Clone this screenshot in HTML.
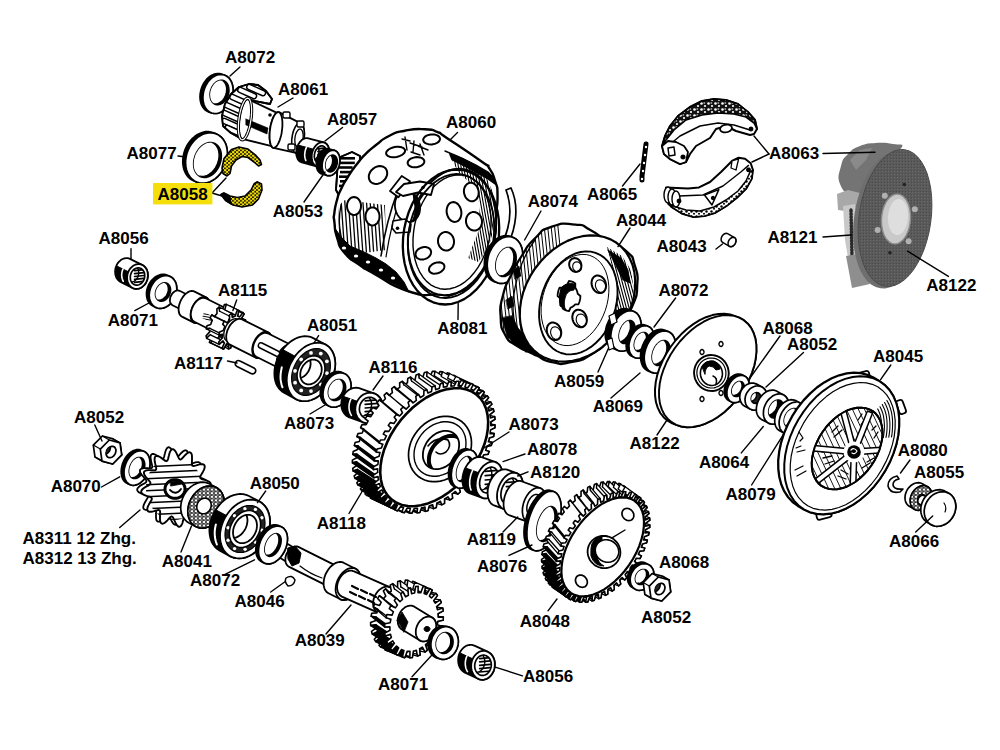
<!DOCTYPE html>
<html><head><meta charset="utf-8"><style>
html,body{margin:0;padding:0;background:#fff;width:1000px;height:750px;overflow:hidden}
svg{position:absolute;left:0;top:0;display:block}
text{font-family:"Liberation Sans",sans-serif;font-weight:bold;font-size:17px;fill:#000}
</style></head><body>
<svg width="1000" height="750" viewBox="0 0 1000 750" stroke-linejoin="round" stroke-linecap="round">
<defs>
<pattern id="lin" width="7" height="6" patternUnits="userSpaceOnUse"><rect width="7" height="6" fill="#111"/><circle cx="1.5" cy="1.5" r="1.3" fill="#fff"/><circle cx="5" cy="4" r="1.1" fill="#fff"/><rect x="3.5" y="0.5" width="1.6" height="1" fill="#fff"/></pattern>
<pattern id="lin2" width="5" height="5" patternUnits="userSpaceOnUse"><rect width="5" height="5" fill="#fff"/><circle cx="1.5" cy="1.5" r="1.2" fill="#000"/><circle cx="4" cy="3.8" r="1" fill="#000"/></pattern>
<pattern id="dotY" width="4" height="3.6" patternUnits="userSpaceOnUse"><rect width="4" height="3.6" fill="#1a1400"/><ellipse cx="1.1" cy="1" rx="1.45" ry="1.2" fill="#f0de0a"/><ellipse cx="3.1" cy="2.8" rx="1.35" ry="1.1" fill="#f0de0a"/></pattern>
<pattern id="dotR" width="4" height="3.6" patternUnits="userSpaceOnUse"><rect width="4" height="3.6" fill="#fff"/><circle cx="2" cy="1.8" r="1.3" fill="none" stroke="#000" stroke-width="0.9"/></pattern>
<pattern id="photoT" width="3" height="3" patternUnits="userSpaceOnUse"><rect width="3" height="3" fill="#5a5a5a"/><rect width="1" height="1" fill="#6a6a6a"/><rect x="2" y="2" width="1" height="1" fill="#4a4a4a"/></pattern>
</defs>
<rect width="1000" height="750" fill="#fff"/>
<path d="M200 96.2 L200.2 93.7 L200.7 91.1 L201.4 88.6 L202.3 86.1 L203.4 83.8 L204.8 81.7 L206.3 79.7 L208 77.9 L209.8 76.5 L211.7 75.3 L213.6 74.4 L215.6 73.8 L217.5 73.5 L219.5 73.6 L221.3 74.1 L224.2 75 L225.9 75.7 L227.5 76.8 L229 78.1 L230.2 79.8 L231.3 81.6 L232.1 83.7 L232.7 86 L233 88.4 L233.1 90.9 L232.9 93.4 L232.5 96 L231.8 98.5 L230.9 100.9 L229.7 103.3 L228.4 105.4 L226.9 107.4 L225.2 109.1 L223.4 110.6 L221.5 111.8 L219.5 112.7 L217.6 113.3 L215.6 113.5 L213.7 113.4 L211.8 113 L209 112.1 L207.2 111.3 L205.6 110.3 L204.2 108.9 L202.9 107.3 L201.8 105.4 L201 103.4 L200.4 101.1 L200.1 98.7Z" fill="#000" stroke="#000" stroke-width="1.7" />
<path d="M224.2 75 L225.9 75.7 L227.5 76.8 L229 78.1 L230.2 79.8 L231.3 81.6 L232.1 83.7 L232.7 86 L233 88.4 L233.1 90.9 L232.9 93.4 L232.5 96 L231.8 98.5 L230.9 100.9 L229.7 103.3 L228.4 105.4 L226.9 107.4 L225.2 109.1 L223.4 110.6 L221.5 111.8 L219.5 112.7 L217.6 113.3 L215.6 113.5 L213.7 113.4 L211.8 113 L210.1 112.3 L208.5 111.2 L207 109.9 L205.8 108.2 L204.7 106.4 L203.9 104.3 L203.3 102 L203 99.6 L202.9 97.1 L203.1 94.6 L203.5 92 L204.2 89.5 L205.1 87.1 L206.3 84.7 L207.6 82.6 L209.1 80.6 L210.8 78.9 L212.6 77.4 L214.5 76.2 L216.5 75.3 L218.4 74.7 L220.4 74.5 L222.3 74.6Z" fill="#fff" stroke="#000" stroke-width="1.7" />
<clipPath id="c1"><path d="M223.4 80.6 L224.4 81.1 L225.4 81.7 L226.3 82.6 L227.1 83.6 L227.8 84.8 L228.3 86.1 L228.6 87.5 L228.8 89 L228.9 90.5 L228.8 92.1 L228.5 93.7 L228.1 95.3 L227.5 96.8 L226.8 98.3 L225.9 99.6 L225 100.9 L223.9 101.9 L222.8 102.9 L221.6 103.6 L220.4 104.2 L219.2 104.5 L218 104.7 L216.8 104.6 L215.6 104.4 L214.6 103.9 L213.6 103.3 L212.7 102.4 L211.9 101.4 L211.2 100.2 L210.7 98.9 L210.4 97.5 L210.2 96 L210.1 94.5 L210.2 92.9 L210.5 91.3 L210.9 89.7 L211.5 88.2 L212.2 86.7 L213.1 85.4 L214 84.1 L215.1 83.1 L216.2 82.1 L217.4 81.4 L218.6 80.8 L219.8 80.5 L221 80.3 L222.2 80.4Z"/></clipPath>
<path d="M223.4 80.6 L224.4 81.1 L225.4 81.7 L226.3 82.6 L227.1 83.6 L227.8 84.8 L228.3 86.1 L228.6 87.5 L228.8 89 L228.9 90.5 L228.8 92.1 L228.5 93.7 L228.1 95.3 L227.5 96.8 L226.8 98.3 L225.9 99.6 L225 100.9 L223.9 101.9 L222.8 102.9 L221.6 103.6 L220.4 104.2 L219.2 104.5 L218 104.7 L216.8 104.6 L215.6 104.4 L214.6 103.9 L213.6 103.3 L212.7 102.4 L211.9 101.4 L211.2 100.2 L210.7 98.9 L210.4 97.5 L210.2 96 L210.1 94.5 L210.2 92.9 L210.5 91.3 L210.9 89.7 L211.5 88.2 L212.2 86.7 L213.1 85.4 L214 84.1 L215.1 83.1 L216.2 82.1 L217.4 81.4 L218.6 80.8 L219.8 80.5 L221 80.3 L222.2 80.4Z" fill="#000" stroke="#000" stroke-width="1.7" />
<g clip-path="url(#c1)"><path d="M221.1 79.9 L222.2 80.3 L223.2 81 L224.1 81.8 L224.8 82.9 L225.5 84 L226 85.3 L226.4 86.7 L226.6 88.2 L226.6 89.8 L226.5 91.4 L226.2 93 L225.8 94.5 L225.2 96.1 L224.5 97.5 L223.6 98.9 L222.7 100.1 L221.7 101.2 L220.5 102.1 L219.4 102.9 L218.2 103.4 L216.9 103.8 L215.7 104 L214.5 103.9 L213.4 103.6 L212.3 103.2 L211.3 102.5 L210.4 101.7 L209.6 100.7 L208.9 99.5 L208.4 98.2 L208.1 96.8 L207.9 95.3 L207.8 93.7 L207.9 92.1 L208.2 90.6 L208.7 89 L209.2 87.4 L209.9 86 L210.8 84.6 L211.7 83.4 L212.8 82.3 L213.9 81.4 L215.1 80.6 L216.3 80.1 L217.5 79.7 L218.7 79.6 L219.9 79.6Z" fill="#fff" stroke="#000" stroke-width="1.36" /></g>
<path d="M222 116 L225 104 L231 94 L239 87 L249 84 L258 85 L266 91 L272 99 L270 104 L250 100 L247 137 L240 138 L231 133 L223 126Z" fill="#fff" stroke="#000" stroke-width="1.8" />
<clipPath id="pc1"><path d="M222 116 L225 104 L231 94 L239 87 L249 84 L258 85 L266 91 L272 99 L270 104 L250 100 L247 137 L240 138 L231 133 L223 126Z"/></clipPath><g clip-path="url(#pc1)"><rect x="224" y="101.4" width="20" height="5.2" rx="2.5" fill="#fff" stroke="#000" stroke-width="1.5" transform="rotate(24 224 104)"/><rect x="222" y="109.4" width="20" height="5.2" rx="2.5" fill="#fff" stroke="#000" stroke-width="1.5" transform="rotate(24 222 112)"/><rect x="222" y="117.4" width="20" height="5.2" rx="2.5" fill="#fff" stroke="#000" stroke-width="1.5" transform="rotate(24 222 120)"/><rect x="225" y="124.4" width="20" height="5.2" rx="2.5" fill="#fff" stroke="#000" stroke-width="1.5" transform="rotate(24 225 127)"/><rect x="230" y="93.4" width="20" height="5.2" rx="2.5" fill="#fff" stroke="#000" stroke-width="1.5" transform="rotate(24 230 96)"/><rect x="238" y="86.4" width="20" height="5.2" rx="2.5" fill="#fff" stroke="#000" stroke-width="1.5" transform="rotate(24 238 89)"/><rect x="247" y="83.4" width="20" height="5.2" rx="2.5" fill="#fff" stroke="#000" stroke-width="1.5" transform="rotate(24 247 86)"/></g>
<path d="M222 116 L225 104 L231 94 L239 87 L249 84 L258 85 L266 91 L272 99 L270 104 L250 100 L247 137 L240 138 L231 133 L223 126Z" fill="none" stroke="#000" stroke-width="1.8" />
<path d="M238.9 128.2 L238.9 125.9 L239 123.4 L239.2 120.8 L239.6 118.2 L240 115.7 L240.5 113.1 L241 110.7 L241.7 108.4 L242.4 106.3 L243.1 104.5 L243.9 102.8 L244.7 101.5 L245.5 100.4 L246.3 99.7 L247 99.3 L247.8 99.2 L248.5 99.5 L276 112.4 L276.6 112.9 L277.1 113.7 L277.5 114.8 L277.9 116.1 L278.2 117.6 L278.4 119.3 L278.5 121.2 L278.5 123.2 L278.4 125.3 L278.2 127.5 L278 129.7 L277.6 131.9 L277.2 134 L276.7 136.1 L276.1 138 L275.5 139.8 L274.8 141.4 L274.1 142.8 L273.4 143.9 L272.7 144.8 L272 145.4 L271.3 145.8 L270.6 145.8 L242.2 138.8 L241.5 138.5 L240.9 137.9 L240.3 137 L239.9 135.8 L239.5 134.2 L239.2 132.5 L239 130.4Z" fill="#fff" stroke="#000" stroke-width="1.8" />
<path d="M246 119 L268 128 L267 134 L246 125Z" fill="#000" stroke="#000" stroke-width="0.6" />
<path d="M247.9 98.2 L248.7 98.5 L249.4 99.1 L250 100.1 L250.5 101.4 L250.9 103 L251.3 104.9 L251.5 107 L251.6 109.3 L251.6 111.8 L251.5 114.4 L251.3 117.1 L250.9 119.8 L250.5 122.5 L250 125.2 L249.4 127.7 L248.7 130.1 L247.9 132.3 L247.1 134.3 L246.3 136 L245.4 137.4 L244.6 138.5 L243.7 139.3 L242.9 139.7 L242.1 139.8 L241.3 139.5 L240.6 138.9 L240 137.9 L239.5 136.6 L239.1 135 L238.7 133.1 L238.5 131 L238.4 128.7 L238.4 126.2 L238.5 123.6 L238.7 120.9 L239.1 118.2 L239.5 115.5 L240 112.8 L240.6 110.3 L241.3 107.9 L242.1 105.7 L242.9 103.7 L243.7 102 L244.6 100.6 L245.4 99.5 L246.3 98.7 L247.1 98.3Z" fill="none" stroke="#000" stroke-width="3.2" />
<path d="M247.9 98.2 L248.7 98.5 L249.4 99.1 L250 100.1 L250.5 101.4 L250.9 103 L251.3 104.9 L251.5 107 L251.6 109.3 L251.6 111.8 L251.5 114.4 L251.3 117.1 L250.9 119.8 L250.5 122.5 L250 125.2 L249.4 127.7 L248.7 130.1 L247.9 132.3 L247.1 134.3 L246.3 136 L245.4 137.4 L244.6 138.5 L243.7 139.3 L242.9 139.7 L242.1 139.8 L241.3 139.5 L240.6 138.9 L240 137.9 L239.5 136.6 L239.1 135 L238.7 133.1 L238.5 131 L238.4 128.7 L238.4 126.2 L238.5 123.6 L238.7 120.9 L239.1 118.2 L239.5 115.5 L240 112.8 L240.6 110.3 L241.3 107.9 L242.1 105.7 L242.9 103.7 L243.7 102 L244.6 100.6 L245.4 99.5 L246.3 98.7 L247.1 98.3Z" fill="none" stroke="#fff" stroke-width="1.2" />
<circle cx="270" cy="115" r="1.8" fill="#000"/>
<path d="M269.6 136 L269.6 133.8 L269.8 131.5 L270.1 129.2 L270.4 126.8 L270.9 124.6 L271.5 122.4 L272.1 120.4 L272.8 118.5 L273.6 116.8 L274.4 115.4 L275.2 114.1 L276 113.2 L276.9 112.6 L277.7 112.2 L278.5 112.2 L279.3 112.4 L300.8 123.4 L301.6 123.9 L302.2 124.6 L302.8 125.6 L303.3 126.7 L303.7 128.1 L304 129.6 L304.2 131.3 L304.3 133.1 L304.3 135 L304.2 136.9 L303.9 138.8 L303.6 140.8 L303.2 142.7 L302.7 144.5 L302.1 146.2 L301.4 147.7 L300.7 149.1 L300 150.3 L299.2 151.3 L298.3 152 L297.5 152.6 L296.7 152.8 L295.9 152.9 L273.5 147.8 L272.7 147.6 L272 147 L271.4 146.1 L270.9 145 L270.4 143.6 L270 142 L269.8 140.2 L269.6 138.2Z" fill="#fff" stroke="#000" stroke-width="1.8" />
<path d="M278.5 112.2 L279.3 112.4 L280 113 L280.6 113.9 L281.1 115 L281.6 116.4 L282 118 L282.2 119.8 L282.4 121.8 L282.4 124 L282.4 126.2 L282.2 128.5 L281.9 130.8 L281.6 133.2 L281.1 135.4 L280.5 137.6 L279.9 139.6 L279.2 141.5 L278.4 143.2 L277.6 144.6 L276.8 145.9 L276 146.8 L275.1 147.4 L274.3 147.8 L273.5 147.8 L272.7 147.6 L272 147 L271.4 146.1 L270.9 145 L270.4 143.6 L270 142 L269.8 140.2 L269.6 138.2 L269.6 136 L269.6 133.8 L269.8 131.5 L270.1 129.2 L270.4 126.8 L270.9 124.6 L271.5 122.4 L272.1 120.4 L272.8 118.5 L273.6 116.8 L274.4 115.4 L275.2 114.1 L276 113.2 L276.9 112.6 L277.7 112.2Z" fill="#fff" stroke="#000" stroke-width="1.8" />
<path d="M300.1 123.1 L300.8 123.4 L301.6 123.9 L302.2 124.6 L302.8 125.6 L303.3 126.7 L303.7 128.1 L304 129.6 L304.2 131.3 L304.3 133.1 L304.3 135 L304.2 136.9 L303.9 138.8 L303.6 140.8 L303.2 142.7 L302.7 144.5 L302.1 146.2 L301.4 147.7 L300.7 149.1 L300 150.3 L299.2 151.3 L298.3 152 L297.5 152.6 L296.7 152.8 L295.9 152.9 L295.2 152.6 L294.4 152.1 L293.8 151.4 L293.2 150.4 L292.7 149.3 L292.3 147.9 L292 146.4 L291.8 144.7 L291.7 142.9 L291.7 141 L291.8 139.1 L292.1 137.2 L292.4 135.2 L292.8 133.3 L293.3 131.5 L293.9 129.8 L294.6 128.3 L295.3 126.9 L296 125.7 L296.8 124.7 L297.7 124 L298.5 123.4 L299.3 123.2Z" fill="#fff" stroke="#000" stroke-width="1.6" />
<path d="M300.3 129.1 L300.8 129.2 L301.2 129.5 L301.7 130 L302.1 130.6 L302.4 131.3 L302.7 132.1 L302.9 133 L303.1 134 L303.1 135.1 L303.2 136.2 L303.1 137.4 L303 138.6 L302.8 139.7 L302.5 140.8 L302.2 141.9 L301.8 142.9 L301.4 143.9 L300.9 144.7 L300.4 145.4 L299.9 146 L299.4 146.4 L298.8 146.8 L298.3 146.9 L297.7 146.9 L297.2 146.8 L296.8 146.5 L296.3 146 L295.9 145.4 L295.6 144.7 L295.3 143.9 L295.1 143 L294.9 142 L294.9 140.9 L294.8 139.8 L294.9 138.6 L295 137.4 L295.2 136.3 L295.5 135.2 L295.8 134.1 L296.2 133.1 L296.6 132.1 L297.1 131.3 L297.6 130.6 L298.1 130 L298.6 129.6 L299.2 129.2 L299.7 129.1Z" fill="#fff" stroke="#000" stroke-width="1.3" />
<rect x="283" y="112" width="7" height="6" rx="1.5" fill="#fff" stroke="#000" stroke-width="1.4"/>
<rect x="297" y="121" width="7" height="6" rx="1.5" fill="#fff" stroke="#000" stroke-width="1.4"/>
<rect x="288" y="144" width="7" height="6" rx="1.5" fill="#fff" stroke="#000" stroke-width="1.4"/>
<rect x="301" y="146" width="7" height="6" rx="1.5" fill="#fff" stroke="#000" stroke-width="1.4"/>
<path d="M296.2 152.9 L296.3 151.4 L296.5 149.8 L296.8 148.2 L297.3 146.6 L298 145.1 L298.7 143.7 L299.6 142.4 L300.5 141.3 L301.5 140.3 L302.6 139.4 L303.7 138.8 L304.9 138.4 L306 138.1 L307.2 138.1 L308.3 138.3 L323.7 142.4 L324.8 142.8 L325.8 143.4 L326.6 144.2 L327.4 145.1 L328.1 146.3 L328.6 147.5 L329 148.9 L329.2 150.4 L329.3 151.9 L329.3 153.5 L329.1 155.1 L328.7 156.7 L328.2 158.3 L327.6 159.8 L326.8 161.2 L326 162.4 L325 163.6 L324 164.6 L322.9 165.4 L321.8 166.1 L320.7 166.5 L319.5 166.7 L318.4 166.8 L317.3 166.6 L301.8 162.4 L300.8 162 L299.8 161.5 L298.9 160.7 L298.1 159.7 L297.5 158.6 L297 157.3 L296.6 156 L296.3 154.5Z" fill="#fff" stroke="#000" stroke-width="1.8" />
<clipPath id="pc2"><path d="M296.2 152.9 L296.3 151.4 L296.5 149.8 L296.8 148.2 L297.3 146.6 L298 145.1 L298.7 143.7 L299.6 142.4 L300.5 141.3 L301.5 140.3 L302.6 139.4 L303.7 138.8 L304.9 138.4 L306 138.1 L307.2 138.1 L308.3 138.3 L323.7 142.4 L324.8 142.8 L325.8 143.4 L326.6 144.2 L327.4 145.1 L328.1 146.3 L328.6 147.5 L329 148.9 L329.2 150.4 L329.3 151.9 L329.3 153.5 L329.1 155.1 L328.7 156.7 L328.2 158.3 L327.6 159.8 L326.8 161.2 L326 162.4 L325 163.6 L324 164.6 L322.9 165.4 L321.8 166.1 L320.7 166.5 L319.5 166.7 L318.4 166.8 L317.3 166.6 L301.8 162.4 L300.8 162 L299.8 161.5 L298.9 160.7 L298.1 159.7 L297.5 158.6 L297 157.3 L296.6 156 L296.3 154.5Z"/></clipPath><g clip-path="url(#pc2)"><path d="M316.6 166.3 L315.9 166 L315.2 165.6 L314.7 165.1 L314.1 164.5 L313.6 163.9 L313.1 163.1 L312.7 162.3 L312.4 161.5 L312.1 160.6 L311.9 159.6 L311.8 158.6 L311.7 157.6 L311.7 156.6 L311.7 155.5 L311.9 154.4 L312 153.4 L312.3 152.3 L312.6 151.3 L313 150.2 L313.4 149.2 L298 145.1 L297.5 146.1 L297.1 147.1 L296.8 148.2 L296.6 149.2 L296.4 150.3 L296.3 151.4 L296.2 152.4 L296.2 153.5 L296.3 154.5 L296.5 155.5 L296.7 156.4 L297 157.3 L297.3 158.2 L297.7 159 L298.1 159.7 L298.6 160.4 L299.2 161 L299.8 161.5 L300.4 161.9 L301.1 162.2Z" fill="#000" stroke="#000" stroke-width="1" /></g>
<clipPath id="pc3"><path d="M296.2 152.9 L296.3 151.4 L296.5 149.8 L296.8 148.2 L297.3 146.6 L298 145.1 L298.7 143.7 L299.6 142.4 L300.5 141.3 L301.5 140.3 L302.6 139.4 L303.7 138.8 L304.9 138.4 L306 138.1 L307.2 138.1 L308.3 138.3 L323.7 142.4 L324.8 142.8 L325.8 143.4 L326.6 144.2 L327.4 145.1 L328.1 146.3 L328.6 147.5 L329 148.9 L329.2 150.4 L329.3 151.9 L329.3 153.5 L329.1 155.1 L328.7 156.7 L328.2 158.3 L327.6 159.8 L326.8 161.2 L326 162.4 L325 163.6 L324 164.6 L322.9 165.4 L321.8 166.1 L320.7 166.5 L319.5 166.7 L318.4 166.8 L317.3 166.6 L301.8 162.4 L300.8 162 L299.8 161.5 L298.9 160.7 L298.1 159.7 L297.5 158.6 L297 157.3 L296.6 156 L296.3 154.5Z"/></clipPath><g clip-path="url(#pc3)"><path d="M305.8 160.5 L305.5 159.6 L305.2 158.7 L305 157.8 L304.8 156.8 L304.7 155.7 L304.7 154.7 L304.8 153.6 L304.9 152.6 L305.1 151.5 L305.3 150.4 L305.6 149.4 L306 148.4 L306.5 147.4" fill="none" stroke="#fff" stroke-width="1.6" /></g>
<path d="M323.7 142.4 L324.8 142.8 L325.8 143.4 L326.6 144.2 L327.4 145.1 L328.1 146.3 L328.6 147.5 L329 148.9 L329.2 150.4 L329.3 151.9 L329.3 153.5 L329.1 155.1 L328.7 156.7 L328.2 158.3 L327.6 159.8 L326.8 161.2 L326 162.4 L325 163.6 L324 164.6 L322.9 165.4 L321.8 166.1 L320.7 166.5 L319.5 166.7 L318.4 166.8 L317.3 166.6 L316.2 166.2 L315.2 165.6 L314.4 164.8 L313.6 163.9 L312.9 162.7 L312.4 161.5 L312 160.1 L311.8 158.6 L311.7 157.1 L311.7 155.5 L311.9 153.9 L312.3 152.3 L312.8 150.7 L313.4 149.2 L314.2 147.8 L315 146.6 L316 145.4 L317 144.4 L318.1 143.6 L319.2 142.9 L320.3 142.5 L321.5 142.3 L322.6 142.2Z" fill="#fff" stroke="#000" stroke-width="1.8" />
<path d="M322.8 146 L323.5 146.3 L324.2 146.7 L324.8 147.3 L325.3 148 L325.8 148.7 L326.2 149.6 L326.4 150.6 L326.6 151.6 L326.7 152.7 L326.6 153.8 L326.5 154.9 L326.2 156 L325.9 157.1 L325.5 158.2 L324.9 159.2 L324.3 160.1 L323.7 160.9 L323 161.6 L322.2 162.1 L321.4 162.6 L320.6 162.9 L319.8 163.1 L319 163.1 L318.2 163 L317.5 162.7 L316.8 162.3 L316.2 161.7 L315.7 161 L315.2 160.3 L314.8 159.4 L314.6 158.4 L314.4 157.4 L314.3 156.3 L314.4 155.2 L314.5 154.1 L314.8 153 L315.1 151.9 L315.5 150.8 L316.1 149.8 L316.7 148.9 L317.3 148.1 L318 147.4 L318.8 146.9 L319.6 146.4 L320.4 146.1 L321.2 145.9 L322 145.9Z" fill="#fff" stroke="#000" stroke-width="1.7" />
<clipPath id="pc4"><path d="M322.8 146 L323.5 146.3 L324.2 146.7 L324.8 147.3 L325.3 148 L325.8 148.7 L326.2 149.6 L326.4 150.6 L326.6 151.6 L326.7 152.7 L326.6 153.8 L326.5 154.9 L326.2 156 L325.9 157.1 L325.5 158.2 L324.9 159.2 L324.3 160.1 L323.7 160.9 L323 161.6 L322.2 162.1 L321.4 162.6 L320.6 162.9 L319.8 163.1 L319 163.1 L318.2 163 L317.5 162.7 L316.8 162.3 L316.2 161.7 L315.7 161 L315.2 160.3 L314.8 159.4 L314.6 158.4 L314.4 157.4 L314.3 156.3 L314.4 155.2 L314.5 154.1 L314.8 153 L315.1 151.9 L315.5 150.8 L316.1 149.8 L316.7 148.9 L317.3 148.1 L318 147.4 L318.8 146.9 L319.6 146.4 L320.4 146.1 L321.2 145.9 L322 145.9Z"/></clipPath><g clip-path="url(#pc4)"><path d="M318 148.8L325.7 147.8M318 151.6L325.7 150.6M318 154.5L325.7 153.5M318 157.4L325.7 156.4M318 160.2L325.7 159.2" stroke="#000" stroke-width="1.7" fill="none"/></g>
<clipPath id="pc5"><path d="M322.8 146 L323.5 146.3 L324.2 146.7 L324.8 147.3 L325.3 148 L325.8 148.7 L326.2 149.6 L326.4 150.6 L326.6 151.6 L326.7 152.7 L326.6 153.8 L326.5 154.9 L326.2 156 L325.9 157.1 L325.5 158.2 L324.9 159.2 L324.3 160.1 L323.7 160.9 L323 161.6 L322.2 162.1 L321.4 162.6 L320.6 162.9 L319.8 163.1 L319 163.1 L318.2 163 L317.5 162.7 L316.8 162.3 L316.2 161.7 L315.7 161 L315.2 160.3 L314.8 159.4 L314.6 158.4 L314.4 157.4 L314.3 156.3 L314.4 155.2 L314.5 154.1 L314.8 153 L315.1 151.9 L315.5 150.8 L316.1 149.8 L316.7 148.9 L317.3 148.1 L318 147.4 L318.8 146.9 L319.6 146.4 L320.4 146.1 L321.2 145.9 L322 145.9Z"/></clipPath><g clip-path="url(#pc5)"><path d="M315 144 L315.8 144.3 L316.4 144.7 L317.1 145.2 L317.6 145.9 L318.1 146.7 L318.4 147.5 L318.7 148.5 L318.9 149.5 L318.9 150.6 L318.9 151.7 L318.8 152.9 L318.5 154 L318.2 155.1 L317.7 156.1 L317.2 157.1 L316.6 158 L316 158.8 L315.2 159.5 L314.5 160.1 L313.7 160.5 L312.9 160.8 L312.1 161 L311.3 161 L310.5 160.9 L309.8 160.6 L309.1 160.2 L308.5 159.6 L307.9 159 L307.5 158.2 L307.1 157.3 L306.8 156.4 L306.7 155.3 L306.6 154.2 L306.6 153.1 L306.8 152 L307 150.9 L307.4 149.8 L307.8 148.8 L308.3 147.8 L308.9 146.9 L309.6 146.1 L310.3 145.4 L311.1 144.8 L311.9 144.3 L312.7 144 L313.5 143.9 L314.3 143.8Z" fill="none" stroke="#000" stroke-width="1.4" /></g>
<path d="M338 158 L352 152 L360 156 L360 170 L354 182 L346 194 L340 197 L336 190 L337 175Z" fill="#fff" stroke="#000" stroke-width="1.8" />
<clipPath id="pc6"><path d="M338 158 L352 152 L360 156 L360 170 L354 182 L346 194 L340 197 L336 190 L337 175Z"/></clipPath><g clip-path="url(#pc6)"><rect x="339" y="157.0" width="16.0" height="2.6" fill="#000"/><rect x="340" y="161.6" width="14.8" height="2.6" fill="#000"/><rect x="339" y="166.2" width="13.6" height="2.6" fill="#000"/><rect x="340" y="170.8" width="12.4" height="2.6" fill="#000"/><rect x="339" y="175.4" width="11.2" height="2.6" fill="#000"/><rect x="340" y="180.0" width="10.0" height="2.6" fill="#000"/><rect x="339" y="184.6" width="8.8" height="2.6" fill="#000"/><rect x="340" y="189.2" width="7.6" height="2.6" fill="#000"/></g>
<path d="M338 158 L352 152 L360 156 L360 170 L354 182 L346 194 L340 197 L336 190 L337 175Z" fill="none" stroke="#000" stroke-width="1.8" />
<path d="M316.3 164.2 L316.4 162.6 L316.6 160.9 L317 159.2 L317.5 157.6 L318.1 156.1 L318.9 154.6 L319.8 153.3 L320.7 152.1 L321.8 151 L322.9 150.1 L324 149.5 L325.2 149 L326.3 148.7 L327.5 148.7 L328.6 148.9 L334.4 150.4 L335.4 150.8 L336.4 151.4 L337.3 152.2 L338 153.2 L338.7 154.4 L339.2 155.7 L339.6 157.1 L339.8 158.6 L339.9 160.2 L339.8 161.9 L339.6 163.5 L339.2 165.2 L338.7 166.8 L338.1 168.4 L337.3 169.8 L336.4 171.2 L335.5 172.4 L334.4 173.4 L333.3 174.3 L332.2 175 L331 175.4 L329.9 175.7 L328.7 175.7 L327.6 175.6 L321.8 174 L320.8 173.6 L319.8 173 L319 172.2 L318.2 171.2 L317.5 170.1 L317 168.8 L316.6 167.3 L316.4 165.8Z" fill="#000" stroke="#000" stroke-width="1.7" />
<path d="M334.4 150.4 L335.4 150.8 L336.4 151.4 L337.3 152.2 L338 153.2 L338.7 154.4 L339.2 155.7 L339.6 157.1 L339.8 158.6 L339.9 160.2 L339.8 161.9 L339.6 163.5 L339.2 165.2 L338.7 166.8 L338.1 168.4 L337.3 169.8 L336.4 171.2 L335.5 172.4 L334.4 173.4 L333.3 174.3 L332.2 175 L331 175.4 L329.9 175.7 L328.7 175.7 L327.6 175.6 L326.6 175.2 L325.6 174.6 L324.7 173.8 L324 172.8 L323.3 171.6 L322.8 170.3 L322.4 168.9 L322.2 167.4 L322.1 165.8 L322.2 164.1 L322.4 162.5 L322.8 160.8 L323.3 159.2 L323.9 157.6 L324.7 156.2 L325.6 154.8 L326.5 153.6 L327.6 152.6 L328.7 151.7 L329.8 151 L331 150.6 L332.1 150.3 L333.3 150.3Z" fill="#fff" stroke="#000" stroke-width="1.7" />
<clipPath id="c2"><path d="M333.7 155.3 L334.4 155.5 L335 155.9 L335.6 156.5 L336.1 157.1 L336.5 157.9 L336.8 158.7 L337.1 159.6 L337.2 160.6 L337.3 161.7 L337.2 162.8 L337.1 163.8 L336.8 164.9 L336.5 166 L336.1 167 L335.6 168 L335 168.8 L334.4 169.6 L333.7 170.3 L333 170.9 L332.3 171.3 L331.5 171.6 L330.8 171.8 L330 171.8 L329.3 171.7 L328.6 171.5 L328 171.1 L327.4 170.5 L326.9 169.9 L326.5 169.1 L326.2 168.3 L325.9 167.4 L325.8 166.4 L325.7 165.3 L325.8 164.2 L325.9 163.2 L326.2 162.1 L326.5 161 L326.9 160 L327.4 159 L328 158.2 L328.6 157.4 L329.3 156.7 L330 156.1 L330.7 155.7 L331.5 155.4 L332.2 155.2 L333 155.2Z"/></clipPath>
<path d="M333.7 155.3 L334.4 155.5 L335 155.9 L335.6 156.5 L336.1 157.1 L336.5 157.9 L336.8 158.7 L337.1 159.6 L337.2 160.6 L337.3 161.7 L337.2 162.8 L337.1 163.8 L336.8 164.9 L336.5 166 L336.1 167 L335.6 168 L335 168.8 L334.4 169.6 L333.7 170.3 L333 170.9 L332.3 171.3 L331.5 171.6 L330.8 171.8 L330 171.8 L329.3 171.7 L328.6 171.5 L328 171.1 L327.4 170.5 L326.9 169.9 L326.5 169.1 L326.2 168.3 L325.9 167.4 L325.8 166.4 L325.7 165.3 L325.8 164.2 L325.9 163.2 L326.2 162.1 L326.5 161 L326.9 160 L327.4 159 L328 158.2 L328.6 157.4 L329.3 156.7 L330 156.1 L330.7 155.7 L331.5 155.4 L332.2 155.2 L333 155.2Z" fill="#000" stroke="#000" stroke-width="1.7" />
<g clip-path="url(#c2)"><path d="M329.1 154 L329.7 154.3 L330.4 154.7 L330.9 155.2 L331.4 155.9 L331.8 156.6 L332.2 157.5 L332.4 158.4 L332.6 159.4 L332.6 160.4 L332.6 161.5 L332.4 162.6 L332.2 163.7 L331.8 164.7 L331.4 165.8 L330.9 166.7 L330.4 167.6 L329.7 168.4 L329.1 169.1 L328.4 169.6 L327.6 170.1 L326.9 170.4 L326.1 170.6 L325.4 170.6 L324.7 170.5 L324 170.2 L323.4 169.8 L322.8 169.3 L322.3 168.7 L321.9 167.9 L321.6 167.1 L321.3 166.1 L321.2 165.1 L321.1 164.1 L321.2 163 L321.3 161.9 L321.6 160.8 L321.9 159.8 L322.3 158.8 L322.8 157.8 L323.4 156.9 L324 156.1 L324.7 155.4 L325.4 154.9 L326.1 154.4 L326.9 154.1 L327.6 154 L328.4 153.9Z" fill="#fff" stroke="#000" stroke-width="1.36" /></g>
<path d="M182.8 162.4 L182.9 159.2 L183.3 155.9 L184.1 152.6 L185.2 149.4 L186.6 146.3 L188.3 143.4 L190.3 140.7 L192.5 138.3 L194.9 136.3 L197.5 134.5 L200.2 133.2 L202.9 132.3 L205.6 131.7 L208.3 131.7 L211 132 L213.5 132.8 L216.2 133.9 L218.6 135.1 L220.7 136.7 L222.6 138.6 L224.2 140.9 L225.5 143.4 L226.5 146.3 L227.1 149.3 L227.4 152.4 L227.4 155.7 L226.9 159 L226.2 162.3 L225 165.5 L223.6 168.6 L221.9 171.5 L219.9 174.1 L217.7 176.5 L215.3 178.6 L212.7 180.3 L210.1 181.7 L207.3 182.6 L204.6 183.1 L201.9 183.2 L199.3 182.9 L196.8 182.1 L194 181 L191.6 179.8 L189.5 178.2 L187.6 176.3 L186 174 L184.7 171.4 L183.7 168.6 L183.1 165.6Z" fill="#000" stroke="#000" stroke-width="1.7" />
<path d="M216.2 133.9 L218.6 135.1 L220.7 136.7 L222.6 138.6 L224.2 140.9 L225.5 143.4 L226.5 146.3 L227.1 149.3 L227.4 152.4 L227.4 155.7 L226.9 159 L226.2 162.3 L225 165.5 L223.6 168.6 L221.9 171.5 L219.9 174.1 L217.7 176.5 L215.3 178.6 L212.7 180.3 L210.1 181.7 L207.3 182.6 L204.6 183.1 L201.9 183.2 L199.3 182.9 L196.8 182.1 L194.4 180.9 L192.3 179.3 L190.4 177.4 L188.8 175.1 L187.5 172.6 L186.5 169.7 L185.9 166.7 L185.6 163.6 L185.6 160.3 L186.1 157 L186.8 153.7 L188 150.5 L189.4 147.4 L191.1 144.5 L193.1 141.9 L195.3 139.5 L197.7 137.4 L200.3 135.7 L202.9 134.3 L205.7 133.4 L208.4 132.9 L211.1 132.8 L213.7 133.1Z" fill="#fff" stroke="#000" stroke-width="1.7" />
<clipPath id="c3"><path d="M214.2 143.3 L215.8 144.1 L217.1 145.1 L218.3 146.4 L219.4 148 L220.2 149.7 L220.8 151.6 L221.2 153.7 L221.3 155.9 L221.2 158.1 L220.9 160.4 L220.3 162.6 L219.6 164.9 L218.6 167 L217.4 169 L216.1 170.9 L214.6 172.6 L213 174 L211.3 175.2 L209.5 176.2 L207.7 176.9 L205.9 177.3 L204.1 177.4 L202.4 177.2 L200.8 176.7 L199.2 175.9 L197.9 174.9 L196.7 173.6 L195.6 172 L194.8 170.3 L194.2 168.4 L193.8 166.3 L193.7 164.1 L193.8 161.9 L194.1 159.6 L194.7 157.4 L195.4 155.1 L196.4 153 L197.6 151 L198.9 149.1 L200.4 147.4 L202 146 L203.7 144.8 L205.5 143.8 L207.3 143.1 L209.1 142.7 L210.9 142.6 L212.6 142.8Z"/></clipPath>
<path d="M214.2 143.3 L215.8 144.1 L217.1 145.1 L218.3 146.4 L219.4 148 L220.2 149.7 L220.8 151.6 L221.2 153.7 L221.3 155.9 L221.2 158.1 L220.9 160.4 L220.3 162.6 L219.6 164.9 L218.6 167 L217.4 169 L216.1 170.9 L214.6 172.6 L213 174 L211.3 175.2 L209.5 176.2 L207.7 176.9 L205.9 177.3 L204.1 177.4 L202.4 177.2 L200.8 176.7 L199.2 175.9 L197.9 174.9 L196.7 173.6 L195.6 172 L194.8 170.3 L194.2 168.4 L193.8 166.3 L193.7 164.1 L193.8 161.9 L194.1 159.6 L194.7 157.4 L195.4 155.1 L196.4 153 L197.6 151 L198.9 149.1 L200.4 147.4 L202 146 L203.7 144.8 L205.5 143.8 L207.3 143.1 L209.1 142.7 L210.9 142.6 L212.6 142.8Z" fill="#000" stroke="#000" stroke-width="1.7" />
<g clip-path="url(#c3)"><path d="M212 142.4 L213.5 143.2 L214.9 144.2 L216.1 145.5 L217.1 147.1 L218 148.8 L218.6 150.7 L218.9 152.8 L219.1 155 L219 157.2 L218.7 159.5 L218.1 161.8 L217.3 164 L216.3 166.1 L215.2 168.1 L213.8 170 L212.3 171.7 L210.7 173.1 L209 174.3 L207.3 175.3 L205.5 176 L203.7 176.4 L201.9 176.5 L200.2 176.3 L198.5 175.8 L197 175 L195.6 174 L194.4 172.7 L193.4 171.1 L192.6 169.4 L192 167.5 L191.6 165.4 L191.5 163.2 L191.6 161 L191.9 158.7 L192.4 156.5 L193.2 154.2 L194.2 152.1 L195.4 150.1 L196.7 148.2 L198.2 146.5 L199.8 145.1 L201.5 143.9 L203.3 142.9 L205.1 142.2 L206.9 141.8 L208.7 141.7 L210.4 141.9Z" fill="#fff" stroke="#000" stroke-width="1.36" /></g>
<path d="M222 168 L224 158.5 L231.5 149.5 L239 147 L248 149 L255.5 155 L260 160 L261.5 164.5 L258.5 166 L254 162 L248 157.5 L242 156.5 L236 160 L231.5 166 L230 173.5 L227 176 L223 173.5Z" fill="url(#dotY)" stroke="#000" stroke-width="1.6" />
<path d="M221 194.5 L225.5 200.5 L233 205 L242 207 L252.5 205 L258.5 199 L262 190 L261.5 184 L257 181.8 L254 184 L251 190 L245 196 L237.5 197.5 L230 196 L224 193Z" fill="url(#dotY)" stroke="#000" stroke-width="1.6" />
<path d="M221 194.5 L225.5 200.5 L231 204 L230 196 L224 193Z" fill="#000" stroke="#000" stroke-width="1" />
<path d="M334.3 213.3 C335.2 206 334.8 208 337 200 C339.2 192 337.4 196.9 341 189.3 C344.6 181.7 342.4 185.7 347.7 177.3 C353 168.9 351.2 171.5 357 164 C362.8 156.5 358.8 160.9 365 154.7 C371.2 148.5 367.7 151.5 375.7 145.3 C383.7 139.1 379.2 140.9 389 136 C398.8 131.1 393 132.9 405 130.7 C417 128.5 414.1 128.8 425 129.3 C435.9 129.8 430.2 129.2 437.6 132.2 C445 135.2 432.8 128.6 447.2 138.2 C461.6 147.8 466.8 151 480.8 161 C494.8 171 484.4 161.4 489.2 168.2 C494 175 492.4 172.5 495.2 181.4 C498 190.3 497.2 183.4 497.5 195 C497.8 206.6 497.1 201 496 216.3 C494.8 231.6 497.5 225 494.1 240.9 C490.7 256.9 493 250.3 485.8 264.2 C478.5 278.1 482.3 272.9 472.3 282.6 C462.3 292.3 467 289.3 455.8 293.3 C444.6 297.3 454.7 295.4 438.7 294.6 C422.7 293.8 429.3 298 407.7 291 C386.1 284 390.1 282.3 374 273.6 C357.9 264.9 369.1 271.7 359.3 264.8 C349.5 257.9 352 261.8 344.7 253 C337.4 244.2 340.7 248.7 337.3 238.4 C333.9 228.1 335.4 230.4 334.4 222 C333.4 213.6 333.4 220.6 334.3 213.3Z" fill="#fff" stroke="#000" stroke-width="2.4" />
<path d="M341 205 Q336 230 346 249 Q362 266 392 280" fill="none" stroke="#000" stroke-width="1.3" />
<clipPath id="pc7"><path d="M339 205 L345 200 L385 205 L386 250 L364 253 L345 246 L338 232Z"/></clipPath><g clip-path="url(#pc7)"><path d="M411.2 169.9L418.6 275.7M407.6 170.2L415 275.9M404 170.4L411.4 276.2M400.4 170.7L407.8 276.4M396.8 170.9L404.2 276.7M393.2 171.2L400.6 276.9M389.6 171.4L397 277.2M386 171.7L393.4 277.4M382.4 171.9L389.8 277.7M378.9 172.2L386.2 277.9M375.3 172.4L382.7 278.2M371.7 172.7L379.1 278.4M368.1 172.9L375.5 278.7M364.5 173.2L371.9 278.9M360.9 173.4L368.3 279.2M357.3 173.7L364.7 279.4M353.7 173.9L361.1 279.7M350.1 174.2L357.5 279.9M346.5 174.5L353.9 280.2M342.9 174.7L350.3 280.4M339.3 175L346.7 280.7M335.8 175.2L343.2 280.9M332.2 175.5L339.6 281.2M328.6 175.7L336 281.4M325 176L332.4 281.7M321.4 176.2L328.8 282M317.8 176.5L325.2 282.2M314.2 176.7L321.6 282.5M310.6 177L318 282.7M307 177.2L314.4 283" stroke="#000" stroke-width="1.3" fill="none"/></g>
<path d="M336 230 L340 246 L350 258 L362 267 L376 275 L390 282 L402 288 L409 292 L404 282 L396 272 L386 264 L376 258 L364 252 L350 246 L342 238Z" fill="#000" stroke="#000" stroke-width="1" />
<ellipse cx="344" cy="248" rx="2.2" ry="1.6" fill="#fff"/>
<ellipse cx="356" cy="256" rx="2.2" ry="1.6" fill="#fff"/>
<ellipse cx="368" cy="262" rx="2.2" ry="1.6" fill="#fff"/>
<ellipse cx="381" cy="270" rx="2.2" ry="1.6" fill="#fff"/>
<ellipse cx="393" cy="278" rx="2.2" ry="1.6" fill="#fff"/>
<path d="M405.1 150.3 L405 151.3 L404.7 152.3 L403.9 153.3 L402.9 154.3 L401.6 155.2 L400 155.9 L398.3 156.5 L396.5 156.9 L394.6 157.2 L392.8 157.2 L391.1 157 L389.5 156.7 L388.2 156.1 L387.2 155.4 L386.5 154.6 L386.1 153.7 L386.2 152.7 L386.5 151.7 L387.3 150.7 L388.3 149.7 L389.6 148.8 L391.2 148.1 L392.9 147.5 L394.7 147.1 L396.6 146.8 L398.4 146.8 L400.1 147 L401.7 147.3 L403 147.9 L404 148.6 L404.7 149.4Z" fill="#fff" stroke="#000" stroke-width="2" />
<path d="M440 138.7 L439.9 139.7 L439.5 140.6 L438.8 141.6 L437.8 142.4 L436.6 143.1 L435.2 143.7 L433.7 144.1 L432 144.4 L430.4 144.4 L428.8 144.3 L427.3 143.9 L426 143.4 L424.9 142.8 L424 142 L423.5 141.1 L423.2 140.1 L423.3 139.1 L423.7 138.2 L424.4 137.2 L425.4 136.4 L426.6 135.7 L428 135.1 L429.5 134.7 L431.2 134.4 L432.8 134.4 L434.4 134.5 L435.9 134.9 L437.2 135.4 L438.3 136 L439.2 136.8 L439.7 137.7Z" fill="#fff" stroke="#000" stroke-width="2" />
<path d="M424.3 161 L424.3 162 L424 163 L423.3 164 L422.4 164.9 L421.2 165.7 L419.8 166.3 L418.3 166.8 L416.7 167.2 L415.1 167.3 L413.5 167.2 L412 167 L410.6 166.5 L409.5 165.9 L408.6 165.2 L408 164.3 L407.7 163.4 L407.7 162.4 L408 161.4 L408.7 160.4 L409.6 159.5 L410.8 158.7 L412.2 158.1 L413.7 157.6 L415.3 157.2 L416.9 157.1 L418.5 157.2 L420 157.4 L421.4 157.9 L422.5 158.5 L423.4 159.2 L424 160.1Z" fill="#fff" stroke="#000" stroke-width="2" />
<path d="M385.7 168.6 L386.5 169.9 L387 171.4 L387.2 173.1 L387.1 174.8 L386.5 176.5 L385.7 178.2 L384.5 179.8 L383.1 181.1 L381.5 182.3 L379.8 183.1 L378 183.7 L376.2 183.9 L374.5 183.7 L372.9 183.3 L371.5 182.5 L370.3 181.4 L369.5 180.1 L369 178.6 L368.8 176.9 L368.9 175.2 L369.5 173.5 L370.3 171.8 L371.5 170.2 L372.9 168.9 L374.5 167.7 L376.2 166.9 L378 166.3 L379.8 166.1 L381.5 166.3 L383.1 166.7 L384.5 167.5Z" fill="#fff" stroke="#000" stroke-width="2" />
<path d="M361 206 L360.9 207.8 L360.5 209.4 L359.8 211 L358.9 212.4 L357.9 213.5 L356.7 214.3 L355.4 214.8 L354 215 L352.6 214.8 L351.3 214.3 L350.1 213.5 L349.1 212.4 L348.2 211 L347.5 209.4 L347.1 207.8 L347 206 L347.1 204.2 L347.5 202.6 L348.2 201 L349.1 199.6 L350.1 198.5 L351.3 197.7 L352.6 197.2 L354 197 L355.4 197.2 L356.7 197.7 L357.9 198.5 L358.9 199.6 L359.8 201 L360.5 202.6 L360.9 204.2Z" fill="#fff" stroke="#000" stroke-width="2" />
<path d="M379.5 216.4 L379.4 218.2 L379 219.8 L378.3 221.4 L377.4 222.8 L376.4 223.9 L375.2 224.7 L373.9 225.2 L372.5 225.4 L371.1 225.2 L369.8 224.7 L368.6 223.9 L367.6 222.8 L366.7 221.4 L366 219.8 L365.6 218.2 L365.5 216.4 L365.6 214.6 L366 213 L366.7 211.4 L367.6 210 L368.6 208.9 L369.8 208.1 L371.1 207.6 L372.5 207.4 L373.9 207.6 L375.2 208.1 L376.4 208.9 L377.4 210 L378.3 211.4 L379 213 L379.4 214.6Z" fill="#fff" stroke="#000" stroke-width="2" />
<path d="M402 139 L410 141 M405 137 L407 150 M410 143 L422 147 M414 141 L413 152 M418 146 L428 150 M420 144 L424 155 M411 152 L420 155" fill="none" stroke="#000" stroke-width="1.4" />
<path d="M398 190 Q386 222 381 256" fill="none" stroke="#000" stroke-width="1.6" />
<path d="M402 192 Q391 224 386 257" fill="none" stroke="#000" stroke-width="1.2" />
<path d="M465.3 169.4 L470.7 171.1 L475.7 173.8 L480.4 177.6 L484.6 182.3 L488.2 187.8 L491.2 194.1 L493.5 201 L495.1 208.4 L496 216.3 L496.1 224.4 L495.4 232.7 L494.1 240.9 L492 249 L489.2 256.8 L485.8 264.2 L481.8 271 L477.3 277.2 L472.3 282.6 L467 287.1 L461.5 290.7 L455.8 293.3 L450 294.8 L444.3 295.2 L438.7 294.6 L433.3 292.9 L428.3 290.2 L423.6 286.4 L419.4 281.7 L415.8 276.2 L412.8 269.9 L410.5 263 L408.9 255.6 L408 247.7 L407.9 239.6 L408.6 231.3 L409.9 223.1 L412 215 L414.8 207.2 L418.2 199.8 L422.2 193 L426.7 186.8 L431.7 181.4 L437 176.9 L442.5 173.3 L448.2 170.7 L454 169.2 L459.7 168.8Z" fill="#fff" stroke="#000" stroke-width="2.0" />
<path d="M464.1 175.3 L468.8 176.8 L473.3 179.2 L477.4 182.6 L481 186.8 L484.2 191.8 L486.8 197.5 L488.8 203.7 L490.2 210.5 L491 217.6 L491 224.9 L490.4 232.4 L489.2 239.9 L487.3 247.2 L484.8 254.3 L481.7 261 L478.2 267.2 L474.1 272.8 L469.8 277.7 L465.1 281.8 L460.1 285.1 L455.1 287.4 L450 288.8 L444.9 289.3 L439.9 288.7 L435.2 287.2 L430.7 284.8 L426.6 281.4 L423 277.2 L419.8 272.2 L417.2 266.5 L415.2 260.3 L413.8 253.5 L413 246.4 L413 239.1 L413.6 231.6 L414.8 224.1 L416.7 216.8 L419.2 209.7 L422.3 203 L425.8 196.8 L429.9 191.2 L434.2 186.3 L438.9 182.2 L443.9 178.9 L448.9 176.6 L454 175.2 L459.1 174.7Z" fill="#fff" stroke="#000" stroke-width="1.4" />
<clipPath id="pc8"><path d="M452 160 L470 164 L486 176 L494 195 L495 225 L488 250 L478 262 L468 258 L478 232 L480 205 L472 185 L458 172Z"/></clipPath><g clip-path="url(#pc8)"><path d="M556.2 92.8L591.7 293.7M553.7 93.3L589.1 294.2M551.1 93.7L586.5 294.6M548.6 94.2L584 295.1M546 94.6L581.4 295.5M543.4 95.1L578.9 296M540.9 95.5L576.3 296.4M538.3 96L573.7 296.9M535.8 96.4L571.2 297.4M533.2 96.9L568.6 297.8M530.6 97.4L566.1 298.3M528.1 97.8L563.5 298.7M525.5 98.3L560.9 299.2M523 98.7L558.4 299.6M520.4 99.2L555.8 300.1M517.8 99.6L553.3 300.5M515.3 100.1L550.7 301M512.7 100.5L548.1 301.4M510.1 101L545.6 301.9M507.6 101.4L543 302.3M505 101.9L540.5 302.8M502.5 102.3L537.9 303.2M499.9 102.8L535.3 303.7M497.3 103.2L532.8 304.1M494.8 103.7L530.2 304.6M492.2 104.1L527.7 305M489.7 104.6L525.1 305.5M487.1 105L522.5 305.9M484.5 105.5L520 306.4M482 105.9L517.4 306.8M479.4 106.4L514.8 307.3M476.9 106.8L512.3 307.7M474.3 107.3L509.7 308.2M471.7 107.7L507.2 308.6M469.2 108.2L504.6 309.1M466.6 108.6L502 309.5M464.1 109.1L499.5 310M461.5 109.5L496.9 310.4M458.9 110L494.4 310.9M456.4 110.4L491.8 311.3M453.8 110.9L489.2 311.8M451.3 111.3L486.7 312.2M448.7 111.8L484.1 312.7M446.1 112.3L481.6 313.2M443.6 112.7L479 313.6M441 113.2L476.4 314.1M438.5 113.6L473.9 314.5M435.9 114.1L471.3 315M433.3 114.5L468.8 315.4M430.8 115L466.2 315.9M428.2 115.4L463.6 316.3M425.7 115.9L461.1 316.8M423.1 116.3L458.5 317.2M420.5 116.8L456 317.7M418 117.2L453.4 318.1M415.4 117.7L450.8 318.6M412.9 118.1L448.3 319M410.3 118.6L445.7 319.5M407.7 119L443.2 319.9M405.2 119.5L440.6 320.4M402.6 119.9L438 320.8M400 120.4L435.5 321.3M397.5 120.8L432.9 321.7M394.9 121.3L430.4 322.2M392.4 121.7L427.8 322.6M389.8 122.2L425.2 323.1M387.2 122.6L422.7 323.5M384.7 123.1L420.1 324M382.1 123.5L417.5 324.4M379.6 124L415 324.9M377 124.4L412.4 325.3M374.4 124.9L409.9 325.8M371.9 125.3L407.3 326.2M369.3 125.8L404.7 326.7M366.8 126.2L402.2 327.1M364.2 126.7L399.6 327.6M361.6 127.2L397.1 328.1M359.1 127.6L394.5 328.5M356.5 128.1L391.9 329" stroke="#000" stroke-width="1.1" fill="none"/></g>
<path d="M449.6 153.8 L462 158 L476 165 L488 172 L494 178 L495 184 L488 179 L471 169.4 L452 159.8Z" fill="#000" stroke="#000" stroke-width="1.2" />
<path d="M445 151 Q470 160 495 182" fill="none" stroke="#000" stroke-width="1.4" />
<path d="M461.2 210.7 L461.4 212.7 L461.3 214.6 L460.9 216.4 L460.3 218.1 L459.4 219.5 L458.4 220.6 L457.1 221.4 L455.7 221.8 L454.3 221.9 L452.9 221.6 L451.4 220.9 L450.1 219.9 L449 218.5 L448 216.9 L447.3 215.2 L446.8 213.3 L446.6 211.3 L446.7 209.4 L447.1 207.6 L447.7 205.9 L448.6 204.5 L449.6 203.4 L450.9 202.6 L452.3 202.2 L453.7 202.1 L455.1 202.4 L456.6 203.1 L457.9 204.1 L459 205.5 L460 207.1 L460.7 208.8Z" fill="#fff" stroke="#000" stroke-width="2" />
<path d="M478.5 190.7 L478.7 192.5 L478.6 194.3 L478.2 196 L477.5 197.6 L476.6 198.9 L475.5 200 L474.3 200.7 L472.9 201.2 L471.5 201.2 L470 200.9 L468.6 200.3 L467.4 199.4 L466.2 198.1 L465.3 196.7 L464.6 195 L464.1 193.3 L463.9 191.5 L464 189.7 L464.4 188 L465.1 186.4 L466 185.1 L467.1 184 L468.3 183.3 L469.7 182.8 L471.1 182.8 L472.6 183.1 L474 183.7 L475.2 184.6 L476.4 185.9 L477.3 187.3 L478 189Z" fill="#fff" stroke="#000" stroke-width="2" />
<path d="M481.9 219.9 L482 221.7 L481.9 223.5 L481.4 225.2 L480.7 226.8 L479.7 228.1 L478.5 229.2 L477.1 230 L475.6 230.5 L474 230.6 L472.5 230.3 L471 229.7 L469.6 228.8 L468.3 227.5 L467.3 226.1 L466.6 224.4 L466.1 222.7 L466 220.9 L466.1 219.1 L466.6 217.4 L467.3 215.8 L468.3 214.5 L469.5 213.4 L470.9 212.6 L472.4 212.1 L474 212 L475.5 212.3 L477 212.9 L478.4 213.8 L479.7 215.1 L480.7 216.5 L481.4 218.2Z" fill="#fff" stroke="#000" stroke-width="2" />
<path d="M453.9 239.9 L454 241.7 L453.9 243.5 L453.4 245.2 L452.7 246.8 L451.7 248.1 L450.5 249.2 L449.1 250 L447.6 250.5 L446 250.6 L444.5 250.3 L443 249.7 L441.6 248.8 L440.3 247.5 L439.3 246.1 L438.6 244.4 L438.1 242.7 L438 240.9 L438.1 239.1 L438.6 237.4 L439.3 235.8 L440.3 234.5 L441.5 233.4 L442.9 232.6 L444.4 232.1 L446 232 L447.5 232.3 L449 232.9 L450.4 233.8 L451.7 235.1 L452.7 236.5 L453.4 238.2Z" fill="#fff" stroke="#000" stroke-width="2" />
<path d="M430.8 250.6 L431.1 251.7 L431 252.9 L430.7 254.2 L430.1 255.4 L429.2 256.5 L428.1 257.5 L426.8 258.3 L425.4 258.9 L423.8 259.4 L422.3 259.6 L420.8 259.5 L419.4 259.2 L418.2 258.7 L417.1 258 L416.3 257.1 L415.8 256 L415.5 254.9 L415.6 253.7 L415.9 252.4 L416.5 251.2 L417.4 250.1 L418.5 249.1 L419.8 248.3 L421.2 247.7 L422.8 247.2 L424.3 247 L425.8 247.1 L427.2 247.4 L428.4 247.9 L429.5 248.6 L430.3 249.5Z" fill="#fff" stroke="#000" stroke-width="2" />
<path d="M444.2 265.3 L444.4 266.3 L444.3 267.4 L444 268.5 L443.3 269.6 L442.4 270.6 L441.3 271.6 L439.9 272.4 L438.5 273 L437 273.4 L435.5 273.6 L434 273.7 L432.7 273.5 L431.5 273 L430.4 272.4 L429.7 271.7 L429.2 270.7 L429 269.7 L429.1 268.6 L429.4 267.5 L430.1 266.4 L431 265.4 L432.1 264.4 L433.5 263.6 L434.9 263 L436.4 262.6 L437.9 262.4 L439.4 262.3 L440.7 262.5 L441.9 263 L443 263.6 L443.7 264.3Z" fill="#fff" stroke="#000" stroke-width="2" />
<path d="M419.7 203.9 L420.1 206.9 L420 209.9 L419.5 212.8 L418.4 215.4 L417 217.7 L415.2 219.5 L413 220.9 L410.7 221.7 L408.3 221.9 L405.8 221.5 L403.4 220.6 L401.1 219.1 L399.1 217.1 L397.4 214.7 L396.1 212 L395.3 209.1 L394.9 206.1 L395 203.1 L395.5 200.2 L396.6 197.6 L398 195.3 L399.8 193.5 L402 192.1 L404.3 191.3 L406.7 191.1 L409.2 191.5 L411.6 192.4 L413.9 193.9 L415.9 195.9 L417.6 198.3 L418.9 201Z" fill="#fff" stroke="#000" stroke-width="1.8" />
<path d="M413 193 Q421 200 419 214 Q417 220 412 222 Q417 212 414 200 Z" fill="#000" stroke="#000" stroke-width="1.2" />
<path d="M393 221 L405 219 L411 224 L410 232 L396 233 L392 228Z" fill="#fff" stroke="#000" stroke-width="1.6" />
<circle cx="397.5" cy="228.3" r="1.8" fill="#000"/>
<path d="M390 191 L401.7 176 L410 181.3 L398.5 197.3Z" fill="#fff" stroke="#000" stroke-width="1.8" />
<path d="M396 192 L404 184 L420 181.5 L434 184 L431 195 L418 192.5 L403 196Z" fill="#fff" stroke="#000" stroke-width="1.8" />
<circle cx="423" cy="187.5" r="1.7" fill="#000"/>
<path d="M462.8 170 L468.8 171.7 L474.5 174.4 L479.8 178.3 L484.6 183.1 L488.8 188.9 L492.4 195.5 L495.3 202.8 L497.4 210.7 L498.7 219 L499.2 227.6 L498.9 236.4 L497.8 245.2 L495.8 253.9 L493.1 262.3 L489.7 270.2 L485.6 277.6 L480.9 284.3 L475.7 290.2 L470.1 295.1 L464.2 299.1 L458 302 L451.7 303.8 L445.4 304.5 L439.2 304 L433.2 302.3 L427.5 299.6 L422.2 295.7 L417.4 290.9 L413.2 285.1 L409.6 278.5 L406.7 271.2 L404.6 263.3 L403.3 255 L402.8 246.4 L403.1 237.6 L404.2 228.8 L406.2 220.1 L408.9 211.7 L412.3 203.8 L416.4 196.4 L421.1 189.7 L426.3 183.8 L431.9 178.9 L437.8 174.9 L444 172 L450.3 170.2 L456.6 169.5Z" fill="none" stroke="#000" stroke-width="2.3" />
<path d="M461.9 174.4 L467.2 175.9 L472.3 178.5 L477 182 L481.3 186.4 L485.1 191.7 L488.3 197.7 L490.8 204.4 L492.7 211.6 L493.8 219.3 L494.2 227.2 L493.9 235.3 L492.9 243.4 L491.1 251.4 L488.6 259.1 L485.5 266.4 L481.8 273.2 L477.6 279.3 L472.9 284.7 L467.9 289.3 L462.5 293 L457 295.7 L451.3 297.4 L445.7 298 L440.1 297.6 L434.8 296.1 L429.7 293.5 L425 290 L420.7 285.6 L416.9 280.3 L413.7 274.3 L411.2 267.6 L409.3 260.4 L408.2 252.7 L407.8 244.8 L408.1 236.7 L409.1 228.6 L410.9 220.6 L413.4 212.9 L416.5 205.6 L420.2 198.8 L424.4 192.7 L429.1 187.3 L434.1 182.7 L439.5 179 L445 176.3 L450.7 174.6 L456.3 174Z" fill="none" stroke="#000" stroke-width="1.8" />
<path d="M511 188 C519 205 517 228 506 248 L501 246 C511 226 512 206 506 190 Z" fill="#fff" stroke="#000" stroke-width="1.7" />
<path d="M484.4 263 L484.6 259.9 L485.1 256.8 L486 253.8 L487.1 250.9 L488.4 248.1 L490 245.5 L491.9 243.1 L493.8 241 L496 239.2 L498.2 237.8 L500.5 236.7 L502.8 236 L505.1 235.7 L507.4 235.8 L509.6 236.2 L512.4 237.2 L514.5 238.1 L516.3 239.3 L518 240.9 L519.5 242.9 L520.7 245.1 L521.7 247.6 L522.3 250.3 L522.7 253.1 L522.8 256.1 L522.5 259.2 L522 262.2 L521.2 265.3 L520.1 268.2 L518.7 271 L517.1 273.6 L515.3 276 L513.3 278.1 L511.2 279.9 L509 281.3 L506.7 282.4 L504.3 283.1 L502 283.4 L499.8 283.3 L497.6 282.8 L494.7 281.9 L492.7 281 L490.8 279.8 L489.1 278.2 L487.6 276.2 L486.4 274 L485.5 271.5 L484.8 268.8 L484.4 265.9Z" fill="#000" stroke="#000" stroke-width="1.7" />
<path d="M512.4 237.2 L514.5 238.1 L516.3 239.3 L518 240.9 L519.5 242.9 L520.7 245.1 L521.7 247.6 L522.3 250.3 L522.7 253.1 L522.8 256.1 L522.5 259.2 L522 262.2 L521.2 265.3 L520.1 268.2 L518.7 271 L517.1 273.6 L515.3 276 L513.3 278.1 L511.2 279.9 L509 281.3 L506.7 282.4 L504.3 283.1 L502 283.4 L499.8 283.3 L497.6 282.8 L495.5 281.9 L493.7 280.7 L492 279.1 L490.5 277.1 L489.3 274.9 L488.3 272.4 L487.7 269.7 L487.3 266.9 L487.2 263.9 L487.5 260.8 L488 257.8 L488.8 254.7 L489.9 251.8 L491.3 249 L492.9 246.4 L494.7 244 L496.7 241.9 L498.8 240.1 L501 238.7 L503.3 237.6 L505.7 236.9 L508 236.6 L510.2 236.7Z" fill="#fff" stroke="#000" stroke-width="1.7" />
<clipPath id="c4"><path d="M510.6 247.7 L511.8 248.2 L512.8 249 L513.7 249.9 L514.5 251.1 L515.2 252.5 L515.7 254 L516 255.6 L516.1 257.4 L516.1 259.3 L515.9 261.1 L515.6 263 L515 264.9 L514.4 266.8 L513.5 268.5 L512.6 270.2 L511.5 271.7 L510.3 273 L509.1 274.2 L507.8 275.1 L506.5 275.8 L505.2 276.3 L503.9 276.5 L502.6 276.5 L501.4 276.3 L500.2 275.8 L499.2 275 L498.3 274.1 L497.5 272.9 L496.8 271.5 L496.3 270 L496 268.4 L495.9 266.6 L495.9 264.7 L496.1 262.9 L496.4 261 L497 259.1 L497.6 257.2 L498.5 255.5 L499.4 253.8 L500.5 252.3 L501.7 251 L502.9 249.8 L504.2 248.9 L505.5 248.2 L506.8 247.7 L508.1 247.5 L509.4 247.5Z"/></clipPath>
<path d="M510.6 247.7 L511.8 248.2 L512.8 249 L513.7 249.9 L514.5 251.1 L515.2 252.5 L515.7 254 L516 255.6 L516.1 257.4 L516.1 259.3 L515.9 261.1 L515.6 263 L515 264.9 L514.4 266.8 L513.5 268.5 L512.6 270.2 L511.5 271.7 L510.3 273 L509.1 274.2 L507.8 275.1 L506.5 275.8 L505.2 276.3 L503.9 276.5 L502.6 276.5 L501.4 276.3 L500.2 275.8 L499.2 275 L498.3 274.1 L497.5 272.9 L496.8 271.5 L496.3 270 L496 268.4 L495.9 266.6 L495.9 264.7 L496.1 262.9 L496.4 261 L497 259.1 L497.6 257.2 L498.5 255.5 L499.4 253.8 L500.5 252.3 L501.7 251 L502.9 249.8 L504.2 248.9 L505.5 248.2 L506.8 247.7 L508.1 247.5 L509.4 247.5Z" fill="#000" stroke="#000" stroke-width="1.7" />
<g clip-path="url(#c4)"><path d="M508.4 247 L509.5 247.5 L510.5 248.2 L511.5 249.2 L512.2 250.4 L512.9 251.7 L513.4 253.2 L513.7 254.9 L513.9 256.7 L513.8 258.5 L513.6 260.4 L513.3 262.3 L512.8 264.2 L512.1 266 L511.2 267.8 L510.3 269.4 L509.2 270.9 L508.1 272.3 L506.8 273.4 L505.5 274.4 L504.2 275.1 L502.9 275.6 L501.6 275.8 L500.3 275.8 L499.1 275.5 L497.9 275 L496.9 274.3 L496 273.3 L495.2 272.1 L494.5 270.8 L494.1 269.3 L493.7 267.6 L493.6 265.8 L493.6 264 L493.8 262.1 L494.2 260.2 L494.7 258.3 L495.4 256.5 L496.2 254.7 L497.1 253.1 L498.2 251.6 L499.4 250.2 L500.6 249.1 L501.9 248.2 L503.2 247.4 L504.5 247 L505.9 246.7 L507.1 246.7Z" fill="#fff" stroke="#000" stroke-width="1.36" /></g>
<path d="M534.8 238.5 C544.8 228.9 538.4 231.3 551.9 226.7 C565.4 222.1 562.5 223.5 575.3 224.6 C588.1 225.7 578.9 224 590.3 230 C601.7 236 597.4 235.6 609.5 242.7 C621.6 249.8 618 243.5 626.5 251.3 C635 259.1 631.4 254.8 635 266.2 C638.6 277.6 637.9 272.6 637.2 285.4 C636.5 298.2 638 292.5 633 304.6 C628 316.7 630.1 310.3 622.3 321.7 C614.5 333.1 619.5 328 609.5 338.7 C599.5 349.4 605.2 345.9 592.4 353.7 C579.6 361.5 584.5 359.4 571 362.2 C557.5 365 563.2 364.3 551.9 362.2 C540.6 360.1 543.4 358.6 537 355.8 C530.6 353 539.8 357.3 532.7 353.7 C525.6 350.1 524.8 351.5 515.6 345.1 C506.4 338.7 510 343.7 505 334.5 C500 325.3 501.4 330.2 500.7 317.4 C500 304.6 499.3 310.2 502.8 296 C506.3 281.8 504.9 288.2 511.3 274.7 C517.7 261.2 514.2 267.6 522 255.5 C529.8 243.4 524.8 248.1 534.8 238.5Z" fill="#fff" stroke="#000" stroke-width="2.3" />
<clipPath id="pc10"><path d="M534.8 238.5 C544.8 228.9 538.4 231.3 551.9 226.7 C565.4 222.1 562.5 223.5 575.3 224.6 C588.1 225.7 578.9 224 590.3 230 C601.7 236 597.4 235.6 609.5 242.7 C621.6 249.8 618 243.5 626.5 251.3 C635 259.1 631.4 254.8 635 266.2 C638.6 277.6 637.9 272.6 637.2 285.4 C636.5 298.2 638 292.5 633 304.6 C628 316.7 630.1 310.3 622.3 321.7 C614.5 333.1 619.5 328 609.5 338.7 C599.5 349.4 605.2 345.9 592.4 353.7 C579.6 361.5 584.5 359.4 571 362.2 C557.5 365 563.2 364.3 551.9 362.2 C540.6 360.1 543.4 358.6 537 355.8 C530.6 353 539.8 357.3 532.7 353.7 C525.6 350.1 524.8 351.5 515.6 345.1 C506.4 338.7 510 343.7 505 334.5 C500 325.3 501.4 330.2 500.7 317.4 C500 304.6 499.3 310.2 502.8 296 C506.3 281.8 504.9 288.2 511.3 274.7 C517.7 261.2 514.2 267.6 522 255.5 C529.8 243.4 524.8 248.1 534.8 238.5Z"/></clipPath><g clip-path="url(#pc10)"><clipPath id="pc9"><path d="M498 225 L560 225 L560 370 L498 370Z"/></clipPath><g clip-path="url(#pc9)"><path d="M658 138.1L688.4 426.5M654.7 138.5L685 426.9M651.3 138.8L681.6 427.3M647.9 139.2L678.2 427.6M644.5 139.6L674.8 428M641.1 139.9L671.5 428.3M637.8 140.3L668.1 428.7M634.4 140.6L664.7 429M631 141L661.3 429.4M627.6 141.3L657.9 429.7M624.2 141.7L654.5 430.1M620.9 142L651.2 430.5M617.5 142.4L647.8 430.8M614.1 142.8L644.4 431.2M610.7 143.1L641 431.5M607.3 143.5L637.6 431.9M603.9 143.8L634.3 432.2M600.6 144.2L630.9 432.6M597.2 144.5L627.5 432.9M593.8 144.9L624.1 433.3M590.4 145.2L620.7 433.7M587 145.6L617.4 434M583.7 146L614 434.4M580.3 146.3L610.6 434.7M576.9 146.7L607.2 435.1M573.5 147L603.8 435.4M570.1 147.4L600.4 435.8M566.8 147.7L597.1 436.1M563.4 148.1L593.7 436.5M560 148.4L590.3 436.9M556.6 148.8L586.9 437.2M553.2 149.2L583.5 437.6M549.8 149.5L580.2 437.9M546.5 149.9L576.8 438.3M543.1 150.2L573.4 438.6M539.7 150.6L570 439M536.3 150.9L566.6 439.3M532.9 151.3L563.3 439.7M529.6 151.6L559.9 440.1M526.2 152L556.5 440.4M522.8 152.4L553.1 440.8M519.4 152.7L549.7 441.1M516 153.1L546.3 441.5M512.6 153.4L543 441.8M509.3 153.8L539.6 442.2M505.9 154.1L536.2 442.5M502.5 154.5L532.8 442.9M499.1 154.8L529.4 443.3M495.7 155.2L526.1 443.6M492.4 155.6L522.7 444M489 155.9L519.3 444.3M485.6 156.3L515.9 444.7M482.2 156.6L512.5 445M478.8 157L509.1 445.4M475.5 157.3L505.8 445.7M472.1 157.7L502.4 446.1M468.7 158L499 446.5M465.3 158.4L495.6 446.8M461.9 158.8L492.2 447.2M458.5 159.1L488.9 447.5M455.2 159.5L485.5 447.9M451.8 159.8L482.1 448.2M448.4 160.2L478.7 448.6M445 160.5L475.3 448.9M441.6 160.9L472 449.3M438.3 161.2L468.6 449.6M434.9 161.6L465.2 450M431.5 161.9L461.8 450.4M428.1 162.3L458.4 450.7M424.7 162.7L455 451.1M421.4 163L451.7 451.4M418 163.4L448.3 451.8M414.6 163.7L444.9 452.1M411.2 164.1L441.5 452.5M407.8 164.4L438.1 452.8M404.4 164.8L434.8 453.2M401.1 165.1L431.4 453.6M397.7 165.5L428 453.9M394.3 165.9L424.6 454.3M390.9 166.2L421.2 454.6M387.5 166.6L417.9 455M384.2 166.9L414.5 455.3M380.8 167.3L411.1 455.7M377.4 167.6L407.7 456M374 168L404.3 456.4M370.6 168.3L400.9 456.8" stroke="#000" stroke-width="1.0" fill="none"/></g></g>
<clipPath id="pc11"><path d="M534.8 238.5 C544.8 228.9 538.4 231.3 551.9 226.7 C565.4 222.1 562.5 223.5 575.3 224.6 C588.1 225.7 578.9 224 590.3 230 C601.7 236 597.4 235.6 609.5 242.7 C621.6 249.8 618 243.5 626.5 251.3 C635 259.1 631.4 254.8 635 266.2 C638.6 277.6 637.9 272.6 637.2 285.4 C636.5 298.2 638 292.5 633 304.6 C628 316.7 630.1 310.3 622.3 321.7 C614.5 333.1 619.5 328 609.5 338.7 C599.5 349.4 605.2 345.9 592.4 353.7 C579.6 361.5 584.5 359.4 571 362.2 C557.5 365 563.2 364.3 551.9 362.2 C540.6 360.1 543.4 358.6 537 355.8 C530.6 353 539.8 357.3 532.7 353.7 C525.6 350.1 524.8 351.5 515.6 345.1 C506.4 338.7 510 343.7 505 334.5 C500 325.3 501.4 330.2 500.7 317.4 C500 304.6 499.3 310.2 502.8 296 C506.3 281.8 504.9 288.2 511.3 274.7 C517.7 261.2 514.2 267.6 522 255.5 C529.8 243.4 524.8 248.1 534.8 238.5Z"/></clipPath><g clip-path="url(#pc11)"><path d="M502 318 L507 336 L518 348 L532 356 L546 362 L540 348 L528 340 L518 328 L512 316Z" fill="#000" stroke="#000" stroke-width="0.8" /></g>
<path d="M506 300 L512 296 L514 306 L508 309Z" fill="#000" stroke="#000" stroke-width="0.6" />
<path d="M513 270 L519 266 L521 276 L515 279Z" fill="#000" stroke="#000" stroke-width="0.6" />
<path d="M535 240 Q518 262 513 300 Q512 330 526 352" fill="none" stroke="#000" stroke-width="1.3" />
<path d="M616.5 242.8 L621.7 247.2 L626.2 252.4 L629.8 258.5 L632.6 265.2 L634.4 272.5 L635.2 280.2 L635 288.3 L633.9 296.5 L631.8 304.7 L628.7 312.9 L624.8 320.8 L620.1 328.3 L614.6 335.3 L608.5 341.7 L601.9 347.4 L594.9 352.2 L587.5 356.1 L580 359 L572.5 360.8 L565 361.7 L557.8 361.4 L550.9 360 L544.4 357.6 L538.5 354.2 L533.3 349.8 L528.8 344.6 L525.2 338.5 L522.4 331.8 L520.6 324.5 L519.8 316.8 L520 308.7 L521.1 300.5 L523.2 292.3 L526.3 284.1 L530.2 276.2 L534.9 268.7 L540.4 261.7 L546.5 255.3 L553.1 249.6 L560.1 244.8 L567.5 240.9 L575 238 L582.5 236.2 L590 235.3 L597.2 235.6 L604.1 237 L610.6 239.4Z" fill="#fff" stroke="#000" stroke-width="2.2" />
<clipPath id="pc12"><path d="M607 247 L622 256 L631 270 L634 290 L630 310 L620 326 L612 334 L614 312 L616 292 L613 270Z"/></clipPath><g clip-path="url(#pc12)"><path d="M682 183.9L727.1 352M679.5 184.6L724.5 352.7M677 185.3L722 353.4M674.5 186L719.5 354M672 186.6L717 354.7M669.5 187.3L714.5 355.4M666.9 188L712 356.1M664.4 188.7L709.5 356.7M661.9 189.3L707 357.4M659.4 190L704.5 358.1M656.9 190.7L701.9 358.7M654.4 191.3L699.4 359.4M651.9 192L696.9 360.1M649.4 192.7L694.4 360.8M646.9 193.4L691.9 361.4M644.3 194L689.4 362.1M641.8 194.7L686.9 362.8M639.3 195.4L684.4 363.5M636.8 196.1L681.8 364.1M634.3 196.7L679.3 364.8M631.8 197.4L676.8 365.5M629.3 198.1L674.3 366.1M626.8 198.8L671.8 366.8M624.3 199.4L669.3 367.5M621.7 200.1L666.8 368.2M619.2 200.8L664.3 368.8M616.7 201.4L661.8 369.5M614.2 202.1L659.2 370.2M611.7 202.8L656.7 370.9M609.2 203.5L654.2 371.5M606.7 204.1L651.7 372.2M604.2 204.8L649.2 372.9M601.7 205.5L646.7 373.6M599.1 206.2L644.2 374.2M596.6 206.8L641.7 374.9M594.1 207.5L639.2 375.6M591.6 208.2L636.6 376.2M589.1 208.8L634.1 376.9M586.6 209.5L631.6 377.6M584.1 210.2L629.1 378.3M581.6 210.9L626.6 378.9M579.1 211.5L624.1 379.6M576.5 212.2L621.6 380.3M574 212.9L619.1 381M571.5 213.6L616.6 381.6M569 214.2L614 382.3M566.5 214.9L611.5 383M564 215.6L609 383.6M561.5 216.2L606.5 384.3M559 216.9L604 385M556.4 217.6L601.5 385.7M553.9 218.3L599 386.3M551.4 218.9L596.5 387M548.9 219.6L593.9 387.7M546.4 220.3L591.4 388.4M543.9 221L588.9 389M541.4 221.6L586.4 389.7M538.9 222.3L583.9 390.4M536.4 223L581.4 391M533.8 223.7L578.9 391.7M531.3 224.3L576.4 392.4M528.8 225L573.9 393.1M526.3 225.7L571.3 393.7M523.8 226.3L568.8 394.4M521.3 227L566.3 395.1M518.8 227.7L563.8 395.8M516.3 228.4L561.3 396.4" stroke="#000" stroke-width="1.1" fill="none"/></g>
<path d="M608 250 L621 258 L628 270 L630 283 L623 280 L616 266Z" fill="#000" stroke="#000" stroke-width="0.8" />
<path d="M595.6 252.8 L600 254.8 L604.1 257.6 L607.7 261.2 L610.9 265.6 L613.5 270.5 L615.4 276.1 L616.8 282 L617.5 288.4 L617.5 294.9 L616.8 301.7 L615.5 308.4 L613.6 315 L611 321.5 L607.9 327.6 L604.3 333.3 L600.2 338.5 L595.8 343 L591 346.9 L586.1 350 L581 352.4 L575.9 353.8 L570.8 354.4 L565.8 354.2 L561 353 L556.6 351 L552.5 348.2 L548.9 344.6 L545.7 340.2 L543.1 335.3 L541.2 329.7 L539.8 323.8 L539.1 317.4 L539.1 310.9 L539.8 304.1 L541.1 297.4 L543 290.8 L545.6 284.3 L548.7 278.2 L552.3 272.5 L556.4 267.3 L560.8 262.8 L565.6 258.9 L570.5 255.8 L575.6 253.4 L580.7 252 L585.8 251.4 L590.8 251.6Z" fill="#fff" stroke="#000" stroke-width="1.9" />
<path d="M590.3 255.6 L594.1 257.3 L597.6 259.8 L600.7 262.9 L603.4 266.7 L605.6 271.1 L607.2 275.9 L608.3 281.2 L608.9 286.8 L608.8 292.6 L608.2 298.6 L607 304.5 L605.3 310.4 L603 316.1 L600.3 321.6 L597.1 326.6 L593.6 331.2 L589.7 335.3 L585.6 338.8 L581.3 341.6 L576.9 343.7 L572.4 345 L568.1 345.6 L563.8 345.4 L559.7 344.4 L555.9 342.7 L552.4 340.2 L549.3 337.1 L546.6 333.3 L544.4 328.9 L542.8 324.1 L541.7 318.8 L541.1 313.2 L541.2 307.4 L541.8 301.4 L543 295.5 L544.7 289.6 L547 283.9 L549.7 278.4 L552.9 273.4 L556.4 268.8 L560.3 264.7 L564.4 261.2 L568.7 258.4 L573.1 256.3 L577.6 255 L581.9 254.4 L586.2 254.6Z" fill="none" stroke="#000" stroke-width="1.0" />
<path d="M580.4 296 L580.2 298.9 L579.5 301.7 L578.5 304.3 L575.3 304.3 L573.9 305.7 L572.4 306.8 L570.7 307.5 L569 311 L566.8 310.7 L564.6 309.9 L562.7 308.5 L562.7 304.3 L561.6 302.5 L560.8 300.5 L560.3 298.3 L557.6 296 L557.8 293.1 L558.5 290.3 L559.5 287.7 L562.7 287.7 L564.1 286.3 L565.6 285.2 L567.3 284.5 L569 281 L571.2 281.3 L573.4 282.1 L575.3 283.5 L575.3 287.7 L576.4 289.5 L577.2 291.5 L577.7 293.7Z" fill="#fff" stroke="#000" stroke-width="1.8" />
<path d="M561 288 Q566 282 575 284 L574 290 Q567 290 565 298 Q563 306 566 310 L560 306 Q558 296 561 288Z" fill="#000" stroke="#000" stroke-width="1" />
<path d="M580.9 262.9 L581.2 264 L581.4 265.1 L581.4 266.2 L581.3 267.2 L581 268.2 L580.6 269.1 L580 269.9 L579.3 270.6 L578.5 271.2 L577.7 271.6 L576.8 271.8 L575.8 271.9 L574.9 271.8 L573.9 271.5 L573 271.1 L572.1 270.5 L571.4 269.8 L570.7 269 L570.1 268.1 L569.7 267.1 L569.4 266 L569.2 264.9 L569.2 263.8 L569.3 262.8 L569.6 261.8 L570 260.9 L570.6 260.1 L571.3 259.4 L572.1 258.8 L572.9 258.4 L573.8 258.2 L574.8 258.1 L575.7 258.2 L576.7 258.5 L577.6 258.9 L578.5 259.5 L579.2 260.2 L579.9 261 L580.5 261.9Z" fill="#fff" stroke="#000" stroke-width="2" />
<path d="M581.2 265.3 L581.5 266.9 L581.4 268.4 L580.9 269.8 L580 270.8 L578.8 271.5 L577.5 271.8 L576.1 271.5 L574.8 270.8 L573.8 269.7 L573 268.3 L572.7 266.7 L572.8 265.2 L573.3 263.8 L574.2 262.8 L575.4 262.1 L576.7 261.8 L578.1 262.1 L579.4 262.8 L580.4 263.9Z" fill="none" stroke="#000" stroke-width="1.1" />
<path d="M605.4 281.9 L605.8 283.3 L606 284.6 L606.1 286 L605.9 287.3 L605.6 288.6 L605.2 289.7 L604.5 290.7 L603.8 291.6 L602.9 292.3 L601.9 292.8 L600.8 293 L599.7 293.1 L598.6 292.9 L597.4 292.5 L596.3 292 L595.3 291.2 L594.3 290.3 L593.5 289.2 L592.8 288 L592.2 286.7 L591.8 285.3 L591.6 284 L591.5 282.6 L591.7 281.3 L592 280 L592.4 278.9 L593.1 277.9 L593.8 277 L594.7 276.3 L595.7 275.8 L596.8 275.6 L597.9 275.5 L599 275.7 L600.2 276.1 L601.3 276.6 L602.3 277.4 L603.3 278.3 L604.1 279.4 L604.8 280.6Z" fill="#fff" stroke="#000" stroke-width="2" />
<path d="M605.3 284.4 L605.8 286.3 L605.7 288.3 L605.2 290 L604.2 291.4 L602.8 292.2 L601.2 292.4 L599.6 292 L598.1 291.1 L596.8 289.6 L595.9 287.8 L595.4 285.9 L595.5 283.9 L596 282.2 L597 280.8 L598.4 280 L600 279.8 L601.6 280.2 L603.1 281.1 L604.4 282.6Z" fill="none" stroke="#000" stroke-width="1.1" />
<path d="M586.2 316.1 L586.6 317.5 L586.8 318.8 L586.9 320.2 L586.7 321.5 L586.4 322.8 L586 323.9 L585.3 324.9 L584.6 325.8 L583.7 326.5 L582.7 327 L581.6 327.2 L580.5 327.3 L579.4 327.1 L578.2 326.7 L577.1 326.2 L576.1 325.4 L575.1 324.5 L574.3 323.4 L573.6 322.2 L573 320.9 L572.6 319.5 L572.4 318.2 L572.3 316.8 L572.5 315.5 L572.8 314.2 L573.2 313.1 L573.9 312.1 L574.6 311.2 L575.5 310.5 L576.5 310 L577.6 309.8 L578.7 309.7 L579.8 309.9 L581 310.3 L582.1 310.8 L583.1 311.6 L584.1 312.5 L584.9 313.6 L585.6 314.8Z" fill="#fff" stroke="#000" stroke-width="2" />
<path d="M586.1 318.6 L586.6 320.5 L586.5 322.5 L586 324.2 L585 325.6 L583.6 326.4 L582 326.6 L580.4 326.2 L578.9 325.3 L577.6 323.8 L576.7 322 L576.2 320.1 L576.3 318.1 L576.8 316.4 L577.8 315 L579.2 314.2 L580.8 314 L582.4 314.4 L583.9 315.3 L585.2 316.8Z" fill="none" stroke="#000" stroke-width="1.1" />
<path d="M560.6 328.9 L561 330.3 L561.2 331.6 L561.3 333 L561.1 334.3 L560.8 335.6 L560.4 336.7 L559.7 337.7 L559 338.6 L558.1 339.3 L557.1 339.8 L556 340 L554.9 340.1 L553.8 339.9 L552.6 339.5 L551.5 339 L550.5 338.2 L549.5 337.3 L548.7 336.2 L548 335 L547.4 333.7 L547 332.3 L546.8 331 L546.7 329.6 L546.9 328.3 L547.2 327 L547.6 325.9 L548.3 324.9 L549 324 L549.9 323.3 L550.9 322.8 L552 322.6 L553.1 322.5 L554.2 322.7 L555.4 323.1 L556.5 323.6 L557.5 324.4 L558.5 325.3 L559.3 326.4 L560 327.6Z" fill="#fff" stroke="#000" stroke-width="2" />
<path d="M560.5 331.4 L561 333.3 L560.9 335.3 L560.4 337 L559.4 338.4 L558 339.2 L556.4 339.4 L554.8 339 L553.3 338.1 L552 336.6 L551.1 334.8 L550.6 332.9 L550.7 330.9 L551.2 329.2 L552.2 327.8 L553.6 327 L555.2 326.8 L556.8 327.2 L558.3 328.1 L559.6 329.6Z" fill="none" stroke="#000" stroke-width="1.1" />
<path d="M605.3 333.9 L605.4 331.4 L605.9 328.7 L606.5 326.1 L607.5 323.5 L608.6 321 L609.9 318.6 L611.5 316.5 L613.1 314.5 L614.9 312.7 L616.8 311.3 L618.8 310.1 L620.8 309.3 L622.7 308.8 L624.7 308.6 L626.5 308.8 L628.3 309.3 L633.9 311.5 L635.5 312.4 L637 313.5 L638.2 315 L639.3 316.8 L640.1 318.7 L640.7 320.9 L641.1 323.3 L641.2 325.8 L641 328.4 L640.6 331 L639.9 333.7 L639 336.2 L637.8 338.7 L636.5 341.1 L635 343.3 L633.3 345.3 L631.5 347 L629.6 348.5 L627.7 349.6 L625.7 350.5 L623.7 351 L621.8 351.2 L619.9 351 L618.1 350.5 L612.6 348.2 L610.9 347.4 L609.5 346.2 L608.2 344.7 L607.1 343 L606.3 341 L605.7 338.8 L605.3 336.4Z" fill="#000" stroke="#000" stroke-width="1.7" />
<path d="M633.9 311.5 L635.5 312.4 L637 313.5 L638.2 315 L639.3 316.8 L640.1 318.7 L640.7 320.9 L641.1 323.3 L641.2 325.8 L641 328.4 L640.6 331 L639.9 333.7 L639 336.2 L637.8 338.7 L636.5 341.1 L635 343.3 L633.3 345.3 L631.5 347 L629.6 348.5 L627.7 349.6 L625.7 350.5 L623.7 351 L621.8 351.2 L619.9 351 L618.1 350.5 L616.5 349.6 L615 348.5 L613.8 347 L612.7 345.2 L611.9 343.3 L611.3 341.1 L610.9 338.7 L610.8 336.2 L611 333.6 L611.4 331 L612.1 328.3 L613 325.8 L614.2 323.3 L615.5 320.9 L617 318.7 L618.7 316.7 L620.5 315 L622.4 313.5 L624.3 312.4 L626.3 311.5 L628.3 311 L630.2 310.8 L632.1 311Z" fill="#fff" stroke="#000" stroke-width="1.7" />
<clipPath id="c5"><path d="M631.5 320.9 L632.3 321.3 L633 321.9 L633.6 322.7 L634.1 323.7 L634.5 324.8 L634.8 326 L634.9 327.3 L634.9 328.7 L634.7 330.2 L634.4 331.7 L634 333.1 L633.5 334.6 L632.8 336.1 L632.1 337.4 L631.3 338.7 L630.4 339.8 L629.4 340.9 L628.4 341.7 L627.4 342.4 L626.4 342.9 L625.3 343.3 L624.3 343.4 L623.4 343.4 L622.5 343.1 L621.7 342.7 L621 342.1 L620.4 341.3 L619.9 340.3 L619.5 339.2 L619.2 338 L619.1 336.7 L619.1 335.3 L619.3 333.8 L619.6 332.3 L620 330.9 L620.5 329.4 L621.2 327.9 L621.9 326.6 L622.7 325.3 L623.6 324.2 L624.6 323.1 L625.6 322.3 L626.6 321.6 L627.6 321.1 L628.7 320.7 L629.7 320.6 L630.6 320.6Z"/></clipPath>
<path d="M631.5 320.9 L632.3 321.3 L633 321.9 L633.6 322.7 L634.1 323.7 L634.5 324.8 L634.8 326 L634.9 327.3 L634.9 328.7 L634.7 330.2 L634.4 331.7 L634 333.1 L633.5 334.6 L632.8 336.1 L632.1 337.4 L631.3 338.7 L630.4 339.8 L629.4 340.9 L628.4 341.7 L627.4 342.4 L626.4 342.9 L625.3 343.3 L624.3 343.4 L623.4 343.4 L622.5 343.1 L621.7 342.7 L621 342.1 L620.4 341.3 L619.9 340.3 L619.5 339.2 L619.2 338 L619.1 336.7 L619.1 335.3 L619.3 333.8 L619.6 332.3 L620 330.9 L620.5 329.4 L621.2 327.9 L621.9 326.6 L622.7 325.3 L623.6 324.2 L624.6 323.1 L625.6 322.3 L626.6 321.6 L627.6 321.1 L628.7 320.7 L629.7 320.6 L630.6 320.6Z" fill="#000" stroke="#000" stroke-width="1.7" />
<g clip-path="url(#c5)"><path d="M627 319.1 L627.9 319.5 L628.6 320.1 L629.2 320.9 L629.7 321.9 L630.1 323 L630.3 324.2 L630.4 325.5 L630.4 326.9 L630.3 328.4 L630 329.9 L629.6 331.3 L629 332.8 L628.4 334.3 L627.7 335.6 L626.8 336.9 L625.9 338 L625 339.1 L624 339.9 L622.9 340.6 L621.9 341.1 L620.9 341.5 L619.9 341.6 L618.9 341.6 L618.1 341.3 L617.2 340.9 L616.5 340.3 L615.9 339.5 L615.4 338.5 L615 337.4 L614.8 336.2 L614.7 334.9 L614.7 333.5 L614.8 332 L615.1 330.5 L615.5 329.1 L616.1 327.6 L616.7 326.1 L617.4 324.8 L618.3 323.5 L619.2 322.4 L620.1 321.3 L621.1 320.5 L622.2 319.8 L623.2 319.3 L624.2 318.9 L625.2 318.8 L626.2 318.8Z" fill="#fff" stroke="#000" stroke-width="1.36" /></g>
<path d="M609 316 L615 313 L617 322 L611 325Z" fill="#fff" stroke="#000" stroke-width="1.2" />
<path d="M607 340 L612 338 L614 348 L609 350Z" fill="#fff" stroke="#000" stroke-width="1.2" />
<path d="M626.2 344.5 L626.4 342.4 L626.8 340.3 L627.4 338.2 L628.3 336.1 L629.2 334.1 L630.4 332.2 L631.7 330.5 L633.1 329 L634.6 327.6 L636.2 326.5 L637.8 325.6 L639.5 325 L641.1 324.6 L642.7 324.6 L644.2 324.8 L645.7 325.2 L648.4 326.5 L649.7 327.2 L650.9 328.2 L651.9 329.4 L652.7 330.9 L653.4 332.5 L653.8 334.3 L654 336.3 L654.1 338.3 L653.9 340.4 L653.4 342.5 L652.8 344.6 L652 346.7 L651 348.7 L649.9 350.5 L648.6 352.3 L647.1 353.8 L645.6 355.2 L644 356.3 L642.4 357.2 L640.8 357.8 L639.1 358.1 L637.5 358.2 L636 358 L634.6 357.5 L631.8 356.3 L630.5 355.6 L629.4 354.6 L628.4 353.3 L627.5 351.9 L626.9 350.3 L626.4 348.5 L626.2 346.5Z" fill="#000" stroke="#000" stroke-width="1.7" />
<path d="M648.4 326.5 L649.7 327.2 L650.9 328.2 L651.9 329.4 L652.7 330.9 L653.4 332.5 L653.8 334.3 L654 336.3 L654.1 338.3 L653.9 340.4 L653.4 342.5 L652.8 344.6 L652 346.7 L651 348.7 L649.9 350.5 L648.6 352.3 L647.1 353.8 L645.6 355.2 L644 356.3 L642.4 357.2 L640.8 357.8 L639.1 358.1 L637.5 358.2 L636 358 L634.6 357.5 L633.3 356.8 L632.1 355.8 L631.1 354.6 L630.3 353.1 L629.6 351.5 L629.2 349.7 L629 347.7 L628.9 345.7 L629.1 343.6 L629.6 341.5 L630.2 339.4 L631 337.3 L632 335.3 L633.1 333.5 L634.4 331.7 L635.9 330.2 L637.4 328.8 L639 327.7 L640.6 326.8 L642.2 326.2 L643.9 325.9 L645.5 325.8 L647 326Z" fill="#fff" stroke="#000" stroke-width="1.7" />
<clipPath id="c6"><path d="M645.6 332.9 L646.3 333.3 L647 333.9 L647.5 334.6 L648 335.4 L648.3 336.4 L648.6 337.4 L648.7 338.5 L648.7 339.7 L648.5 340.9 L648.3 342.2 L647.9 343.4 L647.4 344.6 L646.9 345.8 L646.2 346.9 L645.4 347.9 L644.6 348.9 L643.7 349.7 L642.8 350.3 L641.9 350.9 L640.9 351.2 L640 351.5 L639.1 351.5 L638.2 351.4 L637.4 351.1 L636.7 350.7 L636 350.1 L635.5 349.4 L635 348.6 L634.7 347.6 L634.4 346.6 L634.3 345.5 L634.3 344.3 L634.5 343.1 L634.7 341.8 L635.1 340.6 L635.6 339.4 L636.1 338.2 L636.8 337.1 L637.6 336.1 L638.4 335.1 L639.3 334.3 L640.2 333.7 L641.1 333.1 L642.1 332.8 L643 332.5 L643.9 332.5 L644.8 332.6Z"/></clipPath>
<path d="M645.6 332.9 L646.3 333.3 L647 333.9 L647.5 334.6 L648 335.4 L648.3 336.4 L648.6 337.4 L648.7 338.5 L648.7 339.7 L648.5 340.9 L648.3 342.2 L647.9 343.4 L647.4 344.6 L646.9 345.8 L646.2 346.9 L645.4 347.9 L644.6 348.9 L643.7 349.7 L642.8 350.3 L641.9 350.9 L640.9 351.2 L640 351.5 L639.1 351.5 L638.2 351.4 L637.4 351.1 L636.7 350.7 L636 350.1 L635.5 349.4 L635 348.6 L634.7 347.6 L634.4 346.6 L634.3 345.5 L634.3 344.3 L634.5 343.1 L634.7 341.8 L635.1 340.6 L635.6 339.4 L636.1 338.2 L636.8 337.1 L637.6 336.1 L638.4 335.1 L639.3 334.3 L640.2 333.7 L641.1 333.1 L642.1 332.8 L643 332.5 L643.9 332.5 L644.8 332.6Z" fill="#000" stroke="#000" stroke-width="1.7" />
<g clip-path="url(#c6)"><path d="M643.4 331.9 L644.1 332.3 L644.8 332.9 L645.3 333.6 L645.8 334.4 L646.1 335.4 L646.4 336.4 L646.5 337.6 L646.5 338.7 L646.4 340 L646.1 341.2 L645.7 342.5 L645.2 343.7 L644.7 344.8 L644 345.9 L643.2 347 L642.4 347.9 L641.5 348.7 L640.6 349.4 L639.7 349.9 L638.8 350.3 L637.8 350.5 L636.9 350.5 L636 350.4 L635.2 350.2 L634.5 349.7 L633.8 349.2 L633.3 348.5 L632.8 347.6 L632.5 346.7 L632.2 345.6 L632.1 344.5 L632.1 343.3 L632.3 342.1 L632.5 340.8 L632.9 339.6 L633.4 338.4 L634 337.2 L634.6 336.1 L635.4 335.1 L636.2 334.2 L637.1 333.4 L638 332.7 L638.9 332.2 L639.9 331.8 L640.8 331.6 L641.7 331.5 L642.6 331.6Z" fill="#fff" stroke="#000" stroke-width="1.36" /></g>
<path d="M640.5 356 L640.7 353.3 L641.2 350.5 L641.9 347.8 L642.8 345.1 L644 342.5 L645.4 340 L647 337.7 L648.8 335.6 L650.6 333.8 L652.6 332.2 L654.6 331 L656.7 330.1 L658.8 329.6 L660.8 329.4 L662.7 329.6 L664.5 330.1 L668.2 331.6 L669.9 332.5 L671.4 333.7 L672.8 335.2 L673.9 337.1 L674.7 339.1 L675.3 341.4 L675.7 343.9 L675.8 346.5 L675.6 349.2 L675.1 352 L674.4 354.7 L673.4 357.4 L672.3 360 L670.9 362.5 L669.3 364.8 L667.5 366.9 L665.6 368.7 L663.7 370.3 L661.6 371.5 L659.6 372.4 L657.5 372.9 L655.5 373.1 L653.6 372.9 L651.8 372.4 L648 370.9 L646.4 370 L644.9 368.8 L643.5 367.3 L642.4 365.5 L641.6 363.4 L641 361.1 L640.6 358.6Z" fill="#000" stroke="#000" stroke-width="1.7" />
<path d="M668.2 331.6 L669.9 332.5 L671.4 333.7 L672.8 335.2 L673.9 337.1 L674.7 339.1 L675.3 341.4 L675.7 343.9 L675.8 346.5 L675.6 349.2 L675.1 352 L674.4 354.7 L673.4 357.4 L672.3 360 L670.9 362.5 L669.3 364.8 L667.5 366.9 L665.6 368.7 L663.7 370.3 L661.6 371.5 L659.6 372.4 L657.5 372.9 L655.5 373.1 L653.6 372.9 L651.8 372.4 L650.1 371.5 L648.6 370.3 L647.2 368.8 L646.1 366.9 L645.3 364.9 L644.7 362.6 L644.3 360.1 L644.2 357.5 L644.4 354.8 L644.9 352 L645.6 349.3 L646.6 346.6 L647.7 344 L649.1 341.5 L650.7 339.2 L652.5 337.1 L654.4 335.3 L656.3 333.7 L658.4 332.5 L660.4 331.6 L662.5 331.1 L664.5 330.9 L666.4 331.1Z" fill="#fff" stroke="#000" stroke-width="1.7" />
<clipPath id="c7"><path d="M665.9 340.9 L666.8 341.4 L667.6 342.1 L668.3 343 L668.9 344.1 L669.4 345.3 L669.7 346.6 L669.8 348 L669.9 349.6 L669.7 351.2 L669.4 352.8 L669 354.4 L668.4 356 L667.7 357.5 L666.9 359 L666 360.4 L665 361.6 L663.9 362.7 L662.8 363.6 L661.7 364.4 L660.5 364.9 L659.3 365.3 L658.2 365.4 L657.1 365.3 L656.1 365.1 L655.2 364.6 L654.4 363.9 L653.7 363 L653.1 361.9 L652.6 360.7 L652.3 359.4 L652.2 358 L652.1 356.4 L652.3 354.8 L652.6 353.2 L653 351.6 L653.6 350 L654.3 348.5 L655.1 347 L656 345.6 L657 344.4 L658.1 343.3 L659.2 342.4 L660.3 341.6 L661.5 341.1 L662.7 340.7 L663.8 340.6 L664.9 340.7Z"/></clipPath>
<path d="M665.9 340.9 L666.8 341.4 L667.6 342.1 L668.3 343 L668.9 344.1 L669.4 345.3 L669.7 346.6 L669.8 348 L669.9 349.6 L669.7 351.2 L669.4 352.8 L669 354.4 L668.4 356 L667.7 357.5 L666.9 359 L666 360.4 L665 361.6 L663.9 362.7 L662.8 363.6 L661.7 364.4 L660.5 364.9 L659.3 365.3 L658.2 365.4 L657.1 365.3 L656.1 365.1 L655.2 364.6 L654.4 363.9 L653.7 363 L653.1 361.9 L652.6 360.7 L652.3 359.4 L652.2 358 L652.1 356.4 L652.3 354.8 L652.6 353.2 L653 351.6 L653.6 350 L654.3 348.5 L655.1 347 L656 345.6 L657 344.4 L658.1 343.3 L659.2 342.4 L660.3 341.6 L661.5 341.1 L662.7 340.7 L663.8 340.6 L664.9 340.7Z" fill="#000" stroke="#000" stroke-width="1.7" />
<g clip-path="url(#c7)"><path d="M662.9 339.7 L663.8 340.2 L664.7 340.9 L665.4 341.8 L666 342.9 L666.4 344.1 L666.7 345.4 L666.9 346.8 L666.9 348.4 L666.7 350 L666.5 351.6 L666 353.2 L665.5 354.8 L664.8 356.3 L663.9 357.8 L663 359.2 L662 360.4 L661 361.5 L659.8 362.4 L658.7 363.2 L657.5 363.7 L656.4 364.1 L655.2 364.2 L654.2 364.1 L653.2 363.9 L652.2 363.4 L651.4 362.7 L650.7 361.8 L650.1 360.7 L649.7 359.5 L649.3 358.2 L649.2 356.8 L649.2 355.2 L649.3 353.6 L649.6 352 L650 350.4 L650.6 348.8 L651.3 347.3 L652.1 345.8 L653 344.4 L654 343.2 L655.1 342.1 L656.2 341.2 L657.4 340.4 L658.5 339.9 L659.7 339.5 L660.8 339.4 L661.9 339.5Z" fill="#fff" stroke="#000" stroke-width="1.36" /></g>
<path d="M655 389.3 L655.7 382.3 L657.2 375.1 L659.6 367.8 L662.7 360.5 L666.5 353.3 L670.9 346.5 L675.9 340 L681.4 334.1 L687.2 328.7 L693.3 324.1 L699.7 320.2 L706 317.2 L712.4 315.1 L718.6 313.9 L724.5 313.7 L730.1 314.4 L735.2 316.1 L739.2 317.6 L743.8 320.2 L747.8 323.7 L751.1 327.9 L753.6 333 L755.4 338.6 L756.3 344.9 L756.4 351.6 L755.7 358.6 L754.2 365.8 L751.8 373.1 L748.7 380.4 L744.9 387.6 L740.5 394.4 L735.5 400.9 L730 406.8 L724.2 412.2 L718.1 416.8 L711.7 420.7 L705.4 423.7 L699 425.8 L692.8 427 L686.9 427.2 L681.3 426.5 L676.2 424.8 L672.2 423.3 L667.6 420.7 L663.6 417.2 L660.3 413 L657.8 407.9 L656 402.3 L655.1 396Z" fill="#fff" stroke="#000" stroke-width="2.0" />
<path d="M743.8 320.2 L747.8 323.7 L751.1 327.9 L753.6 333 L755.4 338.6 L756.3 344.9 L756.4 351.6 L755.7 358.6 L754.2 365.8 L751.8 373.1 L748.7 380.4 L744.9 387.6 L740.5 394.4 L735.5 400.9 L730 406.8 L724.2 412.2 L718.1 416.8 L711.7 420.7 L705.4 423.7 L699 425.8 L692.8 427 L686.9 427.2 L681.3 426.5 L676.2 424.8 L671.6 422.2 L667.6 418.7 L664.3 414.5 L661.8 409.4 L660 403.8 L659.1 397.5 L659 390.8 L659.7 383.8 L661.2 376.6 L663.6 369.3 L666.7 362 L670.5 354.8 L674.9 348 L679.9 341.5 L685.4 335.6 L691.2 330.2 L697.3 325.6 L703.7 321.7 L710 318.7 L716.4 316.6 L722.6 315.4 L728.5 315.2 L734.1 315.9 L739.2 317.6Z" fill="#fff" stroke="#000" stroke-width="1.9" />
<path d="M728.4 370 L728.7 372.3 L728.7 374.7 L728.3 377 L727.7 379.3 L726.8 381.4 L725.7 383.4 L724.3 385.2 L722.6 386.8 L720.8 388.2 L718.8 389.3 L716.7 390.2 L714.5 390.7 L712.3 391 L710 390.9 L707.8 390.5 L705.6 389.9 L703.5 388.9 L701.6 387.7 L699.8 386.2 L698.2 384.5 L696.9 382.6 L695.8 380.5 L694.9 378.3 L694.4 376 L694.1 373.7 L694.1 371.3 L694.5 369 L695.1 366.7 L696 364.6 L697.1 362.6 L698.5 360.8 L700.2 359.2 L702 357.8 L704 356.7 L706.1 355.8 L708.3 355.3 L710.5 355 L712.8 355.1 L715 355.5 L717.2 356.1 L719.3 357.1 L721.2 358.3 L723 359.8 L724.6 361.5 L725.9 363.4 L727 365.5 L727.9 367.7Z" fill="#fff" stroke="#000" stroke-width="1.9" />
<path d="M725.7 370.5 L725.9 372.4 L725.9 374.4 L725.6 376.3 L725.1 378.2 L724.3 380 L723.3 381.7 L722.2 383.2 L720.8 384.5 L719.3 385.7 L717.6 386.6 L715.8 387.3 L714 387.8 L712.1 388 L710.2 387.9 L708.3 387.6 L706.5 387.1 L704.8 386.3 L703.1 385.2 L701.7 384 L700.3 382.6 L699.2 381 L698.3 379.3 L697.6 377.4 L697.1 375.5 L696.9 373.6 L696.9 371.6 L697.2 369.7 L697.7 367.8 L698.5 366 L699.5 364.3 L700.6 362.8 L702 361.5 L703.5 360.3 L705.2 359.4 L707 358.7 L708.8 358.2 L710.7 358 L712.6 358.1 L714.5 358.4 L716.3 358.9 L718 359.7 L719.7 360.8 L721.1 362 L722.5 363.4 L723.6 365 L724.5 366.7 L725.2 368.6Z" fill="none" stroke="#000" stroke-width="1.2" />
<path d="M722.2 371.6 L722.4 373.1 L722.4 374.7 L722.2 376.3 L721.8 377.8 L721.3 379.2 L720.5 380.5 L719.6 381.7 L718.6 382.8 L717.5 383.7 L716.2 384.4 L714.9 385 L713.5 385.3 L712.1 385.5 L710.6 385.4 L709.2 385.1 L707.8 384.7 L706.5 384 L705.2 383.2 L704.1 382.2 L703.1 381.1 L702.2 379.8 L701.5 378.4 L700.9 376.9 L700.6 375.4 L700.4 373.9 L700.4 372.3 L700.6 370.7 L701 369.2 L701.5 367.8 L702.3 366.5 L703.2 365.3 L704.2 364.2 L705.3 363.3 L706.6 362.6 L707.9 362 L709.3 361.7 L710.7 361.5 L712.2 361.6 L713.6 361.9 L715 362.3 L716.3 363 L717.6 363.8 L718.7 364.8 L719.7 365.9 L720.6 367.2 L721.3 368.6 L721.9 370.1Z" fill="#fff" stroke="#000" stroke-width="1.6" />
<path d="M702 366 Q706 360 714 361 Q719 363 720 369 L716 370 Q714 366 709 366 Q705 368 705 374 Z" fill="#000" stroke="#000" stroke-width="1" />
<path d="M713 376 Q718 378 716 384" fill="none" stroke="#000" stroke-width="1.5" />
<path d="M704 352 L703.8 353 L703.4 353.8 L702.8 354.3 L702 354.5 L701.2 354.3 L700.6 353.8 L700.2 353 L700 352 L700.2 351 L700.6 350.2 L701.2 349.7 L702 349.5 L702.8 349.7 L703.4 350.2 L703.8 351Z" fill="#fff" stroke="#000" stroke-width="1.4" />
<path d="M723 344 L722.8 345 L722.4 345.8 L721.8 346.3 L721 346.5 L720.2 346.3 L719.6 345.8 L719.2 345 L719 344 L719.2 343 L719.6 342.2 L720.2 341.7 L721 341.5 L721.8 341.7 L722.4 342.2 L722.8 343Z" fill="#fff" stroke="#000" stroke-width="1.4" />
<path d="M723 393 L722.8 394 L722.4 394.8 L721.8 395.3 L721 395.5 L720.2 395.3 L719.6 394.8 L719.2 394 L719 393 L719.2 392 L719.6 391.2 L720.2 390.7 L721 390.5 L721.8 390.7 L722.4 391.2 L722.8 392Z" fill="#fff" stroke="#000" stroke-width="1.4" />
<path d="M704 399 L703.8 400 L703.4 400.8 L702.8 401.3 L702 401.5 L701.2 401.3 L700.6 400.8 L700.2 400 L700 399 L700.2 398 L700.6 397.2 L701.2 396.7 L702 396.5 L702.8 396.7 L703.4 397.2 L703.8 398Z" fill="#fff" stroke="#000" stroke-width="1.4" />
<path d="M724.2 391.7 L724.3 389.9 L724.6 388.2 L725.1 386.4 L725.7 384.6 L726.5 382.9 L727.5 381.3 L728.6 379.7 L729.8 378.4 L731.1 377.1 L732.5 376.1 L733.9 375.2 L735.4 374.6 L736.8 374.2 L738.3 374 L739.6 374 L740.9 374.3 L742.2 374.8 L744.8 376.2 L745.9 376.9 L746.9 377.8 L747.7 379 L748.3 380.3 L748.8 381.7 L749.1 383.3 L749.1 384.9 L749.1 386.7 L748.8 388.4 L748.3 390.2 L747.6 392 L746.8 393.7 L745.9 395.3 L744.8 396.8 L743.6 398.2 L742.2 399.5 L740.9 400.5 L739.4 401.4 L738 402 L736.5 402.4 L735.1 402.6 L733.7 402.6 L732.4 402.3 L731.2 401.8 L728.5 400.4 L727.4 399.7 L726.5 398.7 L725.7 397.6 L725 396.3 L724.6 394.9 L724.3 393.3Z" fill="#000" stroke="#000" stroke-width="1.7" />
<path d="M744.8 376.2 L745.9 376.9 L746.9 377.8 L747.7 379 L748.3 380.3 L748.8 381.7 L749.1 383.3 L749.1 384.9 L749.1 386.7 L748.8 388.4 L748.3 390.2 L747.6 392 L746.8 393.7 L745.9 395.3 L744.8 396.8 L743.6 398.2 L742.2 399.5 L740.9 400.5 L739.4 401.4 L738 402 L736.5 402.4 L735.1 402.6 L733.7 402.6 L732.4 402.3 L731.2 401.8 L730.1 401.1 L729.1 400.2 L728.3 399 L727.7 397.7 L727.2 396.3 L726.9 394.7 L726.9 393.1 L726.9 391.3 L727.2 389.6 L727.7 387.8 L728.4 386 L729.2 384.3 L730.1 382.7 L731.2 381.2 L732.4 379.8 L733.8 378.5 L735.1 377.5 L736.6 376.6 L738 376 L739.5 375.6 L740.9 375.4 L742.3 375.4 L743.6 375.7Z" fill="#fff" stroke="#000" stroke-width="1.7" />
<clipPath id="c8"><path d="M741.8 381.9 L742.4 382.3 L742.9 382.8 L743.3 383.5 L743.7 384.2 L743.9 385 L744.1 385.8 L744.1 386.7 L744.1 387.7 L743.9 388.7 L743.7 389.7 L743.3 390.6 L742.9 391.6 L742.3 392.5 L741.7 393.3 L741 394.1 L740.3 394.8 L739.6 395.3 L738.8 395.8 L738 396.2 L737.2 396.4 L736.4 396.5 L735.6 396.5 L734.9 396.3 L734.2 396.1 L733.6 395.7 L733.1 395.2 L732.7 394.5 L732.3 393.8 L732.1 393 L731.9 392.2 L731.9 391.3 L731.9 390.3 L732.1 389.3 L732.3 388.3 L732.7 387.4 L733.1 386.4 L733.7 385.5 L734.3 384.7 L735 383.9 L735.7 383.2 L736.4 382.7 L737.2 382.2 L738 381.8 L738.8 381.6 L739.6 381.5 L740.4 381.5 L741.1 381.7Z"/></clipPath>
<path d="M741.8 381.9 L742.4 382.3 L742.9 382.8 L743.3 383.5 L743.7 384.2 L743.9 385 L744.1 385.8 L744.1 386.7 L744.1 387.7 L743.9 388.7 L743.7 389.7 L743.3 390.6 L742.9 391.6 L742.3 392.5 L741.7 393.3 L741 394.1 L740.3 394.8 L739.6 395.3 L738.8 395.8 L738 396.2 L737.2 396.4 L736.4 396.5 L735.6 396.5 L734.9 396.3 L734.2 396.1 L733.6 395.7 L733.1 395.2 L732.7 394.5 L732.3 393.8 L732.1 393 L731.9 392.2 L731.9 391.3 L731.9 390.3 L732.1 389.3 L732.3 388.3 L732.7 387.4 L733.1 386.4 L733.7 385.5 L734.3 384.7 L735 383.9 L735.7 383.2 L736.4 382.7 L737.2 382.2 L738 381.8 L738.8 381.6 L739.6 381.5 L740.4 381.5 L741.1 381.7Z" fill="#000" stroke="#000" stroke-width="1.7" />
<g clip-path="url(#c8)"><path d="M739.6 380.8 L740.2 381.2 L740.8 381.7 L741.2 382.3 L741.6 383 L741.8 383.8 L742 384.7 L742 385.6 L742 386.6 L741.8 387.6 L741.5 388.5 L741.2 389.5 L740.7 390.5 L740.2 391.4 L739.6 392.2 L738.9 393 L738.2 393.6 L737.4 394.2 L736.7 394.7 L735.9 395 L735.1 395.3 L734.3 395.4 L733.5 395.4 L732.8 395.2 L732.1 394.9 L731.5 394.5 L731 394 L730.6 393.4 L730.2 392.7 L729.9 391.9 L729.8 391 L729.7 390.1 L729.8 389.2 L730 388.2 L730.2 387.2 L730.6 386.2 L731 385.3 L731.6 384.4 L732.2 383.6 L732.8 382.8 L733.6 382.1 L734.3 381.5 L735.1 381.1 L735.9 380.7 L736.7 380.5 L737.5 380.4 L738.3 380.4 L739 380.5Z" fill="#fff" stroke="#000" stroke-width="1.36" /></g>
<path d="M739.7 396.4 L739.9 394.9 L740.2 393.3 L740.7 391.7 L741.4 390.3 L742.3 388.9 L743.3 387.6 L744.4 386.4 L745.6 385.4 L746.9 384.6 L748.3 383.9 L749.7 383.4 L751.1 383.2 L752.6 383.1 L754 383.2 L755.3 383.6 L756.6 384.1 L761.9 387 L763 387.7 L764.1 388.6 L765 389.7 L765.7 390.9 L766.3 392.2 L766.7 393.7 L766.9 395.2 L767 396.8 L766.8 398.3 L766.5 399.9 L766 401.4 L765.3 402.9 L764.4 404.3 L763.4 405.6 L762.3 406.8 L761.1 407.8 L759.8 408.6 L758.4 409.3 L757 409.8 L755.6 410 L754.1 410.1 L752.7 409.9 L751.4 409.6 L750.1 409 L744.8 406.2 L743.7 405.5 L742.6 404.6 L741.7 403.5 L741 402.3 L740.4 400.9 L740 399.5 L739.8 398Z" fill="#fff" stroke="#000" stroke-width="1.7" />
<path d="M761.9 387 L763 387.7 L764.1 388.6 L765 389.7 L765.7 390.9 L766.3 392.2 L766.7 393.7 L766.9 395.2 L767 396.8 L766.8 398.3 L766.5 399.9 L766 401.4 L765.3 402.9 L764.4 404.3 L763.4 405.6 L762.3 406.8 L761.1 407.8 L759.8 408.6 L758.4 409.3 L757 409.8 L755.6 410 L754.1 410.1 L752.7 409.9 L751.4 409.6 L750.1 409 L749 408.3 L747.9 407.4 L747 406.3 L746.3 405.1 L745.7 403.8 L745.3 402.3 L745.1 400.8 L745 399.2 L745.2 397.7 L745.5 396.1 L746 394.6 L746.7 393.1 L747.6 391.7 L748.6 390.4 L749.7 389.2 L750.9 388.2 L752.2 387.4 L753.6 386.7 L755 386.2 L756.4 386 L757.9 385.9 L759.3 386.1 L760.6 386.4Z" fill="#fff" stroke="#000" stroke-width="1.7" />
<clipPath id="c9"><path d="M758.6 393.1 L759.1 393.5 L759.5 393.9 L759.9 394.3 L760.2 394.9 L760.5 395.4 L760.6 396.1 L760.7 396.7 L760.7 397.4 L760.7 398.1 L760.5 398.8 L760.3 399.5 L760 400.1 L759.6 400.7 L759.2 401.3 L758.7 401.8 L758.1 402.3 L757.6 402.6 L757 402.9 L756.4 403.1 L755.8 403.3 L755.1 403.3 L754.5 403.2 L754 403.1 L753.4 402.9 L752.9 402.5 L752.5 402.1 L752.1 401.7 L751.8 401.1 L751.5 400.6 L751.4 399.9 L751.3 399.3 L751.3 398.6 L751.3 397.9 L751.5 397.2 L751.7 396.5 L752 395.9 L752.4 395.3 L752.8 394.7 L753.3 394.2 L753.9 393.7 L754.4 393.4 L755 393.1 L755.6 392.9 L756.2 392.7 L756.9 392.7 L757.5 392.8 L758 392.9Z"/></clipPath>
<path d="M758.6 393.1 L759.1 393.5 L759.5 393.9 L759.9 394.3 L760.2 394.9 L760.5 395.4 L760.6 396.1 L760.7 396.7 L760.7 397.4 L760.7 398.1 L760.5 398.8 L760.3 399.5 L760 400.1 L759.6 400.7 L759.2 401.3 L758.7 401.8 L758.1 402.3 L757.6 402.6 L757 402.9 L756.4 403.1 L755.8 403.3 L755.1 403.3 L754.5 403.2 L754 403.1 L753.4 402.9 L752.9 402.5 L752.5 402.1 L752.1 401.7 L751.8 401.1 L751.5 400.6 L751.4 399.9 L751.3 399.3 L751.3 398.6 L751.3 397.9 L751.5 397.2 L751.7 396.5 L752 395.9 L752.4 395.3 L752.8 394.7 L753.3 394.2 L753.9 393.7 L754.4 393.4 L755 393.1 L755.6 392.9 L756.2 392.7 L756.9 392.7 L757.5 392.8 L758 392.9Z" fill="#222" stroke="#000" stroke-width="1.7" />
<g clip-path="url(#c9)"><path d="M754.3 390.9 L754.8 391.2 L755.3 391.6 L755.7 392.1 L756 392.6 L756.2 393.2 L756.4 393.8 L756.5 394.5 L756.5 395.1 L756.4 395.8 L756.3 396.5 L756 397.2 L755.7 397.9 L755.4 398.5 L754.9 399 L754.4 399.6 L753.9 400 L753.3 400.4 L752.7 400.7 L752.1 400.9 L751.5 401 L750.9 401 L750.3 401 L749.7 400.8 L749.2 400.6 L748.7 400.3 L748.2 399.9 L747.9 399.4 L747.5 398.9 L747.3 398.3 L747.1 397.7 L747 397 L747 396.3 L747.1 395.7 L747.3 395 L747.5 394.3 L747.8 393.6 L748.2 393 L748.6 392.4 L749.1 391.9 L749.6 391.5 L750.2 391.1 L750.8 390.8 L751.4 390.6 L752 390.5 L752.6 390.5 L753.2 390.5 L753.8 390.7Z" fill="#fff" stroke="#000" stroke-width="1.36" /></g>
<path d="M756.3 409.6 L756.4 407.6 L756.7 405.7 L757.2 403.7 L757.9 401.7 L758.8 399.8 L759.8 398 L761.1 396.4 L762.4 394.9 L763.9 393.5 L765.5 392.4 L767.1 391.4 L768.7 390.7 L770.4 390.3 L772 390.1 L773.6 390.2 L775.1 390.5 L776.4 391.1 L783.5 394.9 L784.8 395.7 L785.9 396.8 L786.8 398 L787.6 399.5 L788.1 401.1 L788.5 402.8 L788.6 404.7 L788.5 406.6 L788.3 408.6 L787.8 410.6 L787 412.5 L786.2 414.4 L785.1 416.2 L783.9 417.9 L782.5 419.4 L781 420.7 L779.5 421.9 L777.9 422.8 L776.2 423.5 L774.6 423.9 L772.9 424.1 L771.4 424 L769.9 423.7 L768.5 423.1 L761.4 419.4 L760.2 418.5 L759.1 417.5 L758.1 416.2 L757.4 414.8 L756.8 413.2 L756.4 411.4Z" fill="#fff" stroke="#000" stroke-width="1.7" />
<path d="M783.5 394.9 L784.8 395.7 L785.9 396.8 L786.8 398 L787.6 399.5 L788.1 401.1 L788.5 402.8 L788.6 404.7 L788.5 406.6 L788.3 408.6 L787.8 410.6 L787 412.5 L786.2 414.4 L785.1 416.2 L783.9 417.9 L782.5 419.4 L781 420.7 L779.5 421.9 L777.9 422.8 L776.2 423.5 L774.6 423.9 L772.9 424.1 L771.4 424 L769.9 423.7 L768.5 423.1 L767.2 422.3 L766.1 421.2 L765.2 420 L764.4 418.5 L763.9 416.9 L763.5 415.2 L763.4 413.3 L763.5 411.4 L763.7 409.4 L764.2 407.4 L765 405.5 L765.8 403.6 L766.9 401.8 L768.1 400.1 L769.5 398.6 L771 397.3 L772.5 396.1 L774.1 395.2 L775.8 394.5 L777.4 394.1 L779.1 393.9 L780.6 394 L782.1 394.3Z" fill="#fff" stroke="#000" stroke-width="1.7" />
<clipPath id="c10"><path d="M780.5 400.6 L781.2 401.1 L781.8 401.7 L782.3 402.4 L782.7 403.3 L783 404.2 L783.2 405.2 L783.3 406.3 L783.2 407.4 L783 408.6 L782.7 409.8 L782.3 410.9 L781.7 412.1 L781.1 413.1 L780.4 414.1 L779.6 415 L778.7 415.8 L777.8 416.5 L776.9 417.1 L776 417.5 L775 417.8 L774.1 417.9 L773.2 417.9 L772.3 417.7 L771.5 417.4 L770.8 416.9 L770.2 416.3 L769.7 415.6 L769.3 414.7 L769 413.8 L768.8 412.8 L768.7 411.7 L768.8 410.6 L769 409.4 L769.3 408.2 L769.7 407.1 L770.3 405.9 L770.9 404.9 L771.6 403.9 L772.4 403 L773.3 402.2 L774.2 401.5 L775.1 400.9 L776 400.5 L777 400.2 L777.9 400.1 L778.8 400.1 L779.7 400.3Z"/></clipPath>
<path d="M780.5 400.6 L781.2 401.1 L781.8 401.7 L782.3 402.4 L782.7 403.3 L783 404.2 L783.2 405.2 L783.3 406.3 L783.2 407.4 L783 408.6 L782.7 409.8 L782.3 410.9 L781.7 412.1 L781.1 413.1 L780.4 414.1 L779.6 415 L778.7 415.8 L777.8 416.5 L776.9 417.1 L776 417.5 L775 417.8 L774.1 417.9 L773.2 417.9 L772.3 417.7 L771.5 417.4 L770.8 416.9 L770.2 416.3 L769.7 415.6 L769.3 414.7 L769 413.8 L768.8 412.8 L768.7 411.7 L768.8 410.6 L769 409.4 L769.3 408.2 L769.7 407.1 L770.3 405.9 L770.9 404.9 L771.6 403.9 L772.4 403 L773.3 402.2 L774.2 401.5 L775.1 400.9 L776 400.5 L777 400.2 L777.9 400.1 L778.8 400.1 L779.7 400.3Z" fill="#000" stroke="#000" stroke-width="1.7" />
<g clip-path="url(#c10)"><path d="M774.8 397.6 L775.5 398.1 L776.1 398.7 L776.7 399.4 L777.1 400.3 L777.4 401.2 L777.6 402.2 L777.6 403.3 L777.5 404.4 L777.4 405.6 L777 406.8 L776.6 407.9 L776.1 409 L775.5 410.1 L774.7 411.1 L773.9 412 L773.1 412.8 L772.2 413.5 L771.3 414.1 L770.3 414.5 L769.4 414.8 L768.4 414.9 L767.5 414.9 L766.7 414.7 L765.9 414.4 L765.2 413.9 L764.6 413.3 L764 412.6 L763.6 411.7 L763.3 410.8 L763.1 409.8 L763.1 408.7 L763.1 407.5 L763.3 406.4 L763.7 405.2 L764.1 404.1 L764.6 402.9 L765.2 401.9 L766 400.9 L766.8 400 L767.6 399.2 L768.5 398.5 L769.4 397.9 L770.4 397.5 L771.3 397.2 L772.3 397.1 L773.2 397.1 L774 397.3Z" fill="#fff" stroke="#000" stroke-width="1.36" /></g>
<path d="M774.7 420.5 L774.8 418.5 L775.2 416.4 L775.7 414.3 L776.5 412.3 L777.4 410.3 L778.6 408.3 L779.8 406.6 L781.3 404.9 L782.8 403.5 L784.4 402.2 L786 401.2 L787.7 400.5 L789.4 400 L791.1 399.7 L792.7 399.8 L794.2 400.1 L795.6 400.6 L800 403 L801.2 403.8 L802.3 404.9 L803.3 406.2 L804 407.7 L804.5 409.4 L804.8 411.2 L804.9 413.1 L804.8 415.2 L804.4 417.2 L803.9 419.3 L803.1 421.4 L802.2 423.4 L801 425.3 L799.7 427.1 L798.3 428.7 L796.8 430.2 L795.2 431.4 L793.5 432.4 L791.8 433.2 L790.2 433.7 L788.5 433.9 L786.9 433.9 L785.4 433.6 L784 433 L779.6 430.7 L778.3 429.8 L777.2 428.8 L776.3 427.5 L775.6 426 L775.1 424.3 L774.8 422.4Z" fill="#fff" stroke="#000" stroke-width="1.7" />
<path d="M800 403 L801.2 403.8 L802.3 404.9 L803.3 406.2 L804 407.7 L804.5 409.4 L804.8 411.2 L804.9 413.1 L804.8 415.2 L804.4 417.2 L803.9 419.3 L803.1 421.4 L802.2 423.4 L801 425.3 L799.7 427.1 L798.3 428.7 L796.8 430.2 L795.2 431.4 L793.5 432.4 L791.8 433.2 L790.2 433.7 L788.5 433.9 L786.9 433.9 L785.4 433.6 L784 433 L782.8 432.2 L781.7 431.1 L780.7 429.8 L780 428.3 L779.5 426.6 L779.2 424.8 L779.1 422.9 L779.2 420.8 L779.6 418.8 L780.1 416.7 L780.9 414.6 L781.8 412.6 L783 410.7 L784.3 408.9 L785.7 407.3 L787.2 405.8 L788.8 404.6 L790.5 403.6 L792.2 402.8 L793.8 402.3 L795.5 402.1 L797.1 402.1 L798.6 402.4Z" fill="#fff" stroke="#000" stroke-width="1.7" />
<clipPath id="c11"><path d="M796.7 409.2 L797.5 409.7 L798.1 410.3 L798.7 411.1 L799.2 412 L799.5 413 L799.7 414.1 L799.8 415.2 L799.7 416.4 L799.5 417.7 L799.2 418.9 L798.7 420.1 L798.2 421.3 L797.5 422.4 L796.8 423.5 L795.9 424.4 L795 425.3 L794 426 L793.1 426.6 L792 427 L791 427.3 L790 427.4 L789.1 427.4 L788.2 427.2 L787.3 426.8 L786.5 426.3 L785.9 425.7 L785.3 424.9 L784.8 424 L784.5 423 L784.3 421.9 L784.2 420.8 L784.3 419.6 L784.5 418.3 L784.8 417.1 L785.3 415.9 L785.8 414.7 L786.5 413.6 L787.2 412.5 L788.1 411.6 L789 410.7 L790 410 L790.9 409.4 L792 409 L793 408.7 L794 408.6 L794.9 408.6 L795.8 408.8Z"/></clipPath>
<path d="M796.7 409.2 L797.5 409.7 L798.1 410.3 L798.7 411.1 L799.2 412 L799.5 413 L799.7 414.1 L799.8 415.2 L799.7 416.4 L799.5 417.7 L799.2 418.9 L798.7 420.1 L798.2 421.3 L797.5 422.4 L796.8 423.5 L795.9 424.4 L795 425.3 L794 426 L793.1 426.6 L792 427 L791 427.3 L790 427.4 L789.1 427.4 L788.2 427.2 L787.3 426.8 L786.5 426.3 L785.9 425.7 L785.3 424.9 L784.8 424 L784.5 423 L784.3 421.9 L784.2 420.8 L784.3 419.6 L784.5 418.3 L784.8 417.1 L785.3 415.9 L785.8 414.7 L786.5 413.6 L787.2 412.5 L788.1 411.6 L789 410.7 L790 410 L790.9 409.4 L792 409 L793 408.7 L794 408.6 L794.9 408.6 L795.8 408.8Z" fill="#000" stroke="#000" stroke-width="1.7" />
<g clip-path="url(#c11)"><path d="M793.2 407.3 L793.9 407.8 L794.6 408.4 L795.2 409.2 L795.6 410.1 L796 411.1 L796.2 412.2 L796.2 413.4 L796.2 414.6 L796 415.8 L795.7 417 L795.2 418.2 L794.6 419.4 L794 420.5 L793.2 421.6 L792.4 422.5 L791.5 423.4 L790.5 424.1 L789.5 424.7 L788.5 425.1 L787.5 425.4 L786.5 425.5 L785.5 425.5 L784.6 425.3 L783.8 425 L783 424.4 L782.3 423.8 L781.8 423 L781.3 422.1 L781 421.1 L780.8 420 L780.7 418.9 L780.8 417.7 L781 416.5 L781.3 415.2 L781.7 414 L782.3 412.8 L783 411.7 L783.7 410.7 L784.6 409.7 L785.5 408.9 L786.4 408.1 L787.4 407.6 L788.4 407.1 L789.4 406.8 L790.4 406.7 L791.4 406.7 L792.3 406.9Z" fill="#fff" stroke="#000" stroke-width="1.36" /></g>
<path d="M797 404 L801 410" fill="none" stroke="#fff" stroke-width="3" />
<path d="M662 146 L665 136 L670 126 L678 116 L690 107 L702 101 L714 99 L726 100 L738 104 L748 112 L755 120 L757 129 L754 134 L750 135 L736 131 L726 126 L716 129 L710 138 L696 146 L690 154 L686 162 L680 164 L670 159 L664 154Z" fill="#fff" stroke="#000" stroke-width="2" />
<path d="M662 146 L665 136 L670 126 L678 116 L690 107 L702 101 L714 99 L726 100 L738 104 L748 112 L755 120 L757 129 L754 123 L746 117 L734 114 L718 113 L702 115 L686 120 L674 130 L666 140Z" fill="url(#lin)" stroke="#000" stroke-width="1.6" />
<path d="M668 146 L680 136 L700 126 L718 123 L734 125 L750 130" fill="none" stroke="#000" stroke-width="1.4" />
<path d="M662 146 L664 154 L670 159 L680 164 L686 162 L688 152 L684 146 L676 142 L668 141Z" fill="#fff" stroke="#000" stroke-width="1.8" />
<path d="M668 148 L674 147 L675 155 L669 156Z" fill="#fff" stroke="#000" stroke-width="1.5" />
<path d="M731.9 127.5 L731.9 128.5 L731.4 129.5 L730.6 130.4 L729.5 131.2 L728.2 131.8 L726.7 132.2 L725.1 132.4 L723.6 132.3 L722.3 131.9 L721.2 131.3 L720.5 130.5 L720.1 129.5 L720.1 128.5 L720.6 127.5 L721.4 126.6 L722.5 125.8 L723.8 125.2 L725.3 124.8 L726.9 124.6 L728.4 124.7 L729.7 125.1 L730.8 125.7 L731.5 126.5Z" fill="#fff" stroke="#000" stroke-width="1.8" />
<path d="M752.8 129 L752.7 129.5 L752.6 129.9 L752.3 130.3 L751.9 130.6 L751.5 130.7 L751 130.8 L750.5 130.7 L750.1 130.6 L749.7 130.3 L749.4 129.9 L749.3 129.5 L749.2 129 L749.3 128.5 L749.4 128.1 L749.7 127.7 L750.1 127.4 L750.5 127.3 L751 127.2 L751.5 127.3 L751.9 127.4 L752.3 127.7 L752.6 128.1 L752.7 128.5Z" fill="#000" stroke="#000" stroke-width="1.2" />
<path d="M685 157 L684.9 157.5 L684.7 157.9 L684.4 158.3 L684 158.6 L683.5 158.7 L683 158.8 L682.5 158.7 L682 158.6 L681.6 158.3 L681.3 157.9 L681.1 157.5 L681 157 L681.1 156.5 L681.3 156.1 L681.6 155.7 L682 155.4 L682.5 155.3 L683 155.2 L683.5 155.3 L684 155.4 L684.4 155.7 L684.7 156.1 L684.9 156.5Z" fill="#000" stroke="#000" stroke-width="1.2" />
<path d="M666 187.4 L688 188.5 L699 187.4 L710 182 L721 172 L732 161 L738.6 157.7 L745 158.8 L750.7 163.2 L752.9 169.8 L751.8 178.6 L746.3 188.5 L737.5 197.3 L726.5 206 L715.5 212.7 L704.5 216 L693.5 217 L682.5 213.8 L671.5 207 L666 200Z" fill="#fff" stroke="#000" stroke-width="2" />
<path d="M752.9 170 L751.8 178.6 L746.3 188.5 L737.5 197.3 L726.5 206 L715.5 212.7 L704.5 216 L693.5 217 L682.5 213.8 L671.5 207 L668 204 L676 207 L686 210 L700 211 L714 207 L726 200 L738 191 L746 181 L750 172Z" fill="url(#lin2)" stroke="#000" stroke-width="1.5" />
<path d="M679 196 L703 195 L723 186 L740.8 172 L748.5 165.4" fill="none" stroke="#000" stroke-width="1.4" />
<ellipse cx="668" cy="195" rx="4" ry="8" fill="#fff" stroke="#000" stroke-width="1.4"/>
<ellipse cx="672" cy="197" rx="4" ry="8" fill="#fff" stroke="#000" stroke-width="1.4"/>
<ellipse cx="676" cy="199" rx="4" ry="8" fill="#fff" stroke="#000" stroke-width="1.4"/>
<path d="M704.5 195 L718.8 189.6 L712 205Z" fill="#fff" stroke="#000" stroke-width="1.5" />
<path d="M714.6 198 L714.5 198.4 L714.4 198.8 L714.1 199.1 L713.8 199.4 L713.4 199.5 L713 199.6 L712.6 199.5 L712.2 199.4 L711.9 199.1 L711.6 198.8 L711.5 198.4 L711.4 198 L711.5 197.6 L711.6 197.2 L711.9 196.9 L712.2 196.6 L712.6 196.5 L713 196.4 L713.4 196.5 L713.8 196.6 L714.1 196.9 L714.4 197.2 L714.5 197.6Z" fill="#000" stroke="#000" stroke-width="1.1" />
<path d="M732 161 L738.6 159 L736 170 L731 168Z" fill="#fff" stroke="#000" stroke-width="1.3" />
<path d="M750.3 169.8 L750.2 170.3 L750.1 170.7 L749.8 171.1 L749.4 171.4 L749 171.5 L748.5 171.6 L748 171.5 L747.6 171.4 L747.2 171.1 L746.9 170.7 L746.8 170.3 L746.7 169.8 L746.8 169.3 L746.9 168.9 L747.2 168.5 L747.6 168.2 L748 168.1 L748.5 168 L749 168.1 L749.4 168.2 L749.8 168.5 L750.1 168.9 L750.2 169.3Z" fill="#000" stroke="#000" stroke-width="1.2" />
<path d="M680.8 201 L680.7 201.5 L680.6 201.9 L680.3 202.3 L679.9 202.6 L679.5 202.7 L679 202.8 L678.5 202.7 L678.1 202.6 L677.7 202.3 L677.4 201.9 L677.3 201.5 L677.2 201 L677.3 200.5 L677.4 200.1 L677.7 199.7 L678.1 199.4 L678.5 199.3 L679 199.2 L679.5 199.3 L679.9 199.4 L680.3 199.7 L680.6 200.1 L680.7 200.5Z" fill="#000" stroke="#000" stroke-width="1.2" />
<path d="M646 144 L645 152 L644 160 L643 168 L642 176 L642 180" fill="none" stroke="#000" stroke-width="5" />
<circle cx="646" cy="147" r="1.2" fill="#fff"/>
<circle cx="645" cy="155" r="1.2" fill="#fff"/>
<circle cx="644" cy="163" r="1.2" fill="#fff"/>
<circle cx="643" cy="171" r="1.2" fill="#fff"/>
<circle cx="642" cy="179" r="1.2" fill="#fff"/>
<path d="M721.1 239.2 L721.2 238.6 L721.3 238 L721.5 237.4 L721.7 236.8 L722 236.2 L722.4 235.7 L722.8 235.2 L723.2 234.7 L723.7 234.3 L724.2 234 L724.7 233.7 L725.2 233.5 L725.7 233.4 L726.2 233.3 L726.7 233.4 L727.2 233.5 L727.6 233.7 L734.5 237.7 L734.9 237.9 L735.2 238.3 L735.5 238.7 L735.7 239.1 L735.8 239.6 L735.9 240.2 L735.9 240.8 L735.9 241.4 L735.8 242 L735.6 242.6 L735.3 243.2 L735 243.8 L734.7 244.3 L734.3 244.8 L733.8 245.3 L733.4 245.7 L732.9 246 L732.4 246.3 L731.9 246.5 L731.4 246.6 L730.9 246.7 L730.4 246.6 L729.9 246.5 L729.5 246.3 L722.6 242.3 L722.2 242.1 L721.9 241.7 L721.6 241.3 L721.4 240.9 L721.2 240.4 L721.2 239.8Z" fill="#fff" stroke="#000" stroke-width="1.5" />
<path d="M734.5 237.7 L734.9 237.9 L735.2 238.3 L735.5 238.7 L735.7 239.1 L735.8 239.6 L735.9 240.2 L735.9 240.8 L735.9 241.4 L735.8 242 L735.6 242.6 L735.3 243.2 L735 243.8 L734.7 244.3 L734.3 244.8 L733.8 245.3 L733.4 245.7 L732.9 246 L732.4 246.3 L731.9 246.5 L731.4 246.6 L730.9 246.7 L730.4 246.6 L729.9 246.5 L729.5 246.3 L729.1 246.1 L728.8 245.7 L728.5 245.3 L728.3 244.9 L728.2 244.4 L728.1 243.8 L728.1 243.2 L728.1 242.6 L728.2 242 L728.4 241.4 L728.7 240.8 L729 240.2 L729.3 239.7 L729.7 239.2 L730.2 238.7 L730.6 238.3 L731.1 238 L731.6 237.7 L732.1 237.5 L732.6 237.4 L733.1 237.3 L733.6 237.4 L734.1 237.5Z" fill="#fff" stroke="#000" stroke-width="1.5" />
<path d="M840 184 C837.1 176.5 838.9 174 841 166 C843.1 158 842.9 159.3 848 154 C853.1 148.7 852.5 148.9 860 146 C867.5 143.1 867.2 143.5 876 143 C884.8 142.5 886.1 142.9 893 144 C899.9 145.1 903.9 143.3 902 147 C900.1 150.7 893.5 151.9 886 158 C878.5 164.1 879.3 162 874 170 C868.7 178 871.9 181.6 866 188 C860.1 194.4 858.9 195.1 852 194 C845.1 192.9 842.9 191.5 840 184Z" fill="#747474" stroke="none" stroke-width="0" />
<path d="M850 160 L860 150 L872 148 L866 160 L856 170Z" fill="#8a8a8a" stroke="none" stroke-width="0" />
<path d="M837 194 L848 190 L860 193 L861 206 L852 212 L838 210Z" fill="#a8a8a8" stroke="none" stroke-width="0" />
<path d="M843 206 L855 204 L858 240 L856 258 L848 258 L845 240Z" fill="#c8c8c8" stroke="none" stroke-width="0" />
<path d="M851 210 L852 256" fill="none" stroke="#2a2a2a" stroke-width="3.4" stroke-dasharray="1.6 1.4"/>
<path d="M846 256 L858 254 L870 284 L852 288Z" fill="#8e8e8e" stroke="none" stroke-width="0" />
<path d="M899.6 151.7 L904.2 152.9 L908.5 155.3 L912.5 158.8 L916.1 163.3 L919.3 168.8 L922 175.2 L924.1 182.4 L925.7 190.2 L926.6 198.5 L926.9 207.2 L926.6 216 L925.6 225 L924.1 233.9 L921.9 242.5 L919.3 250.8 L916.1 258.5 L912.4 265.6 L908.4 271.9 L904.1 277.3 L899.5 281.7 L894.8 285 L890 287.3 L885.1 288.4 L880.4 288.3 L875.8 287.1 L871.5 284.7 L867.5 281.2 L863.9 276.7 L860.7 271.2 L858 264.8 L855.9 257.6 L854.3 249.8 L853.4 241.5 L853.1 232.8 L853.4 224 L854.4 215 L855.9 206.1 L858.1 197.5 L860.7 189.2 L863.9 181.5 L867.6 174.4 L871.6 168.1 L875.9 162.7 L880.5 158.3 L885.2 155 L890 152.7 L894.9 151.6Z" fill="#6e6e6e" stroke="none" stroke-width="0" />
<path d="M904.6 149.7 L909.2 150.9 L913.5 153.3 L917.5 156.8 L921.1 161.3 L924.3 166.8 L927 173.2 L929.1 180.4 L930.7 188.2 L931.6 196.5 L931.9 205.2 L931.6 214 L930.6 223 L929.1 231.9 L926.9 240.5 L924.3 248.8 L921.1 256.5 L917.4 263.6 L913.4 269.9 L909.1 275.3 L904.5 279.7 L899.8 283 L895 285.3 L890.1 286.4 L885.4 286.3 L880.8 285.1 L876.5 282.7 L872.5 279.2 L868.9 274.7 L865.7 269.2 L863 262.8 L860.9 255.6 L859.3 247.8 L858.4 239.5 L858.1 230.8 L858.4 222 L859.4 213 L860.9 204.1 L863.1 195.5 L865.7 187.2 L868.9 179.5 L872.6 172.4 L876.6 166.1 L880.9 160.7 L885.5 156.3 L890.2 153 L895 150.7 L899.9 149.6Z" fill="url(#photoT)" stroke="#4a4a4a" stroke-width="1.0" />
<path d="M897.7 194.1 L899.6 194.4 L901.4 195.2 L903.1 196.3 L904.7 197.9 L906.2 199.8 L907.5 202.1 L908.5 204.6 L909.4 207.4 L910 210.4 L910.4 213.5 L910.6 216.7 L910.5 220 L910.1 223.3 L909.5 226.4 L908.7 229.5 L907.7 232.3 L906.4 235 L905 237.3 L903.4 239.4 L901.7 241.1 L899.9 242.4 L898.1 243.4 L896.2 243.9 L894.3 243.9 L892.4 243.6 L890.6 242.8 L888.9 241.7 L887.3 240.1 L885.8 238.2 L884.5 235.9 L883.5 233.4 L882.6 230.6 L882 227.6 L881.6 224.5 L881.4 221.3 L881.5 218 L881.9 214.7 L882.5 211.6 L883.3 208.5 L884.3 205.7 L885.6 203 L887 200.7 L888.6 198.6 L890.3 196.9 L892.1 195.6 L893.9 194.6 L895.8 194.1Z" fill="#c9c9c9" stroke="#8a8a8a" stroke-width="1.4" />
<path d="M899.3 199 L900.5 199.3 L901.8 199.8 L903 200.7 L904.1 201.8 L905.1 203.2 L905.9 204.8 L906.7 206.6 L907.3 208.6 L907.7 210.8 L908 213 L908.1 215.3 L908 217.7 L907.7 220 L907.3 222.3 L906.7 224.5 L906 226.6 L905.1 228.5 L904.2 230.2 L903.1 231.7 L901.9 232.9 L900.7 233.9 L899.4 234.5 L898.1 234.9 L896.7 235 L895.5 234.7 L894.2 234.2 L893 233.3 L891.9 232.2 L890.9 230.8 L890.1 229.2 L889.3 227.4 L888.7 225.4 L888.3 223.2 L888 221 L887.9 218.7 L888 216.3 L888.3 214 L888.7 211.7 L889.3 209.5 L890 207.4 L890.9 205.5 L891.8 203.8 L892.9 202.3 L894.1 201.1 L895.3 200.1 L896.6 199.5 L897.9 199.1Z" fill="#dedede" stroke="none" stroke-width="0" />
<circle cx="884.8" cy="195.8" r="3" fill="#b0b0b0"/>
<circle cx="914.8" cy="209.3" r="3" fill="#b0b0b0"/>
<circle cx="877.6" cy="230" r="3" fill="#b0b0b0"/>
<circle cx="908.6" cy="241.3" r="3" fill="#b0b0b0"/>
<circle cx="904.4" cy="184.5" r="1.8" fill="#222"/>
<circle cx="890" cy="252.7" r="1.8" fill="#222"/>
<path d="M115.1 271.1 L115.3 269.5 L115.6 267.9 L116.2 266.3 L116.8 264.8 L117.6 263.4 L118.6 262.2 L119.7 261.1 L120.8 260.1 L122.1 259.3 L123.4 258.7 L124.7 258.3 L126.1 258.2 L127.4 258.2 L128.7 258.4 L130 258.9 L142 264.9 L143.2 265.5 L144.3 266.4 L145.2 267.4 L146.1 268.5 L146.8 269.8 L147.3 271.2 L147.7 272.7 L147.8 274.3 L147.9 275.9 L147.7 277.5 L147.4 279.1 L146.8 280.7 L146.2 282.2 L145.4 283.6 L144.4 284.8 L143.3 285.9 L142.2 286.9 L140.9 287.7 L139.6 288.3 L138.3 288.7 L136.9 288.8 L135.6 288.8 L134.3 288.6 L133 288.1 L121 282.1 L119.8 281.5 L118.7 280.6 L117.8 279.6 L116.9 278.5 L116.2 277.2 L115.7 275.8 L115.3 274.3 L115.2 272.7Z" fill="#fff" stroke="#000" stroke-width="1.8" />
<clipPath id="pc13"><path d="M115.1 271.1 L115.3 269.5 L115.6 267.9 L116.2 266.3 L116.8 264.8 L117.6 263.4 L118.6 262.2 L119.7 261.1 L120.8 260.1 L122.1 259.3 L123.4 258.7 L124.7 258.3 L126.1 258.2 L127.4 258.2 L128.7 258.4 L130 258.9 L142 264.9 L143.2 265.5 L144.3 266.4 L145.2 267.4 L146.1 268.5 L146.8 269.8 L147.3 271.2 L147.7 272.7 L147.8 274.3 L147.9 275.9 L147.7 277.5 L147.4 279.1 L146.8 280.7 L146.2 282.2 L145.4 283.6 L144.4 284.8 L143.3 285.9 L142.2 286.9 L140.9 287.7 L139.6 288.3 L138.3 288.7 L136.9 288.8 L135.6 288.8 L134.3 288.6 L133 288.1 L121 282.1 L119.8 281.5 L118.7 280.6 L117.8 279.6 L116.9 278.5 L116.2 277.2 L115.7 275.8 L115.3 274.3 L115.2 272.7Z"/></clipPath><g clip-path="url(#pc13)"><path d="M132.6 287.9 L131.8 287.5 L131.1 286.9 L130.4 286.3 L129.8 285.6 L129.2 284.9 L128.7 284.1 L128.2 283.2 L127.9 282.2 L127.6 281.3 L127.3 280.3 L127.2 279.2 L127.1 278.1 L127.1 277.1 L127.2 276 L127.4 274.9 L127.6 273.9 L128 272.8 L128.4 271.8 L116.4 265.8 L116 266.8 L115.6 267.9 L115.4 268.9 L115.2 270 L115.1 271.1 L115.1 272.1 L115.2 273.2 L115.3 274.3 L115.6 275.3 L115.9 276.2 L116.2 277.2 L116.7 278.1 L117.2 278.9 L117.8 279.6 L118.4 280.3 L119.1 280.9 L119.8 281.5 L120.6 281.9Z" fill="#000" stroke="#000" stroke-width="1" /></g>
<clipPath id="pc14"><path d="M115.1 271.1 L115.3 269.5 L115.6 267.9 L116.2 266.3 L116.8 264.8 L117.6 263.4 L118.6 262.2 L119.7 261.1 L120.8 260.1 L122.1 259.3 L123.4 258.7 L124.7 258.3 L126.1 258.2 L127.4 258.2 L128.7 258.4 L130 258.9 L142 264.9 L143.2 265.5 L144.3 266.4 L145.2 267.4 L146.1 268.5 L146.8 269.8 L147.3 271.2 L147.7 272.7 L147.8 274.3 L147.9 275.9 L147.7 277.5 L147.4 279.1 L146.8 280.7 L146.2 282.2 L145.4 283.6 L144.4 284.8 L143.3 285.9 L142.2 286.9 L140.9 287.7 L139.6 288.3 L138.3 288.7 L136.9 288.8 L135.6 288.8 L134.3 288.6 L133 288.1 L121 282.1 L119.8 281.5 L118.7 280.6 L117.8 279.6 L116.9 278.5 L116.2 277.2 L115.7 275.8 L115.3 274.3 L115.2 272.7Z"/></clipPath><g clip-path="url(#pc14)"><path d="M123.3 281.4 L122.8 280.5 L122.5 279.5 L122.2 278.6 L121.9 277.6 L121.8 276.5 L121.7 275.4 L121.7 274.4 L121.8 273.3 L122 272.2 L122.2 271.2 L122.6 270.1 L123 269.1" fill="none" stroke="#fff" stroke-width="1.6" /></g>
<path d="M140.7 264.4 L142 264.9 L143.2 265.5 L144.3 266.4 L145.2 267.4 L146.1 268.5 L146.8 269.8 L147.3 271.2 L147.7 272.7 L147.8 274.3 L147.9 275.9 L147.7 277.5 L147.4 279.1 L146.8 280.7 L146.2 282.2 L145.4 283.6 L144.4 284.8 L143.3 285.9 L142.2 286.9 L140.9 287.7 L139.6 288.3 L138.3 288.7 L136.9 288.8 L135.6 288.8 L134.3 288.6 L133 288.1 L131.8 287.5 L130.7 286.6 L129.8 285.6 L128.9 284.5 L128.2 283.2 L127.7 281.8 L127.3 280.3 L127.2 278.7 L127.1 277.1 L127.3 275.5 L127.6 273.9 L128.2 272.3 L128.8 270.8 L129.6 269.4 L130.6 268.2 L131.7 267.1 L132.8 266.1 L134.1 265.3 L135.4 264.7 L136.7 264.3 L138.1 264.2 L139.4 264.2Z" fill="#fff" stroke="#000" stroke-width="1.8" />
<path d="M139.8 268 L140.6 268.4 L141.5 268.8 L142.2 269.4 L142.9 270.1 L143.5 270.9 L144 271.8 L144.4 272.8 L144.6 273.9 L144.7 275 L144.7 276.1 L144.6 277.2 L144.4 278.3 L144 279.4 L143.6 280.5 L143 281.4 L142.3 282.3 L141.6 283.1 L140.8 283.8 L139.9 284.3 L139 284.7 L138 285 L137.1 285.1 L136.2 285.1 L135.2 285 L134.4 284.6 L133.5 284.2 L132.8 283.6 L132.1 282.9 L131.5 282.1 L131 281.2 L130.6 280.2 L130.4 279.1 L130.3 278 L130.3 276.9 L130.4 275.8 L130.6 274.7 L131 273.6 L131.4 272.5 L132 271.6 L132.7 270.7 L133.4 269.9 L134.2 269.2 L135.1 268.7 L136 268.3 L137 268 L137.9 267.9 L138.8 267.9Z" fill="#fff" stroke="#000" stroke-width="1.7" />
<clipPath id="pc15"><path d="M139.8 268 L140.6 268.4 L141.5 268.8 L142.2 269.4 L142.9 270.1 L143.5 270.9 L144 271.8 L144.4 272.8 L144.6 273.9 L144.7 275 L144.7 276.1 L144.6 277.2 L144.4 278.3 L144 279.4 L143.6 280.5 L143 281.4 L142.3 282.3 L141.6 283.1 L140.8 283.8 L139.9 284.3 L139 284.7 L138 285 L137.1 285.1 L136.2 285.1 L135.2 285 L134.4 284.6 L133.5 284.2 L132.8 283.6 L132.1 282.9 L131.5 282.1 L131 281.2 L130.6 280.2 L130.4 279.1 L130.3 278 L130.3 276.9 L130.4 275.8 L130.6 274.7 L131 273.6 L131.4 272.5 L132 271.6 L132.7 270.7 L133.4 269.9 L134.2 269.2 L135.1 268.7 L136 268.3 L137 268 L137.9 267.9 L138.8 267.9Z"/></clipPath><g clip-path="url(#pc15)"><path d="M134.6 270.7L143.7 269.7M134.6 273.6L143.7 272.6M134.6 276.5L143.7 275.5M134.6 279.4L143.7 278.4M134.6 282.3L143.7 281.3" stroke="#000" stroke-width="1.7" fill="none"/></g>
<clipPath id="pc16"><path d="M139.8 268 L140.6 268.4 L141.5 268.8 L142.2 269.4 L142.9 270.1 L143.5 270.9 L144 271.8 L144.4 272.8 L144.6 273.9 L144.7 275 L144.7 276.1 L144.6 277.2 L144.4 278.3 L144 279.4 L143.6 280.5 L143 281.4 L142.3 282.3 L141.6 283.1 L140.8 283.8 L139.9 284.3 L139 284.7 L138 285 L137.1 285.1 L136.2 285.1 L135.2 285 L134.4 284.6 L133.5 284.2 L132.8 283.6 L132.1 282.9 L131.5 282.1 L131 281.2 L130.6 280.2 L130.4 279.1 L130.3 278 L130.3 276.9 L130.4 275.8 L130.6 274.7 L131 273.6 L131.4 272.5 L132 271.6 L132.7 270.7 L133.4 269.9 L134.2 269.2 L135.1 268.7 L136 268.3 L137 268 L137.9 267.9 L138.8 267.9Z"/></clipPath><g clip-path="url(#pc16)"><path d="M133.8 265 L134.6 265.4 L135.5 265.8 L136.2 266.4 L136.9 267.1 L137.5 267.9 L138 268.8 L138.4 269.8 L138.6 270.9 L138.7 272 L138.7 273.1 L138.6 274.2 L138.4 275.3 L138 276.4 L137.6 277.5 L137 278.4 L136.3 279.3 L135.6 280.1 L134.8 280.8 L133.9 281.3 L133 281.7 L132 282 L131.1 282.1 L130.2 282.1 L129.2 282 L128.4 281.6 L127.5 281.2 L126.8 280.6 L126.1 279.9 L125.5 279.1 L125 278.2 L124.6 277.2 L124.4 276.1 L124.3 275 L124.3 273.9 L124.4 272.8 L124.6 271.7 L125 270.6 L125.4 269.5 L126 268.6 L126.7 267.7 L127.4 266.9 L128.2 266.2 L129.1 265.7 L130 265.3 L131 265 L131.9 264.9 L132.8 264.9Z" fill="none" stroke="#000" stroke-width="1.4" /></g>
<path d="M146.5 293.7 L146.6 291.6 L147 289.4 L147.7 287.3 L148.5 285.2 L149.5 283.3 L150.8 281.4 L152.1 279.8 L153.7 278.3 L155.3 277 L157 276 L158.8 275.2 L160.6 274.6 L162.4 274.4 L164.2 274.4 L165.9 274.7 L167.5 275.3 L170.2 276.6 L171.7 277.4 L173 278.5 L174.1 279.9 L175.1 281.4 L175.9 283.1 L176.4 285 L176.7 287 L176.8 289.1 L176.6 291.2 L176.2 293.3 L175.6 295.4 L174.8 297.5 L173.7 299.5 L172.5 301.3 L171.1 303 L169.6 304.5 L168 305.7 L166.3 306.8 L164.5 307.6 L162.7 308.1 L160.9 308.3 L159.1 308.3 L157.4 308 L155.8 307.4 L153.1 306.1 L151.6 305.3 L150.3 304.2 L149.1 302.9 L148.2 301.3 L147.4 299.6 L146.9 297.7 L146.6 295.8Z" fill="#000" stroke="#000" stroke-width="1.7" />
<path d="M170.2 276.6 L171.7 277.4 L173 278.5 L174.1 279.9 L175.1 281.4 L175.9 283.1 L176.4 285 L176.7 287 L176.8 289.1 L176.6 291.2 L176.2 293.3 L175.6 295.4 L174.8 297.5 L173.7 299.5 L172.5 301.3 L171.1 303 L169.6 304.5 L168 305.7 L166.3 306.8 L164.5 307.6 L162.7 308.1 L160.9 308.3 L159.1 308.3 L157.4 308 L155.8 307.4 L154.3 306.6 L153 305.5 L151.9 304.1 L150.9 302.6 L150.1 300.9 L149.6 299 L149.3 297 L149.2 294.9 L149.4 292.8 L149.8 290.7 L150.4 288.6 L151.2 286.5 L152.3 284.5 L153.5 282.7 L154.9 281 L156.4 279.5 L158 278.3 L159.7 277.2 L161.5 276.4 L163.3 275.9 L165.1 275.7 L166.9 275.7 L168.6 276Z" fill="#fff" stroke="#000" stroke-width="1.7" />
<clipPath id="c12"><path d="M167 283.4 L167.8 283.8 L168.5 284.4 L169.1 285.2 L169.6 286 L170 287 L170.3 288 L170.5 289.1 L170.5 290.3 L170.4 291.4 L170.2 292.6 L169.8 293.8 L169.3 295 L168.8 296.1 L168.1 297.1 L167.3 298 L166.5 298.9 L165.6 299.6 L164.6 300.2 L163.7 300.6 L162.7 300.9 L161.7 301.1 L160.8 301.1 L159.8 300.9 L159 300.6 L158.2 300.2 L157.5 299.6 L156.9 298.8 L156.4 298 L156 297 L155.7 296 L155.5 294.9 L155.5 293.7 L155.6 292.6 L155.8 291.4 L156.2 290.2 L156.7 289 L157.2 287.9 L157.9 286.9 L158.7 286 L159.5 285.1 L160.4 284.4 L161.4 283.8 L162.3 283.4 L163.3 283.1 L164.3 282.9 L165.2 282.9 L166.2 283.1Z"/></clipPath>
<path d="M167 283.4 L167.8 283.8 L168.5 284.4 L169.1 285.2 L169.6 286 L170 287 L170.3 288 L170.5 289.1 L170.5 290.3 L170.4 291.4 L170.2 292.6 L169.8 293.8 L169.3 295 L168.8 296.1 L168.1 297.1 L167.3 298 L166.5 298.9 L165.6 299.6 L164.6 300.2 L163.7 300.6 L162.7 300.9 L161.7 301.1 L160.8 301.1 L159.8 300.9 L159 300.6 L158.2 300.2 L157.5 299.6 L156.9 298.8 L156.4 298 L156 297 L155.7 296 L155.5 294.9 L155.5 293.7 L155.6 292.6 L155.8 291.4 L156.2 290.2 L156.7 289 L157.2 287.9 L157.9 286.9 L158.7 286 L159.5 285.1 L160.4 284.4 L161.4 283.8 L162.3 283.4 L163.3 283.1 L164.3 282.9 L165.2 282.9 L166.2 283.1Z" fill="#000" stroke="#000" stroke-width="1.7" />
<g clip-path="url(#c12)"><path d="M164.8 282.4 L165.6 282.8 L166.3 283.4 L167 284.2 L167.5 285 L167.9 286 L168.1 287 L168.3 288.1 L168.3 289.2 L168.2 290.4 L168 291.6 L167.6 292.8 L167.2 293.9 L166.6 295 L165.9 296.1 L165.1 297 L164.3 297.9 L163.4 298.6 L162.5 299.2 L161.5 299.6 L160.5 299.9 L159.5 300.1 L158.6 300.1 L157.7 299.9 L156.8 299.6 L156 299.1 L155.3 298.5 L154.7 297.8 L154.2 297 L153.8 296 L153.5 295 L153.3 293.9 L153.3 292.7 L153.4 291.5 L153.7 290.4 L154 289.2 L154.5 288 L155.1 286.9 L155.7 285.9 L156.5 285 L157.3 284.1 L158.2 283.4 L159.2 282.8 L160.1 282.4 L161.1 282.1 L162.1 281.9 L163.1 281.9 L164 282.1Z" fill="#fff" stroke="#000" stroke-width="1.36" /></g>
<path d="M169.9 300.5 L170 299.5 L170.1 298.5 L170.3 297.5 L170.6 296.5 L171.1 295.6 L171.6 294.7 L172.1 293.8 L172.8 293 L173.5 292.3 L174.2 291.7 L175 291.2 L175.8 290.8 L176.6 290.6 L177.3 290.4 L178.1 290.4 L178.8 290.6 L179.5 290.8 L193.5 297.8 L194.1 298.2 L194.7 298.7 L195.1 299.3 L195.5 300 L195.8 300.8 L196 301.6 L196.1 302.5 L196 303.5 L195.9 304.5 L195.7 305.5 L195.4 306.5 L194.9 307.4 L194.4 308.3 L193.9 309.2 L193.2 310 L192.5 310.7 L191.8 311.3 L191 311.8 L190.2 312.2 L189.4 312.4 L188.7 312.6 L187.9 312.6 L187.2 312.4 L186.5 312.2 L172.5 305.2 L171.9 304.8 L171.3 304.3 L170.9 303.7 L170.5 303 L170.2 302.2 L170 301.4Z" fill="#fff" stroke="#000" stroke-width="1.8" />
<path d="M193.5 297.8 L194.1 298.2 L194.7 298.7 L195.1 299.3 L195.5 300 L195.8 300.8 L196 301.6 L196.1 302.5 L196 303.5 L195.9 304.5 L195.7 305.5 L195.4 306.5 L194.9 307.4 L194.4 308.3 L193.9 309.2 L193.2 310 L192.5 310.7 L191.8 311.3 L191 311.8 L190.2 312.2 L189.4 312.4 L188.7 312.6 L187.9 312.6 L187.2 312.4 L186.5 312.2 L185.9 311.8 L185.3 311.3 L184.9 310.7 L184.5 310 L184.2 309.2 L184 308.4 L183.9 307.5 L184 306.5 L184.1 305.5 L184.3 304.5 L184.6 303.5 L185.1 302.6 L185.6 301.7 L186.1 300.8 L186.8 300 L187.5 299.3 L188.2 298.7 L189 298.2 L189.8 297.8 L190.6 297.6 L191.3 297.4 L192.1 297.4 L192.8 297.6Z" fill="#fff" stroke="#000" stroke-width="1.8" />
<path d="M178.6 308.9 L178.7 307.3 L179 305.6 L179.5 303.9 L180.1 302.2 L180.8 300.5 L181.7 298.9 L182.6 297.4 L183.7 295.9 L184.8 294.7 L186 293.6 L187.3 292.6 L188.5 291.9 L189.7 291.3 L190.9 291 L192.1 290.9 L193.1 291.1 L194.1 291.4 L206.1 297.4 L207 298 L207.8 298.8 L208.4 299.7 L208.9 300.9 L209.2 302.2 L209.4 303.6 L209.4 305.1 L209.3 306.7 L209 308.4 L208.5 310.1 L207.9 311.8 L207.2 313.5 L206.3 315.1 L205.4 316.6 L204.3 318.1 L203.2 319.3 L202 320.4 L200.7 321.4 L199.5 322.1 L198.3 322.7 L197.1 323 L195.9 323.1 L194.9 322.9 L193.9 322.6 L181.9 316.6 L181 316 L180.2 315.2 L179.6 314.3 L179.1 313.1 L178.8 311.8 L178.6 310.4Z" fill="#fff" stroke="#000" stroke-width="1.8" />
<path d="M206.1 297.4 L207 298 L207.8 298.8 L208.4 299.7 L208.9 300.9 L209.2 302.2 L209.4 303.6 L209.4 305.1 L209.3 306.7 L209 308.4 L208.5 310.1 L207.9 311.8 L207.2 313.5 L206.3 315.1 L205.4 316.6 L204.3 318.1 L203.2 319.3 L202 320.4 L200.7 321.4 L199.5 322.1 L198.3 322.7 L197.1 323 L195.9 323.1 L194.9 322.9 L193.9 322.6 L193 322 L192.2 321.2 L191.6 320.3 L191.1 319.1 L190.8 317.8 L190.6 316.4 L190.6 314.9 L190.7 313.3 L191 311.6 L191.5 309.9 L192.1 308.2 L192.8 306.5 L193.7 304.9 L194.6 303.4 L195.7 301.9 L196.8 300.7 L198 299.6 L199.3 298.6 L200.5 297.9 L201.7 297.3 L202.9 297 L204.1 296.9 L205.1 297.1Z" fill="#fff" stroke="#000" stroke-width="1.8" />
<path d="M190.8 314.3 L190.9 312.8 L191.2 311.2 L191.6 309.6 L192.1 308 L192.8 306.5 L193.6 305 L194.5 303.6 L195.5 302.3 L196.6 301.1 L197.8 300.1 L198.9 299.3 L200.1 298.6 L201.3 298.1 L202.5 297.9 L203.6 297.8 L204.7 298 L205.7 298.3 L231.7 311.3 L232.6 311.9 L233.4 312.6 L234 313.5 L234.5 314.6 L234.9 315.9 L235.1 317.2 L235.2 318.7 L235.1 320.2 L234.8 321.8 L234.4 323.4 L233.9 325 L233.2 326.5 L232.4 328 L231.5 329.4 L230.5 330.7 L229.4 331.9 L228.2 332.9 L227.1 333.7 L225.9 334.4 L224.7 334.9 L223.5 335.1 L222.4 335.2 L221.3 335 L220.3 334.7 L194.3 321.7 L193.4 321.1 L192.6 320.4 L192 319.5 L191.5 318.4 L191.1 317.1 L190.9 315.8Z" fill="#fff" stroke="#000" stroke-width="1.8" />
<path d="M231.7 311.3 L232.6 311.9 L233.4 312.6 L234 313.5 L234.5 314.6 L234.9 315.9 L235.1 317.2 L235.2 318.7 L235.1 320.2 L234.8 321.8 L234.4 323.4 L233.9 325 L233.2 326.5 L232.4 328 L231.5 329.4 L230.5 330.7 L229.4 331.9 L228.2 332.9 L227.1 333.7 L225.9 334.4 L224.7 334.9 L223.5 335.1 L222.4 335.2 L221.3 335 L220.3 334.7 L219.4 334.1 L218.6 333.4 L218 332.5 L217.5 331.4 L217.1 330.1 L216.9 328.8 L216.8 327.3 L216.9 325.8 L217.2 324.2 L217.6 322.6 L218.1 321 L218.8 319.5 L219.6 318 L220.5 316.6 L221.5 315.3 L222.6 314.1 L223.8 313.1 L224.9 312.3 L226.1 311.6 L227.3 311.1 L228.5 310.9 L229.6 310.8 L230.7 311Z" fill="#fff" stroke="#000" stroke-width="1.8" />
<clipPath id="pc17"><path d="M202 318 L222 328 L224 322 L204 312Z"/></clipPath><g clip-path="url(#pc17)"><path d="M195.2 294.5L238.5 302.2M194.7 297L238.1 304.6M194.3 299.4L237.6 307.1M193.9 301.9L237.2 309.5M193.4 304.4L236.7 312M193 306.8L236.3 314.5M192.5 309.3L235.9 316.9M192.1 311.7L235.4 319.4M191.7 314.2L235 321.9M191.2 316.7L234.6 324.3M190.8 319.1L234.1 326.8M190.4 321.6L233.7 329.2M189.9 324.1L233.3 331.7M189.5 326.5L232.8 334.2M189.1 329L232.4 336.6M188.6 331.4L232 339.1M188.2 333.9L231.5 341.5M187.8 336.4L231.1 344" stroke="#000" stroke-width="1.0" fill="none"/></g>
<path d="M226 310.3 L227 310.9 L230.4 306.3 L231.6 308 L228.4 312.9 L228.8 314.3 L229.1 315.8 L232.9 313.7 L232.8 316.6 L229 319.4 L228.6 321.4 L228.1 323.3 L231.1 324.3 L229.8 327.5 L226.6 327.3 L225.5 329.2 L224.4 331 L225.6 334.8 L223.5 337.3 L221.8 334.1 L220.5 335.4 L219.1 336.4 L218.1 341.8 L215.9 342.8 L216.4 337.7 L215.1 337.9 L213.9 337.8 L211.1 343.1 L209.4 342.3 L211.9 336.8 L211.1 335.9 L210.4 334.8 L206.6 338.3 L206.1 335.9 L209.7 331.9 L209.7 330.1 L209.8 328.3 L206.3 328.9 L207 325.7 L210.7 324.4 L211.4 322.4 L212.3 320.4 L210.1 317.9 L211.8 314.9 L214.4 316.7 L215.7 315.1 L217 313.6 L216.9 308.8 L219.1 307 L219.7 311.3 L221.1 310.6 L222.5 310.1 L224.4 304.5 L226.4 304.4 L224.9 309.9Z" fill="#fff" stroke="#000" stroke-width="1.6" />
<path d="M238.6 316.4 L239.6 317 L227 310.9 L226 310.3Z" fill="#fff" stroke="#000" stroke-width="1.2800000000000002" />
<path d="M243 312.5 L244.1 314.1 L231.6 308 L230.4 306.3Z" fill="#fff" stroke="#000" stroke-width="1.2800000000000002" />
<path d="M244.1 314.1 L241 319.1 L228.4 312.9 L231.6 308Z" fill="#fff" stroke="#000" stroke-width="1.2800000000000002" />
<path d="M241 319.1 L241.4 320.4 L228.8 314.3 L228.4 312.9Z" fill="#fff" stroke="#000" stroke-width="1.2800000000000002" />
<path d="M241.4 320.4 L241.7 322 L229.1 315.8 L228.8 314.3Z" fill="#fff" stroke="#000" stroke-width="1.2800000000000002" />
<path d="M245.5 319.9 L245.4 322.8 L232.8 316.6 L232.9 313.7Z" fill="#fff" stroke="#000" stroke-width="1.2800000000000002" />
<path d="M245.4 322.8 L241.6 325.5 L229 319.4 L232.8 316.6Z" fill="#fff" stroke="#000" stroke-width="1.2800000000000002" />
<path d="M241.6 325.5 L241.2 327.5 L228.6 321.4 L229 319.4Z" fill="#fff" stroke="#000" stroke-width="1.2800000000000002" />
<path d="M241.2 327.5 L240.7 329.5 L228.1 323.3 L228.6 321.4Z" fill="#fff" stroke="#000" stroke-width="1.2800000000000002" />
<path d="M243.7 330.5 L242.4 333.7 L229.8 327.5 L231.1 324.3Z" fill="#fff" stroke="#000" stroke-width="1.2800000000000002" />
<path d="M242.4 333.7 L239.1 333.4 L226.6 327.3 L229.8 327.5Z" fill="#fff" stroke="#000" stroke-width="1.2800000000000002" />
<path d="M239.1 333.4 L238.1 335.4 L225.5 329.2 L226.6 327.3Z" fill="#fff" stroke="#000" stroke-width="1.2800000000000002" />
<path d="M238.1 335.4 L237 337.1 L224.4 331 L225.5 329.2Z" fill="#fff" stroke="#000" stroke-width="1.2800000000000002" />
<path d="M237 337.1 L238.2 340.9 L225.6 334.8 L224.4 331Z" fill="#fff" stroke="#000" stroke-width="1.2800000000000002" />
<path d="M238.2 340.9 L236.1 343.4 L223.5 337.3 L225.6 334.8Z" fill="#fff" stroke="#000" stroke-width="1.2800000000000002" />
<path d="M234.4 340.2 L233 341.5 L220.5 335.4 L221.8 334.1Z" fill="#fff" stroke="#000" stroke-width="1.2800000000000002" />
<path d="M233 341.5 L231.7 342.5 L219.1 336.4 L220.5 335.4Z" fill="#fff" stroke="#000" stroke-width="1.2800000000000002" />
<path d="M231.7 342.5 L230.7 347.9 L218.1 341.8 L219.1 336.4Z" fill="#fff" stroke="#000" stroke-width="1.2800000000000002" />
<path d="M230.7 347.9 L228.5 348.9 L215.9 342.8 L218.1 341.8Z" fill="#fff" stroke="#000" stroke-width="1.2800000000000002" />
<path d="M229 343.8 L227.6 344 L215.1 337.9 L216.4 337.7Z" fill="#fff" stroke="#000" stroke-width="1.2800000000000002" />
<path d="M227.6 344 L226.5 343.9 L213.9 337.8 L215.1 337.9Z" fill="#fff" stroke="#000" stroke-width="1.2800000000000002" />
<path d="M226.5 343.9 L223.6 349.2 L211.1 343.1 L213.9 337.8Z" fill="#fff" stroke="#000" stroke-width="1.2800000000000002" />
<path d="M223.6 349.2 L222 348.4 L209.4 342.3 L211.1 343.1Z" fill="#fff" stroke="#000" stroke-width="1.2800000000000002" />
<path d="M223 340.9 L219.2 344.4 L206.6 338.3 L210.4 334.8Z" fill="#fff" stroke="#000" stroke-width="1.2800000000000002" />
<path d="M222.4 334.4 L218.9 335 L206.3 328.9 L209.8 328.3Z" fill="#fff" stroke="#000" stroke-width="1.2800000000000002" />
<path d="M224.4 321.1 L227 322.9 L214.4 316.7 L211.8 314.9Z" fill="#fff" stroke="#000" stroke-width="1.2800000000000002" />
<path d="M231.7 313.1 L232.3 317.5 L219.7 311.3 L219.1 307Z" fill="#fff" stroke="#000" stroke-width="1.2800000000000002" />
<path d="M239 310.5 L237.5 316.1 L224.9 309.9 L226.4 304.4Z" fill="#fff" stroke="#000" stroke-width="1.2800000000000002" />
<path d="M238.6 316.4 L239.6 317 L243 312.5 L244.1 314.1 L241 319.1 L241.4 320.4 L241.7 322 L245.5 319.9 L245.4 322.8 L241.6 325.5 L241.2 327.5 L240.7 329.5 L243.7 330.5 L242.4 333.7 L239.1 333.4 L238.1 335.4 L237 337.1 L238.2 340.9 L236.1 343.4 L234.4 340.2 L233 341.5 L231.7 342.5 L230.7 347.9 L228.5 348.9 L229 343.8 L227.6 344 L226.5 343.9 L223.6 349.2 L222 348.4 L224.4 343 L223.6 342.1 L223 340.9 L219.2 344.4 L218.7 342 L222.3 338 L222.3 336.3 L222.4 334.4 L218.9 335 L219.6 331.9 L223.3 330.5 L224 328.5 L224.9 326.5 L222.7 324.1 L224.4 321.1 L227 322.9 L228.3 321.2 L229.6 319.7 L229.5 315 L231.7 313.1 L232.3 317.5 L233.7 316.7 L235.1 316.2 L237 310.7 L239 310.5 L237.5 316.1Z" fill="#fff" stroke="#000" stroke-width="1.6" />
<path d="M237.3 319.2 L238 319.7 L238.7 320.4 L239.3 321.2 L239.7 322.2 L240 323.3 L240.2 324.5 L240.2 325.9 L240.1 327.3 L239.8 328.7 L239.4 330.2 L238.9 331.6 L238.3 333.1 L237.6 334.5 L236.7 335.8 L235.8 337 L234.8 338.1 L233.8 339 L232.7 339.8 L231.7 340.4 L230.6 340.9 L229.5 341.1 L228.5 341.2 L227.6 341.1 L226.7 340.8 L226 340.3 L225.3 339.6 L224.7 338.8 L224.3 337.8 L224 336.7 L223.8 335.5 L223.8 334.1 L223.9 332.7 L224.2 331.3 L224.6 329.8 L225.1 328.4 L225.7 326.9 L226.4 325.5 L227.3 324.2 L228.2 323 L229.2 321.9 L230.2 321 L231.3 320.2 L232.3 319.6 L233.4 319.1 L234.5 318.9 L235.5 318.8 L236.4 318.9Z" fill="#fff" stroke="#000" stroke-width="1.4" />
<path d="M226.2 336.7 L226.3 335.1 L226.6 333.4 L227 331.7 L227.6 329.9 L228.4 328.3 L229.2 326.7 L230.2 325.1 L231.3 323.7 L232.5 322.5 L233.7 321.4 L234.9 320.5 L236.2 319.7 L237.5 319.2 L238.7 318.9 L240 318.9 L241.1 319 L242.1 319.4 L268.1 332.4 L269.1 333 L269.9 333.8 L270.6 334.8 L271.1 336 L271.5 337.3 L271.7 338.7 L271.8 340.3 L271.7 341.9 L271.4 343.6 L271 345.3 L270.4 347.1 L269.6 348.7 L268.8 350.3 L267.8 351.9 L266.7 353.3 L265.5 354.5 L264.3 355.6 L263.1 356.5 L261.8 357.3 L260.5 357.8 L259.3 358.1 L258 358.1 L256.9 358 L255.9 357.6 L229.9 344.6 L228.9 344 L228.1 343.2 L227.4 342.2 L226.9 341 L226.5 339.7 L226.3 338.3Z" fill="#fff" stroke="#000" stroke-width="1.8" />
<path d="M268.1 332.4 L269.1 333 L269.9 333.8 L270.6 334.8 L271.1 336 L271.5 337.3 L271.7 338.7 L271.8 340.3 L271.7 341.9 L271.4 343.6 L271 345.3 L270.4 347.1 L269.6 348.7 L268.8 350.3 L267.8 351.9 L266.7 353.3 L265.5 354.5 L264.3 355.6 L263.1 356.5 L261.8 357.3 L260.5 357.8 L259.3 358.1 L258 358.1 L256.9 358 L255.9 357.6 L254.9 357 L254.1 356.2 L253.4 355.2 L252.9 354 L252.5 352.7 L252.3 351.3 L252.2 349.7 L252.3 348.1 L252.6 346.4 L253 344.7 L253.6 342.9 L254.4 341.3 L255.2 339.7 L256.2 338.1 L257.3 336.7 L258.5 335.5 L259.7 334.4 L260.9 333.5 L262.2 332.7 L263.5 332.2 L264.7 331.9 L266 331.9 L267.1 332Z" fill="#fff" stroke="#000" stroke-width="1.8" />
<path d="M252.8 349.3 L252.9 347.8 L253.2 346.2 L253.6 344.6 L254.1 343 L254.8 341.5 L255.6 340 L256.5 338.6 L257.5 337.3 L258.6 336.1 L259.8 335.1 L260.9 334.3 L262.1 333.6 L263.3 333.1 L264.5 332.9 L265.6 332.8 L266.7 333 L267.7 333.3 L291.7 345.3 L292.6 345.9 L293.4 346.6 L294 347.5 L294.5 348.6 L294.9 349.9 L295.1 351.2 L295.2 352.7 L295.1 354.2 L294.8 355.8 L294.4 357.4 L293.9 359 L293.2 360.5 L292.4 362 L291.5 363.4 L290.5 364.7 L289.4 365.9 L288.2 366.9 L287.1 367.7 L285.9 368.4 L284.7 368.9 L283.5 369.1 L282.4 369.2 L281.3 369 L280.3 368.7 L256.3 356.7 L255.4 356.1 L254.6 355.4 L254 354.5 L253.5 353.4 L253.1 352.1 L252.9 350.8Z" fill="#fff" stroke="#000" stroke-width="1.8" />
<path d="M291.7 345.3 L292.6 345.9 L293.4 346.6 L294 347.5 L294.5 348.6 L294.9 349.9 L295.1 351.2 L295.2 352.7 L295.1 354.2 L294.8 355.8 L294.4 357.4 L293.9 359 L293.2 360.5 L292.4 362 L291.5 363.4 L290.5 364.7 L289.4 365.9 L288.2 366.9 L287.1 367.7 L285.9 368.4 L284.7 368.9 L283.5 369.1 L282.4 369.2 L281.3 369 L280.3 368.7 L279.4 368.1 L278.6 367.4 L278 366.5 L277.5 365.4 L277.1 364.1 L276.9 362.8 L276.8 361.3 L276.9 359.8 L277.2 358.2 L277.6 356.6 L278.1 355 L278.8 353.5 L279.6 352 L280.5 350.6 L281.5 349.3 L282.6 348.1 L283.8 347.1 L284.9 346.3 L286.1 345.6 L287.3 345.1 L288.5 344.9 L289.6 344.8 L290.7 345Z" fill="#fff" stroke="#000" stroke-width="1.8" />
<path d="M262 343 L278 351 A2.5 2.5 0 0 1 276 356 L260 348 A2.5 2.5 0 0 1 262 343Z" fill="#fff" stroke="#000" stroke-width="1.4" />
<path d="M240 361 L254 368 A3 3 0 0 1 251 373.5 L237 366.5 A3 3 0 0 1 240 361Z" fill="#fff" stroke="#000" stroke-width="1.6" />
<path d="M274.4 373.9 L274.5 370.2 L275.1 366.4 L276.1 362.5 L277.5 358.8 L279.2 355.1 L281.3 351.6 L283.6 348.4 L286.3 345.4 L289.1 342.8 L292.1 340.6 L295.2 338.8 L298.4 337.4 L301.5 336.6 L304.7 336.2 L307.7 336.3 L310.5 336.9 L313.2 338.1 L325.6 344.6 L328 346.2 L330.1 348.2 L331.9 350.7 L333.3 353.5 L334.4 356.6 L335 359.9 L335.3 363.5 L335.1 367.3 L334.5 371.1 L333.5 374.9 L332.2 378.7 L330.4 382.3 L328.4 385.8 L326 389.1 L323.4 392 L320.5 394.6 L317.6 396.9 L314.4 398.7 L311.3 400 L308.1 400.9 L305 401.2 L302 401.1 L299.1 400.5 L296.4 399.4 L284.1 392.8 L281.7 391.2 L279.6 389.2 L277.8 386.8 L276.3 384 L275.3 380.9 L274.6 377.5Z" fill="#fff" stroke="#000" stroke-width="1.8" />
<clipPath id="pc18"><path d="M274.4 373.9 L274.5 370.2 L275.1 366.4 L276.1 362.5 L277.5 358.8 L279.2 355.1 L281.3 351.6 L283.6 348.4 L286.3 345.4 L289.1 342.8 L292.1 340.6 L295.2 338.8 L298.4 337.4 L301.5 336.6 L304.7 336.2 L307.7 336.3 L310.5 336.9 L313.2 338.1 L325.6 344.6 L328 346.2 L330.1 348.2 L331.9 350.7 L333.3 353.5 L334.4 356.6 L335 359.9 L335.3 363.5 L335.1 367.3 L334.5 371.1 L333.5 374.9 L332.2 378.7 L330.4 382.3 L328.4 385.8 L326 389.1 L323.4 392 L320.5 394.6 L317.6 396.9 L314.4 398.7 L311.3 400 L308.1 400.9 L305 401.2 L302 401.1 L299.1 400.5 L296.4 399.4 L284.1 392.8 L281.7 391.2 L279.6 389.2 L277.8 386.8 L276.3 384 L275.3 380.9 L274.6 377.5Z"/></clipPath><g clip-path="url(#pc18)"><path d="M294.5 398.1 L292.7 396.6 L291.2 394.8 L289.8 392.8 L288.7 390.5 L287.8 388.1 L287.2 385.4 L286.8 382.6 L286.7 379.7 L286.9 376.7 L287.3 373.7 L288 370.6 L289 367.6 L290.2 364.6 L291.6 361.7 L293.2 358.9 L295 356.2 L282.7 349.6 L280.8 352.3 L279.2 355.1 L277.8 358 L276.6 361 L275.7 364.1 L275 367.1 L274.5 370.2 L274.4 373.2 L274.5 376.1 L274.8 378.9 L275.4 381.5 L276.3 384 L277.4 386.2 L278.8 388.3 L280.4 390.1 L282.1 391.6Z" fill="#000" stroke="#000" stroke-width="1" /></g>
<clipPath id="pc19"><path d="M274.4 373.9 L274.5 370.2 L275.1 366.4 L276.1 362.5 L277.5 358.8 L279.2 355.1 L281.3 351.6 L283.6 348.4 L286.3 345.4 L289.1 342.8 L292.1 340.6 L295.2 338.8 L298.4 337.4 L301.5 336.6 L304.7 336.2 L307.7 336.3 L310.5 336.9 L313.2 338.1 L325.6 344.6 L328 346.2 L330.1 348.2 L331.9 350.7 L333.3 353.5 L334.4 356.6 L335 359.9 L335.3 363.5 L335.1 367.3 L334.5 371.1 L333.5 374.9 L332.2 378.7 L330.4 382.3 L328.4 385.8 L326 389.1 L323.4 392 L320.5 394.6 L317.6 396.9 L314.4 398.7 L311.3 400 L308.1 400.9 L305 401.2 L302 401.1 L299.1 400.5 L296.4 399.4 L284.1 392.8 L281.7 391.2 L279.6 389.2 L277.8 386.8 L276.3 384 L275.3 380.9 L274.6 377.5Z"/></clipPath><g clip-path="url(#pc19)"><path d="M282.5 387.3 L281.6 384.8 L281 382.1 L280.6 379.4 L280.5 376.4 L280.7 373.5 L281.2 370.4 L281.8 367.3" fill="none" stroke="#fff" stroke-width="2.0" /></g>
<path d="M325.6 344.6 L328 346.2 L330.1 348.2 L331.9 350.7 L333.3 353.5 L334.4 356.6 L335 359.9 L335.3 363.5 L335.1 367.3 L334.5 371.1 L333.5 374.9 L332.2 378.7 L330.4 382.3 L328.4 385.8 L326 389.1 L323.4 392 L320.5 394.6 L317.6 396.9 L314.4 398.7 L311.3 400 L308.1 400.9 L305 401.2 L302 401.1 L299.1 400.5 L296.4 399.4 L294 397.8 L291.9 395.8 L290.1 393.3 L288.7 390.5 L287.6 387.4 L287 384.1 L286.7 380.5 L286.9 376.7 L287.5 372.9 L288.5 369.1 L289.8 365.3 L291.6 361.7 L293.6 358.2 L296 354.9 L298.6 352 L301.5 349.4 L304.4 347.1 L307.6 345.3 L310.7 344 L313.9 343.1 L317 342.8 L320 342.9 L322.9 343.5Z" fill="#fff" stroke="#000" stroke-width="1.8" />
<path d="M322.6 350.1 L324.6 351.4 L326.3 353 L327.7 354.9 L328.9 357.2 L329.7 359.7 L330.2 362.4 L330.4 365.2 L330.3 368.2 L329.8 371.3 L329 374.3 L327.9 377.3 L326.5 380.3 L324.9 383.1 L323 385.6 L320.9 388 L318.6 390.1 L316.2 391.9 L313.8 393.3 L311.2 394.4 L308.7 395.1 L306.2 395.4 L303.8 395.3 L301.5 394.8 L299.4 393.9 L297.4 392.6 L295.7 391 L294.3 389.1 L293.1 386.8 L292.3 384.3 L291.8 381.6 L291.6 378.8 L291.7 375.8 L292.2 372.7 L293 369.7 L294.1 366.7 L295.5 363.7 L297.1 360.9 L299 358.4 L301.1 356 L303.4 353.9 L305.8 352.1 L308.2 350.7 L310.8 349.6 L313.3 348.9 L315.8 348.6 L318.2 348.7 L320.5 349.2Z" fill="#222" stroke="#000" stroke-width="1.2" />
<circle cx="320.8" cy="353.6" r="1.9" fill="#fff"/>
<circle cx="326.9" cy="361.3" r="1.9" fill="#fff"/>
<circle cx="326.9" cy="373.1" r="1.9" fill="#fff"/>
<circle cx="320.8" cy="384.5" r="1.9" fill="#fff"/>
<circle cx="311" cy="391.1" r="1.9" fill="#fff"/>
<circle cx="301.2" cy="390.4" r="1.9" fill="#fff"/>
<circle cx="295.1" cy="382.7" r="1.9" fill="#fff"/>
<circle cx="295.1" cy="370.9" r="1.9" fill="#fff"/>
<circle cx="301.2" cy="359.5" r="1.9" fill="#fff"/>
<circle cx="311" cy="352.9" r="1.9" fill="#fff"/>
<path d="M318.9 357.1 L320.4 358 L321.6 359.2 L322.7 360.5 L323.6 362.1 L324.3 363.9 L324.7 365.8 L324.9 367.8 L324.9 369.8 L324.6 371.9 L324.1 374 L323.4 376.1 L322.5 378.1 L321.3 380 L320 381.8 L318.6 383.3 L317 384.7 L315.3 385.9 L313.5 386.9 L311.7 387.6 L309.9 388 L308.1 388.1 L306.3 388 L304.6 387.6 L303.1 386.9 L301.6 386 L300.4 384.8 L299.3 383.5 L298.4 381.9 L297.7 380.1 L297.3 378.2 L297.1 376.2 L297.1 374.2 L297.4 372.1 L297.9 370 L298.6 367.9 L299.5 365.9 L300.7 364 L302 362.2 L303.4 360.7 L305 359.3 L306.7 358.1 L308.5 357.1 L310.3 356.4 L312.1 356 L313.9 355.9 L315.7 356 L317.4 356.4Z" fill="#fff" stroke="#000" stroke-width="1.5" />
<path d="M317.1 360.5 L318.2 361.2 L319.2 362.1 L320 363.2 L320.7 364.4 L321.2 365.8 L321.6 367.2 L321.7 368.7 L321.7 370.3 L321.5 371.9 L321.1 373.6 L320.6 375.2 L319.8 376.7 L319 378.2 L317.9 379.5 L316.8 380.7 L315.6 381.8 L314.3 382.7 L312.9 383.4 L311.5 384 L310.1 384.3 L308.7 384.4 L307.4 384.3 L306.1 384 L304.9 383.5 L303.8 382.8 L302.8 381.9 L302 380.8 L301.3 379.6 L300.8 378.2 L300.4 376.8 L300.3 375.3 L300.3 373.7 L300.5 372.1 L300.9 370.4 L301.4 368.8 L302.2 367.3 L303 365.8 L304.1 364.5 L305.2 363.3 L306.4 362.2 L307.7 361.3 L309.1 360.6 L310.5 360 L311.9 359.7 L313.3 359.6 L314.6 359.7 L315.9 360Z" fill="#fff" stroke="#000" stroke-width="1.8" />
<clipPath id="pc20"><path d="M317.1 360.5 L318.2 361.2 L319.2 362.1 L320 363.2 L320.7 364.4 L321.2 365.8 L321.6 367.2 L321.7 368.7 L321.7 370.3 L321.5 371.9 L321.1 373.6 L320.6 375.2 L319.8 376.7 L319 378.2 L317.9 379.5 L316.8 380.7 L315.6 381.8 L314.3 382.7 L312.9 383.4 L311.5 384 L310.1 384.3 L308.7 384.4 L307.4 384.3 L306.1 384 L304.9 383.5 L303.8 382.8 L302.8 381.9 L302 380.8 L301.3 379.6 L300.8 378.2 L300.4 376.8 L300.3 375.3 L300.3 373.7 L300.5 372.1 L300.9 370.4 L301.4 368.8 L302.2 367.3 L303 365.8 L304.1 364.5 L305.2 363.3 L306.4 362.2 L307.7 361.3 L309.1 360.6 L310.5 360 L311.9 359.7 L313.3 359.6 L314.6 359.7 L315.9 360Z"/></clipPath><g clip-path="url(#pc20)"><path d="M306 354.6 L307.1 355.3 L308.1 356.2 L308.9 357.3 L309.6 358.5 L310.1 359.8 L310.4 361.3 L310.6 362.8 L310.6 364.4 L310.4 366 L310 367.6 L309.4 369.2 L308.7 370.8 L307.8 372.2 L306.8 373.6 L305.7 374.8 L304.5 375.9 L303.2 376.8 L301.8 377.5 L300.4 378 L299 378.4 L297.6 378.5 L296.3 378.4 L295 378.1 L293.8 377.6 L292.7 376.9 L291.7 376 L290.9 374.9 L290.2 373.7 L289.7 372.3 L289.3 370.9 L289.2 369.3 L289.2 367.8 L289.4 366.1 L289.8 364.5 L290.3 362.9 L291 361.4 L291.9 359.9 L292.9 358.6 L294.1 357.4 L295.3 356.3 L296.6 355.4 L297.9 354.6 L299.3 354.1 L300.7 353.8 L302.1 353.7 L303.5 353.8 L304.8 354.1Z" fill="none" stroke="#000" stroke-width="1.8" /></g>
<path d="M320.3 392.1 L320.5 389.9 L320.9 387.6 L321.6 385.4 L322.5 383.2 L323.6 381.2 L324.9 379.2 L326.3 377.4 L327.9 375.8 L329.6 374.4 L331.3 373.3 L333.1 372.4 L335 371.9 L336.8 371.6 L338.6 371.6 L340.3 371.8 L341.9 372.4 L344.6 373.7 L346.1 374.5 L347.4 375.7 L348.5 377 L349.5 378.6 L350.2 380.4 L350.7 382.3 L351 384.4 L351 386.6 L350.8 388.8 L350.3 391.1 L349.7 393.3 L348.8 395.5 L347.7 397.6 L346.4 399.5 L345 401.3 L343.4 402.9 L341.7 404.3 L340 405.4 L338.1 406.3 L336.3 406.9 L334.5 407.2 L332.7 407.2 L331 406.9 L329.4 406.3 L326.7 405 L325.2 404.2 L323.9 403.1 L322.7 401.7 L321.8 400.1 L321.1 398.3 L320.6 396.4 L320.3 394.3Z" fill="#000" stroke="#000" stroke-width="1.7" />
<path d="M344.6 373.7 L346.1 374.5 L347.4 375.7 L348.5 377 L349.5 378.6 L350.2 380.4 L350.7 382.3 L351 384.4 L351 386.6 L350.8 388.8 L350.3 391.1 L349.7 393.3 L348.8 395.5 L347.7 397.6 L346.4 399.5 L345 401.3 L343.4 402.9 L341.7 404.3 L340 405.4 L338.1 406.3 L336.3 406.9 L334.5 407.2 L332.7 407.2 L331 406.9 L329.4 406.3 L327.9 405.5 L326.6 404.3 L325.5 403 L324.5 401.4 L323.8 399.6 L323.3 397.7 L323 395.6 L323 393.4 L323.2 391.2 L323.7 388.9 L324.3 386.7 L325.2 384.5 L326.3 382.4 L327.6 380.5 L329 378.7 L330.6 377.1 L332.3 375.7 L334 374.6 L335.9 373.7 L337.7 373.1 L339.5 372.8 L341.3 372.8 L343 373.1Z" fill="#fff" stroke="#000" stroke-width="1.7" />
<clipPath id="c13"><path d="M341.6 380 L342.6 380.6 L343.4 381.2 L344.1 382.1 L344.7 383.1 L345.1 384.1 L345.4 385.3 L345.6 386.6 L345.6 387.9 L345.5 389.3 L345.2 390.7 L344.8 392.1 L344.3 393.4 L343.6 394.7 L342.8 395.8 L341.9 396.9 L341 397.9 L339.9 398.8 L338.8 399.4 L337.7 400 L336.6 400.3 L335.5 400.5 L334.4 400.5 L333.3 400.3 L332.4 400 L331.4 399.4 L330.6 398.8 L329.9 397.9 L329.3 396.9 L328.9 395.9 L328.6 394.7 L328.4 393.4 L328.4 392.1 L328.5 390.7 L328.8 389.3 L329.2 387.9 L329.7 386.6 L330.4 385.3 L331.2 384.2 L332.1 383.1 L333 382.1 L334.1 381.2 L335.2 380.6 L336.3 380 L337.4 379.7 L338.5 379.5 L339.6 379.5 L340.7 379.7Z"/></clipPath>
<path d="M341.6 380 L342.6 380.6 L343.4 381.2 L344.1 382.1 L344.7 383.1 L345.1 384.1 L345.4 385.3 L345.6 386.6 L345.6 387.9 L345.5 389.3 L345.2 390.7 L344.8 392.1 L344.3 393.4 L343.6 394.7 L342.8 395.8 L341.9 396.9 L341 397.9 L339.9 398.8 L338.8 399.4 L337.7 400 L336.6 400.3 L335.5 400.5 L334.4 400.5 L333.3 400.3 L332.4 400 L331.4 399.4 L330.6 398.8 L329.9 397.9 L329.3 396.9 L328.9 395.9 L328.6 394.7 L328.4 393.4 L328.4 392.1 L328.5 390.7 L328.8 389.3 L329.2 387.9 L329.7 386.6 L330.4 385.3 L331.2 384.2 L332.1 383.1 L333 382.1 L334.1 381.2 L335.2 380.6 L336.3 380 L337.4 379.7 L338.5 379.5 L339.6 379.5 L340.7 379.7Z" fill="#000" stroke="#000" stroke-width="1.7" />
<g clip-path="url(#c13)"><path d="M339.5 379 L340.4 379.5 L341.2 380.2 L341.9 381.1 L342.5 382 L342.9 383.1 L343.2 384.3 L343.4 385.6 L343.4 386.9 L343.3 388.3 L343 389.7 L342.6 391 L342.1 392.4 L341.4 393.6 L340.6 394.8 L339.7 395.9 L338.8 396.9 L337.7 397.7 L336.7 398.4 L335.6 399 L334.4 399.3 L333.3 399.5 L332.2 399.5 L331.2 399.3 L330.2 399 L329.3 398.4 L328.5 397.7 L327.8 396.9 L327.2 395.9 L326.7 394.8 L326.4 393.6 L326.2 392.4 L326.2 391 L326.3 389.7 L326.6 388.3 L327 386.9 L327.6 385.6 L328.2 384.3 L329 383.1 L329.9 382 L330.9 381.1 L331.9 380.2 L333 379.5 L334.1 379 L335.2 378.7 L336.3 378.5 L337.4 378.5 L338.5 378.7Z" fill="#fff" stroke="#000" stroke-width="1.36" /></g>
<path d="M341.3 404.8 L341.4 402.8 L341.6 400.8 L342.2 398.8 L342.9 396.9 L343.8 395.2 L345 393.5 L346.3 392 L347.7 390.7 L349.3 389.6 L351 388.8 L352.7 388.1 L354.5 387.8 L356.3 387.7 L358.1 387.8 L359.8 388.3 L373.8 393.3 L375.4 393.9 L376.9 394.8 L378.3 396 L379.6 397.3 L380.6 398.8 L381.5 400.5 L382.1 402.3 L382.5 404.2 L382.7 406.2 L382.6 408.2 L382.4 410.2 L381.8 412.2 L381.1 414.1 L380.2 415.8 L379 417.5 L377.7 419 L376.3 420.3 L374.7 421.4 L373 422.2 L371.3 422.9 L369.5 423.2 L367.7 423.3 L365.9 423.2 L364.2 422.7 L350.2 417.7 L348.6 417.1 L347.1 416.2 L345.7 415 L344.4 413.7 L343.4 412.2 L342.5 410.5 L341.9 408.7 L341.5 406.8Z" fill="#fff" stroke="#000" stroke-width="1.8" />
<clipPath id="pc21"><path d="M341.3 404.8 L341.4 402.8 L341.6 400.8 L342.2 398.8 L342.9 396.9 L343.8 395.2 L345 393.5 L346.3 392 L347.7 390.7 L349.3 389.6 L351 388.8 L352.7 388.1 L354.5 387.8 L356.3 387.7 L358.1 387.8 L359.8 388.3 L373.8 393.3 L375.4 393.9 L376.9 394.8 L378.3 396 L379.6 397.3 L380.6 398.8 L381.5 400.5 L382.1 402.3 L382.5 404.2 L382.7 406.2 L382.6 408.2 L382.4 410.2 L381.8 412.2 L381.1 414.1 L380.2 415.8 L379 417.5 L377.7 419 L376.3 420.3 L374.7 421.4 L373 422.2 L371.3 422.9 L369.5 423.2 L367.7 423.3 L365.9 423.2 L364.2 422.7 L350.2 417.7 L348.6 417.1 L347.1 416.2 L345.7 415 L344.4 413.7 L343.4 412.2 L342.5 410.5 L341.9 408.7 L341.5 406.8Z"/></clipPath><g clip-path="url(#pc21)"><path d="M363.1 422.3 L362.1 421.8 L361.1 421.2 L360.1 420.4 L359.2 419.6 L358.4 418.7 L357.7 417.7 L357.1 416.6 L356.5 415.5 L356.1 414.3 L355.7 413 L355.5 411.8 L355.3 410.4 L355.3 409.1 L355.4 407.8 L355.5 406.5 L355.8 405.1 L356.2 403.8 L356.6 402.6 L357.2 401.3 L343.2 396.3 L342.6 397.6 L342.2 398.8 L341.8 400.1 L341.5 401.5 L341.4 402.8 L341.3 404.1 L341.3 405.4 L341.5 406.8 L341.7 408 L342.1 409.3 L342.5 410.5 L343.1 411.6 L343.7 412.7 L344.4 413.7 L345.2 414.6 L346.1 415.4 L347.1 416.2 L348.1 416.8 L349.1 417.3Z" fill="#000" stroke="#000" stroke-width="1" /></g>
<clipPath id="pc22"><path d="M341.3 404.8 L341.4 402.8 L341.6 400.8 L342.2 398.8 L342.9 396.9 L343.8 395.2 L345 393.5 L346.3 392 L347.7 390.7 L349.3 389.6 L351 388.8 L352.7 388.1 L354.5 387.8 L356.3 387.7 L358.1 387.8 L359.8 388.3 L373.8 393.3 L375.4 393.9 L376.9 394.8 L378.3 396 L379.6 397.3 L380.6 398.8 L381.5 400.5 L382.1 402.3 L382.5 404.2 L382.7 406.2 L382.6 408.2 L382.4 410.2 L381.8 412.2 L381.1 414.1 L380.2 415.8 L379 417.5 L377.7 419 L376.3 420.3 L374.7 421.4 L373 422.2 L371.3 422.9 L369.5 423.2 L367.7 423.3 L365.9 423.2 L364.2 422.7 L350.2 417.7 L348.6 417.1 L347.1 416.2 L345.7 415 L344.4 413.7 L343.4 412.2 L342.5 410.5 L341.9 408.7 L341.5 406.8Z"/></clipPath><g clip-path="url(#pc22)"><path d="M351.4 415.4 L350.8 414.4 L350.2 413.2 L349.8 412 L349.4 410.8 L349.2 409.5 L349 408.2 L349 406.9 L349.1 405.5 L349.2 404.2 L349.5 402.9 L349.9 401.6 L350.3 400.3 L350.9 399.1" fill="none" stroke="#fff" stroke-width="1.6" /></g>
<path d="M373.8 393.3 L375.4 393.9 L376.9 394.8 L378.3 396 L379.6 397.3 L380.6 398.8 L381.5 400.5 L382.1 402.3 L382.5 404.2 L382.7 406.2 L382.6 408.2 L382.4 410.2 L381.8 412.2 L381.1 414.1 L380.2 415.8 L379 417.5 L377.7 419 L376.3 420.3 L374.7 421.4 L373 422.2 L371.3 422.9 L369.5 423.2 L367.7 423.3 L365.9 423.2 L364.2 422.7 L362.6 422.1 L361.1 421.2 L359.7 420 L358.4 418.7 L357.4 417.2 L356.5 415.5 L355.9 413.7 L355.5 411.8 L355.3 409.8 L355.4 407.8 L355.6 405.8 L356.2 403.8 L356.9 401.9 L357.8 400.2 L359 398.5 L360.3 397 L361.7 395.7 L363.3 394.6 L365 393.8 L366.7 393.1 L368.5 392.8 L370.3 392.7 L372.1 392.8Z" fill="#fff" stroke="#000" stroke-width="1.8" />
<path d="M372.4 397.7 L373.5 398.2 L374.6 398.8 L375.5 399.6 L376.4 400.5 L377.1 401.6 L377.7 402.8 L378.2 404 L378.5 405.4 L378.6 406.7 L378.5 408.1 L378.3 409.5 L378 410.9 L377.5 412.2 L376.8 413.5 L376 414.6 L375.1 415.7 L374.1 416.6 L373 417.4 L371.8 418 L370.6 418.4 L369.3 418.7 L368.1 418.7 L366.8 418.6 L365.6 418.3 L364.5 417.8 L363.4 417.2 L362.5 416.4 L361.6 415.5 L360.9 414.4 L360.3 413.2 L359.8 412 L359.5 410.6 L359.4 409.3 L359.5 407.9 L359.7 406.5 L360 405.1 L360.5 403.8 L361.2 402.5 L362 401.4 L362.9 400.3 L363.9 399.4 L365 398.6 L366.2 398 L367.4 397.6 L368.7 397.3 L369.9 397.3 L371.2 397.4Z" fill="#fff" stroke="#000" stroke-width="1.7" />
<clipPath id="pc23"><path d="M372.4 397.7 L373.5 398.2 L374.6 398.8 L375.5 399.6 L376.4 400.5 L377.1 401.6 L377.7 402.8 L378.2 404 L378.5 405.4 L378.6 406.7 L378.5 408.1 L378.3 409.5 L378 410.9 L377.5 412.2 L376.8 413.5 L376 414.6 L375.1 415.7 L374.1 416.6 L373 417.4 L371.8 418 L370.6 418.4 L369.3 418.7 L368.1 418.7 L366.8 418.6 L365.6 418.3 L364.5 417.8 L363.4 417.2 L362.5 416.4 L361.6 415.5 L360.9 414.4 L360.3 413.2 L359.8 412 L359.5 410.6 L359.4 409.3 L359.5 407.9 L359.7 406.5 L360 405.1 L360.5 403.8 L361.2 402.5 L362 401.4 L362.9 400.3 L363.9 399.4 L365 398.6 L366.2 398 L367.4 397.6 L368.7 397.3 L369.9 397.3 L371.2 397.4Z"/></clipPath><g clip-path="url(#pc23)"><path d="M365.2 400.9L377.6 399.9M365.2 404.4L377.6 403.4M365.2 408L377.6 407M365.2 411.6L377.6 410.6M365.2 415.1L377.6 414.1" stroke="#000" stroke-width="1.7" fill="none"/></g>
<clipPath id="pc24"><path d="M372.4 397.7 L373.5 398.2 L374.6 398.8 L375.5 399.6 L376.4 400.5 L377.1 401.6 L377.7 402.8 L378.2 404 L378.5 405.4 L378.6 406.7 L378.5 408.1 L378.3 409.5 L378 410.9 L377.5 412.2 L376.8 413.5 L376 414.6 L375.1 415.7 L374.1 416.6 L373 417.4 L371.8 418 L370.6 418.4 L369.3 418.7 L368.1 418.7 L366.8 418.6 L365.6 418.3 L364.5 417.8 L363.4 417.2 L362.5 416.4 L361.6 415.5 L360.9 414.4 L360.3 413.2 L359.8 412 L359.5 410.6 L359.4 409.3 L359.5 407.9 L359.7 406.5 L360 405.1 L360.5 403.8 L361.2 402.5 L362 401.4 L362.9 400.3 L363.9 399.4 L365 398.6 L366.2 398 L367.4 397.6 L368.7 397.3 L369.9 397.3 L371.2 397.4Z"/></clipPath><g clip-path="url(#pc24)"><path d="M365.4 395.2 L366.5 395.7 L367.6 396.3 L368.5 397.1 L369.4 398 L370.1 399.1 L370.7 400.3 L371.2 401.5 L371.5 402.9 L371.6 404.2 L371.5 405.6 L371.3 407 L371 408.4 L370.5 409.7 L369.8 411 L369 412.1 L368.1 413.2 L367.1 414.1 L366 414.9 L364.8 415.5 L363.6 415.9 L362.3 416.2 L361.1 416.2 L359.8 416.1 L358.6 415.8 L357.5 415.3 L356.4 414.7 L355.5 413.9 L354.6 413 L353.9 411.9 L353.3 410.7 L352.8 409.5 L352.5 408.1 L352.4 406.8 L352.5 405.4 L352.7 404 L353 402.6 L353.5 401.3 L354.2 400 L355 398.9 L355.9 397.8 L356.9 396.9 L358 396.1 L359.2 395.5 L360.4 395.1 L361.7 394.8 L362.9 394.8 L364.2 394.9Z" fill="none" stroke="#000" stroke-width="1.4" /></g>
<path d="M459.5 385.9 L460.5 386.9 L464.5 383.7 L466 385.5 L462.7 389.7 L463.5 390.9 L464.3 392.1 L468.5 389.4 L469.6 391.6 L466 395.4 L466.6 396.8 L467.1 398.2 L471.4 396 L472.2 398.5 L468.3 401.9 L468.6 403.5 L469 405 L473.3 403.4 L473.7 406.1 L469.5 409 L469.7 410.7 L469.8 412.5 L474 411.5 L474 414.3 L469.7 416.7 L469.6 418.5 L469.5 420.3 L473.6 420 L473.2 422.9 L468.9 424.8 L468.6 426.6 L468.2 428.5 L472.1 428.8 L471.3 431.8 L467 433 L466.5 435 L465.9 436.9 L469.5 437.8 L468.4 440.8 L464.2 441.4 L463.4 443.3 L462.5 445.2 L465.8 446.7 L464.4 449.8 L460.3 449.7 L459.3 451.6 L458.3 453.4 L461.2 455.5 L459.4 458.5 L455.6 457.8 L454.5 459.6 L453.2 461.3 L455.6 464 L453.6 466.8 L450.2 465.4 L448.8 467.1 L447.4 468.8 L449.3 471.9 L447 474.5 L444 472.6 L442.5 474.1 L441 475.6 L442.3 479.3 L439.8 481.6 L437.2 479.1 L435.6 480.5 L434 481.8 L434.7 485.8 L432.1 487.8 L430 484.8 L428.3 486 L426.6 487.1 L426.8 491.4 L424 493.1 L422.5 489.6 L420.7 490.6 L419 491.5 L418.6 496 L415.8 497.3 L414.8 493.5 L413 494.2 L411.3 494.9 L410.3 499.5 L407.5 500.5 L407.1 496.3 L405.3 496.7 L403.6 497.2 L402 501.9 L399.3 502.4 L399.5 498 L397.8 498.2 L396.1 498.4 L394 503 L391.3 503.1 L392.1 498.5 L390.5 498.5 L388.9 498.4 L386.3 502.9 L383.8 502.6 L385.2 497.9 L383.7 497.7 L382.2 497.3 L379.1 501.6 L376.8 500.9 L378.8 496.2 L377.4 495.7 L376 495.1 L372.6 499.1 L370.5 498 L373 493.4 L371.7 492.6 L370.6 491.8 L366.8 495.5 L365 494 L367.9 489.6 L366.9 488.5 L365.9 487.5 L361.9 490.7 L360.4 488.9 L363.7 484.7 L362.9 483.5 L362.1 482.3 L357.9 485 L356.8 482.8 L360.4 479 L359.8 477.6 L359.3 476.2 L355 478.4 L354.2 475.9 L358.1 472.5 L357.8 470.9 L357.4 469.4 L353.1 471 L352.7 468.3 L356.9 465.4 L356.7 463.7 L356.6 461.9 L352.4 462.9 L352.4 460.1 L356.7 457.7 L356.8 455.9 L356.9 454.1 L352.8 454.4 L353.2 451.5 L357.5 449.6 L357.8 447.8 L358.2 445.9 L354.3 445.6 L355.1 442.6 L359.4 441.4 L359.9 439.4 L360.5 437.5 L356.9 436.6 L358 433.6 L362.2 433 L363 431.1 L363.9 429.2 L360.6 427.7 L362 424.6 L366.1 424.7 L367.1 422.8 L368.1 421 L365.2 418.9 L367 415.9 L370.8 416.6 L371.9 414.8 L373.2 413.1 L370.8 410.4 L372.8 407.6 L376.2 409 L377.6 407.3 L379 405.6 L377.1 402.5 L379.4 399.9 L382.4 401.8 L383.9 400.3 L385.4 398.8 L384.1 395.1 L386.6 392.8 L389.2 395.3 L390.8 393.9 L392.4 392.6 L391.7 388.6 L394.3 386.6 L396.4 389.6 L398.1 388.4 L399.8 387.3 L399.6 383 L402.4 381.3 L403.9 384.8 L405.7 383.8 L407.4 382.9 L407.8 378.4 L410.6 377.1 L411.6 380.9 L413.4 380.2 L415.1 379.5 L416.1 374.9 L418.9 373.9 L419.3 378.1 L421.1 377.7 L422.8 377.2 L424.4 372.5 L427.1 372 L426.9 376.4 L428.6 376.2 L430.3 376 L432.4 371.4 L435.1 371.3 L434.3 375.9 L435.9 375.9 L437.5 376 L440.1 371.5 L442.6 371.8 L441.2 376.5 L442.7 376.7 L444.2 377.1 L447.3 372.8 L449.6 373.5 L447.6 378.2 L449 378.7 L450.4 379.3 L453.8 375.3 L455.9 376.4 L453.4 381 L454.7 381.8 L455.8 382.6 L459.6 378.9 L461.4 380.4 L458.5 384.8Z" fill="#fff" stroke="#000" stroke-width="1.6" />
<path d="M477.7 393.3 L478.8 394.2 L460.5 386.9 L459.5 385.9Z" fill="#fff" stroke="#000" stroke-width="1.3" />
<path d="M482.7 390.7 L484.3 392.3 L466 385.5 L464.5 383.7Z" fill="#fff" stroke="#000" stroke-width="1.3" />
<path d="M484.3 392.3 L481.3 396.6 L462.7 389.7 L466 385.5Z" fill="#fff" stroke="#000" stroke-width="1.3" />
<path d="M481.3 396.6 L482.2 397.8 L463.5 390.9 L462.7 389.7Z" fill="#fff" stroke="#000" stroke-width="1.3" />
<path d="M482.2 397.8 L483.1 398.9 L464.3 392.1 L463.5 390.9Z" fill="#fff" stroke="#000" stroke-width="1.3" />
<path d="M487.2 395.8 L488.6 397.8 L469.6 391.6 L468.5 389.4Z" fill="#fff" stroke="#000" stroke-width="1.3" />
<path d="M488.6 397.8 L485.1 401.8 L466 395.4 L469.6 391.6Z" fill="#fff" stroke="#000" stroke-width="1.3" />
<path d="M485.1 401.8 L485.9 403.2 L466.6 396.8 L466 395.4Z" fill="#fff" stroke="#000" stroke-width="1.3" />
<path d="M485.9 403.2 L486.5 404.5 L467.1 398.2 L466.6 396.8Z" fill="#fff" stroke="#000" stroke-width="1.3" />
<path d="M490.8 402 L491.8 404.2 L472.2 398.5 L471.4 396Z" fill="#fff" stroke="#000" stroke-width="1.3" />
<path d="M491.8 404.2 L488 407.9 L468.3 401.9 L472.2 398.5Z" fill="#fff" stroke="#000" stroke-width="1.3" />
<path d="M488 407.9 L488.5 409.4 L468.6 403.5 L468.3 401.9Z" fill="#fff" stroke="#000" stroke-width="1.3" />
<path d="M488.5 409.4 L489 410.9 L469 405 L468.6 403.5Z" fill="#fff" stroke="#000" stroke-width="1.3" />
<path d="M493.3 408.9 L493.9 411.4 L473.7 406.1 L473.3 403.4Z" fill="#fff" stroke="#000" stroke-width="1.3" />
<path d="M493.9 411.4 L489.9 414.7 L469.5 409 L473.7 406.1Z" fill="#fff" stroke="#000" stroke-width="1.3" />
<path d="M489.9 414.7 L490.2 416.3 L469.7 410.7 L469.5 409Z" fill="#fff" stroke="#000" stroke-width="1.3" />
<path d="M490.2 416.3 L490.4 417.9 L469.8 412.5 L469.7 410.7Z" fill="#fff" stroke="#000" stroke-width="1.3" />
<path d="M494.7 416.6 L495 419.3 L474 414.3 L474 411.5Z" fill="#fff" stroke="#000" stroke-width="1.3" />
<path d="M495 419.3 L490.7 422 L469.7 416.7 L474 414.3Z" fill="#fff" stroke="#000" stroke-width="1.3" />
<path d="M490.7 422 L490.8 423.8 L469.6 418.5 L469.7 416.7Z" fill="#fff" stroke="#000" stroke-width="1.3" />
<path d="M490.8 423.8 L490.8 425.6 L469.5 420.3 L469.6 418.5Z" fill="#fff" stroke="#000" stroke-width="1.3" />
<path d="M495 424.8 L494.9 427.7 L473.2 422.9 L473.6 420Z" fill="#fff" stroke="#000" stroke-width="1.3" />
<path d="M494.9 427.7 L490.5 429.9 L468.9 424.8 L473.2 422.9Z" fill="#fff" stroke="#000" stroke-width="1.3" />
<path d="M490.5 429.9 L490.3 431.7 L468.6 426.6 L468.9 424.8Z" fill="#fff" stroke="#000" stroke-width="1.3" />
<path d="M490.3 431.7 L490.1 433.6 L468.2 428.5 L468.6 426.6Z" fill="#fff" stroke="#000" stroke-width="1.3" />
<path d="M494.2 433.5 L493.6 436.5 L471.3 431.8 L472.1 428.8Z" fill="#fff" stroke="#000" stroke-width="1.3" />
<path d="M493.6 436.5 L489.3 438.1 L467 433 L471.3 431.8Z" fill="#fff" stroke="#000" stroke-width="1.3" />
<path d="M489.3 438.1 L488.9 440 L466.5 435 L467 433Z" fill="#fff" stroke="#000" stroke-width="1.3" />
<path d="M488.9 440 L488.4 441.8 L465.9 436.9 L466.5 435Z" fill="#fff" stroke="#000" stroke-width="1.3" />
<path d="M492.2 442.4 L491.3 445.4 L468.4 440.8 L469.5 437.8Z" fill="#fff" stroke="#000" stroke-width="1.3" />
<path d="M491.3 445.4 L487 446.4 L464.2 441.4 L468.4 440.8Z" fill="#fff" stroke="#000" stroke-width="1.3" />
<path d="M487 446.4 L486.3 448.3 L463.4 443.3 L464.2 441.4Z" fill="#fff" stroke="#000" stroke-width="1.3" />
<path d="M486.3 448.3 L485.6 450.2 L462.5 445.2 L463.4 443.3Z" fill="#fff" stroke="#000" stroke-width="1.3" />
<path d="M489.2 451.4 L487.9 454.4 L464.4 449.8 L465.8 446.7Z" fill="#fff" stroke="#000" stroke-width="1.3" />
<path d="M487.9 454.4 L483.8 454.7 L460.3 449.7 L464.4 449.8Z" fill="#fff" stroke="#000" stroke-width="1.3" />
<path d="M483.8 454.7 L482.9 456.7 L459.3 451.6 L460.3 449.7Z" fill="#fff" stroke="#000" stroke-width="1.3" />
<path d="M482.9 456.7 L482 458.5 L458.3 453.4 L459.3 451.6Z" fill="#fff" stroke="#000" stroke-width="1.3" />
<path d="M482 458.5 L485.1 460.3 L461.2 455.5 L458.3 453.4Z" fill="#fff" stroke="#000" stroke-width="1.3" />
<path d="M485.1 460.3 L483.5 463.3 L459.4 458.5 L461.2 455.5Z" fill="#fff" stroke="#000" stroke-width="1.3" />
<path d="M483.5 463.3 L479.6 463 L455.6 457.8 L459.4 458.5Z" fill="#fff" stroke="#000" stroke-width="1.3" />
<path d="M479.6 463 L478.5 464.8 L454.5 459.6 L455.6 457.8Z" fill="#fff" stroke="#000" stroke-width="1.3" />
<path d="M478.5 464.8 L477.4 466.6 L453.2 461.3 L454.5 459.6Z" fill="#fff" stroke="#000" stroke-width="1.3" />
<path d="M477.4 466.6 L480.1 469 L455.6 464 L453.2 461.3Z" fill="#fff" stroke="#000" stroke-width="1.3" />
<path d="M480.1 469 L478.2 471.8 L453.6 466.8 L455.6 464Z" fill="#fff" stroke="#000" stroke-width="1.3" />
<path d="M478.2 471.8 L474.5 470.9 L450.2 465.4 L453.6 466.8Z" fill="#fff" stroke="#000" stroke-width="1.3" />
<path d="M474.5 470.9 L473.3 472.7 L448.8 467.1 L450.2 465.4Z" fill="#fff" stroke="#000" stroke-width="1.3" />
<path d="M473.3 472.7 L472 474.4 L447.4 468.8 L448.8 467.1Z" fill="#fff" stroke="#000" stroke-width="1.3" />
<path d="M472 474.4 L474.2 477.2 L449.3 471.9 L447.4 468.8Z" fill="#fff" stroke="#000" stroke-width="1.3" />
<path d="M474.2 477.2 L472 479.9 L447 474.5 L449.3 471.9Z" fill="#fff" stroke="#000" stroke-width="1.3" />
<path d="M468.8 478.4 L467.3 480 L442.5 474.1 L444 472.6Z" fill="#fff" stroke="#000" stroke-width="1.3" />
<path d="M467.3 480 L465.9 481.6 L441 475.6 L442.5 474.1Z" fill="#fff" stroke="#000" stroke-width="1.3" />
<path d="M465.9 481.6 L467.6 485 L442.3 479.3 L441 475.6Z" fill="#fff" stroke="#000" stroke-width="1.3" />
<path d="M467.6 485 L465.2 487.4 L439.8 481.6 L442.3 479.3Z" fill="#fff" stroke="#000" stroke-width="1.3" />
<path d="M462.3 485.3 L460.8 486.8 L435.6 480.5 L437.2 479.1Z" fill="#fff" stroke="#000" stroke-width="1.3" />
<path d="M460.8 486.8 L459.2 488.2 L434 481.8 L435.6 480.5Z" fill="#fff" stroke="#000" stroke-width="1.3" />
<path d="M459.2 488.2 L460.3 492 L434.7 485.8 L434 481.8Z" fill="#fff" stroke="#000" stroke-width="1.3" />
<path d="M460.3 492 L457.8 494.2 L432.1 487.8 L434.7 485.8Z" fill="#fff" stroke="#000" stroke-width="1.3" />
<path d="M455.4 491.5 L453.7 492.8 L428.3 486 L430 484.8Z" fill="#fff" stroke="#000" stroke-width="1.3" />
<path d="M453.7 492.8 L452.1 494 L426.6 487.1 L428.3 486Z" fill="#fff" stroke="#000" stroke-width="1.3" />
<path d="M452.1 494 L452.6 498.1 L426.8 491.4 L426.6 487.1Z" fill="#fff" stroke="#000" stroke-width="1.3" />
<path d="M452.6 498.1 L449.9 500 L424 493.1 L426.8 491.4Z" fill="#fff" stroke="#000" stroke-width="1.3" />
<path d="M448 496.8 L446.3 497.9 L420.7 490.6 L422.5 489.6Z" fill="#fff" stroke="#000" stroke-width="1.3" />
<path d="M446.3 497.9 L444.6 499 L419 491.5 L420.7 490.6Z" fill="#fff" stroke="#000" stroke-width="1.3" />
<path d="M444.6 499 L444.5 503.4 L418.6 496 L419 491.5Z" fill="#fff" stroke="#000" stroke-width="1.3" />
<path d="M444.5 503.4 L441.7 504.9 L415.8 497.3 L418.6 496Z" fill="#fff" stroke="#000" stroke-width="1.3" />
<path d="M440.4 501.3 L438.7 502.2 L413 494.2 L414.8 493.5Z" fill="#fff" stroke="#000" stroke-width="1.3" />
<path d="M438.7 502.2 L436.9 503 L411.3 494.9 L413 494.2Z" fill="#fff" stroke="#000" stroke-width="1.3" />
<path d="M436.9 503 L436.3 507.5 L410.3 499.5 L411.3 494.9Z" fill="#fff" stroke="#000" stroke-width="1.3" />
<path d="M436.3 507.5 L433.4 508.7 L407.5 500.5 L410.3 499.5Z" fill="#fff" stroke="#000" stroke-width="1.3" />
<path d="M432.7 504.7 L431 505.3 L405.3 496.7 L407.1 496.3Z" fill="#fff" stroke="#000" stroke-width="1.3" />
<path d="M431 505.3 L429.2 505.9 L403.6 497.2 L405.3 496.7Z" fill="#fff" stroke="#000" stroke-width="1.3" />
<path d="M429.2 505.9 L428 510.6 L402 501.9 L403.6 497.2Z" fill="#fff" stroke="#000" stroke-width="1.3" />
<path d="M428 510.6 L425.2 511.4 L399.3 502.4 L402 501.9Z" fill="#fff" stroke="#000" stroke-width="1.3" />
<path d="M425 507.1 L423.3 507.5 L397.8 498.2 L399.5 498Z" fill="#fff" stroke="#000" stroke-width="1.3" />
<path d="M423.3 507.5 L421.6 507.8 L396.1 498.4 L397.8 498.2Z" fill="#fff" stroke="#000" stroke-width="1.3" />
<path d="M421.6 507.8 L419.8 512.5 L394 503 L396.1 498.4Z" fill="#fff" stroke="#000" stroke-width="1.3" />
<path d="M419.8 512.5 L417.1 512.8 L391.3 503.1 L394 503Z" fill="#fff" stroke="#000" stroke-width="1.3" />
<path d="M417.5 508.3 L415.8 508.4 L390.5 498.5 L392.1 498.5Z" fill="#fff" stroke="#000" stroke-width="1.3" />
<path d="M415.8 508.4 L414.2 508.5 L388.9 498.4 L390.5 498.5Z" fill="#fff" stroke="#000" stroke-width="1.3" />
<path d="M414.2 508.5 L411.9 513.1 L386.3 502.9 L388.9 498.4Z" fill="#fff" stroke="#000" stroke-width="1.3" />
<path d="M411.9 513.1 L409.3 513.1 L383.8 502.6 L386.3 502.9Z" fill="#fff" stroke="#000" stroke-width="1.3" />
<path d="M410.3 508.4 L408.7 508.3 L383.7 497.7 L385.2 497.9Z" fill="#fff" stroke="#000" stroke-width="1.3" />
<path d="M408.7 508.3 L407.2 508.1 L382.2 497.3 L383.7 497.7Z" fill="#fff" stroke="#000" stroke-width="1.3" />
<path d="M407.2 508.1 L404.4 512.6 L379.1 501.6 L382.2 497.3Z" fill="#fff" stroke="#000" stroke-width="1.3" />
<path d="M382.8 444.2 L379.2 443 L360.6 427.7 L363.9 429.2Z" fill="#fff" stroke="#000" stroke-width="1.3" />
<path d="M396.4 414.5 L399.6 416 L382.4 401.8 L379.4 399.9Z" fill="#fff" stroke="#000" stroke-width="1.3" />
<path d="M403.2 407 L406.1 409.1 L389.2 395.3 L386.6 392.8Z" fill="#fff" stroke="#000" stroke-width="1.3" />
<path d="M410.6 400.2 L413 402.9 L396.4 389.6 L394.3 386.6Z" fill="#fff" stroke="#000" stroke-width="1.3" />
<path d="M418.5 394.4 L420.4 397.6 L403.9 384.8 L402.4 381.3Z" fill="#fff" stroke="#000" stroke-width="1.3" />
<path d="M426.7 389.5 L428 393.1 L411.6 380.9 L410.6 377.1Z" fill="#fff" stroke="#000" stroke-width="1.3" />
<path d="M435 385.7 L435.7 389.7 L419.3 378.1 L418.9 373.9Z" fill="#fff" stroke="#000" stroke-width="1.3" />
<path d="M443.2 383 L443.4 387.3 L426.9 376.4 L427.1 372Z" fill="#fff" stroke="#000" stroke-width="1.3" />
<path d="M451.3 381.6 L450.9 386.1 L434.3 375.9 L435.1 371.3Z" fill="#fff" stroke="#000" stroke-width="1.3" />
<path d="M459.1 381.3 L458.1 386 L441.2 376.5 L442.6 371.8Z" fill="#fff" stroke="#000" stroke-width="1.3" />
<path d="M466.5 382.3 L464.9 387 L447.6 378.2 L449.6 373.5Z" fill="#fff" stroke="#000" stroke-width="1.3" />
<path d="M473.2 384.5 L471 389.2 L453.4 381 L455.9 376.4Z" fill="#fff" stroke="#000" stroke-width="1.3" />
<path d="M471 389.2 L472.4 389.8 L454.7 381.8 L453.4 381Z" fill="#fff" stroke="#000" stroke-width="1.3" />
<path d="M472.4 389.8 L473.6 390.5 L455.8 382.6 L454.7 381.8Z" fill="#fff" stroke="#000" stroke-width="1.3" />
<path d="M477.2 386.6 L479.2 387.9 L461.4 380.4 L459.6 378.9Z" fill="#fff" stroke="#000" stroke-width="1.3" />
<path d="M479.2 387.9 L476.6 392.4 L458.5 384.8 L461.4 380.4Z" fill="#fff" stroke="#000" stroke-width="1.3" />
<path d="M476.6 392.4 L477.7 393.3 L459.5 385.9 L458.5 384.8Z" fill="#fff" stroke="#000" stroke-width="1.3" />
<path d="M404.4 512.6 L401.9 512.1 L376.8 500.9 L379.1 501.6Z" fill="#000" stroke="#000" stroke-width="1.3" />
<path d="M403.5 507.4 L402.1 507 L377.4 495.7 L378.8 496.2Z" fill="#000" stroke="#000" stroke-width="1.3" />
<path d="M402.1 507 L400.7 506.6 L376 495.1 L377.4 495.7Z" fill="#000" stroke="#000" stroke-width="1.3" />
<path d="M400.7 506.6 L397.4 510.8 L372.6 499.1 L376 495.1Z" fill="#000" stroke="#000" stroke-width="1.3" />
<path d="M397.4 510.8 L395.2 509.9 L370.5 498 L372.6 499.1Z" fill="#000" stroke="#000" stroke-width="1.3" />
<path d="M394.8 503.9 L391.2 507.8 L366.8 495.5 L370.6 491.8Z" fill="#000" stroke="#000" stroke-width="1.3" />
<path d="M389.6 500.2 L385.7 503.7 L361.9 490.7 L365.9 487.5Z" fill="#000" stroke="#000" stroke-width="1.3" />
<path d="M385.3 495.5 L381.2 498.6 L357.9 485 L362.1 482.3Z" fill="#000" stroke="#000" stroke-width="1.3" />
<path d="M381.9 489.9 L377.6 492.4 L355 478.4 L359.3 476.2Z" fill="#000" stroke="#000" stroke-width="1.3" />
<path d="M379.4 483.5 L375.1 485.5 L353.1 471 L357.4 469.4Z" fill="#000" stroke="#000" stroke-width="1.3" />
<path d="M378 476.5 L373.7 477.8 L352.4 462.9 L356.6 461.9Z" fill="#000" stroke="#000" stroke-width="1.3" />
<path d="M377.6 468.8 L373.4 469.6 L352.8 454.4 L356.9 454.1Z" fill="#000" stroke="#000" stroke-width="1.3" />
<path d="M378.3 460.8 L374.2 460.9 L354.3 445.6 L358.2 445.9Z" fill="#000" stroke="#000" stroke-width="1.3" />
<path d="M380 452.6 L376.2 452 L356.9 436.6 L360.5 437.5Z" fill="#000" stroke="#000" stroke-width="1.3" />
<path d="M477.7 393.3 L478.8 394.2 L482.7 390.7 L484.3 392.3 L481.3 396.6 L482.2 397.8 L483.1 398.9 L487.2 395.8 L488.6 397.8 L485.1 401.8 L485.9 403.2 L486.5 404.5 L490.8 402 L491.8 404.2 L488 407.9 L488.5 409.4 L489 410.9 L493.3 408.9 L493.9 411.4 L489.9 414.7 L490.2 416.3 L490.4 417.9 L494.7 416.6 L495 419.3 L490.7 422 L490.8 423.8 L490.8 425.6 L495 424.8 L494.9 427.7 L490.5 429.9 L490.3 431.7 L490.1 433.6 L494.2 433.5 L493.6 436.5 L489.3 438.1 L488.9 440 L488.4 441.8 L492.2 442.4 L491.3 445.4 L487 446.4 L486.3 448.3 L485.6 450.2 L489.2 451.4 L487.9 454.4 L483.8 454.7 L482.9 456.7 L482 458.5 L485.1 460.3 L483.5 463.3 L479.6 463 L478.5 464.8 L477.4 466.6 L480.1 469 L478.2 471.8 L474.5 470.9 L473.3 472.7 L472 474.4 L474.2 477.2 L472 479.9 L468.8 478.4 L467.3 480 L465.9 481.6 L467.6 485 L465.2 487.4 L462.3 485.3 L460.8 486.8 L459.2 488.2 L460.3 492 L457.8 494.2 L455.4 491.5 L453.7 492.8 L452.1 494 L452.6 498.1 L449.9 500 L448 496.8 L446.3 497.9 L444.6 499 L444.5 503.4 L441.7 504.9 L440.4 501.3 L438.7 502.2 L436.9 503 L436.3 507.5 L433.4 508.7 L432.7 504.7 L431 505.3 L429.2 505.9 L428 510.6 L425.2 511.4 L425 507.1 L423.3 507.5 L421.6 507.8 L419.8 512.5 L417.1 512.8 L417.5 508.3 L415.8 508.4 L414.2 508.5 L411.9 513.1 L409.3 513.1 L410.3 508.4 L408.7 508.3 L407.2 508.1 L404.4 512.6 L401.9 512.1 L403.5 507.4 L402.1 507 L400.7 506.6 L397.4 510.8 L395.2 509.9 L397.4 505.2 L396 504.6 L394.8 503.9 L391.2 507.8 L389.2 506.5 L391.8 502 L390.7 501.1 L389.6 500.2 L385.7 503.7 L384.1 502.1 L387.1 497.8 L386.2 496.6 L385.3 495.5 L381.2 498.6 L379.8 496.6 L383.3 492.6 L382.5 491.2 L381.9 489.9 L377.6 492.4 L376.6 490.2 L380.4 486.5 L379.9 485 L379.4 483.5 L375.1 485.5 L374.5 483 L378.5 479.7 L378.2 478.1 L378 476.5 L373.7 477.8 L373.4 475.1 L377.7 472.4 L377.6 470.6 L377.6 468.8 L373.4 469.6 L373.5 466.7 L377.9 464.5 L378.1 462.7 L378.3 460.8 L374.2 460.9 L374.8 457.9 L379.1 456.3 L379.5 454.4 L380 452.6 L376.2 452 L377.1 449 L381.4 448 L382.1 446.1 L382.8 444.2 L379.2 443 L380.5 440 L384.6 439.7 L385.5 437.7 L386.4 435.9 L383.3 434.1 L384.9 431.1 L388.8 431.4 L389.9 429.6 L391 427.8 L388.3 425.4 L390.2 422.6 L393.9 423.5 L395.1 421.7 L396.4 420 L394.2 417.2 L396.4 414.5 L399.6 416 L401.1 414.4 L402.5 412.8 L400.8 409.4 L403.2 407 L406.1 409.1 L407.6 407.6 L409.2 406.2 L408.1 402.4 L410.6 400.2 L413 402.9 L414.7 401.6 L416.3 400.4 L415.8 396.3 L418.5 394.4 L420.4 397.6 L422.1 396.5 L423.8 395.4 L423.9 391 L426.7 389.5 L428 393.1 L429.7 392.2 L431.5 391.4 L432.1 386.9 L435 385.7 L435.7 389.7 L437.4 389.1 L439.2 388.5 L440.4 383.8 L443.2 383 L443.4 387.3 L445.1 386.9 L446.8 386.6 L448.6 381.9 L451.3 381.6 L450.9 386.1 L452.6 386 L454.2 385.9 L456.5 381.3 L459.1 381.3 L458.1 386 L459.7 386.1 L461.2 386.3 L464 381.8 L466.5 382.3 L464.9 387 L466.3 387.4 L467.7 387.8 L471 383.6 L473.2 384.5 L471 389.2 L472.4 389.8 L473.6 390.5 L477.2 386.6 L479.2 387.9 L476.6 392.4Z" fill="#fff" stroke="#000" stroke-width="1.6" />
<path d="M476.6 394.7 L480.6 398.6 L483.8 403.4 L486.2 409 L487.6 415.2 L488.2 422 L487.8 429.1 L486.6 436.6 L484.4 444.3 L481.3 452 L477.5 459.7 L472.9 467.1 L467.7 474.2 L461.8 480.8 L455.6 486.9 L448.9 492.2 L442 496.9 L434.9 500.6 L427.9 503.4 L420.9 505.3 L414.2 506.2 L407.8 506.1 L401.9 504.9 L396.5 502.8 L391.8 499.7 L387.8 495.8 L384.6 491 L382.2 485.4 L380.8 479.2 L380.2 472.4 L380.6 465.3 L381.8 457.8 L384 450.1 L387.1 442.4 L390.9 434.7 L395.5 427.3 L400.7 420.2 L406.6 413.6 L412.8 407.5 L419.5 402.2 L426.4 397.5 L433.5 393.8 L440.5 391 L447.5 389.1 L454.2 388.2 L460.6 388.3 L466.5 389.5 L471.9 391.6Z" fill="none" stroke="#000" stroke-width="2.6" />
<path d="M462 421.8 L464.8 424.4 L467.1 427.5 L469 430.9 L470.3 434.6 L471.2 438.5 L471.5 442.7 L471.3 446.9 L470.5 451.2 L469.3 455.5 L467.5 459.6 L465.2 463.5 L462.5 467.3 L459.5 470.6 L456.1 473.7 L452.4 476.3 L448.5 478.4 L444.5 480 L440.4 481.1 L436.2 481.7 L432.2 481.7 L428.3 481.1 L424.6 480 L421.1 478.3 L418 476.2 L415.2 473.6 L412.9 470.5 L411 467.1 L409.7 463.4 L408.8 459.5 L408.5 455.3 L408.7 451.1 L409.5 446.8 L410.7 442.5 L412.5 438.4 L414.8 434.5 L417.5 430.7 L420.5 427.4 L423.9 424.3 L427.6 421.7 L431.5 419.6 L435.5 418 L439.6 416.9 L443.8 416.3 L447.8 416.3 L451.7 416.9 L455.4 418 L458.9 419.7Z" fill="#fff" stroke="#000" stroke-width="1.7" />
<path d="M458.6 426.1 L460.8 428.2 L462.7 430.7 L464.1 433.5 L465.2 436.5 L465.8 439.8 L466 443.2 L465.8 446.8 L465.1 450.3 L464 453.9 L462.4 457.4 L460.5 460.7 L458.3 463.8 L455.7 466.7 L452.8 469.2 L449.8 471.4 L446.5 473.3 L443.2 474.7 L439.8 475.7 L436.4 476.2 L433.1 476.2 L429.8 475.8 L426.8 475 L424 473.7 L421.4 471.9 L419.2 469.8 L417.3 467.3 L415.9 464.5 L414.8 461.5 L414.2 458.2 L414 454.8 L414.2 451.2 L414.9 447.7 L416 444.1 L417.6 440.6 L419.5 437.3 L421.7 434.2 L424.3 431.3 L427.2 428.8 L430.2 426.6 L433.5 424.7 L436.8 423.3 L440.2 422.3 L443.6 421.8 L446.9 421.8 L450.2 422.2 L453.2 423 L456 424.3Z" fill="#fff" stroke="#000" stroke-width="1.4" />
<path d="M454.2 433.7 L455.7 435.1 L457 436.8 L458 438.8 L458.7 440.9 L459.1 443.2 L459.1 445.6 L458.9 448.1 L458.4 450.6 L457.5 453.1 L456.4 455.5 L455.1 457.9 L453.4 460.1 L451.6 462.1 L449.6 463.9 L447.4 465.5 L445.2 466.9 L442.8 467.9 L440.4 468.7 L438.1 469.1 L435.8 469.2 L433.5 468.9 L431.5 468.4 L429.5 467.5 L427.8 466.3 L426.3 464.9 L425 463.2 L424 461.2 L423.3 459.1 L422.9 456.8 L422.9 454.4 L423.1 451.9 L423.6 449.4 L424.5 446.9 L425.6 444.5 L426.9 442.1 L428.6 439.9 L430.4 437.9 L432.4 436.1 L434.6 434.5 L436.8 433.1 L439.2 432.1 L441.6 431.3 L443.9 430.9 L446.2 430.8 L448.5 431.1 L450.5 431.6 L452.5 432.5Z" fill="#fff" stroke="#000" stroke-width="1.8" />
<clipPath id="pc25"><path d="M454.2 433.7 L455.7 435.1 L457 436.8 L458 438.8 L458.7 440.9 L459.1 443.2 L459.1 445.6 L458.9 448.1 L458.4 450.6 L457.5 453.1 L456.4 455.5 L455.1 457.9 L453.4 460.1 L451.6 462.1 L449.6 463.9 L447.4 465.5 L445.2 466.9 L442.8 467.9 L440.4 468.7 L438.1 469.1 L435.8 469.2 L433.5 468.9 L431.5 468.4 L429.5 467.5 L427.8 466.3 L426.3 464.9 L425 463.2 L424 461.2 L423.3 459.1 L422.9 456.8 L422.9 454.4 L423.1 451.9 L423.6 449.4 L424.5 446.9 L425.6 444.5 L426.9 442.1 L428.6 439.9 L430.4 437.9 L432.4 436.1 L434.6 434.5 L436.8 433.1 L439.2 432.1 L441.6 431.3 L443.9 430.9 L446.2 430.8 L448.5 431.1 L450.5 431.6 L452.5 432.5Z"/></clipPath><g clip-path="url(#pc25)"><path d="M460.2 438.7 L461.7 440.1 L463 441.8 L464 443.8 L464.7 445.9 L465.1 448.2 L465.1 450.6 L464.9 453.1 L464.4 455.6 L463.5 458.1 L462.4 460.5 L461.1 462.9 L459.4 465.1 L457.6 467.1 L455.6 468.9 L453.4 470.5 L451.2 471.9 L448.8 472.9 L446.4 473.7 L444.1 474.1 L441.8 474.2 L439.5 473.9 L437.5 473.4 L435.5 472.5 L433.8 471.3 L432.3 469.9 L431 468.2 L430 466.2 L429.3 464.1 L428.9 461.8 L428.9 459.4 L429.1 456.9 L429.6 454.4 L430.5 451.9 L431.6 449.5 L432.9 447.1 L434.6 444.9 L436.4 442.9 L438.4 441.1 L440.6 439.5 L442.8 438.1 L445.2 437.1 L447.6 436.3 L449.9 435.9 L452.2 435.8 L454.5 436.1 L456.5 436.6 L458.5 437.5Z" fill="none" stroke="#000" stroke-width="4" /></g>
<path d="M428 446 Q436 436 448 440 Q452 446 446 452 Q440 456 436 452" fill="none" stroke="#000" stroke-width="1.6" />
<path d="M448.5 473.8 L448.6 471.4 L449 468.9 L449.6 466.4 L450.4 463.9 L451.4 461.5 L452.6 459.1 L453.9 457 L455.3 455 L456.9 453.3 L458.5 451.8 L460.2 450.6 L462 449.6 L463.7 449 L465.4 448.8 L467 448.8 L468.5 449.2 L471.3 450.2 L472.8 450.9 L474 451.9 L475.1 453.2 L476.1 454.8 L476.8 456.6 L477.3 458.6 L477.6 460.8 L477.7 463.2 L477.5 465.6 L477.2 468.1 L476.6 470.6 L475.8 473.1 L474.8 475.5 L473.6 477.8 L472.3 480 L470.8 482 L469.3 483.7 L467.6 485.2 L465.9 486.4 L464.2 487.3 L462.5 487.9 L460.8 488.2 L459.2 488.2 L457.7 487.8 L454.8 486.8 L453.4 486.1 L452.2 485.1 L451 483.8 L450.1 482.2 L449.4 480.4 L448.9 478.4 L448.6 476.2Z" fill="#000" stroke="#000" stroke-width="1.7" />
<path d="M471.3 450.2 L472.8 450.9 L474 451.9 L475.1 453.2 L476.1 454.8 L476.8 456.6 L477.3 458.6 L477.6 460.8 L477.7 463.2 L477.5 465.6 L477.2 468.1 L476.6 470.6 L475.8 473.1 L474.8 475.5 L473.6 477.8 L472.3 480 L470.8 482 L469.3 483.7 L467.6 485.2 L465.9 486.4 L464.2 487.3 L462.5 487.9 L460.8 488.2 L459.2 488.2 L457.7 487.8 L456.2 487.1 L455 486.1 L453.9 484.8 L452.9 483.2 L452.2 481.4 L451.7 479.4 L451.4 477.2 L451.3 474.8 L451.5 472.4 L451.8 469.9 L452.4 467.4 L453.2 464.9 L454.2 462.5 L455.4 460.2 L456.7 458 L458.2 456 L459.7 454.3 L461.4 452.8 L463.1 451.6 L464.8 450.7 L466.5 450.1 L468.2 449.8 L469.8 449.8Z" fill="#fff" stroke="#000" stroke-width="1.7" />
<clipPath id="c14"><path d="M468.9 456.8 L469.8 457.2 L470.5 457.8 L471.1 458.6 L471.6 459.6 L472 460.8 L472.3 462.1 L472.4 463.5 L472.4 465 L472.3 466.5 L472 468.2 L471.6 469.8 L471.1 471.4 L470.4 473 L469.7 474.5 L468.9 475.9 L468 477.2 L467 478.3 L466 479.3 L465 480.1 L463.9 480.8 L462.9 481.2 L461.9 481.4 L461 481.4 L460.1 481.2 L459.2 480.8 L458.5 480.2 L457.9 479.4 L457.4 478.4 L457 477.2 L456.7 475.9 L456.6 474.5 L456.6 473 L456.7 471.5 L457 469.8 L457.4 468.2 L457.9 466.6 L458.6 465 L459.3 463.5 L460.1 462.1 L461 460.8 L462 459.7 L463 458.7 L464 457.9 L465.1 457.2 L466.1 456.8 L467.1 456.6 L468 456.6Z"/></clipPath>
<path d="M468.9 456.8 L469.8 457.2 L470.5 457.8 L471.1 458.6 L471.6 459.6 L472 460.8 L472.3 462.1 L472.4 463.5 L472.4 465 L472.3 466.5 L472 468.2 L471.6 469.8 L471.1 471.4 L470.4 473 L469.7 474.5 L468.9 475.9 L468 477.2 L467 478.3 L466 479.3 L465 480.1 L463.9 480.8 L462.9 481.2 L461.9 481.4 L461 481.4 L460.1 481.2 L459.2 480.8 L458.5 480.2 L457.9 479.4 L457.4 478.4 L457 477.2 L456.7 475.9 L456.6 474.5 L456.6 473 L456.7 471.5 L457 469.8 L457.4 468.2 L457.9 466.6 L458.6 465 L459.3 463.5 L460.1 462.1 L461 460.8 L462 459.7 L463 458.7 L464 457.9 L465.1 457.2 L466.1 456.8 L467.1 456.6 L468 456.6Z" fill="#000" stroke="#000" stroke-width="1.7" />
<g clip-path="url(#c14)"><path d="M466.7 456 L467.5 456.4 L468.2 457 L468.9 457.8 L469.4 458.8 L469.8 459.9 L470 461.2 L470.2 462.6 L470.2 464.1 L470 465.7 L469.7 467.3 L469.3 469 L468.8 470.6 L468.2 472.1 L467.4 473.7 L466.6 475.1 L465.7 476.4 L464.8 477.5 L463.8 478.5 L462.7 479.3 L461.7 480 L460.7 480.4 L459.7 480.6 L458.7 480.6 L457.8 480.4 L457 480 L456.2 479.4 L455.6 478.5 L455.1 477.6 L454.7 476.4 L454.4 475.1 L454.3 473.7 L454.3 472.2 L454.5 470.6 L454.7 469 L455.1 467.4 L455.7 465.8 L456.3 464.2 L457 462.7 L457.9 461.3 L458.8 460 L459.7 458.8 L460.7 457.8 L461.8 457 L462.8 456.4 L463.8 456 L464.8 455.8 L465.8 455.8Z" fill="#fff" stroke="#000" stroke-width="1.36" /></g>
<path d="M462.4 480.4 L462.5 478.1 L462.8 475.7 L463.4 473.3 L464.1 470.9 L465 468.6 L466.2 466.5 L467.5 464.4 L468.9 462.6 L470.5 461 L472.1 459.6 L473.8 458.4 L475.6 457.6 L477.4 457.1 L479.1 456.9 L480.8 457 L482.3 457.4 L495.5 462.1 L497 462.9 L498.3 463.9 L499.5 465.1 L500.5 466.7 L501.3 468.4 L501.9 470.4 L502.3 472.5 L502.4 474.8 L502.3 477.1 L502 479.5 L501.5 481.9 L500.7 484.3 L499.8 486.6 L498.7 488.8 L497.4 490.8 L495.9 492.6 L494.4 494.3 L492.7 495.6 L491 496.8 L489.2 497.6 L487.5 498.1 L485.8 498.4 L484.1 498.3 L482.5 497.9 L469.3 493.1 L467.9 492.4 L466.5 491.4 L465.3 490.1 L464.3 488.5 L463.5 486.8 L462.9 484.8 L462.6 482.7Z" fill="#fff" stroke="#000" stroke-width="1.8" />
<clipPath id="pc26"><path d="M462.4 480.4 L462.5 478.1 L462.8 475.7 L463.4 473.3 L464.1 470.9 L465 468.6 L466.2 466.5 L467.5 464.4 L468.9 462.6 L470.5 461 L472.1 459.6 L473.8 458.4 L475.6 457.6 L477.4 457.1 L479.1 456.9 L480.8 457 L482.3 457.4 L495.5 462.1 L497 462.9 L498.3 463.9 L499.5 465.1 L500.5 466.7 L501.3 468.4 L501.9 470.4 L502.3 472.5 L502.4 474.8 L502.3 477.1 L502 479.5 L501.5 481.9 L500.7 484.3 L499.8 486.6 L498.7 488.8 L497.4 490.8 L495.9 492.6 L494.4 494.3 L492.7 495.6 L491 496.8 L489.2 497.6 L487.5 498.1 L485.8 498.4 L484.1 498.3 L482.5 497.9 L469.3 493.1 L467.9 492.4 L466.5 491.4 L465.3 490.1 L464.3 488.5 L463.5 486.8 L462.9 484.8 L462.6 482.7Z"/></clipPath><g clip-path="url(#pc26)"><path d="M481.5 497.4 L480.6 496.8 L479.7 496.1 L478.9 495.3 L478.1 494.4 L477.5 493.3 L476.9 492.2 L476.5 490.9 L476.1 489.6 L475.8 488.2 L475.7 486.7 L475.6 485.2 L475.6 483.7 L475.7 482.1 L476 480.5 L476.3 478.9 L476.7 477.3 L477.3 475.7 L477.9 474.2 L478.6 472.7 L465.4 467.9 L464.7 469.4 L464.1 470.9 L463.6 472.5 L463.1 474.1 L462.8 475.7 L462.6 477.3 L462.5 478.9 L462.4 480.4 L462.5 482 L462.7 483.4 L462.9 484.8 L463.3 486.1 L463.8 487.4 L464.3 488.5 L465 489.6 L465.7 490.5 L466.5 491.4 L467.4 492.1 L468.3 492.6Z" fill="#000" stroke="#000" stroke-width="1" /></g>
<clipPath id="pc27"><path d="M462.4 480.4 L462.5 478.1 L462.8 475.7 L463.4 473.3 L464.1 470.9 L465 468.6 L466.2 466.5 L467.5 464.4 L468.9 462.6 L470.5 461 L472.1 459.6 L473.8 458.4 L475.6 457.6 L477.4 457.1 L479.1 456.9 L480.8 457 L482.3 457.4 L495.5 462.1 L497 462.9 L498.3 463.9 L499.5 465.1 L500.5 466.7 L501.3 468.4 L501.9 470.4 L502.3 472.5 L502.4 474.8 L502.3 477.1 L502 479.5 L501.5 481.9 L500.7 484.3 L499.8 486.6 L498.7 488.8 L497.4 490.8 L495.9 492.6 L494.4 494.3 L492.7 495.6 L491 496.8 L489.2 497.6 L487.5 498.1 L485.8 498.4 L484.1 498.3 L482.5 497.9 L469.3 493.1 L467.9 492.4 L466.5 491.4 L465.3 490.1 L464.3 488.5 L463.5 486.8 L462.9 484.8 L462.6 482.7Z"/></clipPath><g clip-path="url(#pc27)"><path d="M471 490 L470.6 488.8 L470.2 487.4 L469.9 486 L469.7 484.6 L469.7 483.1 L469.7 481.5 L469.8 479.9 L470.1 478.3 L470.4 476.7 L470.8 475.1 L471.3 473.6 L471.9 472 L472.6 470.5" fill="none" stroke="#fff" stroke-width="1.6" /></g>
<path d="M495.5 462.1 L497 462.9 L498.3 463.9 L499.5 465.1 L500.5 466.7 L501.3 468.4 L501.9 470.4 L502.3 472.5 L502.4 474.8 L502.3 477.1 L502 479.5 L501.5 481.9 L500.7 484.3 L499.8 486.6 L498.7 488.8 L497.4 490.8 L495.9 492.6 L494.4 494.3 L492.7 495.6 L491 496.8 L489.2 497.6 L487.5 498.1 L485.8 498.4 L484.1 498.3 L482.5 497.9 L481 497.1 L479.7 496.1 L478.5 494.9 L477.5 493.3 L476.7 491.6 L476.1 489.6 L475.7 487.5 L475.6 485.2 L475.7 482.9 L476 480.5 L476.5 478.1 L477.3 475.7 L478.2 473.4 L479.3 471.2 L480.6 469.2 L482.1 467.4 L483.6 465.7 L485.3 464.4 L487 463.2 L488.8 462.4 L490.5 461.9 L492.2 461.6 L493.9 461.7Z" fill="#fff" stroke="#000" stroke-width="1.8" />
<path d="M493.5 467.5 L494.6 468 L495.5 468.7 L496.3 469.6 L497.1 470.7 L497.6 471.9 L498 473.3 L498.3 474.8 L498.4 476.3 L498.3 478 L498.1 479.7 L497.7 481.3 L497.2 483 L496.6 484.6 L495.8 486.1 L494.9 487.5 L493.8 488.8 L492.8 490 L491.6 491 L490.4 491.7 L489.2 492.3 L487.9 492.7 L486.7 492.8 L485.6 492.8 L484.5 492.5 L483.4 492 L482.5 491.3 L481.7 490.4 L480.9 489.3 L480.4 488.1 L480 486.7 L479.7 485.2 L479.6 483.7 L479.7 482 L479.9 480.3 L480.3 478.7 L480.8 477 L481.4 475.4 L482.2 473.9 L483.1 472.5 L484.2 471.2 L485.2 470 L486.4 469 L487.6 468.3 L488.8 467.7 L490.1 467.3 L491.3 467.2 L492.4 467.2Z" fill="#fff" stroke="#000" stroke-width="1.7" />
<clipPath id="pc28"><path d="M493.5 467.5 L494.6 468 L495.5 468.7 L496.3 469.6 L497.1 470.7 L497.6 471.9 L498 473.3 L498.3 474.8 L498.4 476.3 L498.3 478 L498.1 479.7 L497.7 481.3 L497.2 483 L496.6 484.6 L495.8 486.1 L494.9 487.5 L493.8 488.8 L492.8 490 L491.6 491 L490.4 491.7 L489.2 492.3 L487.9 492.7 L486.7 492.8 L485.6 492.8 L484.5 492.5 L483.4 492 L482.5 491.3 L481.7 490.4 L480.9 489.3 L480.4 488.1 L480 486.7 L479.7 485.2 L479.6 483.7 L479.7 482 L479.9 480.3 L480.3 478.7 L480.8 477 L481.4 475.4 L482.2 473.9 L483.1 472.5 L484.2 471.2 L485.2 470 L486.4 469 L487.6 468.3 L488.8 467.7 L490.1 467.3 L491.3 467.2 L492.4 467.2Z"/></clipPath><g clip-path="url(#pc28)"><path d="M485.2 471.4L497.4 470.4M485.2 475.7L497.4 474.7M485.2 480L497.4 479M485.2 484.3L497.4 483.3M485.2 488.6L497.4 487.6" stroke="#000" stroke-width="1.7" fill="none"/></g>
<clipPath id="pc29"><path d="M493.5 467.5 L494.6 468 L495.5 468.7 L496.3 469.6 L497.1 470.7 L497.6 471.9 L498 473.3 L498.3 474.8 L498.4 476.3 L498.3 478 L498.1 479.7 L497.7 481.3 L497.2 483 L496.6 484.6 L495.8 486.1 L494.9 487.5 L493.8 488.8 L492.8 490 L491.6 491 L490.4 491.7 L489.2 492.3 L487.9 492.7 L486.7 492.8 L485.6 492.8 L484.5 492.5 L483.4 492 L482.5 491.3 L481.7 490.4 L480.9 489.3 L480.4 488.1 L480 486.7 L479.7 485.2 L479.6 483.7 L479.7 482 L479.9 480.3 L480.3 478.7 L480.8 477 L481.4 475.4 L482.2 473.9 L483.1 472.5 L484.2 471.2 L485.2 470 L486.4 469 L487.6 468.3 L488.8 467.7 L490.1 467.3 L491.3 467.2 L492.4 467.2Z"/></clipPath><g clip-path="url(#pc29)"><path d="M487 465.1 L488 465.6 L488.9 466.3 L489.8 467.2 L490.5 468.3 L491 469.5 L491.5 470.9 L491.7 472.4 L491.8 473.9 L491.8 475.6 L491.5 477.3 L491.2 478.9 L490.6 480.6 L490 482.2 L489.2 483.7 L488.3 485.2 L487.3 486.4 L486.2 487.6 L485 488.6 L483.8 489.3 L482.6 489.9 L481.4 490.3 L480.2 490.5 L479 490.4 L477.9 490.1 L476.8 489.6 L475.9 488.9 L475.1 488 L474.4 486.9 L473.8 485.7 L473.4 484.3 L473.1 482.8 L473 481.3 L473.1 479.6 L473.3 477.9 L473.7 476.3 L474.2 474.6 L474.9 473 L475.7 471.5 L476.6 470.1 L477.6 468.8 L478.7 467.6 L479.8 466.7 L481 465.9 L482.3 465.3 L483.5 464.9 L484.7 464.8 L485.9 464.8Z" fill="none" stroke="#000" stroke-width="1.4" /></g>
<path d="M487.6 493 L487.7 490.6 L488 488.2 L488.6 485.8 L489.3 483.5 L490.3 481.2 L491.4 479 L492.7 477 L494.1 475.1 L495.6 473.5 L497.2 472.1 L498.9 470.9 L500.6 470.1 L502.3 469.5 L504 469.3 L505.6 469.3 L507.1 469.7 L516.5 473.1 L517.9 473.8 L519.2 474.8 L520.3 476.1 L521.3 477.6 L522 479.3 L522.6 481.3 L522.9 483.4 L523 485.6 L522.9 488 L522.6 490.3 L522 492.7 L521.3 495.1 L520.3 497.4 L519.2 499.6 L517.9 501.6 L516.5 503.5 L515 505.1 L513.4 506.5 L511.7 507.7 L510 508.5 L508.3 509.1 L506.6 509.3 L505 509.2 L503.5 508.9 L494.1 505.4 L492.7 504.7 L491.4 503.8 L490.3 502.5 L489.3 501 L488.6 499.2 L488 497.3 L487.7 495.2Z" fill="#fff" stroke="#000" stroke-width="1.8" />
<path d="M516.5 473.1 L517.9 473.8 L519.2 474.8 L520.3 476.1 L521.3 477.6 L522 479.3 L522.6 481.3 L522.9 483.4 L523 485.6 L522.9 488 L522.6 490.3 L522 492.7 L521.3 495.1 L520.3 497.4 L519.2 499.6 L517.9 501.6 L516.5 503.5 L515 505.1 L513.4 506.5 L511.7 507.7 L510 508.5 L508.3 509.1 L506.6 509.3 L505 509.2 L503.5 508.9 L502.1 508.2 L500.8 507.2 L499.7 505.9 L498.7 504.4 L498 502.7 L497.4 500.7 L497.1 498.6 L497 496.4 L497.1 494 L497.4 491.7 L498 489.3 L498.7 486.9 L499.7 484.6 L500.8 482.4 L502.1 480.4 L503.5 478.5 L505 476.9 L506.6 475.5 L508.3 474.3 L510 473.5 L511.7 472.9 L513.4 472.7 L515 472.8Z" fill="#fff" stroke="#000" stroke-width="1.8" />
<path d="M514.5 478.5 L515.5 479 L516.4 479.7 L517.2 480.6 L517.9 481.6 L518.4 482.8 L518.8 484.2 L519 485.7 L519.1 487.2 L519 488.9 L518.8 490.5 L518.4 492.2 L517.9 493.9 L517.2 495.5 L516.4 497 L515.6 498.4 L514.6 499.7 L513.5 500.9 L512.4 501.9 L511.2 502.7 L510 503.3 L508.8 503.6 L507.6 503.8 L506.5 503.8 L505.5 503.5 L504.5 503 L503.6 502.3 L502.8 501.4 L502.1 500.4 L501.6 499.2 L501.2 497.8 L501 496.3 L500.9 494.8 L501 493.1 L501.2 491.5 L501.6 489.8 L502.1 488.1 L502.8 486.5 L503.6 485 L504.4 483.6 L505.4 482.3 L506.5 481.1 L507.6 480.1 L508.8 479.3 L510 478.7 L511.2 478.4 L512.4 478.2 L513.5 478.2Z" fill="#fff" stroke="#000" stroke-width="1.7" />
<clipPath id="pc30"><path d="M514.5 478.5 L515.5 479 L516.4 479.7 L517.2 480.6 L517.9 481.6 L518.4 482.8 L518.8 484.2 L519 485.7 L519.1 487.2 L519 488.9 L518.8 490.5 L518.4 492.2 L517.9 493.9 L517.2 495.5 L516.4 497 L515.6 498.4 L514.6 499.7 L513.5 500.9 L512.4 501.9 L511.2 502.7 L510 503.3 L508.8 503.6 L507.6 503.8 L506.5 503.8 L505.5 503.5 L504.5 503 L503.6 502.3 L502.8 501.4 L502.1 500.4 L501.6 499.2 L501.2 497.8 L501 496.3 L500.9 494.8 L501 493.1 L501.2 491.5 L501.6 489.8 L502.1 488.1 L502.8 486.5 L503.6 485 L504.4 483.6 L505.4 482.3 L506.5 481.1 L507.6 480.1 L508.8 479.3 L510 478.7 L511.2 478.4 L512.4 478.2 L513.5 478.2Z"/></clipPath><g clip-path="url(#pc30)"><path d="M506.4 482.5L518.1 481.5M506.4 486.7L518.1 485.7M506.4 491L518.1 490M506.4 495.3L518.1 494.3M506.4 499.5L518.1 498.5" stroke="#000" stroke-width="1.7" fill="none"/></g>
<clipPath id="pc31"><path d="M514.5 478.5 L515.5 479 L516.4 479.7 L517.2 480.6 L517.9 481.6 L518.4 482.8 L518.8 484.2 L519 485.7 L519.1 487.2 L519 488.9 L518.8 490.5 L518.4 492.2 L517.9 493.9 L517.2 495.5 L516.4 497 L515.6 498.4 L514.6 499.7 L513.5 500.9 L512.4 501.9 L511.2 502.7 L510 503.3 L508.8 503.6 L507.6 503.8 L506.5 503.8 L505.5 503.5 L504.5 503 L503.6 502.3 L502.8 501.4 L502.1 500.4 L501.6 499.2 L501.2 497.8 L501 496.3 L500.9 494.8 L501 493.1 L501.2 491.5 L501.6 489.8 L502.1 488.1 L502.8 486.5 L503.6 485 L504.4 483.6 L505.4 482.3 L506.5 481.1 L507.6 480.1 L508.8 479.3 L510 478.7 L511.2 478.4 L512.4 478.2 L513.5 478.2Z"/></clipPath><g clip-path="url(#pc31)"><path d="M509.9 476.8 L510.8 477.3 L511.7 478 L512.5 478.8 L513.2 479.9 L513.7 481.1 L514.1 482.5 L514.3 484 L514.4 485.5 L514.3 487.2 L514.1 488.8 L513.7 490.5 L513.2 492.2 L512.5 493.8 L511.7 495.3 L510.9 496.7 L509.9 498 L508.8 499.2 L507.7 500.2 L506.5 501 L505.3 501.5 L504.1 501.9 L503 502.1 L501.8 502.1 L500.8 501.8 L499.8 501.3 L498.9 500.6 L498.1 499.7 L497.4 498.7 L496.9 497.5 L496.5 496.1 L496.3 494.6 L496.2 493.1 L496.3 491.4 L496.5 489.7 L496.9 488.1 L497.4 486.4 L498.1 484.8 L498.9 483.3 L499.7 481.9 L500.7 480.6 L501.8 479.4 L502.9 478.4 L504.1 477.6 L505.3 477 L506.5 476.6 L507.7 476.5 L508.8 476.5Z" fill="none" stroke="#000" stroke-width="1.4" /></g>
<path d="M503.6 503.5 L503.7 501.3 L504.1 499.1 L504.6 496.8 L505.3 494.6 L506.2 492.4 L507.3 490.3 L508.4 488.4 L509.7 486.6 L511.1 485 L512.6 483.7 L514.1 482.6 L515.6 481.7 L517.1 481.2 L518.6 480.9 L520 480.9 L521.4 481.2 L540.2 488.1 L541.4 488.7 L542.5 489.6 L543.5 490.7 L544.3 492.1 L544.9 493.8 L545.3 495.6 L545.6 497.6 L545.6 499.7 L545.5 501.8 L545.1 504.1 L544.6 506.4 L543.9 508.6 L543 510.8 L541.9 512.8 L540.8 514.8 L539.5 516.6 L538.1 518.1 L536.6 519.5 L535.1 520.6 L533.6 521.4 L532.1 522 L530.6 522.3 L529.2 522.2 L527.8 521.9 L509 515.1 L507.8 514.5 L506.7 513.6 L505.7 512.4 L504.9 511 L504.3 509.4 L503.9 507.6 L503.6 505.6Z" fill="#fff" stroke="#000" stroke-width="1.7" />
<path d="M540.2 488.1 L541.4 488.7 L542.5 489.6 L543.5 490.7 L544.3 492.1 L544.9 493.8 L545.3 495.6 L545.6 497.6 L545.6 499.7 L545.5 501.8 L545.1 504.1 L544.6 506.4 L543.9 508.6 L543 510.8 L541.9 512.8 L540.8 514.8 L539.5 516.6 L538.1 518.1 L536.6 519.5 L535.1 520.6 L533.6 521.4 L532.1 522 L530.6 522.3 L529.2 522.2 L527.8 521.9 L526.6 521.3 L525.5 520.4 L524.5 519.3 L523.7 517.9 L523.1 516.2 L522.7 514.4 L522.4 512.4 L522.4 510.3 L522.5 508.2 L522.9 505.9 L523.4 503.6 L524.1 501.4 L525 499.2 L526.1 497.2 L527.2 495.2 L528.5 493.4 L529.9 491.9 L531.4 490.5 L532.9 489.4 L534.4 488.6 L535.9 488 L537.4 487.7 L538.8 487.8Z" fill="#fff" stroke="#000" stroke-width="1.7" />
<path d="M537.8 494.7 L538.5 495 L539.2 495.6 L539.8 496.3 L540.3 497.2 L540.7 498.2 L541 499.3 L541.1 500.5 L541.2 501.8 L541.1 503.1 L540.9 504.5 L540.5 505.9 L540.1 507.2 L539.6 508.6 L538.9 509.8 L538.2 511 L537.4 512.1 L536.6 513.1 L535.7 513.9 L534.7 514.6 L533.8 515.1 L532.9 515.4 L531.9 515.6 L531.1 515.5 L530.2 515.3 L529.5 515 L528.8 514.4 L528.2 513.7 L527.7 512.8 L527.3 511.8 L527 510.7 L526.9 509.5 L526.8 508.2 L526.9 506.9 L527.1 505.5 L527.5 504.1 L527.9 502.8 L528.4 501.4 L529.1 500.2 L529.8 499 L530.6 497.9 L531.4 496.9 L532.3 496.1 L533.3 495.4 L534.2 494.9 L535.1 494.6 L536.1 494.4 L536.9 494.5Z" fill="#fff" stroke="#000" stroke-width="1.5" />
<path d="M524 534.3 L524 530.8 L524.3 527.1 L524.9 523.2 L525.8 519.3 L526.9 515.4 L528.3 511.6 L529.8 508 L531.6 504.5 L533.6 501.3 L535.7 498.4 L537.8 495.9 L540.1 493.9 L542.3 492.2 L544.5 491.1 L546.7 490.4 L548.8 490.2 L550.7 490.6 L553.6 491.5 L555.4 492.4 L556.9 493.7 L558.3 495.5 L559.4 497.8 L560.3 500.4 L560.9 503.4 L561.1 506.7 L561.1 510.3 L560.8 514 L560.3 517.8 L559.4 521.7 L558.3 525.6 L556.9 529.4 L555.3 533.1 L553.5 536.6 L551.6 539.8 L549.5 542.6 L547.3 545.1 L545.1 547.2 L542.8 548.9 L540.6 550 L538.4 550.7 L536.4 550.8 L534.4 550.5 L531.6 549.6 L529.8 548.7 L528.2 547.4 L526.8 545.5 L525.7 543.3 L524.9 540.6 L524.3 537.6Z" fill="#000" stroke="#000" stroke-width="1.7" />
<path d="M553.6 491.5 L555.4 492.4 L556.9 493.7 L558.3 495.5 L559.4 497.8 L560.3 500.4 L560.9 503.4 L561.1 506.7 L561.1 510.3 L560.8 514 L560.3 517.8 L559.4 521.7 L558.3 525.6 L556.9 529.4 L555.3 533.1 L553.5 536.6 L551.6 539.8 L549.5 542.6 L547.3 545.1 L545.1 547.2 L542.8 548.9 L540.6 550 L538.4 550.7 L536.4 550.8 L534.4 550.5 L532.6 549.6 L531.1 548.3 L529.7 546.5 L528.6 544.2 L527.7 541.6 L527.1 538.6 L526.9 535.3 L526.9 531.7 L527.2 528 L527.7 524.2 L528.6 520.3 L529.7 516.4 L531.1 512.6 L532.7 508.9 L534.5 505.4 L536.4 502.2 L538.5 499.4 L540.7 496.9 L542.9 494.8 L545.2 493.1 L547.4 492 L549.6 491.3 L551.6 491.2Z" fill="#fff" stroke="#000" stroke-width="1.7" />
<clipPath id="c15"><path d="M552.6 506.9 L553.6 507.4 L554.6 508.2 L555.4 509.2 L556.1 510.6 L556.6 512.1 L557 513.9 L557.2 515.8 L557.2 517.8 L557 520 L556.7 522.3 L556.2 524.5 L555.6 526.8 L554.8 529 L553.8 531.1 L552.8 533.1 L551.6 535 L550.4 536.6 L549.1 538.1 L547.8 539.3 L546.5 540.2 L545.1 540.9 L543.8 541.3 L542.6 541.3 L541.4 541.1 L540.4 540.6 L539.4 539.8 L538.6 538.8 L537.9 537.4 L537.4 535.9 L537 534.1 L536.8 532.2 L536.8 530.2 L537 528 L537.3 525.7 L537.8 523.5 L538.4 521.2 L539.2 519 L540.2 516.9 L541.2 514.9 L542.4 513 L543.6 511.4 L544.9 509.9 L546.2 508.7 L547.5 507.8 L548.9 507.1 L550.2 506.7 L551.4 506.7Z"/></clipPath>
<path d="M552.6 506.9 L553.6 507.4 L554.6 508.2 L555.4 509.2 L556.1 510.6 L556.6 512.1 L557 513.9 L557.2 515.8 L557.2 517.8 L557 520 L556.7 522.3 L556.2 524.5 L555.6 526.8 L554.8 529 L553.8 531.1 L552.8 533.1 L551.6 535 L550.4 536.6 L549.1 538.1 L547.8 539.3 L546.5 540.2 L545.1 540.9 L543.8 541.3 L542.6 541.3 L541.4 541.1 L540.4 540.6 L539.4 539.8 L538.6 538.8 L537.9 537.4 L537.4 535.9 L537 534.1 L536.8 532.2 L536.8 530.2 L537 528 L537.3 525.7 L537.8 523.5 L538.4 521.2 L539.2 519 L540.2 516.9 L541.2 514.9 L542.4 513 L543.6 511.4 L544.9 509.9 L546.2 508.7 L547.5 507.8 L548.9 507.1 L550.2 506.7 L551.4 506.7Z" fill="#000" stroke="#000" stroke-width="1.7" />
<g clip-path="url(#c15)"><path d="M550.3 506.1 L551.3 506.6 L552.3 507.4 L553.1 508.5 L553.8 509.8 L554.3 511.4 L554.7 513.1 L554.9 515 L554.9 517.1 L554.8 519.3 L554.4 521.5 L553.9 523.8 L553.3 526 L552.5 528.3 L551.5 530.4 L550.5 532.4 L549.3 534.2 L548.1 535.9 L546.8 537.3 L545.5 538.5 L544.2 539.5 L542.9 540.1 L541.6 540.5 L540.3 540.6 L539.2 540.4 L538.1 539.9 L537.1 539.1 L536.3 538 L535.6 536.7 L535.1 535.1 L534.7 533.4 L534.5 531.5 L534.5 529.4 L534.7 527.2 L535 525 L535.5 522.7 L536.2 520.5 L537 518.3 L537.9 516.1 L538.9 514.1 L540.1 512.3 L541.3 510.6 L542.6 509.2 L543.9 508 L545.3 507 L546.6 506.4 L547.9 506 L549.1 505.9Z" fill="#fff" stroke="#000" stroke-width="1.36" /></g>
<path d="M623.1 492.4 L623.9 493.1 L627.8 489.2 L629.1 490.7 L625.7 495.2 L626.4 496.2 L627.1 497.2 L631.2 493.7 L632.1 495.5 L628.4 499.7 L628.9 500.8 L629.4 502 L633.6 499.1 L634.3 501.1 L630.3 504.9 L630.6 506.2 L630.9 507.5 L635.2 505.3 L635.5 507.5 L631.4 510.8 L631.5 512.2 L631.6 513.6 L635.8 512 L635.8 514.5 L631.6 517.2 L631.5 518.7 L631.3 520.2 L635.5 519.3 L635.1 521.9 L630.9 524 L630.6 525.6 L630.3 527.1 L634.2 527 L633.5 529.7 L629.3 531 L628.8 532.7 L628.3 534.3 L632 534.8 L631 537.5 L626.9 538.2 L626.3 539.9 L625.6 541.5 L628.9 542.7 L627.6 545.4 L623.8 545.4 L622.9 547 L622.1 548.6 L624.9 550.5 L623.4 553.1 L619.9 552.3 L618.9 553.9 L617.9 555.4 L620.3 558 L618.6 560.5 L615.4 559 L614.3 560.5 L613.2 561.9 L615 565.1 L613.1 567.4 L610.3 565.2 L609.1 566.6 L607.9 567.9 L609.2 571.6 L607.1 573.6 L604.9 570.9 L603.5 572.1 L602.2 573.2 L602.9 577.4 L600.7 579.2 L599 575.8 L597.7 576.9 L596.3 577.8 L596.4 582.3 L594.1 583.8 L593 580 L591.6 580.8 L590.2 581.6 L589.7 586.4 L587.4 587.5 L586.9 583.3 L585.5 583.9 L584.1 584.4 L583 589.4 L580.7 590.2 L580.8 585.6 L579.4 586 L578.1 586.3 L576.4 591.4 L574.2 591.8 L574.9 586.9 L573.6 587.1 L572.3 587.2 L570 592.2 L567.9 592.3 L569.2 587.3 L568 587.2 L566.8 587.1 L564 592 L562.1 591.6 L564 586.6 L562.9 586.3 L561.8 585.9 L558.6 590.6 L556.8 589.8 L559.3 584.9 L558.3 584.3 L557.3 583.8 L553.7 588.1 L552.2 587 L555.1 582.2 L554.3 581.4 L553.5 580.7 L549.6 584.6 L548.3 583.1 L551.7 578.6 L551 577.6 L550.3 576.6 L546.2 580.1 L545.3 578.3 L549 574.1 L548.5 573 L548 571.8 L543.8 574.7 L543.1 572.7 L547.1 568.9 L546.8 567.6 L546.5 566.3 L542.2 568.5 L541.9 566.3 L546 563 L545.9 561.6 L545.8 560.2 L541.6 561.8 L541.6 559.3 L545.8 556.6 L545.9 555.1 L546.1 553.6 L541.9 554.5 L542.3 551.9 L546.5 549.8 L546.8 548.2 L547.1 546.7 L543.2 546.8 L543.9 544.1 L548.1 542.8 L548.6 541.1 L549.1 539.5 L545.4 539 L546.4 536.3 L550.5 535.6 L551.1 533.9 L551.8 532.3 L548.5 531.1 L549.8 528.4 L553.6 528.4 L554.5 526.8 L555.3 525.2 L552.5 523.3 L554 520.7 L557.5 521.5 L558.5 519.9 L559.5 518.4 L557.1 515.8 L558.8 513.3 L562 514.8 L563.1 513.3 L564.2 511.9 L562.4 508.7 L564.3 506.4 L567.1 508.6 L568.3 507.2 L569.5 505.9 L568.2 502.2 L570.3 500.2 L572.5 502.9 L573.9 501.7 L575.2 500.6 L574.5 496.4 L576.7 494.6 L578.4 498 L579.7 496.9 L581.1 496 L581 491.5 L583.3 490 L584.4 493.8 L585.8 493 L587.2 492.2 L587.7 487.4 L590 486.3 L590.5 490.5 L591.9 489.9 L593.3 489.4 L594.4 484.4 L596.7 483.6 L596.6 488.2 L598 487.8 L599.3 487.5 L601 482.4 L603.2 482 L602.5 486.9 L603.8 486.7 L605.1 486.6 L607.4 481.6 L609.5 481.5 L608.2 486.5 L609.4 486.6 L610.6 486.7 L613.4 481.8 L615.3 482.2 L613.4 487.2 L614.5 487.5 L615.6 487.9 L618.8 483.2 L620.6 484 L618.1 488.9 L619.1 489.5 L620.1 490 L623.7 485.7 L625.2 486.8 L622.3 491.6Z" fill="#fff" stroke="#000" stroke-width="1.6" />
<path d="M634.8 500.5 L635.7 501.2 L623.9 493.1 L623.1 492.4Z" fill="#fff" stroke="#000" stroke-width="1.3" />
<path d="M639.4 497 L640.8 498.2 L629.1 490.7 L627.8 489.2Z" fill="#fff" stroke="#000" stroke-width="1.3" />
<path d="M640.8 498.2 L637.7 503 L625.7 495.2 L629.1 490.7Z" fill="#fff" stroke="#000" stroke-width="1.3" />
<path d="M637.7 503 L638.5 503.8 L626.4 496.2 L625.7 495.2Z" fill="#fff" stroke="#000" stroke-width="1.3" />
<path d="M638.5 503.8 L639.3 504.6 L627.1 497.2 L626.4 496.2Z" fill="#fff" stroke="#000" stroke-width="1.3" />
<path d="M643.3 500.9 L644.4 502.5 L632.1 495.5 L631.2 493.7Z" fill="#fff" stroke="#000" stroke-width="1.3" />
<path d="M644.4 502.5 L640.9 506.9 L628.4 499.7 L632.1 495.5Z" fill="#fff" stroke="#000" stroke-width="1.3" />
<path d="M640.9 506.9 L641.5 507.9 L628.9 500.8 L628.4 499.7Z" fill="#fff" stroke="#000" stroke-width="1.3" />
<path d="M641.5 507.9 L642.1 509 L629.4 502 L628.9 500.8Z" fill="#fff" stroke="#000" stroke-width="1.3" />
<path d="M646.3 505.8 L647.1 507.6 L634.3 501.1 L633.6 499.1Z" fill="#fff" stroke="#000" stroke-width="1.3" />
<path d="M647.1 507.6 L643.3 511.7 L630.3 504.9 L634.3 501.1Z" fill="#fff" stroke="#000" stroke-width="1.3" />
<path d="M643.3 511.7 L643.7 512.9 L630.6 506.2 L630.3 504.9Z" fill="#fff" stroke="#000" stroke-width="1.3" />
<path d="M643.7 512.9 L644.1 514.1 L630.9 507.5 L630.6 506.2Z" fill="#fff" stroke="#000" stroke-width="1.3" />
<path d="M648.4 511.5 L648.9 513.6 L635.5 507.5 L635.2 505.3Z" fill="#fff" stroke="#000" stroke-width="1.3" />
<path d="M648.9 513.6 L644.9 517.2 L631.4 510.8 L635.5 507.5Z" fill="#fff" stroke="#000" stroke-width="1.3" />
<path d="M644.9 517.2 L645.1 518.5 L631.5 512.2 L631.4 510.8Z" fill="#fff" stroke="#000" stroke-width="1.3" />
<path d="M645.1 518.5 L645.3 519.9 L631.6 513.6 L631.5 512.2Z" fill="#fff" stroke="#000" stroke-width="1.3" />
<path d="M649.6 517.9 L649.8 520.2 L635.8 514.5 L635.8 512Z" fill="#fff" stroke="#000" stroke-width="1.3" />
<path d="M649.8 520.2 L645.6 523.3 L631.6 517.2 L635.8 514.5Z" fill="#fff" stroke="#000" stroke-width="1.3" />
<path d="M645.6 523.3 L645.6 524.7 L631.5 518.7 L631.6 517.2Z" fill="#fff" stroke="#000" stroke-width="1.3" />
<path d="M645.6 524.7 L645.6 526.2 L631.3 520.2 L631.5 518.7Z" fill="#fff" stroke="#000" stroke-width="1.3" />
<path d="M649.8 524.9 L649.7 527.4 L635.1 521.9 L635.5 519.3Z" fill="#fff" stroke="#000" stroke-width="1.3" />
<path d="M649.7 527.4 L645.4 529.8 L630.9 524 L635.1 521.9Z" fill="#fff" stroke="#000" stroke-width="1.3" />
<path d="M645.4 529.8 L645.2 531.4 L630.6 525.6 L630.9 524Z" fill="#fff" stroke="#000" stroke-width="1.3" />
<path d="M645.2 531.4 L645 532.9 L630.3 527.1 L630.6 525.6Z" fill="#fff" stroke="#000" stroke-width="1.3" />
<path d="M649.1 532.4 L648.6 535 L633.5 529.7 L634.2 527Z" fill="#fff" stroke="#000" stroke-width="1.3" />
<path d="M648.6 535 L644.3 536.8 L629.3 531 L633.5 529.7Z" fill="#fff" stroke="#000" stroke-width="1.3" />
<path d="M644.3 536.8 L644 538.4 L628.8 532.7 L629.3 531Z" fill="#fff" stroke="#000" stroke-width="1.3" />
<path d="M644 538.4 L643.6 540 L628.3 534.3 L628.8 532.7Z" fill="#fff" stroke="#000" stroke-width="1.3" />
<path d="M647.4 540.1 L646.6 542.8 L631 537.5 L632 534.8Z" fill="#fff" stroke="#000" stroke-width="1.3" />
<path d="M646.6 542.8 L642.5 543.9 L626.9 538.2 L631 537.5Z" fill="#fff" stroke="#000" stroke-width="1.3" />
<path d="M642.5 543.9 L641.9 545.5 L626.3 539.9 L626.9 538.2Z" fill="#fff" stroke="#000" stroke-width="1.3" />
<path d="M641.9 545.5 L641.3 547.2 L625.6 541.5 L626.3 539.9Z" fill="#fff" stroke="#000" stroke-width="1.3" />
<path d="M644.8 548 L643.8 550.7 L627.6 545.4 L628.9 542.7Z" fill="#fff" stroke="#000" stroke-width="1.3" />
<path d="M643.8 550.7 L639.8 551.1 L623.8 545.4 L627.6 545.4Z" fill="#fff" stroke="#000" stroke-width="1.3" />
<path d="M639.8 551.1 L639 552.7 L622.9 547 L623.8 545.4Z" fill="#fff" stroke="#000" stroke-width="1.3" />
<path d="M639 552.7 L638.3 554.3 L622.1 548.6 L622.9 547Z" fill="#fff" stroke="#000" stroke-width="1.3" />
<path d="M641.4 555.9 L640 558.5 L623.4 553.1 L624.9 550.5Z" fill="#fff" stroke="#000" stroke-width="1.3" />
<path d="M640 558.5 L636.3 558.2 L619.9 552.3 L623.4 553.1Z" fill="#fff" stroke="#000" stroke-width="1.3" />
<path d="M636.3 558.2 L635.4 559.8 L618.9 553.9 L619.9 552.3Z" fill="#fff" stroke="#000" stroke-width="1.3" />
<path d="M635.4 559.8 L634.5 561.3 L617.9 555.4 L618.9 553.9Z" fill="#fff" stroke="#000" stroke-width="1.3" />
<path d="M634.5 561.3 L637.2 563.6 L620.3 558 L617.9 555.4Z" fill="#fff" stroke="#000" stroke-width="1.3" />
<path d="M637.2 563.6 L635.6 566.1 L618.6 560.5 L620.3 558Z" fill="#fff" stroke="#000" stroke-width="1.3" />
<path d="M635.6 566.1 L632.2 565.1 L615.4 559 L618.6 560.5Z" fill="#fff" stroke="#000" stroke-width="1.3" />
<path d="M632.2 565.1 L631.1 566.6 L614.3 560.5 L615.4 559Z" fill="#fff" stroke="#000" stroke-width="1.3" />
<path d="M631.1 566.6 L630.1 568.1 L613.2 561.9 L614.3 560.5Z" fill="#fff" stroke="#000" stroke-width="1.3" />
<path d="M630.1 568.1 L632.2 570.9 L615 565.1 L613.2 561.9Z" fill="#fff" stroke="#000" stroke-width="1.3" />
<path d="M632.2 570.9 L630.4 573.3 L613.1 567.4 L615 565.1Z" fill="#fff" stroke="#000" stroke-width="1.3" />
<path d="M630.4 573.3 L627.4 571.6 L610.3 565.2 L613.1 567.4Z" fill="#fff" stroke="#000" stroke-width="1.3" />
<path d="M627.4 571.6 L626.3 573 L609.1 566.6 L610.3 565.2Z" fill="#fff" stroke="#000" stroke-width="1.3" />
<path d="M626.3 573 L625.1 574.4 L607.9 567.9 L609.1 566.6Z" fill="#fff" stroke="#000" stroke-width="1.3" />
<path d="M625.1 574.4 L626.7 577.8 L609.2 571.6 L607.9 567.9Z" fill="#fff" stroke="#000" stroke-width="1.3" />
<path d="M626.7 577.8 L624.7 580 L607.1 573.6 L609.2 571.6Z" fill="#fff" stroke="#000" stroke-width="1.3" />
<path d="M622.2 577.6 L620.9 578.9 L603.5 572.1 L604.9 570.9Z" fill="#fff" stroke="#000" stroke-width="1.3" />
<path d="M620.9 578.9 L619.7 580.1 L602.2 573.2 L603.5 572.1Z" fill="#fff" stroke="#000" stroke-width="1.3" />
<path d="M619.7 580.1 L620.7 584 L602.9 577.4 L602.2 573.2Z" fill="#fff" stroke="#000" stroke-width="1.3" />
<path d="M620.7 584 L618.6 585.9 L600.7 579.2 L602.9 577.4Z" fill="#fff" stroke="#000" stroke-width="1.3" />
<path d="M616.6 582.9 L615.2 584.1 L597.7 576.9 L599 575.8Z" fill="#fff" stroke="#000" stroke-width="1.3" />
<path d="M615.2 584.1 L613.9 585.1 L596.3 577.8 L597.7 576.9Z" fill="#fff" stroke="#000" stroke-width="1.3" />
<path d="M613.9 585.1 L614.3 589.5 L596.4 582.3 L596.3 577.8Z" fill="#fff" stroke="#000" stroke-width="1.3" />
<path d="M614.3 589.5 L612.1 591.1 L594.1 583.8 L596.4 582.3Z" fill="#fff" stroke="#000" stroke-width="1.3" />
<path d="M610.6 587.6 L609.3 588.5 L591.6 580.8 L593 580Z" fill="#fff" stroke="#000" stroke-width="1.3" />
<path d="M609.3 588.5 L607.9 589.4 L590.2 581.6 L591.6 580.8Z" fill="#fff" stroke="#000" stroke-width="1.3" />
<path d="M607.9 589.4 L607.7 594.1 L589.7 586.4 L590.2 581.6Z" fill="#fff" stroke="#000" stroke-width="1.3" />
<path d="M607.7 594.1 L605.4 595.4 L587.4 587.5 L589.7 586.4Z" fill="#fff" stroke="#000" stroke-width="1.3" />
<path d="M604.6 591.4 L603.2 592.2 L585.5 583.9 L586.9 583.3Z" fill="#fff" stroke="#000" stroke-width="1.3" />
<path d="M603.2 592.2 L601.8 592.8 L584.1 584.4 L585.5 583.9Z" fill="#fff" stroke="#000" stroke-width="1.3" />
<path d="M601.8 592.8 L601 597.7 L583 589.4 L584.1 584.4Z" fill="#fff" stroke="#000" stroke-width="1.3" />
<path d="M601 597.7 L598.7 598.7 L580.7 590.2 L583 589.4Z" fill="#fff" stroke="#000" stroke-width="1.3" />
<path d="M598.4 594.3 L597 594.8 L579.4 586 L580.8 585.6Z" fill="#fff" stroke="#000" stroke-width="1.3" />
<path d="M597 594.8 L595.7 595.3 L578.1 586.3 L579.4 586Z" fill="#fff" stroke="#000" stroke-width="1.3" />
<path d="M595.7 595.3 L594.3 600.3 L576.4 591.4 L578.1 586.3Z" fill="#fff" stroke="#000" stroke-width="1.3" />
<path d="M594.3 600.3 L592 601 L574.2 591.8 L576.4 591.4Z" fill="#fff" stroke="#000" stroke-width="1.3" />
<path d="M592.4 596.3 L591.1 596.6 L573.6 587.1 L574.9 586.9Z" fill="#fff" stroke="#000" stroke-width="1.3" />
<path d="M591.1 596.6 L589.7 596.8 L572.3 587.2 L573.6 587.1Z" fill="#fff" stroke="#000" stroke-width="1.3" />
<path d="M589.7 596.8 L587.8 601.9 L570 592.2 L572.3 587.2Z" fill="#fff" stroke="#000" stroke-width="1.3" />
<path d="M587.8 601.9 L585.6 602.1 L567.9 592.3 L570 592.2Z" fill="#fff" stroke="#000" stroke-width="1.3" />
<path d="M586.6 597.2 L585.3 597.3 L568 587.2 L569.2 587.3Z" fill="#fff" stroke="#000" stroke-width="1.3" />
<path d="M585.3 597.3 L584 597.3 L566.8 587.1 L568 587.2Z" fill="#fff" stroke="#000" stroke-width="1.3" />
<path d="M561.8 553.8 L558 553.7 L545.4 539 L549.1 539.5Z" fill="#fff" stroke="#000" stroke-width="1.3" />
<path d="M564.1 546.6 L560.6 545.8 L548.5 531.1 L551.8 532.3Z" fill="#fff" stroke="#000" stroke-width="1.3" />
<path d="M567.1 539.5 L564 537.9 L552.5 523.3 L555.3 525.2Z" fill="#fff" stroke="#000" stroke-width="1.3" />
<path d="M580.7 513.8 L583.2 516.2 L572.5 502.9 L570.3 500.2Z" fill="#fff" stroke="#000" stroke-width="1.3" />
<path d="M586.8 507.9 L588.8 510.9 L578.4 498 L576.7 494.6Z" fill="#fff" stroke="#000" stroke-width="1.3" />
<path d="M593.3 502.7 L594.8 506.2 L584.4 493.8 L583.3 490Z" fill="#fff" stroke="#000" stroke-width="1.3" />
<path d="M600 498.4 L600.8 502.4 L590.5 490.5 L590 486.3Z" fill="#fff" stroke="#000" stroke-width="1.3" />
<path d="M606.7 495.1 L607 499.5 L596.6 488.2 L596.7 483.6Z" fill="#fff" stroke="#000" stroke-width="1.3" />
<path d="M613.4 492.8 L613 497.5 L602.5 486.9 L603.2 482Z" fill="#fff" stroke="#000" stroke-width="1.3" />
<path d="M619.8 491.7 L618.8 496.6 L608.2 486.5 L609.5 481.5Z" fill="#fff" stroke="#000" stroke-width="1.3" />
<path d="M625.9 491.7 L624.3 496.7 L613.4 487.2 L615.3 482.2Z" fill="#fff" stroke="#000" stroke-width="1.3" />
<path d="M631.5 492.8 L629.4 497.8 L618.1 488.9 L620.6 484Z" fill="#fff" stroke="#000" stroke-width="1.3" />
<path d="M636.5 495 L633.9 499.9 L622.3 491.6 L625.2 486.8Z" fill="#fff" stroke="#000" stroke-width="1.3" />
<path d="M584 597.3 L581.6 602.3 L564 592 L566.8 587.1Z" fill="#000" stroke="#000" stroke-width="1.3" />
<path d="M581.6 602.3 L579.5 602.1 L562.1 591.6 L564 592Z" fill="#000" stroke="#000" stroke-width="1.3" />
<path d="M581.1 597.1 L579.9 597 L562.9 586.3 L564 586.6Z" fill="#000" stroke="#000" stroke-width="1.3" />
<path d="M579.9 597 L578.7 596.7 L561.8 585.9 L562.9 586.3Z" fill="#000" stroke="#000" stroke-width="1.3" />
<path d="M578.7 596.7 L575.8 601.5 L558.6 590.6 L561.8 585.9Z" fill="#000" stroke="#000" stroke-width="1.3" />
<path d="M575.8 601.5 L573.9 601 L556.8 589.8 L558.6 590.6Z" fill="#000" stroke="#000" stroke-width="1.3" />
<path d="M576 596 L575 595.6 L558.3 584.3 L559.3 584.9Z" fill="#000" stroke="#000" stroke-width="1.3" />
<path d="M575 595.6 L573.9 595.2 L557.3 583.8 L558.3 584.3Z" fill="#000" stroke="#000" stroke-width="1.3" />
<path d="M573.9 595.2 L570.6 599.7 L553.7 588.1 L557.3 583.8Z" fill="#000" stroke="#000" stroke-width="1.3" />
<path d="M570.6 599.7 L568.9 598.8 L552.2 587 L553.7 588.1Z" fill="#000" stroke="#000" stroke-width="1.3" />
<path d="M571.5 593.9 L570.6 593.3 L554.3 581.4 L555.1 582.2Z" fill="#000" stroke="#000" stroke-width="1.3" />
<path d="M569.7 592.6 L566 596.8 L549.6 584.6 L553.5 580.7Z" fill="#000" stroke="#000" stroke-width="1.3" />
<path d="M566.1 589.2 L562.1 592.9 L546.2 580.1 L550.3 576.6Z" fill="#000" stroke="#000" stroke-width="1.3" />
<path d="M563.3 584.8 L559.1 588 L543.8 574.7 L548 571.8Z" fill="#000" stroke="#000" stroke-width="1.3" />
<path d="M561.3 579.7 L557 582.3 L542.2 568.5 L546.5 566.3Z" fill="#000" stroke="#000" stroke-width="1.3" />
<path d="M560.1 573.9 L555.8 575.9 L541.6 561.8 L545.8 560.2Z" fill="#000" stroke="#000" stroke-width="1.3" />
<path d="M559.8 567.6 L555.6 568.9 L541.9 554.5 L546.1 553.6Z" fill="#000" stroke="#000" stroke-width="1.3" />
<path d="M560.4 560.9 L556.3 561.4 L543.2 546.8 L547.1 546.7Z" fill="#000" stroke="#000" stroke-width="1.3" />
<path d="M634.8 500.5 L635.7 501.2 L639.4 497 L640.8 498.2 L637.7 503 L638.5 503.8 L639.3 504.6 L643.3 500.9 L644.4 502.5 L640.9 506.9 L641.5 507.9 L642.1 509 L646.3 505.8 L647.1 507.6 L643.3 511.7 L643.7 512.9 L644.1 514.1 L648.4 511.5 L648.9 513.6 L644.9 517.2 L645.1 518.5 L645.3 519.9 L649.6 517.9 L649.8 520.2 L645.6 523.3 L645.6 524.7 L645.6 526.2 L649.8 524.9 L649.7 527.4 L645.4 529.8 L645.2 531.4 L645 532.9 L649.1 532.4 L648.6 535 L644.3 536.8 L644 538.4 L643.6 540 L647.4 540.1 L646.6 542.8 L642.5 543.9 L641.9 545.5 L641.3 547.2 L644.8 548 L643.8 550.7 L639.8 551.1 L639 552.7 L638.3 554.3 L641.4 555.9 L640 558.5 L636.3 558.2 L635.4 559.8 L634.5 561.3 L637.2 563.6 L635.6 566.1 L632.2 565.1 L631.1 566.6 L630.1 568.1 L632.2 570.9 L630.4 573.3 L627.4 571.6 L626.3 573 L625.1 574.4 L626.7 577.8 L624.7 580 L622.2 577.6 L620.9 578.9 L619.7 580.1 L620.7 584 L618.6 585.9 L616.6 582.9 L615.2 584.1 L613.9 585.1 L614.3 589.5 L612.1 591.1 L610.6 587.6 L609.3 588.5 L607.9 589.4 L607.7 594.1 L605.4 595.4 L604.6 591.4 L603.2 592.2 L601.8 592.8 L601 597.7 L598.7 598.7 L598.4 594.3 L597 594.8 L595.7 595.3 L594.3 600.3 L592 601 L592.4 596.3 L591.1 596.6 L589.7 596.8 L587.8 601.9 L585.6 602.1 L586.6 597.2 L585.3 597.3 L584 597.3 L581.6 602.3 L579.5 602.1 L581.1 597.1 L579.9 597 L578.7 596.7 L575.8 601.5 L573.9 601 L576 596 L575 595.6 L573.9 595.2 L570.6 599.7 L568.9 598.8 L571.5 593.9 L570.6 593.3 L569.7 592.6 L566 596.8 L564.6 595.6 L567.7 590.8 L566.9 590 L566.1 589.2 L562.1 592.9 L561 591.3 L564.5 586.9 L563.9 585.9 L563.3 584.8 L559.1 588 L558.3 586.2 L562.1 582.1 L561.7 580.9 L561.3 579.7 L557 582.3 L556.5 580.2 L560.5 576.6 L560.3 575.3 L560.1 573.9 L555.8 575.9 L555.6 573.6 L559.8 570.5 L559.8 569.1 L559.8 567.6 L555.6 568.9 L555.7 566.4 L560 564 L560.2 562.4 L560.4 560.9 L556.3 561.4 L556.8 558.8 L561.1 557 L561.4 555.4 L561.8 553.8 L558 553.7 L558.8 551 L562.9 549.9 L563.5 548.3 L564.1 546.6 L560.6 545.8 L561.6 543.1 L565.6 542.7 L566.4 541.1 L567.1 539.5 L564 537.9 L565.4 535.3 L569.1 535.6 L570 534 L570.9 532.5 L568.2 530.2 L569.8 527.7 L573.2 528.7 L574.3 527.2 L575.3 525.7 L573.2 522.9 L575 520.5 L578 522.2 L579.1 520.8 L580.3 519.4 L578.7 516 L580.7 513.8 L583.2 516.2 L584.5 514.9 L585.7 513.7 L584.7 509.8 L586.8 507.9 L588.8 510.9 L590.2 509.7 L591.5 508.7 L591.1 504.3 L593.3 502.7 L594.8 506.2 L596.1 505.3 L597.5 504.4 L597.7 499.7 L600 498.4 L600.8 502.4 L602.2 501.6 L603.6 501 L604.4 496.1 L606.7 495.1 L607 499.5 L608.4 499 L609.7 498.5 L611.1 493.5 L613.4 492.8 L613 497.5 L614.3 497.2 L615.7 497 L617.6 491.9 L619.8 491.7 L618.8 496.6 L620.1 496.5 L621.4 496.5 L623.8 491.5 L625.9 491.7 L624.3 496.7 L625.5 496.8 L626.7 497.1 L629.6 492.3 L631.5 492.8 L629.4 497.8 L630.4 498.2 L631.5 498.6 L634.8 494.1 L636.5 495 L633.9 499.9Z" fill="#fff" stroke="#000" stroke-width="1.6" />
<path d="M634.6 500.9 L637.7 503.6 L640.3 507.1 L642.2 511.3 L643.5 516.1 L644 521.5 L643.8 527.2 L643 533.3 L641.4 539.7 L639.2 546.1 L636.4 552.6 L632.9 559 L629 565.1 L624.6 571 L619.9 576.4 L614.8 581.3 L609.5 585.7 L604.2 589.4 L598.8 592.3 L593.4 594.5 L588.2 595.9 L583.3 596.4 L578.7 596.1 L574.5 594.9 L570.8 592.9 L567.7 590.2 L565.1 586.7 L563.2 582.5 L561.9 577.7 L561.4 572.3 L561.6 566.6 L562.4 560.5 L564 554.1 L566.2 547.7 L569 541.2 L572.5 534.8 L576.4 528.7 L580.8 522.8 L585.5 517.4 L590.6 512.5 L595.9 508.1 L601.2 504.4 L606.6 501.5 L612 499.3 L617.2 497.9 L622.1 497.4 L626.7 497.7 L630.9 498.9Z" fill="none" stroke="#000" stroke-width="2.2" />
<path d="M612 538.1 L613.8 539.3 L615.4 540.8 L616.9 542.4 L618.1 544.1 L619 546 L619.8 548 L620.2 550.1 L620.4 552.2 L620.3 554.3 L619.9 556.4 L619.2 558.4 L618.3 560.2 L617.1 562 L615.7 563.6 L614.1 564.9 L612.4 566.1 L610.5 567 L608.4 567.6 L606.4 568 L604.2 568.1 L602.1 568 L600 567.5 L597.9 566.8 L596 565.9 L594.2 564.7 L592.6 563.2 L591.1 561.6 L589.9 559.9 L589 558 L588.2 556 L587.8 553.9 L587.6 551.8 L587.7 549.7 L588.1 547.6 L588.8 545.6 L589.7 543.8 L590.9 542 L592.3 540.4 L593.9 539.1 L595.6 537.9 L597.5 537 L599.6 536.4 L601.6 536 L603.8 535.9 L605.9 536 L608 536.5 L610.1 537.2Z" fill="#fff" stroke="#000" stroke-width="1.8" />
<path d="M591 548 Q592 538 602 536 L602 542 Q596 545 597 556 Q598 563 604 566 Q594 566 591 556Z" fill="#000" stroke="#000" stroke-width="1" />
<path d="M612.5 541.5 L613.8 542.3 L615 543.4 L616.1 544.5 L617 545.8 L617.7 547.1 L618.2 548.5 L618.6 550 L618.8 551.4 L618.7 552.9 L618.5 554.3 L618 555.7 L617.4 557 L616.6 558.2 L615.6 559.3 L614.5 560.2 L613.2 561 L611.9 561.6 L610.5 562 L609 562.2 L607.4 562.2 L605.9 562.1 L604.4 561.8 L602.9 561.2 L601.5 560.5 L600.2 559.7 L599 558.6 L597.9 557.5 L597 556.2 L596.3 554.9 L595.8 553.5 L595.4 552 L595.2 550.6 L595.3 549.1 L595.5 547.7 L596 546.3 L596.6 545 L597.4 543.8 L598.4 542.7 L599.5 541.8 L600.8 541 L602.1 540.4 L603.5 540 L605 539.8 L606.6 539.8 L608.1 539.9 L609.6 540.2 L611.1 540.8Z" fill="#fff" stroke="#000" stroke-width="1.6" />
<path d="M612.4 537.7 L625 530" fill="none" stroke="#000" stroke-width="1.4"/>
<path d="M632.1 511 L632.7 511.8 L633.2 512.7 L633.6 513.6 L633.8 514.6 L633.8 515.5 L633.8 516.5 L633.5 517.3 L633.2 518.1 L632.7 518.9 L632.1 519.5 L631.4 520 L630.6 520.3 L629.7 520.5 L628.8 520.6 L627.9 520.5 L626.9 520.3 L626 519.9 L625.2 519.4 L624.4 518.8 L623.7 518 L623.1 517.2 L622.6 516.3 L622.2 515.4 L622 514.4 L622 513.5 L622 512.5 L622.3 511.7 L622.6 510.9 L623.1 510.1 L623.7 509.5 L624.4 509 L625.2 508.7 L626.1 508.5 L627 508.4 L627.9 508.5 L628.9 508.7 L629.8 509.1 L630.6 509.6 L631.4 510.2Z" fill="#fff" stroke="#000" stroke-width="1.7" />
<path d="M585.6 577.7 L586.2 578.5 L586.7 579.4 L587.1 580.3 L587.3 581.3 L587.3 582.2 L587.3 583.2 L587 584 L586.7 584.8 L586.2 585.6 L585.6 586.2 L584.9 586.7 L584.1 587 L583.2 587.2 L582.3 587.3 L581.4 587.2 L580.4 587 L579.5 586.6 L578.7 586.1 L577.9 585.5 L577.2 584.7 L576.6 583.9 L576.1 583 L575.7 582.1 L575.5 581.1 L575.5 580.2 L575.5 579.2 L575.8 578.4 L576.1 577.6 L576.6 576.8 L577.2 576.2 L577.9 575.7 L578.7 575.4 L579.6 575.2 L580.5 575.1 L581.4 575.2 L582.4 575.4 L583.3 575.8 L584.1 576.3 L584.9 576.9Z" fill="#fff" stroke="#000" stroke-width="1.7" />
<path d="M627.6 578.5 L627.7 576.8 L627.9 575.1 L628.4 573.3 L629 571.6 L629.9 570 L630.9 568.5 L632 567 L633.3 565.8 L634.7 564.7 L636.1 563.8 L637.6 563 L639.2 562.5 L640.7 562.2 L642.2 562.2 L643.7 562.4 L645.1 562.8 L646.4 563.4 L649 564.9 L650.2 565.7 L651.2 566.7 L652.1 567.9 L652.8 569.2 L653.4 570.7 L653.7 572.3 L653.8 574 L653.8 575.7 L653.5 577.4 L653 579.2 L652.4 580.9 L651.5 582.5 L650.5 584 L649.4 585.5 L648.1 586.7 L646.8 587.8 L645.3 588.7 L643.8 589.5 L642.2 590 L640.7 590.2 L639.2 590.3 L637.7 590.1 L636.3 589.7 L635 589.1 L632.4 587.6 L631.2 586.8 L630.2 585.8 L629.3 584.6 L628.6 583.2 L628 581.8 L627.7 580.2Z" fill="#000" stroke="#000" stroke-width="1.7" />
<path d="M649 564.9 L650.2 565.7 L651.2 566.7 L652.1 567.9 L652.8 569.2 L653.4 570.7 L653.7 572.3 L653.8 574 L653.8 575.7 L653.5 577.4 L653 579.2 L652.4 580.9 L651.5 582.5 L650.5 584 L649.4 585.5 L648.1 586.7 L646.8 587.8 L645.3 588.7 L643.8 589.5 L642.2 590 L640.7 590.2 L639.2 590.3 L637.7 590.1 L636.3 589.7 L635 589.1 L633.8 588.3 L632.8 587.3 L631.9 586.1 L631.2 584.8 L630.6 583.3 L630.3 581.7 L630.2 580 L630.2 578.3 L630.5 576.6 L631 574.8 L631.6 573.1 L632.5 571.5 L633.5 570 L634.6 568.5 L635.9 567.3 L637.2 566.2 L638.7 565.3 L640.2 564.5 L641.8 564 L643.3 563.8 L644.8 563.7 L646.3 563.9 L647.7 564.3Z" fill="#fff" stroke="#000" stroke-width="1.7" />
<clipPath id="c16"><path d="M646 570.1 L646.6 570.5 L647.2 571.1 L647.7 571.7 L648.1 572.5 L648.3 573.3 L648.5 574.2 L648.6 575.2 L648.5 576.1 L648.3 577.1 L648.1 578.1 L647.7 579.1 L647.2 580 L646.6 580.9 L646 581.7 L645.3 582.4 L644.5 583.1 L643.7 583.6 L642.8 584 L642 584.3 L641.1 584.5 L640.3 584.5 L639.5 584.5 L638.7 584.3 L638 583.9 L637.4 583.5 L636.8 582.9 L636.3 582.3 L635.9 581.5 L635.7 580.7 L635.5 579.8 L635.4 578.8 L635.5 577.9 L635.7 576.9 L635.9 575.9 L636.3 574.9 L636.8 574 L637.4 573.1 L638 572.3 L638.7 571.6 L639.5 570.9 L640.3 570.4 L641.2 570 L642 569.7 L642.9 569.5 L643.7 569.5 L644.5 569.5 L645.3 569.7Z"/></clipPath>
<path d="M646 570.1 L646.6 570.5 L647.2 571.1 L647.7 571.7 L648.1 572.5 L648.3 573.3 L648.5 574.2 L648.6 575.2 L648.5 576.1 L648.3 577.1 L648.1 578.1 L647.7 579.1 L647.2 580 L646.6 580.9 L646 581.7 L645.3 582.4 L644.5 583.1 L643.7 583.6 L642.8 584 L642 584.3 L641.1 584.5 L640.3 584.5 L639.5 584.5 L638.7 584.3 L638 583.9 L637.4 583.5 L636.8 582.9 L636.3 582.3 L635.9 581.5 L635.7 580.7 L635.5 579.8 L635.4 578.8 L635.5 577.9 L635.7 576.9 L635.9 575.9 L636.3 574.9 L636.8 574 L637.4 573.1 L638 572.3 L638.7 571.6 L639.5 570.9 L640.3 570.4 L641.2 570 L642 569.7 L642.9 569.5 L643.7 569.5 L644.5 569.5 L645.3 569.7Z" fill="#000" stroke="#000" stroke-width="1.7" />
<g clip-path="url(#c16)"><path d="M643.9 568.9 L644.6 569.3 L645.1 569.9 L645.6 570.5 L646 571.3 L646.3 572.1 L646.4 573 L646.5 574 L646.4 574.9 L646.3 575.9 L646 576.9 L645.6 577.9 L645.1 578.8 L644.6 579.7 L643.9 580.5 L643.2 581.2 L642.4 581.9 L641.6 582.4 L640.8 582.8 L639.9 583.1 L639.1 583.3 L638.2 583.3 L637.4 583.3 L636.6 583.1 L635.9 582.7 L635.3 582.3 L634.7 581.7 L634.2 581.1 L633.9 580.3 L633.6 579.5 L633.4 578.6 L633.4 577.6 L633.4 576.7 L633.6 575.7 L633.9 574.7 L634.2 573.7 L634.7 572.8 L635.3 571.9 L635.9 571.1 L636.7 570.4 L637.4 569.7 L638.2 569.2 L639.1 568.8 L639.9 568.5 L640.8 568.3 L641.6 568.3 L642.4 568.3 L643.2 568.5Z" fill="#fff" stroke="#000" stroke-width="1.36" /></g>
<path d="M643.2 582.6 L652.2 573.5 L663 576.4 L669 579.9 L670.7 591.9 L661.7 601 L651 598.1 L644.9 594.6Z" fill="#fff" stroke="#000" stroke-width="1.7" />
<path d="M669 579.9 L663 576.4" fill="none" stroke="#000" stroke-width="1.2"/>
<path d="M670.7 591.9 L664.7 588.4" fill="none" stroke="#000" stroke-width="1.2"/>
<path d="M661.7 601 L655.6 597.5" fill="none" stroke="#000" stroke-width="1.2"/>
<path d="M651 598.1 L644.9 594.6" fill="none" stroke="#000" stroke-width="1.2"/>
<path d="M649.3 586.1 L643.2 582.6" fill="none" stroke="#000" stroke-width="1.2"/>
<path d="M658.3 577 L652.2 573.5" fill="none" stroke="#000" stroke-width="1.2"/>
<path d="M669 579.9 L670.7 591.9 L661.7 601 L651 598.1 L649.3 586.1 L658.3 577Z" fill="#fff" stroke="#000" stroke-width="1.7" />
<path d="M663 583.8 L663.5 584.1 L663.9 584.6 L664.3 585.1 L664.5 585.6 L664.8 586.2 L664.9 586.9 L664.9 587.6 L664.9 588.4 L664.7 589.1 L664.5 589.8 L664.3 590.6 L663.9 591.2 L663.5 591.9 L663 592.5 L662.5 593.1 L661.9 593.5 L661.3 593.9 L660.6 594.3 L660 594.5 L659.4 594.6 L658.7 594.7 L658.1 594.6 L657.5 594.4 L657 594.2 L656.5 593.9 L656.1 593.4 L655.7 592.9 L655.5 592.4 L655.2 591.8 L655.1 591.1 L655.1 590.4 L655.1 589.6 L655.3 588.9 L655.5 588.2 L655.7 587.4 L656.1 586.8 L656.5 586.1 L657 585.5 L657.5 584.9 L658.1 584.5 L658.7 584.1 L659.4 583.7 L660 583.5 L660.6 583.4 L661.3 583.3 L661.9 583.4 L662.5 583.6Z" fill="#fff" stroke="#000" stroke-width="1.7" />
<clipPath id="pc32"><path d="M663 583.8 L663.5 584.1 L663.9 584.6 L664.3 585.1 L664.5 585.6 L664.8 586.2 L664.9 586.9 L664.9 587.6 L664.9 588.4 L664.7 589.1 L664.5 589.8 L664.3 590.6 L663.9 591.2 L663.5 591.9 L663 592.5 L662.5 593.1 L661.9 593.5 L661.3 593.9 L660.6 594.3 L660 594.5 L659.4 594.6 L658.7 594.7 L658.1 594.6 L657.5 594.4 L657 594.2 L656.5 593.9 L656.1 593.4 L655.7 592.9 L655.5 592.4 L655.2 591.8 L655.1 591.1 L655.1 590.4 L655.1 589.6 L655.3 588.9 L655.5 588.2 L655.7 587.4 L656.1 586.8 L656.5 586.1 L657 585.5 L657.5 584.9 L658.1 584.5 L658.7 584.1 L659.4 583.7 L660 583.5 L660.6 583.4 L661.3 583.3 L661.9 583.4 L662.5 583.6Z"/></clipPath><g clip-path="url(#pc32)"><path d="M658.2 581 L658.6 581.3 L659.1 581.8 L659.4 582.3 L659.7 582.8 L659.9 583.4 L660 584.1 L660.1 584.8 L660 585.6 L659.9 586.3 L659.7 587 L659.4 587.8 L659 588.5 L658.6 589.1 L658.1 589.7 L657.6 590.3 L657 590.7 L656.4 591.1 L655.8 591.5 L655.1 591.7 L654.5 591.8 L653.9 591.9 L653.3 591.8 L652.7 591.6 L652.2 591.4 L651.7 591.1 L651.2 590.6 L650.9 590.1 L650.6 589.6 L650.4 589 L650.3 588.3 L650.2 587.6 L650.3 586.8 L650.4 586.1 L650.6 585.4 L650.9 584.6 L651.3 584 L651.7 583.3 L652.2 582.7 L652.7 582.1 L653.3 581.7 L653.9 581.3 L654.5 580.9 L655.2 580.7 L655.8 580.6 L656.4 580.5 L657 580.6 L657.6 580.8Z" fill="#222" stroke="#000" stroke-width="1.7" /></g>
<path d="M277.2 552.1 L277.3 551.1 L277.4 550.1 L277.8 549.1 L278.2 548.2 L278.7 547.2 L279.3 546.4 L279.9 545.6 L280.7 544.9 L281.5 544.4 L282.3 543.9 L283.2 543.6 L284.1 543.3 L285 543.3 L285.9 543.3 L286.7 543.5 L287.5 543.8 L288.2 544.2 L298.2 550.2 L298.9 550.8 L299.5 551.4 L300 552.2 L300.3 553 L300.6 553.9 L300.8 554.9 L300.8 555.9 L300.7 556.9 L300.6 557.9 L300.2 558.9 L299.8 559.8 L299.3 560.8 L298.7 561.6 L298.1 562.4 L297.3 563.1 L296.5 563.6 L295.7 564.1 L294.8 564.4 L293.9 564.7 L293 564.7 L292.1 564.7 L291.3 564.5 L290.5 564.2 L289.8 563.8 L279.8 557.8 L279.1 557.2 L278.5 556.6 L278 555.8 L277.7 555 L277.4 554.1 L277.2 553.1Z" fill="#fff" stroke="#000" stroke-width="1.8" />
<path d="M297.5 549.8 L298.2 550.2 L298.9 550.8 L299.5 551.4 L300 552.2 L300.3 553 L300.6 553.9 L300.8 554.9 L300.8 555.9 L300.7 556.9 L300.6 557.9 L300.2 558.9 L299.8 559.8 L299.3 560.8 L298.7 561.6 L298.1 562.4 L297.3 563.1 L296.5 563.6 L295.7 564.1 L294.8 564.4 L293.9 564.7 L293 564.7 L292.1 564.7 L291.3 564.5 L290.5 564.2 L289.8 563.8 L289.1 563.2 L288.5 562.6 L288 561.8 L287.7 561 L287.4 560.1 L287.2 559.1 L287.2 558.1 L287.3 557.1 L287.4 556.1 L287.8 555.1 L288.2 554.2 L288.7 553.2 L289.3 552.4 L289.9 551.6 L290.7 550.9 L291.5 550.4 L292.3 549.9 L293.2 549.6 L294.1 549.3 L295 549.3 L295.9 549.3 L296.7 549.5Z" fill="#fff" stroke="#000" stroke-width="1.8" />
<path d="M285.4 560.2 L285.4 558.9 L285.5 557.5 L285.8 556.2 L286.2 554.8 L286.8 553.5 L287.5 552.2 L288.3 551.1 L289.2 550 L290.2 549 L291.2 548.2 L292.3 547.5 L293.4 547 L294.6 546.7 L295.7 546.5 L296.8 546.5 L297.8 546.7 L298.8 547.1 L340.8 568.1 L341.7 568.7 L342.5 569.4 L343.2 570.2 L343.8 571.2 L344.2 572.3 L344.5 573.5 L344.6 574.8 L344.6 576.1 L344.5 577.5 L344.2 578.8 L343.8 580.2 L343.2 581.5 L342.5 582.8 L341.7 583.9 L340.8 585 L339.8 586 L338.8 586.8 L337.7 587.5 L336.6 588 L335.4 588.3 L334.3 588.5 L333.2 588.5 L332.2 588.3 L331.2 587.9 L289.2 566.9 L288.3 566.3 L287.5 565.6 L286.8 564.8 L286.2 563.8 L285.8 562.7 L285.5 561.5Z" fill="#fff" stroke="#000" stroke-width="1.8" />
<path d="M340.8 568.1 L341.7 568.7 L342.5 569.4 L343.2 570.2 L343.8 571.2 L344.2 572.3 L344.5 573.5 L344.6 574.8 L344.6 576.1 L344.5 577.5 L344.2 578.8 L343.8 580.2 L343.2 581.5 L342.5 582.8 L341.7 583.9 L340.8 585 L339.8 586 L338.8 586.8 L337.7 587.5 L336.6 588 L335.4 588.3 L334.3 588.5 L333.2 588.5 L332.2 588.3 L331.2 587.9 L330.3 587.3 L329.5 586.6 L328.8 585.8 L328.2 584.8 L327.8 583.7 L327.5 582.5 L327.4 581.2 L327.4 579.9 L327.5 578.5 L327.8 577.2 L328.2 575.8 L328.8 574.5 L329.5 573.2 L330.3 572.1 L331.2 571 L332.2 570 L333.2 569.2 L334.3 568.5 L335.4 568 L336.6 567.7 L337.7 567.5 L338.8 567.5 L339.8 567.7Z" fill="#fff" stroke="#000" stroke-width="1.8" />
<path d="M300 566 Q310 574 322 578" fill="none" stroke="#000" stroke-width="1.2" />
<path d="M288 548 L295 546 L301 553 L299 563 L292 566 L288 559Z" fill="#000" stroke="#000" stroke-width="1" />
<path d="M323.6 583.5 L323.7 581.5 L324 579.4 L324.5 577.3 L325.2 575.2 L326.1 573.2 L327.2 571.2 L328.4 569.4 L329.7 567.7 L331.2 566.2 L332.7 564.9 L334.3 563.8 L335.9 562.9 L337.5 562.4 L339.1 562 L340.6 562 L342.1 562.2 L343.5 562.7 L355.5 568.7 L356.7 569.5 L357.8 570.5 L358.7 571.7 L359.4 573.2 L359.9 574.8 L360.3 576.6 L360.4 578.5 L360.3 580.5 L360 582.6 L359.5 584.7 L358.8 586.8 L357.9 588.8 L356.8 590.8 L355.6 592.6 L354.3 594.3 L352.8 595.8 L351.3 597.1 L349.7 598.2 L348.1 599.1 L346.5 599.6 L344.9 600 L343.4 600 L341.9 599.8 L340.5 599.3 L328.5 593.3 L327.3 592.5 L326.2 591.5 L325.3 590.3 L324.6 588.8 L324.1 587.2 L323.7 585.4Z" fill="#fff" stroke="#000" stroke-width="1.8" />
<path d="M355.5 568.7 L356.7 569.5 L357.8 570.5 L358.7 571.7 L359.4 573.2 L359.9 574.8 L360.3 576.6 L360.4 578.5 L360.3 580.5 L360 582.6 L359.5 584.7 L358.8 586.8 L357.9 588.8 L356.8 590.8 L355.6 592.6 L354.3 594.3 L352.8 595.8 L351.3 597.1 L349.7 598.2 L348.1 599.1 L346.5 599.6 L344.9 600 L343.4 600 L341.9 599.8 L340.5 599.3 L339.3 598.5 L338.2 597.5 L337.3 596.3 L336.6 594.8 L336.1 593.2 L335.7 591.4 L335.6 589.5 L335.7 587.5 L336 585.4 L336.5 583.3 L337.2 581.2 L338.1 579.2 L339.2 577.2 L340.4 575.4 L341.7 573.7 L343.2 572.2 L344.7 570.9 L346.3 569.8 L347.9 568.9 L349.5 568.4 L351.1 568 L352.6 568 L354.1 568.2Z" fill="#fff" stroke="#000" stroke-width="1.8" />
<path d="M337.1 588.2 L337.1 586.5 L337.3 584.8 L337.7 583 L338.3 581.3 L339 579.6 L339.9 578 L340.9 576.5 L342 575.1 L343.3 573.9 L344.6 572.9 L346 572 L347.4 571.3 L348.8 570.9 L350.2 570.7 L351.6 570.7 L352.9 571 L354.1 571.4 L390.1 587.4 L391.3 588.1 L392.3 589 L393.1 590.1 L393.8 591.3 L394.3 592.7 L394.7 594.2 L394.9 595.8 L394.9 597.5 L394.7 599.2 L394.3 601 L393.7 602.7 L393 604.4 L392.1 606 L391.1 607.5 L390 608.9 L388.7 610.1 L387.4 611.1 L386 612 L384.6 612.7 L383.2 613.1 L381.8 613.3 L380.4 613.3 L379.1 613 L377.9 612.6 L341.9 596.6 L340.7 595.9 L339.7 595 L338.9 593.9 L338.2 592.7 L337.7 591.3 L337.3 589.8Z" fill="#fff" stroke="#000" stroke-width="1.8" />
<path d="M390.1 587.4 L391.3 588.1 L392.3 589 L393.1 590.1 L393.8 591.3 L394.3 592.7 L394.7 594.2 L394.9 595.8 L394.9 597.5 L394.7 599.2 L394.3 601 L393.7 602.7 L393 604.4 L392.1 606 L391.1 607.5 L390 608.9 L388.7 610.1 L387.4 611.1 L386 612 L384.6 612.7 L383.2 613.1 L381.8 613.3 L380.4 613.3 L379.1 613 L377.9 612.6 L376.7 611.9 L375.7 611 L374.9 609.9 L374.2 608.7 L373.7 607.3 L373.3 605.8 L373.1 604.2 L373.1 602.5 L373.3 600.8 L373.7 599 L374.3 597.3 L375 595.6 L375.9 594 L376.9 592.5 L378 591.1 L379.3 589.9 L380.6 588.9 L382 588 L383.4 587.3 L384.8 586.9 L386.2 586.7 L387.6 586.7 L388.9 587Z" fill="#fff" stroke="#000" stroke-width="1.8" />
<path d="M352 586 L358 589 M361 590 L367 593 M370 594 L376 597 M350 592 L356 595 M359 596 L365 599 M368 600 L374 603" fill="none" stroke="#000" stroke-width="2.2" />
<path d="M414 589.2 L415.2 590 L419.1 584.8 L421 586.5 L417.7 592.2 L418.6 593.3 L419.5 594.4 L424.3 590.4 L425.7 592.7 L421.3 597.5 L422 598.9 L422.5 600.4 L427.7 597.8 L428.5 600.6 L423.5 604.1 L423.8 605.7 L424 607.3 L429.3 606.4 L429.4 609.5 L424.1 611.4 L424 613.2 L423.8 614.9 L428.9 615.7 L428.3 618.8 L423.1 619.1 L422.6 620.9 L422.1 622.6 L426.6 625 L425.3 628 L420.4 626.6 L419.6 628.2 L418.8 629.8 L422.4 633.6 L420.6 636.3 L416.4 633.3 L415.3 634.7 L414.2 636 L416.6 641.1 L414.4 643.3 L411.3 638.9 L410 639.9 L408.7 640.9 L409.8 646.9 L407.3 648.4 L405.4 642.9 L403.9 643.6 L402.5 644.1 L402.3 650.6 L399.7 651.3 L399.1 645.1 L397.6 645.3 L396.2 645.4 L394.6 651.9 L392.1 651.8 L392.9 645.3 L391.5 645 L390.2 644.7 L387.3 650.7 L385 649.8 L387.2 643.5 L386 642.8 L384.8 642 L380.9 647.2 L379 645.5 L382.3 639.8 L381.4 638.7 L380.5 637.6 L375.7 641.6 L374.3 639.3 L378.7 634.5 L378 633.1 L377.5 631.6 L372.3 634.2 L371.5 631.4 L376.5 627.9 L376.2 626.3 L376 624.7 L370.7 625.6 L370.6 622.5 L375.9 620.6 L376 618.8 L376.2 617.1 L371.1 616.3 L371.7 613.2 L376.9 612.9 L377.4 611.1 L377.9 609.4 L373.4 607 L374.7 604 L379.6 605.4 L380.4 603.8 L381.2 602.2 L377.6 598.4 L379.4 595.7 L383.6 598.7 L384.7 597.3 L385.8 596 L383.4 590.9 L385.6 588.7 L388.7 593.1 L390 592.1 L391.3 591.1 L390.2 585.1 L392.7 583.6 L394.6 589.1 L396.1 588.4 L397.5 587.9 L397.7 581.4 L400.3 580.7 L400.9 586.9 L402.4 586.7 L403.8 586.6 L405.4 580.1 L407.9 580.2 L407.1 586.7 L408.5 587 L409.8 587.3 L412.7 581.3 L415 582.2 L412.8 588.5Z" fill="#fff" stroke="#000" stroke-width="1.6" />
<path d="M425.4 593.9 L426.6 594.4 L415.2 590 L414 589.2Z" fill="#fff" stroke="#000" stroke-width="1.2800000000000002" />
<path d="M430 588.7 L432.2 590.1 L421 586.5 L419.1 584.8Z" fill="#fff" stroke="#000" stroke-width="1.2800000000000002" />
<path d="M432.2 590.1 L429.4 596.2 L417.7 592.2 L421 586.5Z" fill="#fff" stroke="#000" stroke-width="1.2800000000000002" />
<path d="M429.4 596.2 L430.5 597.1 L418.6 593.3 L417.7 592.2Z" fill="#fff" stroke="#000" stroke-width="1.2800000000000002" />
<path d="M430.5 597.1 L431.5 598 L419.5 594.4 L418.6 593.3Z" fill="#fff" stroke="#000" stroke-width="1.2800000000000002" />
<path d="M435.9 593.3 L437.5 595.4 L425.7 592.7 L424.3 590.4Z" fill="#fff" stroke="#000" stroke-width="1.2800000000000002" />
<path d="M437.5 595.4 L433.7 600.7 L421.3 597.5 L425.7 592.7Z" fill="#fff" stroke="#000" stroke-width="1.2800000000000002" />
<path d="M433.7 600.7 L434.5 601.9 L422 598.9 L421.3 597.5Z" fill="#fff" stroke="#000" stroke-width="1.2800000000000002" />
<path d="M434.5 601.9 L435.2 603.2 L422.5 600.4 L422 598.9Z" fill="#fff" stroke="#000" stroke-width="1.2800000000000002" />
<path d="M440.2 599.9 L441.3 602.5 L428.5 600.6 L427.7 597.8Z" fill="#fff" stroke="#000" stroke-width="1.2800000000000002" />
<path d="M441.3 602.5 L436.6 606.7 L423.5 604.1 L428.5 600.6Z" fill="#fff" stroke="#000" stroke-width="1.2800000000000002" />
<path d="M436.6 606.7 L437.1 608.2 L423.8 605.7 L423.5 604.1Z" fill="#fff" stroke="#000" stroke-width="1.2800000000000002" />
<path d="M437.1 608.2 L437.5 609.7 L424 607.3 L423.8 605.7Z" fill="#fff" stroke="#000" stroke-width="1.2800000000000002" />
<path d="M442.8 608 L443.2 610.9 L429.4 609.5 L429.3 606.4Z" fill="#fff" stroke="#000" stroke-width="1.2800000000000002" />
<path d="M443.2 610.9 L438 613.7 L424.1 611.4 L429.4 609.5Z" fill="#fff" stroke="#000" stroke-width="1.2800000000000002" />
<path d="M438 613.7 L438.1 615.4 L424 613.2 L424.1 611.4Z" fill="#fff" stroke="#000" stroke-width="1.2800000000000002" />
<path d="M438.1 615.4 L438.1 617.1 L423.8 614.9 L424 613.2Z" fill="#fff" stroke="#000" stroke-width="1.2800000000000002" />
<path d="M443.4 617 L443.1 620.2 L428.3 618.8 L428.9 615.7Z" fill="#fff" stroke="#000" stroke-width="1.2800000000000002" />
<path d="M443.1 620.2 L437.8 621.3 L423.1 619.1 L428.3 618.8Z" fill="#fff" stroke="#000" stroke-width="1.2800000000000002" />
<path d="M437.8 621.3 L437.5 623 L422.6 620.9 L423.1 619.1Z" fill="#fff" stroke="#000" stroke-width="1.2800000000000002" />
<path d="M437.5 623 L437.1 624.8 L422.1 622.6 L422.6 620.9Z" fill="#fff" stroke="#000" stroke-width="1.2800000000000002" />
<path d="M442 626.3 L441.1 629.5 L425.3 628 L426.6 625Z" fill="#fff" stroke="#000" stroke-width="1.2800000000000002" />
<path d="M441.1 629.5 L435.9 628.9 L420.4 626.6 L425.3 628Z" fill="#fff" stroke="#000" stroke-width="1.2800000000000002" />
<path d="M435.9 628.9 L435.3 630.6 L419.6 628.2 L420.4 626.6Z" fill="#fff" stroke="#000" stroke-width="1.2800000000000002" />
<path d="M435.3 630.6 L434.6 632.2 L418.8 629.8 L419.6 628.2Z" fill="#fff" stroke="#000" stroke-width="1.2800000000000002" />
<path d="M434.6 632.2 L438.7 635.4 L422.4 633.6 L418.8 629.8Z" fill="#fff" stroke="#000" stroke-width="1.2800000000000002" />
<path d="M438.7 635.4 L437.1 638.3 L420.6 636.3 L422.4 633.6Z" fill="#fff" stroke="#000" stroke-width="1.2800000000000002" />
<path d="M432.6 636.1 L431.6 637.6 L415.3 634.7 L416.4 633.3Z" fill="#fff" stroke="#000" stroke-width="1.2800000000000002" />
<path d="M431.6 637.6 L430.6 639 L414.2 636 L415.3 634.7Z" fill="#fff" stroke="#000" stroke-width="1.2800000000000002" />
<path d="M430.6 639 L433.7 643.6 L416.6 641.1 L414.2 636Z" fill="#fff" stroke="#000" stroke-width="1.2800000000000002" />
<path d="M433.7 643.6 L431.7 646 L414.4 643.3 L416.6 641.1Z" fill="#fff" stroke="#000" stroke-width="1.2800000000000002" />
<path d="M428 642.3 L426.8 643.5 L410 639.9 L411.3 638.9Z" fill="#fff" stroke="#000" stroke-width="1.2800000000000002" />
<path d="M426.8 643.5 L425.5 644.7 L408.7 640.9 L410 639.9Z" fill="#fff" stroke="#000" stroke-width="1.2800000000000002" />
<path d="M425.5 644.7 L427.3 650.2 L409.8 646.9 L408.7 640.9Z" fill="#fff" stroke="#000" stroke-width="1.2800000000000002" />
<path d="M427.3 650.2 L425 652.1 L407.3 648.4 L409.8 646.9Z" fill="#fff" stroke="#000" stroke-width="1.2800000000000002" />
<path d="M422.4 647.1 L421 648 L403.9 643.6 L405.4 642.9Z" fill="#fff" stroke="#000" stroke-width="1.2800000000000002" />
<path d="M421 648 L419.6 648.7 L402.5 644.1 L403.9 643.6Z" fill="#fff" stroke="#000" stroke-width="1.2800000000000002" />
<path d="M419.6 648.7 L420.1 655 L402.3 650.6 L402.5 644.1Z" fill="#fff" stroke="#000" stroke-width="1.2800000000000002" />
<path d="M420.1 655 L417.5 656.1 L399.7 651.3 L402.3 650.6Z" fill="#fff" stroke="#000" stroke-width="1.2800000000000002" />
<path d="M416.3 650.2 L414.8 650.7 L397.6 645.3 L399.1 645.1Z" fill="#fff" stroke="#000" stroke-width="1.2800000000000002" />
<path d="M414.8 650.7 L413.4 651 L396.2 645.4 L397.6 645.3Z" fill="#fff" stroke="#000" stroke-width="1.2800000000000002" />
<path d="M413.4 651 L412.4 657.5 L394.6 651.9 L396.2 645.4Z" fill="#fff" stroke="#000" stroke-width="1.2800000000000002" />
<path d="M412.4 657.5 L409.8 657.8 L392.1 651.8 L394.6 651.9Z" fill="#fff" stroke="#000" stroke-width="1.2800000000000002" />
<path d="M410 651.4 L408.5 651.4 L391.5 645 L392.9 645.3Z" fill="#fff" stroke="#000" stroke-width="1.2800000000000002" />
<path d="M390.9 619.2 L386 617.7 L373.4 607 L377.9 609.4Z" fill="#fff" stroke="#000" stroke-width="1.2800000000000002" />
<path d="M390.9 605.7 L395.4 607.9 L383.6 598.7 L379.4 595.7Z" fill="#fff" stroke="#000" stroke-width="1.2800000000000002" />
<path d="M396.3 598 L400 601.7 L388.7 593.1 L385.6 588.7Z" fill="#fff" stroke="#000" stroke-width="1.2800000000000002" />
<path d="M403 591.9 L405.6 596.9 L394.6 589.1 L392.7 583.6Z" fill="#fff" stroke="#000" stroke-width="1.2800000000000002" />
<path d="M410.5 587.9 L411.7 593.8 L400.9 586.9 L400.3 580.7Z" fill="#fff" stroke="#000" stroke-width="1.2800000000000002" />
<path d="M418.2 586.2 L418 592.6 L407.1 586.7 L407.9 580.2Z" fill="#fff" stroke="#000" stroke-width="1.2800000000000002" />
<path d="M425.6 586.9 L424.1 593.4 L412.8 588.5 L415 582.2Z" fill="#fff" stroke="#000" stroke-width="1.2800000000000002" />
<path d="M408.5 651.4 L407.2 651.3 L390.2 644.7 L391.5 645Z" fill="#000" stroke="#000" stroke-width="1.2800000000000002" />
<path d="M407.2 651.3 L404.9 657.6 L387.3 650.7 L390.2 644.7Z" fill="#000" stroke="#000" stroke-width="1.2800000000000002" />
<path d="M404.9 657.6 L402.4 657.1 L385 649.8 L387.3 650.7Z" fill="#000" stroke="#000" stroke-width="1.2800000000000002" />
<path d="M403.9 650.6 L402.6 650.1 L386 642.8 L387.2 643.5Z" fill="#000" stroke="#000" stroke-width="1.2800000000000002" />
<path d="M401.4 649.6 L398 655.3 L380.9 647.2 L384.8 642Z" fill="#000" stroke="#000" stroke-width="1.2800000000000002" />
<path d="M396.5 646 L392.1 650.7 L375.7 641.6 L380.5 637.6Z" fill="#000" stroke="#000" stroke-width="1.2800000000000002" />
<path d="M392.8 640.8 L387.8 644.1 L372.3 634.2 L377.5 631.6Z" fill="#000" stroke="#000" stroke-width="1.2800000000000002" />
<path d="M390.5 634.3 L385.2 636 L370.7 625.6 L376 624.7Z" fill="#000" stroke="#000" stroke-width="1.2800000000000002" />
<path d="M389.9 626.9 L384.6 627 L371.1 616.3 L376.2 617.1Z" fill="#000" stroke="#000" stroke-width="1.2800000000000002" />
<path d="M425.4 593.9 L426.6 594.4 L430 588.7 L432.2 590.1 L429.4 596.2 L430.5 597.1 L431.5 598 L435.9 593.3 L437.5 595.4 L433.7 600.7 L434.5 601.9 L435.2 603.2 L440.2 599.9 L441.3 602.5 L436.6 606.7 L437.1 608.2 L437.5 609.7 L442.8 608 L443.2 610.9 L438 613.7 L438.1 615.4 L438.1 617.1 L443.4 617 L443.1 620.2 L437.8 621.3 L437.5 623 L437.1 624.8 L442 626.3 L441.1 629.5 L435.9 628.9 L435.3 630.6 L434.6 632.2 L438.7 635.4 L437.1 638.3 L432.6 636.1 L431.6 637.6 L430.6 639 L433.7 643.6 L431.7 646 L428 642.3 L426.8 643.5 L425.5 644.7 L427.3 650.2 L425 652.1 L422.4 647.1 L421 648 L419.6 648.7 L420.1 655 L417.5 656.1 L416.3 650.2 L414.8 650.7 L413.4 651 L412.4 657.5 L409.8 657.8 L410 651.4 L408.5 651.4 L407.2 651.3 L404.9 657.6 L402.4 657.1 L403.9 650.6 L402.6 650.1 L401.4 649.6 L398 655.3 L395.8 653.9 L398.6 647.8 L397.5 646.9 L396.5 646 L392.1 650.7 L390.5 648.6 L394.3 643.3 L393.5 642.1 L392.8 640.8 L387.8 644.1 L386.7 641.5 L391.4 637.3 L390.9 635.8 L390.5 634.3 L385.2 636 L384.8 633.1 L390 630.3 L389.9 628.6 L389.9 626.9 L384.6 627 L384.9 623.8 L390.2 622.7 L390.5 621 L390.9 619.2 L386 617.7 L386.9 614.5 L392.1 615.1 L392.7 613.4 L393.4 611.8 L389.3 608.6 L390.9 605.7 L395.4 607.9 L396.4 606.4 L397.4 605 L394.3 600.4 L396.3 598 L400 601.7 L401.2 600.5 L402.5 599.3 L400.7 593.8 L403 591.9 L405.6 596.9 L407 596 L408.4 595.3 L407.9 589 L410.5 587.9 L411.7 593.8 L413.2 593.3 L414.6 593 L415.6 586.5 L418.2 586.2 L418 592.6 L419.5 592.6 L420.8 592.7 L423.1 586.4 L425.6 586.9 L424.1 593.4Z" fill="#fff" stroke="#000" stroke-width="1.6" />
<path d="M397.8 620.2 L397.9 618.6 L398.3 617 L398.8 615.4 L399.5 613.8 L400.3 612.3 L401.2 611 L402.3 609.7 L403.5 608.6 L404.7 607.6 L406 606.8 L407.3 606.2 L408.7 605.8 L410 605.6 L411.3 605.6 L412.5 605.9 L413.7 606.3 L414.8 607 L432.8 618 L433.7 618.8 L434.5 619.8 L435.2 621 L435.7 622.3 L436.1 623.7 L436.2 625.2 L436.2 626.8 L436.1 628.4 L435.7 630 L435.2 631.6 L434.5 633.2 L433.7 634.7 L432.8 636 L431.7 637.3 L430.5 638.4 L429.3 639.4 L428 640.2 L426.7 640.8 L425.3 641.2 L424 641.4 L422.7 641.4 L421.5 641.1 L420.3 640.7 L419.2 640 L401.2 629 L400.3 628.2 L399.5 627.2 L398.8 626 L398.3 624.7 L397.9 623.3 L397.8 621.8Z" fill="#fff" stroke="#000" stroke-width="1.8" />
<path d="M431.7 617.3 L432.8 618 L433.7 618.8 L434.5 619.8 L435.2 621 L435.7 622.3 L436.1 623.7 L436.2 625.2 L436.2 626.8 L436.1 628.4 L435.7 630 L435.2 631.6 L434.5 633.2 L433.7 634.7 L432.8 636 L431.7 637.3 L430.5 638.4 L429.3 639.4 L428 640.2 L426.7 640.8 L425.3 641.2 L424 641.4 L422.7 641.4 L421.5 641.1 L420.3 640.7 L419.2 640 L418.3 639.2 L417.5 638.2 L416.8 637 L416.3 635.7 L415.9 634.3 L415.8 632.8 L415.8 631.2 L415.9 629.6 L416.3 628 L416.8 626.4 L417.5 624.8 L418.3 623.3 L419.2 622 L420.3 620.7 L421.5 619.6 L422.7 618.6 L424 617.8 L425.3 617.2 L426.7 616.8 L428 616.6 L429.3 616.6 L430.5 616.9Z" fill="#fff" stroke="#000" stroke-width="1.8" />
<path d="M397 620 L402 612 L408 622 L404 632Z" fill="#000" stroke="#000" stroke-width="0.8" />
<path d="M430 629 L429.6 630.2 L428.5 631.2 L427 631.5 L425.5 631.2 L424.4 630.2 L424 629 L424.4 627.8 L425.5 626.8 L427 626.5 L428.5 626.8 L429.6 627.8Z" fill="#000" stroke="#000" stroke-width="1" />
<path d="M428 643 L428.2 640.8 L428.7 638.7 L429.3 636.7 L430.2 634.7 L431.3 632.9 L432.5 631.2 L434 629.7 L435.5 628.5 L437.2 627.5 L438.9 626.7 L440.7 626.2 L442.5 625.9 L444.2 626 L446 626.3 L448.9 627.1 L450.5 627.7 L452.1 628.5 L453.5 629.6 L454.8 630.9 L455.9 632.5 L456.8 634.2 L457.5 636.1 L458 638.1 L458.3 640.1 L458.3 642.2 L458.1 644.4 L457.6 646.5 L457 648.5 L456.1 650.5 L455 652.3 L453.8 654 L452.3 655.5 L450.8 656.7 L449.2 657.8 L447.4 658.5 L445.6 659.1 L443.9 659.3 L442.1 659.3 L440.3 658.9 L437.4 658.2 L435.8 657.6 L434.2 656.7 L432.8 655.6 L431.5 654.3 L430.4 652.7 L429.5 651 L428.8 649.2 L428.3 647.2 L428 645.1Z" fill="#000" stroke="#000" stroke-width="1.7" />
<path d="M448.9 627.1 L450.5 627.7 L452.1 628.5 L453.5 629.6 L454.8 630.9 L455.9 632.5 L456.8 634.2 L457.5 636.1 L458 638.1 L458.3 640.1 L458.3 642.2 L458.1 644.4 L457.6 646.5 L457 648.5 L456.1 650.5 L455 652.3 L453.8 654 L452.3 655.5 L450.8 656.7 L449.2 657.8 L447.4 658.5 L445.6 659.1 L443.9 659.3 L442.1 659.3 L440.3 658.9 L438.7 658.3 L437.1 657.5 L435.7 656.4 L434.4 655.1 L433.3 653.5 L432.4 651.8 L431.7 649.9 L431.2 647.9 L430.9 645.9 L430.9 643.8 L431.1 641.6 L431.6 639.5 L432.2 637.5 L433.1 635.5 L434.2 633.7 L435.4 632 L436.9 630.5 L438.4 629.3 L440 628.2 L441.8 627.5 L443.6 626.9 L445.4 626.7 L447.1 626.7Z" fill="#fff" stroke="#000" stroke-width="1.7" />
<clipPath id="c17"><path d="M447.3 632.9 L448.3 633.2 L449.3 633.8 L450.2 634.5 L451 635.3 L451.6 636.3 L452.2 637.3 L452.6 638.5 L452.9 639.8 L453 641.1 L453 642.5 L452.9 643.8 L452.6 645.1 L452.2 646.5 L451.6 647.7 L451 648.9 L450.2 649.9 L449.3 650.9 L448.3 651.7 L447.3 652.4 L446.3 652.9 L445.2 653.2 L444.1 653.4 L443 653.3 L441.9 653.1 L440.9 652.8 L439.9 652.2 L439 651.5 L438.2 650.7 L437.6 649.7 L437 648.7 L436.6 647.5 L436.3 646.2 L436.2 644.9 L436.2 643.5 L436.3 642.2 L436.6 640.9 L437 639.5 L437.6 638.3 L438.2 637.1 L439 636.1 L439.9 635.1 L440.9 634.3 L441.9 633.6 L442.9 633.1 L444 632.8 L445.2 632.6 L446.2 632.7Z"/></clipPath>
<path d="M447.3 632.9 L448.3 633.2 L449.3 633.8 L450.2 634.5 L451 635.3 L451.6 636.3 L452.2 637.3 L452.6 638.5 L452.9 639.8 L453 641.1 L453 642.5 L452.9 643.8 L452.6 645.1 L452.2 646.5 L451.6 647.7 L451 648.9 L450.2 649.9 L449.3 650.9 L448.3 651.7 L447.3 652.4 L446.3 652.9 L445.2 653.2 L444.1 653.4 L443 653.3 L441.9 653.1 L440.9 652.8 L439.9 652.2 L439 651.5 L438.2 650.7 L437.6 649.7 L437 648.7 L436.6 647.5 L436.3 646.2 L436.2 644.9 L436.2 643.5 L436.3 642.2 L436.6 640.9 L437 639.5 L437.6 638.3 L438.2 637.1 L439 636.1 L439.9 635.1 L440.9 634.3 L441.9 633.6 L442.9 633.1 L444 632.8 L445.2 632.6 L446.2 632.7Z" fill="#000" stroke="#000" stroke-width="1.7" />
<g clip-path="url(#c17)"><path d="M445 632.2 L446 632.6 L447 633.1 L447.9 633.8 L448.6 634.7 L449.3 635.6 L449.9 636.7 L450.3 637.9 L450.6 639.2 L450.7 640.5 L450.7 641.8 L450.6 643.2 L450.3 644.5 L449.9 645.8 L449.3 647.1 L448.6 648.2 L447.9 649.3 L447 650.3 L446 651.1 L445 651.7 L443.9 652.2 L442.8 652.6 L441.7 652.7 L440.6 652.7 L439.6 652.5 L438.5 652.2 L437.6 651.6 L436.7 650.9 L435.9 650.1 L435.2 649.1 L434.7 648 L434.3 646.8 L434 645.6 L433.8 644.3 L433.8 642.9 L434 641.6 L434.3 640.2 L434.7 638.9 L435.2 637.7 L435.9 636.5 L436.7 635.4 L437.6 634.5 L438.5 633.7 L439.6 633 L440.6 632.5 L441.7 632.2 L442.8 632 L443.9 632Z" fill="#fff" stroke="#000" stroke-width="1.36" /></g>
<path d="M458.2 659.5 L458.3 657.7 L458.7 655.8 L459.2 654 L460 652.3 L460.9 650.7 L462 649.3 L463.2 648 L464.5 646.9 L465.9 646 L467.4 645.4 L468.9 645 L470.5 644.8 L472 644.9 L473.5 645.3 L475 645.9 L488 651.9 L489.3 652.7 L490.6 653.7 L491.7 654.9 L492.7 656.3 L493.5 657.9 L494.1 659.5 L494.6 661.3 L494.8 663.2 L494.8 665.1 L494.7 666.9 L494.3 668.8 L493.8 670.6 L493 672.3 L492.1 673.9 L491 675.3 L489.8 676.6 L488.5 677.7 L487.1 678.6 L485.6 679.2 L484.1 679.6 L482.5 679.8 L481 679.7 L479.5 679.3 L478 678.7 L465 672.7 L463.7 671.9 L462.4 670.9 L461.3 669.7 L460.3 668.3 L459.5 666.7 L458.9 665.1 L458.4 663.3 L458.2 661.4Z" fill="#fff" stroke="#000" stroke-width="1.8" />
<clipPath id="pc33"><path d="M458.2 659.5 L458.3 657.7 L458.7 655.8 L459.2 654 L460 652.3 L460.9 650.7 L462 649.3 L463.2 648 L464.5 646.9 L465.9 646 L467.4 645.4 L468.9 645 L470.5 644.8 L472 644.9 L473.5 645.3 L475 645.9 L488 651.9 L489.3 652.7 L490.6 653.7 L491.7 654.9 L492.7 656.3 L493.5 657.9 L494.1 659.5 L494.6 661.3 L494.8 663.2 L494.8 665.1 L494.7 666.9 L494.3 668.8 L493.8 670.6 L493 672.3 L492.1 673.9 L491 675.3 L489.8 676.6 L488.5 677.7 L487.1 678.6 L485.6 679.2 L484.1 679.6 L482.5 679.8 L481 679.7 L479.5 679.3 L478 678.7 L465 672.7 L463.7 671.9 L462.4 670.9 L461.3 669.7 L460.3 668.3 L459.5 666.7 L458.9 665.1 L458.4 663.3 L458.2 661.4Z"/></clipPath><g clip-path="url(#pc33)"><path d="M478 678.7 L477.1 678.2 L476.2 677.6 L475.4 676.9 L474.6 676.1 L473.9 675.2 L473.3 674.3 L472.8 673.3 L472.3 672.2 L471.9 671.1 L471.6 669.9 L471.3 668.7 L471.2 667.4 L471.1 666.2 L471.2 664.9 L471.3 663.7 L471.5 662.4 L471.8 661.2 L472.2 660 L472.7 658.8 L459.7 652.8 L459.2 654 L458.8 655.2 L458.5 656.4 L458.3 657.7 L458.2 658.9 L458.1 660.2 L458.2 661.4 L458.3 662.7 L458.6 663.9 L458.9 665.1 L459.3 666.2 L459.8 667.3 L460.3 668.3 L460.9 669.2 L461.6 670.1 L462.4 670.9 L463.2 671.6 L464.1 672.2 L465 672.7Z" fill="#000" stroke="#000" stroke-width="1" /></g>
<clipPath id="pc34"><path d="M458.2 659.5 L458.3 657.7 L458.7 655.8 L459.2 654 L460 652.3 L460.9 650.7 L462 649.3 L463.2 648 L464.5 646.9 L465.9 646 L467.4 645.4 L468.9 645 L470.5 644.8 L472 644.9 L473.5 645.3 L475 645.9 L488 651.9 L489.3 652.7 L490.6 653.7 L491.7 654.9 L492.7 656.3 L493.5 657.9 L494.1 659.5 L494.6 661.3 L494.8 663.2 L494.8 665.1 L494.7 666.9 L494.3 668.8 L493.8 670.6 L493 672.3 L492.1 673.9 L491 675.3 L489.8 676.6 L488.5 677.7 L487.1 678.6 L485.6 679.2 L484.1 679.6 L482.5 679.8 L481 679.7 L479.5 679.3 L478 678.7 L465 672.7 L463.7 671.9 L462.4 670.9 L461.3 669.7 L460.3 668.3 L459.5 666.7 L458.9 665.1 L458.4 663.3 L458.2 661.4Z"/></clipPath><g clip-path="url(#pc34)"><path d="M467.5 671.6 L466.9 670.6 L466.4 669.5 L466 668.4 L465.7 667.2 L465.5 666 L465.3 664.7 L465.3 663.5 L465.3 662.2 L465.5 661 L465.7 659.7 L466 658.5 L466.4 657.3 L466.9 656.1" fill="none" stroke="#fff" stroke-width="1.6" /></g>
<path d="M485 650.9 L486.5 651.3 L488 651.9 L489.3 652.7 L490.6 653.7 L491.7 654.9 L492.7 656.3 L493.5 657.9 L494.1 659.5 L494.6 661.3 L494.8 663.2 L494.8 665.1 L494.7 666.9 L494.3 668.8 L493.8 670.6 L493 672.3 L492.1 673.9 L491 675.3 L489.8 676.6 L488.5 677.7 L487.1 678.6 L485.6 679.2 L484.1 679.6 L482.5 679.8 L481 679.7 L479.5 679.3 L478 678.7 L476.7 677.9 L475.4 676.9 L474.3 675.7 L473.3 674.3 L472.5 672.7 L471.9 671.1 L471.4 669.3 L471.2 667.4 L471.2 665.5 L471.3 663.7 L471.7 661.8 L472.2 660 L473 658.3 L473.9 656.7 L475 655.3 L476.2 654 L477.5 652.9 L478.9 652 L480.4 651.4 L481.9 651 L483.5 650.8Z" fill="#fff" stroke="#000" stroke-width="1.8" />
<path d="M484.4 655.2 L485.5 655.5 L486.5 655.9 L487.4 656.5 L488.3 657.2 L489.1 658 L489.8 659 L490.3 660.1 L490.8 661.3 L491.1 662.5 L491.3 663.8 L491.3 665.1 L491.2 666.4 L490.9 667.8 L490.5 669 L490 670.2 L489.4 671.3 L488.6 672.3 L487.8 673.2 L486.9 674 L485.9 674.6 L484.8 675 L483.8 675.3 L482.7 675.4 L481.6 675.4 L480.5 675.1 L479.5 674.7 L478.6 674.1 L477.7 673.4 L476.9 672.6 L476.2 671.6 L475.7 670.5 L475.2 669.3 L474.9 668.1 L474.7 666.8 L474.7 665.5 L474.8 664.2 L475.1 662.8 L475.5 661.6 L476 660.4 L476.6 659.3 L477.4 658.3 L478.2 657.4 L479.1 656.6 L480.1 656 L481.2 655.6 L482.2 655.3 L483.3 655.2Z" fill="#fff" stroke="#000" stroke-width="1.7" />
<clipPath id="pc35"><path d="M484.4 655.2 L485.5 655.5 L486.5 655.9 L487.4 656.5 L488.3 657.2 L489.1 658 L489.8 659 L490.3 660.1 L490.8 661.3 L491.1 662.5 L491.3 663.8 L491.3 665.1 L491.2 666.4 L490.9 667.8 L490.5 669 L490 670.2 L489.4 671.3 L488.6 672.3 L487.8 673.2 L486.9 674 L485.9 674.6 L484.8 675 L483.8 675.3 L482.7 675.4 L481.6 675.4 L480.5 675.1 L479.5 674.7 L478.6 674.1 L477.7 673.4 L476.9 672.6 L476.2 671.6 L475.7 670.5 L475.2 669.3 L474.9 668.1 L474.7 666.8 L474.7 665.5 L474.8 664.2 L475.1 662.8 L475.5 661.6 L476 660.4 L476.6 659.3 L477.4 658.3 L478.2 657.4 L479.1 656.6 L480.1 656 L481.2 655.6 L482.2 655.3 L483.3 655.2Z"/></clipPath><g clip-path="url(#pc35)"><path d="M479.7 658.6L490.3 657.6M479.7 661.9L490.3 660.9M479.7 665.3L490.3 664.3M479.7 668.7L490.3 667.7M479.7 672L490.3 671" stroke="#000" stroke-width="1.7" fill="none"/></g>
<clipPath id="pc36"><path d="M484.4 655.2 L485.5 655.5 L486.5 655.9 L487.4 656.5 L488.3 657.2 L489.1 658 L489.8 659 L490.3 660.1 L490.8 661.3 L491.1 662.5 L491.3 663.8 L491.3 665.1 L491.2 666.4 L490.9 667.8 L490.5 669 L490 670.2 L489.4 671.3 L488.6 672.3 L487.8 673.2 L486.9 674 L485.9 674.6 L484.8 675 L483.8 675.3 L482.7 675.4 L481.6 675.4 L480.5 675.1 L479.5 674.7 L478.6 674.1 L477.7 673.4 L476.9 672.6 L476.2 671.6 L475.7 670.5 L475.2 669.3 L474.9 668.1 L474.7 666.8 L474.7 665.5 L474.8 664.2 L475.1 662.8 L475.5 661.6 L476 660.4 L476.6 659.3 L477.4 658.3 L478.2 657.4 L479.1 656.6 L480.1 656 L481.2 655.6 L482.2 655.3 L483.3 655.2Z"/></clipPath><g clip-path="url(#pc36)"><path d="M477.9 652.2 L479 652.5 L480 652.9 L480.9 653.5 L481.8 654.2 L482.6 655 L483.3 656 L483.8 657.1 L484.3 658.3 L484.6 659.5 L484.8 660.8 L484.8 662.1 L484.7 663.4 L484.4 664.8 L484 666 L483.5 667.2 L482.9 668.3 L482.1 669.3 L481.3 670.2 L480.4 671 L479.4 671.6 L478.3 672 L477.3 672.3 L476.2 672.4 L475.1 672.4 L474 672.1 L473 671.7 L472.1 671.1 L471.2 670.4 L470.4 669.6 L469.7 668.6 L469.2 667.5 L468.7 666.3 L468.4 665.1 L468.2 663.8 L468.2 662.5 L468.3 661.2 L468.6 659.8 L469 658.6 L469.5 657.4 L470.1 656.3 L470.9 655.3 L471.7 654.4 L472.6 653.6 L473.6 653 L474.7 652.6 L475.7 652.3 L476.8 652.2Z" fill="none" stroke="#000" stroke-width="1.4" /></g>
<path d="M93.3 445.1 L102.4 436 L113.1 438.9 L120 442.9 L121.7 454.9 L112.7 464 L102 461.1 L95 457.1Z" fill="#fff" stroke="#000" stroke-width="1.7" />
<path d="M120 442.9 L113.1 438.9" fill="none" stroke="#000" stroke-width="1.2"/>
<path d="M121.7 454.9 L114.8 450.9" fill="none" stroke="#000" stroke-width="1.2"/>
<path d="M112.7 464 L105.8 460" fill="none" stroke="#000" stroke-width="1.2"/>
<path d="M102 461.1 L95 457.1" fill="none" stroke="#000" stroke-width="1.2"/>
<path d="M100.3 449.1 L93.3 445.1" fill="none" stroke="#000" stroke-width="1.2"/>
<path d="M109.3 440 L102.4 436" fill="none" stroke="#000" stroke-width="1.2"/>
<path d="M120 442.9 L121.7 454.9 L112.7 464 L102 461.1 L100.3 449.1 L109.3 440Z" fill="#fff" stroke="#000" stroke-width="1.7" />
<path d="M114 446.8 L114.5 447.1 L114.9 447.6 L115.3 448.1 L115.5 448.6 L115.8 449.2 L115.9 449.9 L115.9 450.6 L115.9 451.4 L115.7 452.1 L115.5 452.8 L115.3 453.6 L114.9 454.2 L114.5 454.9 L114 455.5 L113.5 456.1 L112.9 456.5 L112.3 456.9 L111.6 457.3 L111 457.5 L110.4 457.6 L109.7 457.7 L109.1 457.6 L108.5 457.4 L108 457.2 L107.5 456.9 L107.1 456.4 L106.7 455.9 L106.5 455.4 L106.2 454.8 L106.1 454.1 L106.1 453.4 L106.1 452.6 L106.3 451.9 L106.5 451.2 L106.7 450.4 L107.1 449.8 L107.5 449.1 L108 448.5 L108.5 447.9 L109.1 447.5 L109.7 447.1 L110.4 446.7 L111 446.5 L111.6 446.4 L112.3 446.3 L112.9 446.4 L113.5 446.6Z" fill="#fff" stroke="#000" stroke-width="1.7" />
<clipPath id="pc37"><path d="M114 446.8 L114.5 447.1 L114.9 447.6 L115.3 448.1 L115.5 448.6 L115.8 449.2 L115.9 449.9 L115.9 450.6 L115.9 451.4 L115.7 452.1 L115.5 452.8 L115.3 453.6 L114.9 454.2 L114.5 454.9 L114 455.5 L113.5 456.1 L112.9 456.5 L112.3 456.9 L111.6 457.3 L111 457.5 L110.4 457.6 L109.7 457.7 L109.1 457.6 L108.5 457.4 L108 457.2 L107.5 456.9 L107.1 456.4 L106.7 455.9 L106.5 455.4 L106.2 454.8 L106.1 454.1 L106.1 453.4 L106.1 452.6 L106.3 451.9 L106.5 451.2 L106.7 450.4 L107.1 449.8 L107.5 449.1 L108 448.5 L108.5 447.9 L109.1 447.5 L109.7 447.1 L110.4 446.7 L111 446.5 L111.6 446.4 L112.3 446.3 L112.9 446.4 L113.5 446.6Z"/></clipPath><g clip-path="url(#pc37)"><path d="M108.5 443.6 L108.9 443.9 L109.4 444.4 L109.7 444.9 L110 445.4 L110.2 446 L110.3 446.7 L110.4 447.4 L110.3 448.2 L110.2 448.9 L110 449.6 L109.7 450.4 L109.4 451.1 L108.9 451.7 L108.4 452.3 L107.9 452.9 L107.3 453.3 L106.7 453.7 L106.1 454.1 L105.4 454.3 L104.8 454.4 L104.2 454.5 L103.6 454.4 L103 454.2 L102.5 454 L102 453.7 L101.6 453.2 L101.2 452.7 L100.9 452.2 L100.7 451.6 L100.6 450.9 L100.5 450.2 L100.6 449.4 L100.7 448.7 L100.9 448 L101.2 447.2 L101.6 446.6 L102 445.9 L102.5 445.3 L103 444.7 L103.6 444.3 L104.2 443.9 L104.8 443.5 L105.5 443.3 L106.1 443.2 L106.7 443.1 L107.3 443.2 L107.9 443.4Z" fill="#222" stroke="#000" stroke-width="1.7" /></g>
<path d="M121.2 471.3 L121.4 469.1 L121.7 466.9 L122.3 464.6 L123.1 462.4 L124.1 460.2 L125.2 458.2 L126.5 456.3 L128 454.6 L129.5 453.2 L131.1 451.9 L132.8 450.9 L134.5 450.2 L136.2 449.7 L137.9 449.6 L139.5 449.7 L141 450.2 L143.7 451.3 L145.1 452 L146.4 453 L147.5 454.3 L148.4 455.8 L149.1 457.5 L149.6 459.4 L149.9 461.4 L150 463.5 L149.9 465.8 L149.5 468 L148.9 470.3 L148.1 472.5 L147.2 474.6 L146 476.7 L144.7 478.5 L143.3 480.2 L141.7 481.7 L140.1 483 L138.4 484 L136.7 484.7 L135 485.1 L133.4 485.3 L131.8 485.1 L130.3 484.7 L127.5 483.6 L126.1 482.8 L124.8 481.8 L123.7 480.6 L122.8 479.1 L122.1 477.4 L121.6 475.5 L121.3 473.5Z" fill="#000" stroke="#000" stroke-width="1.7" />
<path d="M143.7 451.3 L145.1 452 L146.4 453 L147.5 454.3 L148.4 455.8 L149.1 457.5 L149.6 459.4 L149.9 461.4 L150 463.5 L149.9 465.8 L149.5 468 L148.9 470.3 L148.1 472.5 L147.2 474.6 L146 476.7 L144.7 478.5 L143.3 480.2 L141.7 481.7 L140.1 483 L138.4 484 L136.7 484.7 L135 485.1 L133.4 485.3 L131.8 485.1 L130.3 484.7 L128.9 484 L127.6 483 L126.5 481.7 L125.6 480.2 L124.9 478.5 L124.4 476.6 L124.1 474.6 L124 472.5 L124.1 470.2 L124.5 468 L125.1 465.7 L125.9 463.5 L126.8 461.4 L128 459.3 L129.3 457.5 L130.7 455.8 L132.3 454.3 L133.9 453 L135.6 452 L137.3 451.3 L139 450.9 L140.6 450.7 L142.2 450.9Z" fill="#fff" stroke="#000" stroke-width="1.7" />
<clipPath id="c18"><path d="M141.1 457.8 L141.9 458.2 L142.7 458.8 L143.3 459.6 L143.8 460.5 L144.2 461.5 L144.5 462.6 L144.7 463.9 L144.7 465.2 L144.6 466.5 L144.3 467.9 L144 469.3 L143.5 470.6 L142.9 471.9 L142.2 473.2 L141.4 474.3 L140.6 475.4 L139.6 476.3 L138.7 477.1 L137.7 477.7 L136.7 478.1 L135.7 478.4 L134.7 478.5 L133.8 478.5 L132.9 478.2 L132.1 477.8 L131.3 477.2 L130.7 476.4 L130.2 475.5 L129.8 474.5 L129.5 473.4 L129.3 472.1 L129.3 470.8 L129.4 469.5 L129.7 468.1 L130 466.7 L130.5 465.4 L131.1 464.1 L131.8 462.8 L132.6 461.7 L133.4 460.6 L134.4 459.7 L135.3 458.9 L136.3 458.3 L137.3 457.9 L138.3 457.6 L139.3 457.5 L140.2 457.5Z"/></clipPath>
<path d="M141.1 457.8 L141.9 458.2 L142.7 458.8 L143.3 459.6 L143.8 460.5 L144.2 461.5 L144.5 462.6 L144.7 463.9 L144.7 465.2 L144.6 466.5 L144.3 467.9 L144 469.3 L143.5 470.6 L142.9 471.9 L142.2 473.2 L141.4 474.3 L140.6 475.4 L139.6 476.3 L138.7 477.1 L137.7 477.7 L136.7 478.1 L135.7 478.4 L134.7 478.5 L133.8 478.5 L132.9 478.2 L132.1 477.8 L131.3 477.2 L130.7 476.4 L130.2 475.5 L129.8 474.5 L129.5 473.4 L129.3 472.1 L129.3 470.8 L129.4 469.5 L129.7 468.1 L130 466.7 L130.5 465.4 L131.1 464.1 L131.8 462.8 L132.6 461.7 L133.4 460.6 L134.4 459.7 L135.3 458.9 L136.3 458.3 L137.3 457.9 L138.3 457.6 L139.3 457.5 L140.2 457.5Z" fill="#000" stroke="#000" stroke-width="1.7" />
<g clip-path="url(#c18)"><path d="M138.9 456.9 L139.7 457.3 L140.4 457.9 L141.1 458.7 L141.6 459.6 L142 460.6 L142.3 461.7 L142.4 463 L142.5 464.3 L142.3 465.6 L142.1 467 L141.7 468.4 L141.3 469.7 L140.7 471 L140 472.3 L139.2 473.4 L138.3 474.5 L137.4 475.4 L136.5 476.2 L135.5 476.8 L134.5 477.2 L133.5 477.5 L132.5 477.6 L131.5 477.6 L130.7 477.3 L129.8 476.9 L129.1 476.3 L128.5 475.5 L128 474.6 L127.6 473.6 L127.3 472.5 L127.1 471.2 L127.1 469.9 L127.2 468.6 L127.4 467.2 L127.8 465.8 L128.3 464.5 L128.9 463.2 L129.6 461.9 L130.4 460.8 L131.2 459.7 L132.1 458.8 L133.1 458 L134.1 457.4 L135.1 457 L136.1 456.7 L137.1 456.6 L138 456.6Z" fill="#fff" stroke="#000" stroke-width="1.36" /></g>
<path d="M204.1 486 L202.7 486.9 L201.3 487.7 L199.9 488.4 L198.8 489.1 L198 489.8 L197.6 490.5 L197.6 491.3 L198 492.2 L198.8 493.2 L199.8 494.3 L200.9 495.6 L202.1 496.9 L203 498.2 L203.7 499.6 L204.1 500.8 L204 501.9 L203.5 502.7 L202.5 503.3 L201.3 503.7 L199.8 503.9 L198.2 503.9 L196.6 503.8 L195.1 503.7 L193.8 503.6 L192.8 503.8 L192.1 504.2 L191.8 504.9 L191.8 505.9 L192 507.1 L192.4 508.7 L192.8 510.4 L193.2 512.2 L193.4 513.9 L193.4 515.4 L193.1 516.7 L192.6 517.5 L191.7 518 L190.7 518 L189.4 517.7 L188 517 L186.7 516.1 L185.3 515.1 L184 514.1 L183 513.4 L182 513 L181.3 513 L180.7 513.4 L180.2 514.2 L179.8 515.5 L179.5 517 L179 518.7 L178.6 520.5 L178 522.1 L177.3 523.4 L176.5 524.3 L175.7 524.8 L174.7 524.7 L173.8 524.1 L172.9 523.1 L172 521.8 L171.2 520.2 L170.5 518.6 L169.8 517.1 L169.2 515.8 L168.6 515 L167.9 514.5 L167.3 514.5 L166.5 515 L165.6 515.9 L164.5 517 L163.4 518.3 L162.2 519.5 L161 520.6 L159.8 521.3 L158.7 521.7 L157.8 521.6 L157 521 L156.4 520 L156.1 518.6 L156 517 L156 515.2 L156 513.4 L156.1 511.7 L156.2 510.3 L156 509.2 L155.7 508.4 L155.1 508.1 L154.2 508 L153 508.3 L151.6 508.7 L150.1 509.2 L148.5 509.6 L147 509.8 L145.6 509.8 L144.5 509.5 L143.7 508.9 L143.3 508 L143.3 506.8 L143.6 505.4 L144.2 503.9 L145 502.3 L145.9 500.8 L146.7 499.4 L147.4 498.2 L147.8 497.2 L147.8 496.3 L147.4 495.7 L146.7 495.2 L145.6 494.7 L144.2 494.3 L142.6 493.9 L141.1 493.3 L139.6 492.7 L138.4 491.9 L137.6 491 L137.2 490.1 L137.3 489 L137.8 488 L138.7 487 L139.9 486 L141.3 485.1 L142.7 484.3 L144.1 483.6 L145.2 482.9 L146 482.2 L146.4 481.5 L146.4 480.7 L146 479.8 L145.2 478.8 L144.2 477.7 L143.1 476.4 L141.9 475.1 L141 473.8 L140.3 472.4 L139.9 471.2 L140 470.1 L140.5 469.3 L141.5 468.7 L142.7 468.3 L144.2 468.1 L145.8 468.1 L147.4 468.2 L148.9 468.3 L150.2 468.4 L151.2 468.2 L151.9 467.8 L152.2 467.1 L152.2 466.1 L152 464.9 L151.6 463.3 L151.2 461.6 L150.8 459.8 L150.6 458.1 L150.6 456.6 L150.9 455.3 L151.4 454.5 L152.3 454 L153.3 454 L154.6 454.3 L156 455 L157.3 455.9 L158.7 456.9 L160 457.9 L161 458.6 L162 459 L162.7 459 L163.3 458.6 L163.8 457.8 L164.2 456.5 L164.5 455 L165 453.3 L165.4 451.5 L166 449.9 L166.7 448.6 L167.5 447.7 L168.3 447.2 L169.3 447.3 L170.2 447.9 L171.1 448.9 L172 450.2 L172.8 451.8 L173.5 453.4 L174.2 454.9 L174.8 456.2 L175.4 457 L176.1 457.5 L176.7 457.5 L177.5 457 L178.4 456.1 L179.5 455 L180.6 453.7 L181.8 452.5 L183 451.4 L184.2 450.7 L185.3 450.3 L186.2 450.4 L187 451 L187.6 452 L187.9 453.4 L188 455 L188 456.8 L188 458.6 L187.9 460.3 L187.8 461.7 L188 462.8 L188.3 463.6 L188.9 463.9 L189.8 464 L191 463.7 L192.4 463.3 L193.9 462.8 L195.5 462.4 L197 462.2 L198.4 462.2 L199.5 462.5 L200.3 463.1 L200.7 464 L200.7 465.2 L200.4 466.6 L199.8 468.1 L199 469.7 L198.1 471.2 L197.3 472.6 L196.6 473.8 L196.2 474.8 L196.2 475.7 L196.6 476.3 L197.3 476.8 L198.4 477.3 L199.8 477.7 L201.4 478.1 L202.9 478.7 L204.4 479.3 L205.6 480.1 L206.4 481 L206.8 481.9 L206.7 483 L206.2 484 L205.3 485Z" fill="#fff" stroke="#000" stroke-width="1.8" />
<path d="M208.1 488 L206.7 488.9 L205.3 489.7 L203.9 490.4 L202.8 491.1 L202 491.8 L201.6 492.5 L201.6 493.3 L202 494.2 L202.8 495.2 L203.8 496.3 L204.9 497.6 L206.1 498.9 L207 500.2 L207.7 501.6 L208.1 502.8 L208 503.9 L207.5 504.7 L206.5 505.3 L205.3 505.7 L203.8 505.9 L202.2 505.9 L200.6 505.8 L199.1 505.7 L197.8 505.6 L196.8 505.8 L196.1 506.2 L195.8 506.9 L195.8 507.9 L196 509.1 L196.4 510.7 L196.8 512.4 L197.2 514.2 L197.4 515.9 L197.4 517.4 L197.1 518.7 L196.6 519.5 L195.7 520 L194.7 520 L193.4 519.7 L192 519 L190.7 518.1 L189.3 517.1 L188 516.1 L187 515.4 L186 515 L185.3 515 L184.7 515.4 L184.2 516.2 L183.8 517.5 L183.5 519 L183 520.7 L182.6 522.5 L182 524.1 L181.3 525.4 L180.5 526.3 L179.7 526.8 L178.7 526.7 L177.8 526.1 L176.9 525.1 L176 523.8 L175.2 522.2 L174.5 520.6 L173.8 519.1 L173.2 517.8 L172.6 517 L171.9 516.5 L171.3 516.5 L170.5 517 L169.6 517.9 L168.5 519 L167.4 520.3 L166.2 521.5 L165 522.6 L163.8 523.3 L162.7 523.7 L161.8 523.6 L161 523 L160.4 522 L160.1 520.6 L160 519 L160 517.2 L160 515.4 L160.1 513.7 L160.2 512.3 L160 511.2 L159.7 510.4 L159.1 510.1 L158.2 510 L157 510.3 L155.6 510.7 L154.1 511.2 L152.5 511.6 L151 511.8 L149.6 511.8 L148.5 511.5 L147.7 510.9 L147.3 510 L147.3 508.8 L147.6 507.4 L148.2 505.9 L149 504.3 L149.9 502.8 L150.7 501.4 L151.4 500.2 L151.8 499.2 L151.8 498.3 L151.4 497.7 L150.7 497.2 L149.6 496.7 L148.2 496.3 L146.6 495.9 L145.1 495.3 L143.6 494.7 L142.4 493.9 L141.6 493 L141.2 492.1 L141.3 491 L141.8 490 L142.7 489 L143.9 488 L145.3 487.1 L146.7 486.3 L148.1 485.6 L149.2 484.9 L150 484.2 L150.4 483.5 L150.4 482.7 L150 481.8 L149.2 480.8 L148.2 479.7 L147.1 478.4 L145.9 477.1 L145 475.8 L144.3 474.4 L143.9 473.2 L144 472.1 L144.5 471.3 L145.5 470.7 L146.7 470.3 L148.2 470.1 L149.8 470.1 L151.4 470.2 L152.9 470.3 L154.2 470.4 L155.2 470.2 L155.9 469.8 L156.2 469.1 L156.2 468.1 L156 466.9 L155.6 465.3 L155.2 463.6 L154.8 461.8 L154.6 460.1 L154.6 458.6 L154.9 457.3 L155.4 456.5 L156.3 456 L157.3 456 L158.6 456.3 L160 457 L161.3 457.9 L162.7 458.9 L164 459.9 L165 460.6 L166 461 L166.7 461 L167.3 460.6 L167.8 459.8 L168.2 458.5 L168.5 457 L169 455.3 L169.4 453.5 L170 451.9 L170.7 450.6 L171.5 449.7 L172.3 449.2 L173.3 449.3 L174.2 449.9 L175.1 450.9 L176 452.2 L176.8 453.8 L177.5 455.4 L178.2 456.9 L178.8 458.2 L179.4 459 L180.1 459.5 L180.7 459.5 L181.5 459 L182.4 458.1 L183.5 457 L184.6 455.7 L185.8 454.5 L187 453.4 L188.2 452.7 L189.3 452.3 L190.2 452.4 L191 453 L191.6 454 L191.9 455.4 L192 457 L192 458.8 L192 460.6 L191.9 462.3 L191.8 463.7 L192 464.8 L192.3 465.6 L192.9 465.9 L193.8 466 L195 465.7 L196.4 465.3 L197.9 464.8 L199.5 464.4 L201 464.2 L202.4 464.2 L203.5 464.5 L204.3 465.1 L204.7 466 L204.7 467.2 L204.4 468.6 L203.8 470.1 L203 471.7 L202.1 473.2 L201.3 474.6 L200.6 475.8 L200.2 476.8 L200.2 477.7 L200.6 478.3 L201.3 478.8 L202.4 479.3 L203.8 479.7 L205.4 480.1 L206.9 480.7 L208.4 481.3 L209.6 482.1 L210.4 483 L210.8 483.9 L210.7 485 L210.2 486 L209.3 487Z" fill="#fff" stroke="#000" stroke-width="1.9" />
<clipPath id="pc38"><path d="M202 488 L201.8 492.2 L201 496.3 L199.9 500.2 L198.2 504 L196.2 507.5 L193.8 510.6 L191 513.4 L188 515.7 L184.7 517.6 L181.2 518.9 L177.7 519.7 L174 520 L170.3 519.7 L166.8 518.9 L163.3 517.6 L160 515.7 L157 513.4 L154.2 510.6 L151.8 507.5 L149.8 504 L148.1 500.2 L147 496.3 L146.2 492.2 L146 488 L146.2 483.8 L147 479.7 L148.1 475.8 L149.8 472 L151.8 468.5 L154.2 465.4 L157 462.6 L160 460.3 L163.3 458.4 L166.8 457.1 L170.3 456.3 L174 456 L177.7 456.3 L181.2 457.1 L184.7 458.4 L188 460.3 L191 462.6 L193.8 465.4 L196.2 468.5 L198.2 472 L199.9 475.8 L201 479.7 L201.8 483.8Z"/></clipPath><g clip-path="url(#pc38)"><path d="M140 467L210 464M140 473L210 470M140 479L210 476M140 485L210 482M140 491L210 488M140 497L210 494M140 503L210 500M140 509L210 506M140 515L210 512M140 521L210 518" stroke="#000" stroke-width="1.5" fill="none"/></g>
<path d="M185 489 L184.9 490.2 L184.7 491.4 L184.2 492.6 L183.7 493.6 L182.9 494.7 L182.1 495.6 L181.1 496.4 L180 497.1 L178.8 497.6 L177.6 498 L176.3 498.2 L175 498.3 L173.7 498.2 L172.4 498 L171.2 497.6 L170 497.1 L168.9 496.4 L167.9 495.6 L167.1 494.7 L166.3 493.6 L165.8 492.6 L165.3 491.4 L165.1 490.2 L165 489 L165.1 487.8 L165.3 486.6 L165.8 485.4 L166.3 484.4 L167.1 483.3 L167.9 482.4 L168.9 481.6 L170 480.9 L171.2 480.4 L172.4 480 L173.7 479.8 L175 479.7 L176.3 479.8 L177.6 480 L178.8 480.4 L180 480.9 L181.1 481.6 L182.1 482.4 L182.9 483.3 L183.7 484.4 L184.2 485.4 L184.7 486.6 L184.9 487.8Z" fill="#fff" stroke="#000" stroke-width="3" />
<path d="M170 482 L181 480 L182 484 L171 486Z" fill="#000" stroke="#000" stroke-width="0.8" />
<path d="M170 490 Q176 496 181 489" fill="none" stroke="#000" stroke-width="1.8" />
<path d="M180.7 508.7 L180.8 506 L181.1 503.3 L181.8 500.6 L182.7 497.9 L183.9 495.3 L185.4 492.8 L187.1 490.5 L189 488.4 L191.1 486.6 L193.3 485.1 L195.6 483.9 L198 483 L200.4 482.4 L202.7 482.2 L205 482.4 L207.2 482.9 L209.3 483.8 L216.3 487.6 L218.2 488.8 L219.9 490.3 L221.3 492.1 L222.4 494.2 L223.3 496.4 L223.9 498.9 L224.2 501.5 L224.2 504.2 L223.8 506.9 L223.2 509.7 L222.2 512.4 L221 515 L219.5 517.4 L217.8 519.7 L215.9 521.8 L213.8 523.6 L211.6 525.2 L209.3 526.4 L206.9 527.3 L204.6 527.8 L202.2 528 L199.9 527.8 L197.7 527.3 L195.7 526.4 L188.6 522.7 L186.7 521.5 L185.1 519.9 L183.7 518.1 L182.5 516.1 L181.6 513.8 L181 511.3Z" fill="#fff" stroke="#000" stroke-width="1.7" />
<path d="M216.3 487.6 L218.2 488.8 L219.9 490.3 L221.3 492.1 L222.4 494.2 L223.3 496.4 L223.9 498.9 L224.2 501.5 L224.2 504.2 L223.8 506.9 L223.2 509.7 L222.2 512.4 L221 515 L219.5 517.4 L217.8 519.7 L215.9 521.8 L213.8 523.6 L211.6 525.2 L209.3 526.4 L206.9 527.3 L204.6 527.8 L202.2 528 L199.9 527.8 L197.7 527.3 L195.7 526.4 L193.8 525.2 L192.1 523.7 L190.7 521.9 L189.6 519.8 L188.7 517.6 L188.1 515.1 L187.8 512.5 L187.8 509.8 L188.2 507.1 L188.8 504.3 L189.8 501.6 L191 499 L192.5 496.6 L194.2 494.3 L196.1 492.2 L198.2 490.4 L200.4 488.8 L202.7 487.6 L205.1 486.7 L207.4 486.2 L209.8 486 L212.1 486.2 L214.3 486.7Z" fill="#fff" stroke="#000" stroke-width="1.7" />
<path d="M216.3 487.6 L218.2 488.8 L219.9 490.3 L221.3 492.1 L222.4 494.2 L223.3 496.4 L223.9 498.9 L224.2 501.5 L224.2 504.2 L223.8 506.9 L223.2 509.7 L222.2 512.4 L221 515 L219.5 517.4 L217.8 519.7 L215.9 521.8 L213.8 523.6 L211.6 525.2 L209.3 526.4 L206.9 527.3 L204.6 527.8 L202.2 528 L199.9 527.8 L197.7 527.3 L195.7 526.4 L193.8 525.2 L192.1 523.7 L190.7 521.9 L189.6 519.8 L188.7 517.6 L188.1 515.1 L187.8 512.5 L187.8 509.8 L188.2 507.1 L188.8 504.3 L189.8 501.6 L191 499 L192.5 496.6 L194.2 494.3 L196.1 492.2 L198.2 490.4 L200.4 488.8 L202.7 487.6 L205.1 486.7 L207.4 486.2 L209.8 486 L212.1 486.2 L214.3 486.7Z" fill="url(#dotR)" stroke="#000" stroke-width="1.6" />
<path d="M207.8 498.9 L208.5 499.4 L209.2 500 L209.8 500.7 L210.3 501.5 L210.7 502.4 L211 503.3 L211.2 504.3 L211.2 505.3 L211.1 506.3 L210.9 507.3 L210.6 508.3 L210.2 509.3 L209.6 510.2 L209 511 L208.3 511.7 L207.5 512.4 L206.6 512.9 L205.7 513.3 L204.8 513.6 L203.8 513.8 L202.9 513.8 L202 513.7 L201.1 513.4 L200.2 513.1 L199.5 512.6 L198.8 512 L198.2 511.3 L197.7 510.5 L197.3 509.6 L197 508.7 L196.8 507.7 L196.8 506.7 L196.9 505.7 L197.1 504.7 L197.4 503.7 L197.8 502.7 L198.4 501.8 L199 501 L199.7 500.3 L200.5 499.6 L201.4 499.1 L202.3 498.7 L203.2 498.4 L204.2 498.2 L205.1 498.2 L206 498.3 L206.9 498.6Z" fill="#fff" stroke="#000" stroke-width="1.6" />
<path d="M209.4 531.5 L209.5 527.7 L210.1 523.9 L211 520 L212.4 516.2 L214.1 512.6 L216.2 509.1 L218.6 505.9 L221.2 502.9 L224.1 500.3 L227.2 498.1 L230.3 496.4 L233.6 495.1 L236.9 494.3 L240.1 493.9 L243.2 494.1 L246.2 494.8 L249 496 L259.6 501.6 L262.1 503.3 L264.3 505.4 L266.2 507.8 L267.8 510.7 L268.9 513.9 L269.7 517.3 L270 520.9 L269.9 524.7 L269.3 528.5 L268.4 532.3 L267 536.1 L265.3 539.8 L263.2 543.3 L260.8 546.5 L258.2 549.5 L255.3 552 L252.3 554.2 L249.1 556 L245.8 557.3 L242.6 558.1 L239.3 558.4 L236.2 558.2 L233.2 557.5 L230.4 556.4 L219.9 550.7 L217.3 549.1 L215.1 547 L213.2 544.5 L211.6 541.7 L210.5 538.5 L209.8 535.1Z" fill="#fff" stroke="#000" stroke-width="1.8" />
<clipPath id="pc39"><path d="M209.4 531.5 L209.5 527.7 L210.1 523.9 L211 520 L212.4 516.2 L214.1 512.6 L216.2 509.1 L218.6 505.9 L221.2 502.9 L224.1 500.3 L227.2 498.1 L230.3 496.4 L233.6 495.1 L236.9 494.3 L240.1 493.9 L243.2 494.1 L246.2 494.8 L249 496 L259.6 501.6 L262.1 503.3 L264.3 505.4 L266.2 507.8 L267.8 510.7 L268.9 513.9 L269.7 517.3 L270 520.9 L269.9 524.7 L269.3 528.5 L268.4 532.3 L267 536.1 L265.3 539.8 L263.2 543.3 L260.8 546.5 L258.2 549.5 L255.3 552 L252.3 554.2 L249.1 556 L245.8 557.3 L242.6 558.1 L239.3 558.4 L236.2 558.2 L233.2 557.5 L230.4 556.4 L219.9 550.7 L217.3 549.1 L215.1 547 L213.2 544.5 L211.6 541.7 L210.5 538.5 L209.8 535.1Z"/></clipPath><g clip-path="url(#pc39)"><path d="M228.4 555.1 L226.5 553.5 L224.9 551.7 L223.4 549.6 L222.2 547.3 L221.3 544.8 L220.6 542.1 L220.2 539.3 L220 536.4 L220.1 533.3 L220.5 530.3 L221.2 527.2 L222.1 524.1 L223.3 521.1 L224.7 518.2 L226.3 515.4 L215.7 509.8 L214.1 512.6 L212.7 515.5 L211.5 518.5 L210.6 521.6 L209.9 524.6 L209.5 527.7 L209.4 530.7 L209.6 533.7 L210 536.5 L210.7 539.2 L211.6 541.7 L212.8 544 L214.3 546.1 L215.9 547.9 L217.8 549.5Z" fill="#000" stroke="#000" stroke-width="1" /></g>
<clipPath id="pc40"><path d="M209.4 531.5 L209.5 527.7 L210.1 523.9 L211 520 L212.4 516.2 L214.1 512.6 L216.2 509.1 L218.6 505.9 L221.2 502.9 L224.1 500.3 L227.2 498.1 L230.3 496.4 L233.6 495.1 L236.9 494.3 L240.1 493.9 L243.2 494.1 L246.2 494.8 L249 496 L259.6 501.6 L262.1 503.3 L264.3 505.4 L266.2 507.8 L267.8 510.7 L268.9 513.9 L269.7 517.3 L270 520.9 L269.9 524.7 L269.3 528.5 L268.4 532.3 L267 536.1 L265.3 539.8 L263.2 543.3 L260.8 546.5 L258.2 549.5 L255.3 552 L252.3 554.2 L249.1 556 L245.8 557.3 L242.6 558.1 L239.3 558.4 L236.2 558.2 L233.2 557.5 L230.4 556.4 L219.9 550.7 L217.3 549.1 L215.1 547 L213.2 544.5 L211.6 541.7 L210.5 538.5 L209.8 535.1Z"/></clipPath><g clip-path="url(#pc40)"><path d="M216.9 544.5 L216 542 L215.3 539.3 L214.9 536.5 L214.7 533.5 L214.8 530.5 L215.2 527.5 L215.9 524.4" fill="none" stroke="#fff" stroke-width="2.0" /></g>
<path d="M259.6 501.6 L262.1 503.3 L264.3 505.4 L266.2 507.8 L267.8 510.7 L268.9 513.9 L269.7 517.3 L270 520.9 L269.9 524.7 L269.3 528.5 L268.4 532.3 L267 536.1 L265.3 539.8 L263.2 543.3 L260.8 546.5 L258.2 549.5 L255.3 552 L252.3 554.2 L249.1 556 L245.8 557.3 L242.6 558.1 L239.3 558.4 L236.2 558.2 L233.2 557.5 L230.4 556.4 L227.9 554.7 L225.7 552.6 L223.8 550.2 L222.2 547.3 L221.1 544.1 L220.3 540.7 L220 537.1 L220.1 533.3 L220.7 529.5 L221.6 525.7 L223 521.9 L224.7 518.2 L226.8 514.7 L229.2 511.5 L231.8 508.5 L234.7 506 L237.7 503.8 L240.9 502 L244.2 500.7 L247.4 499.9 L250.7 499.6 L253.8 499.8 L256.8 500.5Z" fill="#fff" stroke="#000" stroke-width="1.8" />
<path d="M256.6 507.1 L258.7 508.4 L260.5 510.1 L262 512.1 L263.2 514.4 L264.1 516.9 L264.7 519.6 L265 522.5 L264.9 525.5 L264.5 528.6 L263.7 531.7 L262.6 534.7 L261.2 537.6 L259.6 540.4 L257.7 543 L255.6 545.4 L253.2 547.4 L250.8 549.2 L248.3 550.6 L245.7 551.6 L243 552.3 L240.5 552.5 L238 552.4 L235.6 551.8 L233.4 550.9 L231.3 549.6 L229.5 547.9 L228 545.9 L226.8 543.6 L225.9 541.1 L225.3 538.4 L225 535.5 L225.1 532.5 L225.5 529.4 L226.3 526.3 L227.4 523.3 L228.8 520.4 L230.4 517.6 L232.3 515 L234.4 512.6 L236.8 510.6 L239.2 508.8 L241.7 507.4 L244.3 506.4 L247 505.7 L249.5 505.5 L252 505.6 L254.4 506.2Z" fill="#222" stroke="#000" stroke-width="1.2" />
<circle cx="255.4" cy="509.4" r="1.7" fill="#fff"/>
<circle cx="261.9" cy="517.7" r="1.7" fill="#fff"/>
<circle cx="261.9" cy="530.3" r="1.7" fill="#fff"/>
<circle cx="255.5" cy="542.3" r="1.7" fill="#fff"/>
<circle cx="245.1" cy="549.3" r="1.7" fill="#fff"/>
<circle cx="234.6" cy="548.6" r="1.7" fill="#fff"/>
<circle cx="228.1" cy="540.3" r="1.7" fill="#fff"/>
<circle cx="228.1" cy="527.7" r="1.7" fill="#fff"/>
<circle cx="234.5" cy="515.7" r="1.7" fill="#fff"/>
<circle cx="244.9" cy="508.7" r="1.7" fill="#fff"/>
<path d="M254.2 511.8 L255.7 512.8 L257.1 514.1 L258.3 515.7 L259.2 517.4 L259.9 519.4 L260.4 521.6 L260.6 523.8 L260.5 526.2 L260.2 528.6 L259.6 531 L258.7 533.4 L257.6 535.7 L256.3 537.9 L254.8 539.9 L253.2 541.8 L251.4 543.4 L249.4 544.8 L247.5 545.9 L245.4 546.7 L243.4 547.3 L241.4 547.5 L239.4 547.4 L237.6 546.9 L235.8 546.2 L234.3 545.2 L232.9 543.9 L231.7 542.3 L230.8 540.6 L230.1 538.6 L229.6 536.4 L229.4 534.2 L229.5 531.8 L229.8 529.4 L230.4 527 L231.3 524.6 L232.4 522.3 L233.7 520.1 L235.2 518.1 L236.8 516.2 L238.6 514.6 L240.6 513.2 L242.5 512.1 L244.6 511.3 L246.6 510.7 L248.6 510.5 L250.6 510.6 L252.4 511.1Z" fill="#fff" stroke="#000" stroke-width="1.5" />
<path d="M252 515.8 L253.2 516.5 L254.3 517.5 L255.2 518.7 L256 520.1 L256.5 521.6 L256.8 523.3 L257 525 L256.9 526.9 L256.7 528.7 L256.2 530.6 L255.5 532.4 L254.7 534.2 L253.7 535.8 L252.6 537.4 L251.3 538.8 L249.9 540.1 L248.4 541.2 L246.9 542 L245.3 542.7 L243.8 543.1 L242.2 543.2 L240.7 543.1 L239.3 542.8 L238 542.2 L236.8 541.5 L235.7 540.5 L234.8 539.3 L234 537.9 L233.5 536.4 L233.2 534.7 L233 533 L233.1 531.1 L233.3 529.3 L233.8 527.4 L234.5 525.6 L235.3 523.8 L236.3 522.2 L237.4 520.6 L238.7 519.2 L240.1 517.9 L241.6 516.8 L243.1 516 L244.7 515.3 L246.2 514.9 L247.8 514.8 L249.3 514.9 L250.7 515.2Z" fill="#fff" stroke="#000" stroke-width="1.8" />
<clipPath id="pc41"><path d="M252 515.8 L253.2 516.5 L254.3 517.5 L255.2 518.7 L256 520.1 L256.5 521.6 L256.8 523.3 L257 525 L256.9 526.9 L256.7 528.7 L256.2 530.6 L255.5 532.4 L254.7 534.2 L253.7 535.8 L252.6 537.4 L251.3 538.8 L249.9 540.1 L248.4 541.2 L246.9 542 L245.3 542.7 L243.8 543.1 L242.2 543.2 L240.7 543.1 L239.3 542.8 L238 542.2 L236.8 541.5 L235.7 540.5 L234.8 539.3 L234 537.9 L233.5 536.4 L233.2 534.7 L233 533 L233.1 531.1 L233.3 529.3 L233.8 527.4 L234.5 525.6 L235.3 523.8 L236.3 522.2 L237.4 520.6 L238.7 519.2 L240.1 517.9 L241.6 516.8 L243.1 516 L244.7 515.3 L246.2 514.9 L247.8 514.8 L249.3 514.9 L250.7 515.2Z"/></clipPath><g clip-path="url(#pc41)"><path d="M242.5 510.7 L243.7 511.5 L244.8 512.5 L245.7 513.7 L246.4 515 L247 516.6 L247.3 518.2 L247.5 520 L247.4 521.8 L247.1 523.6 L246.7 525.5 L246 527.3 L245.2 529.1 L244.2 530.8 L243 532.3 L241.7 533.8 L240.4 535 L238.9 536.1 L237.4 536.9 L235.8 537.6 L234.2 538 L232.7 538.1 L231.2 538.1 L229.8 537.7 L228.4 537.2 L227.2 536.4 L226.1 535.4 L225.2 534.2 L224.5 532.8 L224 531.3 L223.6 529.6 L223.5 527.9 L223.5 526.1 L223.8 524.2 L224.3 522.4 L224.9 520.5 L225.8 518.8 L226.8 517.1 L227.9 515.5 L229.2 514.1 L230.6 512.8 L232 511.8 L233.6 510.9 L235.1 510.3 L236.7 509.9 L238.3 509.7 L239.8 509.8 L241.2 510.1Z" fill="none" stroke="#000" stroke-width="1.8" /></g>
<path d="M255.8 550.4 L255.9 548 L256.2 545.6 L256.7 543.1 L257.5 540.7 L258.5 538.2 L259.7 535.9 L261.1 533.7 L262.6 531.7 L264.3 529.9 L266.1 528.3 L267.9 527 L269.8 526 L271.7 525.3 L273.6 524.9 L275.4 524.8 L277.1 525 L278.7 525.6 L281.5 526.9 L282.9 527.7 L284.2 528.9 L285.3 530.4 L286.2 532 L286.9 534 L287.3 536.1 L287.5 538.3 L287.4 540.7 L287.1 543.1 L286.6 545.6 L285.8 548.1 L284.8 550.5 L283.6 552.8 L282.2 555 L280.7 557 L279 558.8 L277.2 560.4 L275.4 561.7 L273.5 562.7 L271.6 563.4 L269.7 563.8 L267.9 563.9 L266.2 563.7 L264.5 563.1 L261.8 561.9 L260.4 561 L259.1 559.8 L258 558.4 L257.1 556.7 L256.4 554.8 L256 552.7Z" fill="#000" stroke="#000" stroke-width="1.7" />
<path d="M281.5 526.9 L282.9 527.7 L284.2 528.9 L285.3 530.4 L286.2 532 L286.9 534 L287.3 536.1 L287.5 538.3 L287.4 540.7 L287.1 543.1 L286.6 545.6 L285.8 548.1 L284.8 550.5 L283.6 552.8 L282.2 555 L280.7 557 L279 558.8 L277.2 560.4 L275.4 561.7 L273.5 562.7 L271.6 563.4 L269.7 563.8 L267.9 563.9 L266.2 563.7 L264.5 563.1 L263.1 562.3 L261.8 561.1 L260.7 559.6 L259.8 558 L259.1 556 L258.7 553.9 L258.5 551.7 L258.6 549.3 L258.9 546.9 L259.4 544.4 L260.2 541.9 L261.2 539.5 L262.4 537.2 L263.8 535 L265.3 533 L267 531.2 L268.8 529.6 L270.6 528.3 L272.5 527.3 L274.4 526.6 L276.3 526.2 L278.1 526.1 L279.8 526.3Z" fill="#fff" stroke="#000" stroke-width="1.7" />
<clipPath id="c19"><path d="M278.1 534.1 L278.9 534.6 L279.5 535.3 L280.1 536.1 L280.6 537.1 L280.9 538.2 L281.1 539.4 L281.1 540.7 L281 542.1 L280.8 543.6 L280.4 545 L280 546.5 L279.3 548 L278.6 549.4 L277.8 550.7 L276.9 551.9 L276 553 L274.9 554 L273.9 554.8 L272.8 555.4 L271.8 555.9 L270.7 556.2 L269.7 556.3 L268.8 556.2 L267.9 555.9 L267.1 555.4 L266.5 554.7 L265.9 553.9 L265.4 552.9 L265.1 551.8 L264.9 550.6 L264.9 549.3 L265 547.9 L265.2 546.4 L265.6 545 L266 543.5 L266.7 542 L267.4 540.6 L268.2 539.3 L269.1 538.1 L270 537 L271.1 536 L272.1 535.2 L273.2 534.6 L274.2 534.1 L275.3 533.8 L276.3 533.7 L277.2 533.8Z"/></clipPath>
<path d="M278.1 534.1 L278.9 534.6 L279.5 535.3 L280.1 536.1 L280.6 537.1 L280.9 538.2 L281.1 539.4 L281.1 540.7 L281 542.1 L280.8 543.6 L280.4 545 L280 546.5 L279.3 548 L278.6 549.4 L277.8 550.7 L276.9 551.9 L276 553 L274.9 554 L273.9 554.8 L272.8 555.4 L271.8 555.9 L270.7 556.2 L269.7 556.3 L268.8 556.2 L267.9 555.9 L267.1 555.4 L266.5 554.7 L265.9 553.9 L265.4 552.9 L265.1 551.8 L264.9 550.6 L264.9 549.3 L265 547.9 L265.2 546.4 L265.6 545 L266 543.5 L266.7 542 L267.4 540.6 L268.2 539.3 L269.1 538.1 L270 537 L271.1 536 L272.1 535.2 L273.2 534.6 L274.2 534.1 L275.3 533.8 L276.3 533.7 L277.2 533.8Z" fill="#000" stroke="#000" stroke-width="1.7" />
<g clip-path="url(#c19)"><path d="M275.9 533.1 L276.7 533.6 L277.4 534.2 L277.9 535.1 L278.4 536 L278.7 537.2 L278.9 538.4 L278.9 539.7 L278.9 541.1 L278.6 542.6 L278.3 544 L277.8 545.5 L277.2 546.9 L276.5 548.3 L275.6 549.7 L274.7 550.9 L273.8 552 L272.8 553 L271.7 553.8 L270.7 554.4 L269.6 554.9 L268.6 555.2 L267.6 555.3 L266.6 555.2 L265.8 554.9 L265 554.4 L264.3 553.7 L263.7 552.9 L263.3 551.9 L262.9 550.8 L262.8 549.6 L262.7 548.3 L262.8 546.9 L263 545.4 L263.4 543.9 L263.9 542.5 L264.5 541 L265.2 539.6 L266 538.3 L266.9 537.1 L267.9 536 L268.9 535 L269.9 534.2 L271 533.6 L272 533.1 L273.1 532.8 L274.1 532.7 L275 532.8Z" fill="#fff" stroke="#000" stroke-width="1.36" /></g>
<path d="M286 578 Q292 574 295 580 Q294 586 288 586 Q284 582 286 578Z" fill="#fff" stroke="#000" stroke-width="1.5" />
<rect x="852.5" y="372.5" width="17" height="7" rx="2.5" fill="#fff" stroke="#000" stroke-width="1.8" transform="rotate(-15 861 376)"/>
<rect x="897.5" y="400.0" width="7" height="14" rx="2.5" fill="#fff" stroke="#000" stroke-width="1.8" transform="rotate(-20 901 407)"/>
<rect x="816.5" y="511.5" width="15" height="7" rx="2.5" fill="#fff" stroke="#000" stroke-width="1.8" transform="rotate(-15 824 515)"/>
<rect x="782.0" y="473.5" width="6" height="13" rx="2.5" fill="#fff" stroke="#000" stroke-width="1.8" transform="rotate(-20 785 480)"/>
<path d="M778.2 460.5 L779.2 451.6 L781.1 442.6 L783.9 433.6 L787.7 424.8 L792.2 416.2 L797.5 408 L803.5 400.4 L810 393.6 L816.9 387.5 L824.2 382.4 L831.7 378.3 L839.2 375.3 L846.7 373.4 L853.9 372.7 L860.9 373.2 L867.4 374.9 L873.4 377.6 L879.5 381.2 L884.8 385.1 L889.4 390 L893.2 395.9 L896.1 402.6 L898.1 410 L899.1 418.1 L899.1 426.6 L898.2 435.4 L896.3 444.4 L893.4 453.4 L889.7 462.3 L885.1 470.9 L879.8 479 L873.9 486.6 L867.4 493.5 L860.4 499.5 L853.2 504.6 L845.7 508.7 L838.2 511.7 L830.7 513.6 L823.4 514.3 L816.5 513.8 L809.9 512.2 L803.9 509.4 L797.9 505.9 L792.6 502 L788 497 L784.2 491.2 L781.3 484.5 L779.3 477 L778.3 469Z" fill="#fff" stroke="#000" stroke-width="2.3" />
<path d="M879.5 381.2 L884.8 385.1 L889.4 390 L893.2 395.9 L896.1 402.6 L898.1 410 L899.1 418.1 L899.1 426.6 L898.2 435.4 L896.3 444.4 L893.4 453.4 L889.7 462.3 L885.1 470.9 L879.8 479 L873.9 486.6 L867.4 493.5 L860.4 499.5 L853.2 504.6 L845.7 508.7 L838.2 511.7 L830.7 513.6 L823.4 514.3 L816.5 513.8 L809.9 512.2 L803.9 509.4 L798.6 505.5 L794 500.6 L790.2 494.7 L787.3 488 L785.3 480.6 L784.3 472.5 L784.3 464 L785.2 455.2 L787.1 446.2 L790 437.2 L793.7 428.3 L798.3 419.7 L803.6 411.6 L809.5 404 L816 397.1 L823 391.1 L830.2 386 L837.7 381.9 L845.2 378.9 L852.7 377 L860 376.3 L866.9 376.8 L873.5 378.4Z" fill="#fff" stroke="#000" stroke-width="2.0" />
<path d="M877.7 386.8 L882.5 390.4 L886.7 394.9 L890.1 400.2 L892.6 406.4 L894.3 413.2 L895.2 420.6 L895.1 428.4 L894.2 436.6 L892.3 444.9 L889.6 453.2 L886.1 461.4 L881.9 469.4 L877 477 L871.5 484 L865.5 490.4 L859.1 496 L852.5 500.8 L845.7 504.7 L838.8 507.5 L832 509.3 L825.3 510.1 L819 509.7 L813.1 508.3 L807.7 505.8 L802.9 502.2 L798.7 497.7 L795.3 492.4 L792.8 486.2 L791.1 479.4 L790.2 472 L790.3 464.2 L791.2 456 L793.1 447.7 L795.8 439.4 L799.3 431.2 L803.5 423.2 L808.4 415.6 L813.9 408.6 L819.9 402.2 L826.3 396.6 L832.9 391.8 L839.7 387.9 L846.6 385.1 L853.4 383.3 L860.1 382.5 L866.4 382.9 L872.3 384.3Z" fill="none" stroke="#000" stroke-width="1.2" />
<path d="M886.9 400.4 L888 402.4 L889 404.6 L889.9 406.9 L890.6 409.2 L891.3 411.7 L891.8 414.2 L892.2 416.9 L892.5 419.6 L892.6 422.3 L892.6 425.2 L892.5 428 L892.3 431 L892 433.9 L891.5 436.9" fill="none" stroke="#000" stroke-width="1.1" />
<path d="M884.6 402.5 L885.6 404.4 L886.5 406.5 L887.4 408.6 L888.1 410.9 L888.7 413.2 L889.1 415.6 L889.5 418.1 L889.7 420.7 L889.9 423.3 L889.9 426 L889.8 428.7 L889.6 431.5 L889.2 434.3 L888.8 437.2" fill="none" stroke="#000" stroke-width="1.1" />
<path d="M882.3 404.6 L883.2 406.5 L884.1 408.4 L884.9 410.4 L885.5 412.5 L886.1 414.7 L886.5 417 L886.8 419.4 L887 421.8 L887.1 424.3 L887.1 426.8 L887 429.4 L886.8 432 L886.5 434.7 L886 437.4" fill="none" stroke="#000" stroke-width="1.1" />
<path d="M880 406.8 L880.9 408.5 L881.7 410.3 L882.4 412.2 L883 414.2 L883.5 416.3 L883.8 418.4 L884.1 420.6 L884.3 422.9 L884.4 425.3 L884.4 427.6 L884.3 430.1 L884 432.6 L883.7 435.1 L883.3 437.6" fill="none" stroke="#000" stroke-width="1.1" />
<path d="M877.7 408.9 L878.5 410.5 L879.2 412.2 L879.9 414 L880.4 415.9 L880.8 417.8 L881.2 419.8 L881.4 421.9 L881.6 424 L881.7 426.2 L881.6 428.5 L881.5 430.8 L881.3 433.1 L880.9 435.5 L880.5 437.8" fill="none" stroke="#000" stroke-width="1.1" />
<path d="M796 448 L801 446 M797 452 L805 450 M799 432 L803 438 L800 441 M795 470 L803 466 M797 476 L806 471" fill="none" stroke="#000" stroke-width="1.2" />
<path d="M872.7 411.1 L875.7 413.6 L878.1 416.7 L880.1 420.4 L881.5 424.5 L882.3 429 L882.5 433.9 L882.1 439 L881 444.3 L879.5 449.6 L877.3 455 L874.7 460.2 L871.5 465.2 L868 470 L864.1 474.3 L859.9 478.3 L855.5 481.7 L850.9 484.5 L846.3 486.8 L841.7 488.3 L837.1 489.2 L832.8 489.4 L828.7 488.9 L824.9 487.7 L821.5 485.9 L818.5 483.4 L816.1 480.3 L814.1 476.6 L812.7 472.5 L811.9 468 L811.7 463.1 L812.1 458 L813.2 452.7 L814.7 447.4 L816.9 442 L819.5 436.8 L822.7 431.8 L826.2 427 L830.1 422.7 L834.3 418.7 L838.7 415.3 L843.3 412.5 L847.9 410.2 L852.5 408.7 L857.1 407.8 L861.4 407.6 L865.5 408.1 L869.3 409.3Z" fill="#fff" stroke="#000" stroke-width="1.9" />
<clipPath id="pc42"><path d="M872.7 411.1 L875.7 413.6 L878.1 416.7 L880.1 420.4 L881.5 424.5 L882.3 429 L882.5 433.9 L882.1 439 L881 444.3 L879.5 449.6 L877.3 455 L874.7 460.2 L871.5 465.2 L868 470 L864.1 474.3 L859.9 478.3 L855.5 481.7 L850.9 484.5 L846.3 486.8 L841.7 488.3 L837.1 489.2 L832.8 489.4 L828.7 488.9 L824.9 487.7 L821.5 485.9 L818.5 483.4 L816.1 480.3 L814.1 476.6 L812.7 472.5 L811.9 468 L811.7 463.1 L812.1 458 L813.2 452.7 L814.7 447.4 L816.9 442 L819.5 436.8 L822.7 431.8 L826.2 427 L830.1 422.7 L834.3 418.7 L838.7 415.3 L843.3 412.5 L847.9 410.2 L852.5 408.7 L857.1 407.8 L861.4 407.6 L865.5 408.1 L869.3 409.3Z"/></clipPath><g clip-path="url(#pc42)"><path d="M886.7 339.7L955.9 488.1M881.7 342L950.9 490.4M876.7 344.4L945.9 492.7M871.7 346.7L940.9 495.1M866.8 349L936 497.4M861.8 351.3L931 499.7M856.8 353.7L926 502M851.8 356L921 504.4M846.8 358.3L916 506.7M841.8 360.6L911 509M836.8 363L906 511.3M831.9 365.3L901.1 513.7M826.9 367.6L896.1 516M821.9 369.9L891.1 518.3M816.9 372.3L886.1 520.6M811.9 374.6L881.1 523M806.9 376.9L876.1 525.3M802 379.2L871.2 527.6M797 381.5L866.2 529.9M792 383.9L861.2 532.3M787 386.2L856.2 534.6M782 388.5L851.2 536.9M777 390.8L846.2 539.2M772 393.2L841.2 541.6M767.1 395.5L836.3 543.9M762.1 397.8L831.3 546.2M757.1 400.1L826.3 548.5M752.1 402.5L821.3 550.9M747.1 404.8L816.3 553.2M742.1 407.1L811.3 555.5" stroke="#000" stroke-width="0.9" fill="none"/></g>
<path d="M832 432 L838 426 M834 437 L842 430 M858 420 L862 414 M861 425 L866 418 M872 430 L876 426 M874 438 L878 432 M867 462 L874 458 M862 468 L870 463 M841 470 L848 474 M838 476 L846 479 M822 452 L830 450 M823 458 L832 456 M825 464 L834 461" fill="none" stroke="#000" stroke-width="1.3" />
<clipPath id="pc43"><path d="M872.7 411.1 L875.7 413.6 L878.1 416.7 L880.1 420.4 L881.5 424.5 L882.3 429 L882.5 433.9 L882.1 439 L881 444.3 L879.5 449.6 L877.3 455 L874.7 460.2 L871.5 465.2 L868 470 L864.1 474.3 L859.9 478.3 L855.5 481.7 L850.9 484.5 L846.3 486.8 L841.7 488.3 L837.1 489.2 L832.8 489.4 L828.7 488.9 L824.9 487.7 L821.5 485.9 L818.5 483.4 L816.1 480.3 L814.1 476.6 L812.7 472.5 L811.9 468 L811.7 463.1 L812.1 458 L813.2 452.7 L814.7 447.4 L816.9 442 L819.5 436.8 L822.7 431.8 L826.2 427 L830.1 422.7 L834.3 418.7 L838.7 415.3 L843.3 412.5 L847.9 410.2 L852.5 408.7 L857.1 407.8 L861.4 407.6 L865.5 408.1 L869.3 409.3Z"/></clipPath><g clip-path="url(#pc43)"><path d="M854.7 443.6 L845.7 409.3 L840.3 410.7 L849.3 445Z" fill="#fff" stroke="#000" stroke-width="1.5" /></g>
<clipPath id="pc44"><path d="M872.7 411.1 L875.7 413.6 L878.1 416.7 L880.1 420.4 L881.5 424.5 L882.3 429 L882.5 433.9 L882.1 439 L881 444.3 L879.5 449.6 L877.3 455 L874.7 460.2 L871.5 465.2 L868 470 L864.1 474.3 L859.9 478.3 L855.5 481.7 L850.9 484.5 L846.3 486.8 L841.7 488.3 L837.1 489.2 L832.8 489.4 L828.7 488.9 L824.9 487.7 L821.5 485.9 L818.5 483.4 L816.1 480.3 L814.1 476.6 L812.7 472.5 L811.9 468 L811.7 463.1 L812.1 458 L813.2 452.7 L814.7 447.4 L816.9 442 L819.5 436.8 L822.7 431.8 L826.2 427 L830.1 422.7 L834.3 418.7 L838.7 415.3 L843.3 412.5 L847.9 410.2 L852.5 408.7 L857.1 407.8 L861.4 407.6 L865.5 408.1 L869.3 409.3Z"/></clipPath><g clip-path="url(#pc44)"><path d="M859.6 445.6 L872.6 413 L867.4 411 L854.4 443.5Z" fill="#fff" stroke="#000" stroke-width="1.5" /></g>
<clipPath id="pc45"><path d="M872.7 411.1 L875.7 413.6 L878.1 416.7 L880.1 420.4 L881.5 424.5 L882.3 429 L882.5 433.9 L882.1 439 L881 444.3 L879.5 449.6 L877.3 455 L874.7 460.2 L871.5 465.2 L868 470 L864.1 474.3 L859.9 478.3 L855.5 481.7 L850.9 484.5 L846.3 486.8 L841.7 488.3 L837.1 489.2 L832.8 489.4 L828.7 488.9 L824.9 487.7 L821.5 485.9 L818.5 483.4 L816.1 480.3 L814.1 476.6 L812.7 472.5 L811.9 468 L811.7 463.1 L812.1 458 L813.2 452.7 L814.7 447.4 L816.9 442 L819.5 436.8 L822.7 431.8 L826.2 427 L830.1 422.7 L834.3 418.7 L838.7 415.3 L843.3 412.5 L847.9 410.2 L852.5 408.7 L857.1 407.8 L861.4 407.6 L865.5 408.1 L869.3 409.3Z"/></clipPath><g clip-path="url(#pc45)"><path d="M862.2 454.2 L882.2 452.8 L881.8 447.2 L861.8 448.6Z" fill="#fff" stroke="#000" stroke-width="1.5" /></g>
<clipPath id="pc46"><path d="M872.7 411.1 L875.7 413.6 L878.1 416.7 L880.1 420.4 L881.5 424.5 L882.3 429 L882.5 433.9 L882.1 439 L881 444.3 L879.5 449.6 L877.3 455 L874.7 460.2 L871.5 465.2 L868 470 L864.1 474.3 L859.9 478.3 L855.5 481.7 L850.9 484.5 L846.3 486.8 L841.7 488.3 L837.1 489.2 L832.8 489.4 L828.7 488.9 L824.9 487.7 L821.5 485.9 L818.5 483.4 L816.1 480.3 L814.1 476.6 L812.7 472.5 L811.9 468 L811.7 463.1 L812.1 458 L813.2 452.7 L814.7 447.4 L816.9 442 L819.5 436.8 L822.7 431.8 L826.2 427 L830.1 422.7 L834.3 418.7 L838.7 415.3 L843.3 412.5 L847.9 410.2 L852.5 408.7 L857.1 407.8 L861.4 407.6 L865.5 408.1 L869.3 409.3Z"/></clipPath><g clip-path="url(#pc46)"><path d="M851 459.9 L850.2 485.9 L855.8 486.1 L856.6 460.1Z" fill="#fff" stroke="#000" stroke-width="1.5" /></g>
<clipPath id="pc47"><path d="M872.7 411.1 L875.7 413.6 L878.1 416.7 L880.1 420.4 L881.5 424.5 L882.3 429 L882.5 433.9 L882.1 439 L881 444.3 L879.5 449.6 L877.3 455 L874.7 460.2 L871.5 465.2 L868 470 L864.1 474.3 L859.9 478.3 L855.5 481.7 L850.9 484.5 L846.3 486.8 L841.7 488.3 L837.1 489.2 L832.8 489.4 L828.7 488.9 L824.9 487.7 L821.5 485.9 L818.5 483.4 L816.1 480.3 L814.1 476.6 L812.7 472.5 L811.9 468 L811.7 463.1 L812.1 458 L813.2 452.7 L814.7 447.4 L816.9 442 L819.5 436.8 L822.7 431.8 L826.2 427 L830.1 422.7 L834.3 418.7 L838.7 415.3 L843.3 412.5 L847.9 410.2 L852.5 408.7 L857.1 407.8 L861.4 407.6 L865.5 408.1 L869.3 409.3Z"/></clipPath><g clip-path="url(#pc47)"><path d="M846 454.7 L815.3 478.8 L818.7 483.2 L849.4 459.1Z" fill="#fff" stroke="#000" stroke-width="1.5" /></g>
<clipPath id="pc48"><path d="M872.7 411.1 L875.7 413.6 L878.1 416.7 L880.1 420.4 L881.5 424.5 L882.3 429 L882.5 433.9 L882.1 439 L881 444.3 L879.5 449.6 L877.3 455 L874.7 460.2 L871.5 465.2 L868 470 L864.1 474.3 L859.9 478.3 L855.5 481.7 L850.9 484.5 L846.3 486.8 L841.7 488.3 L837.1 489.2 L832.8 489.4 L828.7 488.9 L824.9 487.7 L821.5 485.9 L818.5 483.4 L816.1 480.3 L814.1 476.6 L812.7 472.5 L811.9 468 L811.7 463.1 L812.1 458 L813.2 452.7 L814.7 447.4 L816.9 442 L819.5 436.8 L822.7 431.8 L826.2 427 L830.1 422.7 L834.3 418.7 L838.7 415.3 L843.3 412.5 L847.9 410.2 L852.5 408.7 L857.1 407.8 L861.4 407.6 L865.5 408.1 L869.3 409.3Z"/></clipPath><g clip-path="url(#pc48)"><path d="M846.3 448.5 L811.3 445.2 L810.7 450.8 L845.8 454Z" fill="#fff" stroke="#000" stroke-width="1.5" /></g>
<circle cx="854" cy="452" r="10.5" fill="#fff"/>
<circle cx="854" cy="452" r="6.8" fill="#000"/>
<path d="M851 450 Q854 447 857 451 Q855 455 852 453" fill="none" stroke="#fff" stroke-width="1.2" />
<path d="M872.7 411.1 L875.7 413.6 L878.1 416.7 L880.1 420.4 L881.5 424.5 L882.3 429 L882.5 433.9 L882.1 439 L881 444.3 L879.5 449.6 L877.3 455 L874.7 460.2 L871.5 465.2 L868 470 L864.1 474.3 L859.9 478.3 L855.5 481.7 L850.9 484.5 L846.3 486.8 L841.7 488.3 L837.1 489.2 L832.8 489.4 L828.7 488.9 L824.9 487.7 L821.5 485.9 L818.5 483.4 L816.1 480.3 L814.1 476.6 L812.7 472.5 L811.9 468 L811.7 463.1 L812.1 458 L813.2 452.7 L814.7 447.4 L816.9 442 L819.5 436.8 L822.7 431.8 L826.2 427 L830.1 422.7 L834.3 418.7 L838.7 415.3 L843.3 412.5 L847.9 410.2 L852.5 408.7 L857.1 407.8 L861.4 407.6 L865.5 408.1 L869.3 409.3Z" fill="none" stroke="#000" stroke-width="1.9" />
<path d="M897 476 Q888 478 888 486 Q890 494 900 492 L903 489 Q894 490 893 485 Q893 480 899 479Z" fill="#fff" stroke="#000" stroke-width="1.6" />
<path d="M905 497.9 L905.1 496.3 L905.3 494.7 L905.8 493.1 L906.4 491.5 L907.1 490 L908.1 488.6 L909.1 487.3 L910.3 486.1 L911.6 485 L912.9 484.2 L914.3 483.5 L915.7 483 L917.1 482.8 L918.5 482.7 L919.8 482.8 L921.1 483.2 L922.3 483.7 L927.5 486.7 L928.6 487.5 L929.5 488.4 L930.3 489.5 L931 490.8 L931.4 492.1 L931.7 493.6 L931.8 495.1 L931.8 496.7 L931.5 498.3 L931 499.9 L930.4 501.5 L929.7 503 L928.7 504.4 L927.7 505.7 L926.5 506.9 L925.2 508 L923.9 508.8 L922.5 509.5 L921.1 510 L919.7 510.2 L918.3 510.3 L917 510.2 L915.7 509.8 L914.5 509.3 L909.3 506.3 L908.2 505.5 L907.3 504.6 L906.5 503.5 L905.8 502.2 L905.4 500.9 L905.1 499.4Z" fill="#fff" stroke="#000" stroke-width="1.7" />
<path d="M927.5 486.7 L928.6 487.5 L929.5 488.4 L930.3 489.5 L931 490.8 L931.4 492.1 L931.7 493.6 L931.8 495.1 L931.8 496.7 L931.5 498.3 L931 499.9 L930.4 501.5 L929.7 503 L928.7 504.4 L927.7 505.7 L926.5 506.9 L925.2 508 L923.9 508.8 L922.5 509.5 L921.1 510 L919.7 510.2 L918.3 510.3 L917 510.2 L915.7 509.8 L914.5 509.3 L913.4 508.5 L912.5 507.6 L911.7 506.5 L911 505.2 L910.6 503.9 L910.3 502.4 L910.2 500.9 L910.2 499.3 L910.5 497.7 L911 496.1 L911.6 494.5 L912.3 493 L913.3 491.6 L914.3 490.3 L915.5 489.1 L916.8 488 L918.1 487.2 L919.5 486.5 L920.9 486 L922.3 485.8 L923.7 485.7 L925 485.8 L926.3 486.2Z" fill="#fff" stroke="#000" stroke-width="1.7" />
<path d="M927.5 486.7 L928.6 487.5 L929.5 488.4 L930.3 489.5 L931 490.8 L931.4 492.1 L931.7 493.6 L931.8 495.1 L931.8 496.7 L931.5 498.3 L931 499.9 L930.4 501.5 L929.7 503 L928.7 504.4 L927.7 505.7 L926.5 506.9 L925.2 508 L923.9 508.8 L922.5 509.5 L921.1 510 L919.7 510.2 L918.3 510.3 L917 510.2 L915.7 509.8 L914.5 509.3 L913.4 508.5 L912.5 507.6 L911.7 506.5 L911 505.2 L910.6 503.9 L910.3 502.4 L910.2 500.9 L910.2 499.3 L910.5 497.7 L911 496.1 L911.6 494.5 L912.3 493 L913.3 491.6 L914.3 490.3 L915.5 489.1 L916.8 488 L918.1 487.2 L919.5 486.5 L920.9 486 L922.3 485.8 L923.7 485.7 L925 485.8 L926.3 486.2Z" fill="url(#dotR)" stroke="#000" stroke-width="1.4" />
<path d="M923 494.5 L923.3 494.8 L923.6 495 L923.8 495.4 L924 495.8 L924.2 496.2 L924.3 496.6 L924.3 497.1 L924.2 497.6 L924.2 498.1 L924 498.6 L923.8 499 L923.6 499.5 L923.3 499.9 L923 500.3 L922.6 500.7 L922.2 501 L921.8 501.3 L921.4 501.5 L921 501.7 L920.6 501.8 L920.1 501.8 L919.7 501.7 L919.4 501.6 L919 501.5 L918.7 501.2 L918.4 501 L918.2 500.6 L918 500.2 L917.8 499.8 L917.7 499.4 L917.7 498.9 L917.8 498.4 L917.8 497.9 L918 497.4 L918.2 497 L918.4 496.5 L918.7 496.1 L919 495.7 L919.4 495.3 L919.8 495 L920.2 494.7 L920.6 494.5 L921 494.3 L921.4 494.2 L921.9 494.2 L922.3 494.3 L922.6 494.4Z" fill="#fff" stroke="#000" stroke-width="1.2" />
<path d="M917.7 501 L917.8 500.4 L917.8 499.8 L918 499.2 L918.2 498.6 L918.5 498 L918.9 497.5 L919.3 496.9 L919.8 496.5 L920.2 496.1 L920.8 495.8 L921.3 495.5 L921.9 495.3 L922.4 495.2 L923 495.2 L923.5 495.3 L924 495.4 L924.5 495.7 L938.5 502.7 L938.9 503 L939.3 503.3 L939.6 503.8 L939.9 504.2 L940.1 504.8 L940.2 505.4 L940.3 506 L940.2 506.6 L940.2 507.2 L940 507.8 L939.8 508.4 L939.5 509 L939.1 509.5 L938.7 510.1 L938.2 510.5 L937.8 510.9 L937.2 511.2 L936.7 511.5 L936.1 511.7 L935.6 511.8 L935 511.8 L934.5 511.7 L934 511.6 L933.5 511.3 L919.5 504.3 L919.1 504 L918.7 503.7 L918.4 503.2 L918.1 502.8 L917.9 502.2 L917.8 501.6Z" fill="#fff" stroke="#000" stroke-width="1.8" />
<path d="M938.5 502.7 L938.9 503 L939.3 503.3 L939.6 503.8 L939.9 504.2 L940.1 504.8 L940.2 505.4 L940.3 506 L940.2 506.6 L940.2 507.2 L940 507.8 L939.8 508.4 L939.5 509 L939.1 509.5 L938.7 510.1 L938.2 510.5 L937.8 510.9 L937.2 511.2 L936.7 511.5 L936.1 511.7 L935.6 511.8 L935 511.8 L934.5 511.7 L934 511.6 L933.5 511.3 L933.1 511 L932.7 510.7 L932.4 510.2 L932.1 509.8 L931.9 509.2 L931.8 508.6 L931.7 508 L931.8 507.4 L931.8 506.8 L932 506.2 L932.2 505.6 L932.5 505 L932.9 504.5 L933.3 503.9 L933.8 503.5 L934.2 503.1 L934.8 502.8 L935.3 502.5 L935.9 502.3 L936.4 502.2 L937 502.2 L937.5 502.3 L938 502.4Z" fill="#fff" stroke="#000" stroke-width="1.8" />
<path d="M920.8 510.5 L920.8 508.3 L921.1 506 L921.7 503.8 L922.5 501.6 L923.5 499.5 L924.8 497.5 L926.3 495.7 L928 494.1 L929.8 492.7 L931.7 491.6 L933.7 490.7 L935.8 490.1 L937.8 489.8 L939.9 489.7 L941.9 490 L943.8 490.6 L945.5 491.4 L949 493.4 L950.6 494.5 L952.1 495.9 L953.3 497.5 L954.3 499.2 L955 501.2 L955.5 503.3 L955.8 505.5 L955.8 507.7 L955.4 510 L954.9 512.2 L954.1 514.4 L953 516.5 L951.7 518.5 L950.2 520.3 L948.6 521.9 L946.8 523.3 L944.8 524.4 L942.8 525.3 L940.8 525.9 L938.7 526.2 L936.7 526.3 L934.7 526 L932.8 525.4 L931 524.6 L927.5 522.6 L925.9 521.5 L924.5 520.1 L923.2 518.5 L922.2 516.8 L921.5 514.8 L921 512.7Z" fill="#fff" stroke="#000" stroke-width="1.7" />
<path d="M949 493.4 L950.6 494.5 L952.1 495.9 L953.3 497.5 L954.3 499.2 L955 501.2 L955.5 503.3 L955.8 505.5 L955.8 507.7 L955.4 510 L954.9 512.2 L954.1 514.4 L953 516.5 L951.7 518.5 L950.2 520.3 L948.6 521.9 L946.8 523.3 L944.8 524.4 L942.8 525.3 L940.8 525.9 L938.7 526.2 L936.7 526.3 L934.7 526 L932.8 525.4 L931 524.6 L929.4 523.5 L927.9 522.1 L926.7 520.5 L925.7 518.8 L925 516.8 L924.5 514.7 L924.2 512.5 L924.2 510.3 L924.6 508 L925.1 505.8 L925.9 503.6 L927 501.5 L928.3 499.5 L929.8 497.7 L931.4 496.1 L933.2 494.7 L935.2 493.6 L937.2 492.7 L939.2 492.1 L941.3 491.8 L943.3 491.7 L945.3 492 L947.2 492.6Z" fill="#fff" stroke="#000" stroke-width="1.7" />
<path d="M944 503 Q947 507 945 512" fill="none" stroke="#000" stroke-width="1.2" />
<path d="M240 67 L230 76" fill="none" stroke="#000" stroke-width="1.4"/>
<path d="M293 98 L278 107" fill="none" stroke="#000" stroke-width="1.4"/>
<path d="M342.5 127.5 L325 141" fill="none" stroke="#000" stroke-width="1.4"/>
<path d="M457.5 132.5 L450 140" fill="none" stroke="#000" stroke-width="1.4"/>
<path d="M178 156 L186 157" fill="none" stroke="#000" stroke-width="1.4"/>
<path d="M212 193 L226 178" fill="none" stroke="#000" stroke-width="1.4"/>
<path d="M212 193 L222 196" fill="none" stroke="#000" stroke-width="1.4"/>
<path d="M304 202 L325 172" fill="none" stroke="#000" stroke-width="1.4"/>
<path d="M622.5 186 L640 164" fill="none" stroke="#000" stroke-width="1.4"/>
<path d="M541 211 L524.6 240" fill="none" stroke="#000" stroke-width="1.4"/>
<path d="M630 228 L618 246.6" fill="none" stroke="#000" stroke-width="1.4"/>
<path d="M769 154 L754 136" fill="none" stroke="#000" stroke-width="1.4"/>
<path d="M769 154 L752 162" fill="none" stroke="#000" stroke-width="1.4"/>
<path d="M823 153.5 L875 152.3" fill="none" stroke="#000" stroke-width="1.4"/>
<path d="M716 249 L722.5 244" fill="none" stroke="#000" stroke-width="1.4"/>
<path d="M823 237 L851 235" fill="none" stroke="#000" stroke-width="1.4"/>
<path d="M948.4 276.4 L907.6 251.2" fill="none" stroke="#000" stroke-width="1.4"/>
<path d="M131 248.8 L131 258.4" fill="none" stroke="#000" stroke-width="1.4"/>
<path d="M236.7 300 L232.9 310.6" fill="none" stroke="#000" stroke-width="1.4"/>
<path d="M134.8 310.6 L150.8 302" fill="none" stroke="#000" stroke-width="1.4"/>
<path d="M458 319.5 L458.2 303.5" fill="none" stroke="#000" stroke-width="1.4"/>
<path d="M675.6 298 L654 327" fill="none" stroke="#000" stroke-width="1.4"/>
<path d="M318.6 335.6 L314 343" fill="none" stroke="#000" stroke-width="1.4"/>
<path d="M780 336 L750 378" fill="none" stroke="#000" stroke-width="1.4"/>
<path d="M803.5 352.5 L766 387" fill="none" stroke="#000" stroke-width="1.4"/>
<path d="M890.8 365 L880.6 379.6" fill="none" stroke="#000" stroke-width="1.4"/>
<path d="M227.5 361 L237 363" fill="none" stroke="#000" stroke-width="1.4"/>
<path d="M383 376 L373 390" fill="none" stroke="#000" stroke-width="1.4"/>
<path d="M598 372 L608.6 348" fill="none" stroke="#000" stroke-width="1.4"/>
<path d="M611 398 L640 373" fill="none" stroke="#000" stroke-width="1.4"/>
<path d="M310 414 L325 405" fill="none" stroke="#000" stroke-width="1.4"/>
<path d="M509 432 L484 448" fill="none" stroke="#000" stroke-width="1.4"/>
<path d="M525 454 L503 461.6" fill="none" stroke="#000" stroke-width="1.4"/>
<path d="M94.8 425 L102 441" fill="none" stroke="#000" stroke-width="1.4"/>
<path d="M657 435 L667 420" fill="none" stroke="#000" stroke-width="1.4"/>
<path d="M910 460 L900.5 473" fill="none" stroke="#000" stroke-width="1.4"/>
<path d="M741.3 452.9 L763.3 426.5" fill="none" stroke="#000" stroke-width="1.4"/>
<path d="M528 471.8 L517.7 476" fill="none" stroke="#000" stroke-width="1.4"/>
<path d="M101.5 487 L119.7 476.8" fill="none" stroke="#000" stroke-width="1.4"/>
<path d="M265.7 491 L257.5 502.6" fill="none" stroke="#000" stroke-width="1.4"/>
<path d="M751.6 485 L783.8 433.8" fill="none" stroke="#000" stroke-width="1.4"/>
<path d="M349 513.5 L363 490" fill="none" stroke="#000" stroke-width="1.4"/>
<path d="M503 532 L517.7 517" fill="none" stroke="#000" stroke-width="1.4"/>
<path d="M119.7 527.5 L140 510" fill="none" stroke="#000" stroke-width="1.4"/>
<path d="M181 552 L191.5 526" fill="none" stroke="#000" stroke-width="1.4"/>
<path d="M915.7 532 L932.7 516" fill="none" stroke="#000" stroke-width="1.4"/>
<path d="M509 555.4 L532 545" fill="none" stroke="#000" stroke-width="1.4"/>
<path d="M225 574.4 L254.5 559.8" fill="none" stroke="#000" stroke-width="1.4"/>
<path d="M270.7 592 L285 581.8" fill="none" stroke="#000" stroke-width="1.4"/>
<path d="M548 610.8 L557 599" fill="none" stroke="#000" stroke-width="1.4"/>
<path d="M326 634 L351 605" fill="none" stroke="#000" stroke-width="1.4"/>
<path d="M412 676.8 L431.7 655.3" fill="none" stroke="#000" stroke-width="1.4"/>
<path d="M522.5 675.8 L494.4 666.9" fill="none" stroke="#000" stroke-width="1.4"/>
<rect x="153" y="183" width="59.4" height="21.4" fill="#f4df0c"/>
<text x="225" y="63">A8072</text>
<text x="278" y="95">A8061</text>
<text x="327" y="124.5">A8057</text>
<text x="446" y="128">A8060</text>
<text x="126.6" y="158.5">A8077</text>
<text x="157.6" y="200">A8058</text>
<text x="272.8" y="217">A8053</text>
<text x="587" y="200">A8065</text>
<text x="527.8" y="207">A8074</text>
<text x="616" y="226">A8044</text>
<text x="769" y="159.4">A8063</text>
<text x="656.5" y="251.5">A8043</text>
<text x="767.4" y="242.8">A8121</text>
<text x="926.3" y="290.8">A8122</text>
<text x="98.6" y="243.7">A8056</text>
<text x="218" y="296">A8115</text>
<text x="107.8" y="325.8">A8071</text>
<text x="437.3" y="333.5">A8081</text>
<text x="658.4" y="296.4">A8072</text>
<text x="307" y="331">A8051</text>
<text x="762.5" y="333.8">A8068</text>
<text x="787" y="350.3">A8052</text>
<text x="873" y="362">A8045</text>
<text x="173.9" y="368.5">A8117</text>
<text x="368.4" y="373">A8116</text>
<text x="554" y="386.6">A8059</text>
<text x="592.8" y="411.8">A8069</text>
<text x="284" y="429">A8073</text>
<text x="508.5" y="429.6">A8073</text>
<text x="527" y="455.4">A8078</text>
<text x="74" y="422.8">A8052</text>
<text x="629.6" y="448.6">A8122</text>
<text x="897.7" y="456">A8080</text>
<text x="699" y="467.8">A8064</text>
<text x="530" y="478">A8120</text>
<text x="914" y="478">A8055</text>
<text x="50.7" y="491.7">A8070</text>
<text x="249.7" y="488.8">A8050</text>
<text x="725.6" y="500">A8079</text>
<text x="316.8" y="529.3">A8118</text>
<text x="466.8" y="545.4">A8119</text>
<text x="22.5" y="544">A8311&#160;12&#160;Zhg.</text>
<text x="22.5" y="564">A8312&#160;13&#160;Zhg.</text>
<text x="161.8" y="567.4">A8041</text>
<text x="889" y="547">A8066</text>
<text x="477" y="571.6">A8076</text>
<text x="659" y="568">A8068</text>
<text x="190" y="586.4">A8072</text>
<text x="234.5" y="607">A8046</text>
<text x="519.8" y="626.7">A8048</text>
<text x="641" y="622.7">A8052</text>
<text x="294.7" y="646">A8039</text>
<text x="378" y="690.4">A8071</text>
<text x="523" y="682">A8056</text>
</svg>
</body></html>
